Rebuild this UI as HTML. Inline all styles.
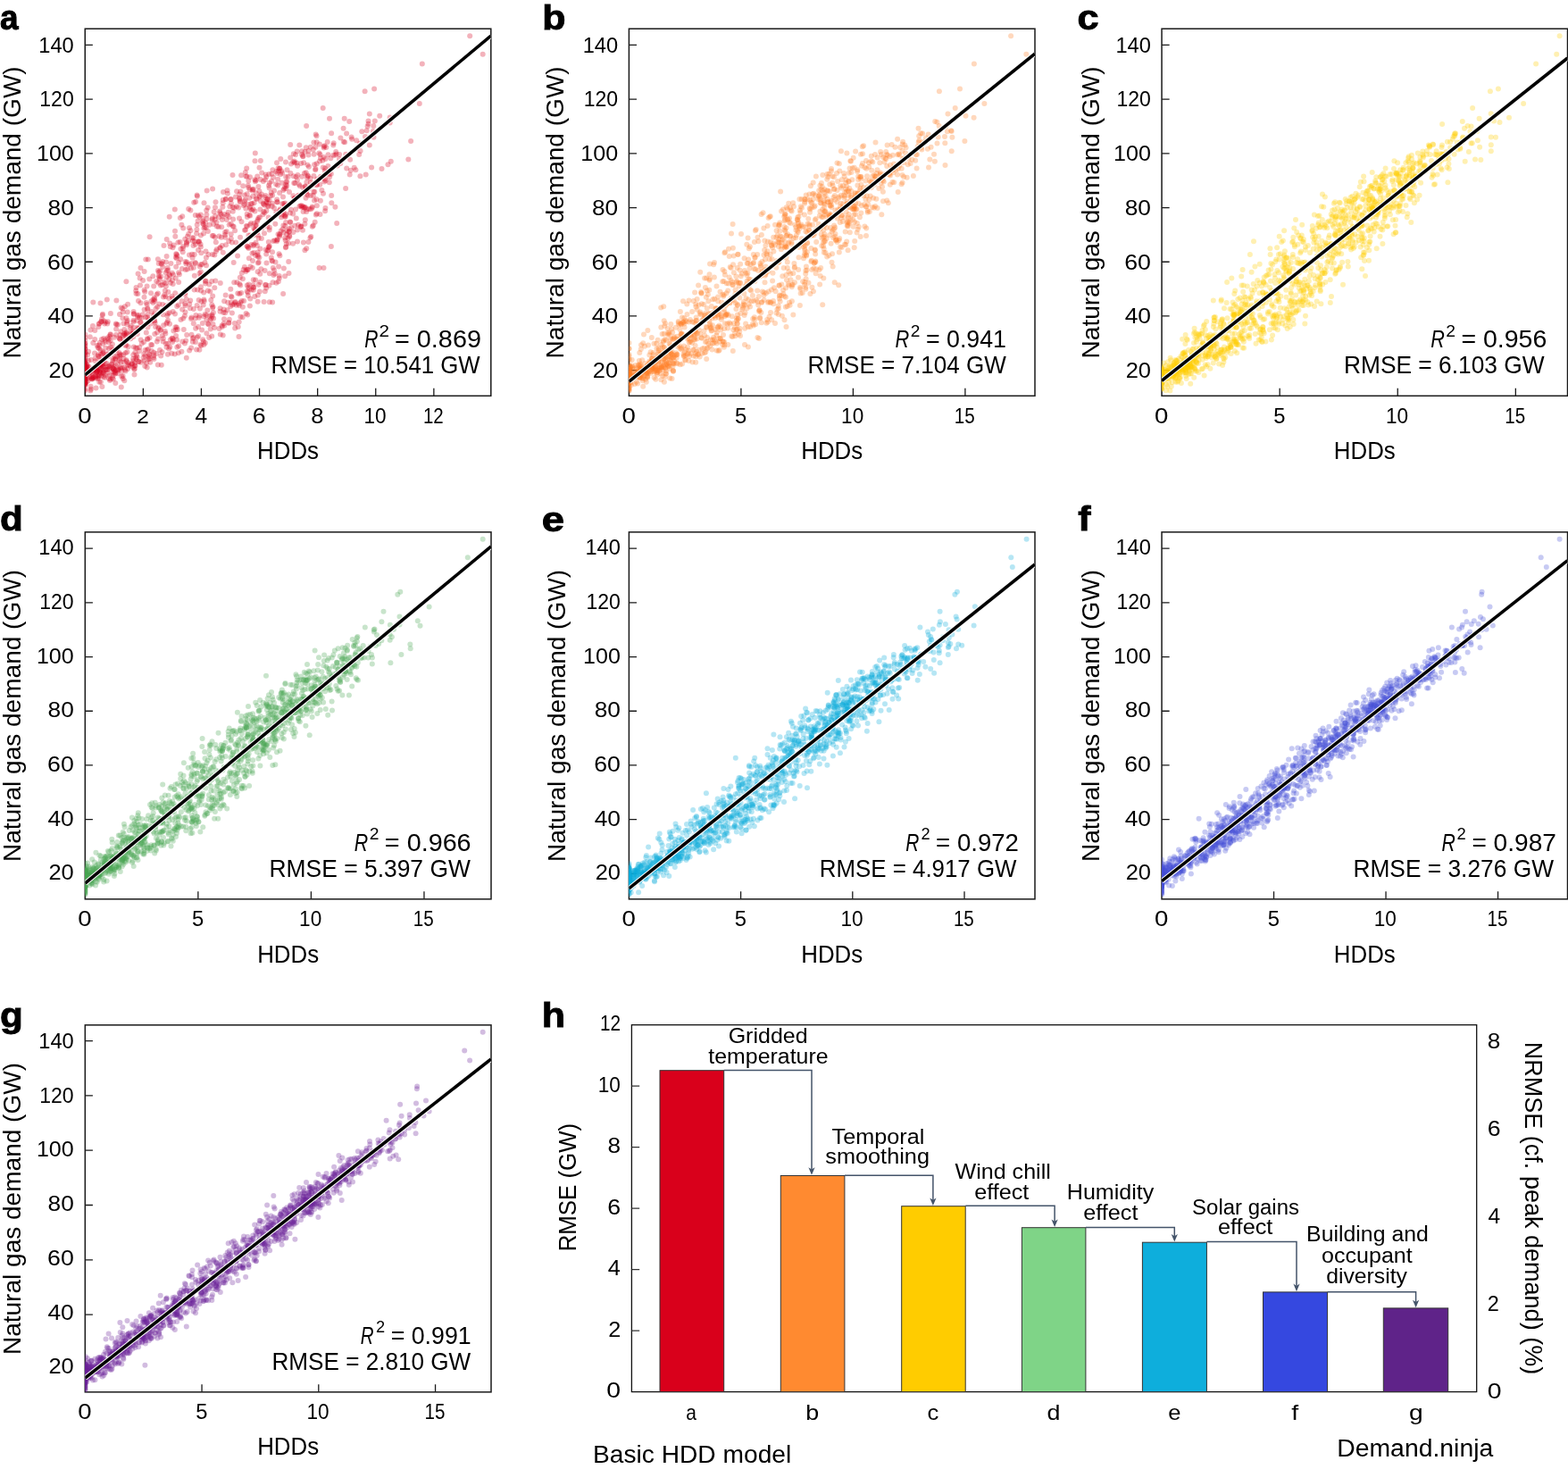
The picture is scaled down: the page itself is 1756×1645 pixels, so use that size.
<!DOCTYPE html>
<html lang="en"><head><meta charset="utf-8"><title>HDD model comparison</title><style>html,body{margin:0;padding:0;background:#fff}svg{display:block}</style></head><body>
<svg width="1756" height="1645" viewBox="0 0 1756 1645" font-family='"Liberation Sans", Arial, Helvetica, sans-serif' fill="#000">
<style>circle{r:3px}</style>
<rect width="1756" height="1645" fill="#fff"/>
<g stroke="#1a1a1a" stroke-width="1.5" fill="none">
<rect x="95.25" y="32.2" width="454.55" height="411.1"/>
<path d="M95.25 414.65h8.6M95.25 353.95h8.6M95.25 293.25h8.6M95.25 232.55h8.6M95.25 171.85h8.6M95.25 111.15h8.6M95.25 50.45h8.6M160.35 443.3v-8.6M225.45 443.3v-8.6M290.55 443.3v-8.6M355.65 443.3v-8.6M420.75 443.3v-8.6M485.85 443.3v-8.6" stroke-width="1.3"/>
</g>
<text transform="translate(54.48 423.02) scale(1.1071 1)" font-size="23">20</text>
<text transform="translate(53.49 362.3) scale(1.1470 1)" font-size="23">40</text>
<text transform="translate(53.11 301.58) scale(1.1622 1)" font-size="23">60</text>
<text transform="translate(53.57 240.86) scale(1.1439 1)" font-size="23">80</text>
<text transform="translate(40.97 180.14) scale(1.0905 1)" font-size="23">100</text>
<text transform="translate(44.32 119.42) scale(1.0010 1)" font-size="23">120</text>
<text transform="translate(43.28 58.7) scale(1.0289 1)" font-size="23">140</text>
<text transform="translate(87.3 473.6) scale(1.1991 1)" font-size="23">0</text>
<text transform="translate(153.28 473.6) scale(1.0607 1)" font-size="23">2</text>
<text transform="translate(218.38 473.6) scale(1.0696 1)" font-size="23">4</text>
<text transform="translate(282.76 473.6) scale(1.1626 1)" font-size="23">6</text>
<text transform="translate(348.2 473.6) scale(1.1101 1)" font-size="23">8</text>
<text transform="translate(407.45 473.6) scale(0.9826 1)" font-size="23">10</text>
<text transform="translate(473.91 473.6) scale(0.8916 1)" font-size="23">12</text>
<text transform="translate(288.05 513.5) scale(0.9481 1)" font-size="27.3">HDDs</text>
<text transform="translate(23.1 401.44) rotate(-90) scale(1.0274 1)" font-size="27.3">Natural gas demand (GW)</text>
<text transform="translate(-0.06 32.8) scale(0.9732 1)" font-size="38" font-weight="700" stroke="#000" stroke-width="0.9">a</text>
<clipPath id="c0"><rect x="95.25" y="32.2" width="454.55" height="411.1"/></clipPath>
<g clip-path="url(#c0)"><g fill="#d7001f" fill-opacity="0.3">
<circle cx="364.6" cy="202.3" r="3"/><circle cx="347.9" cy="204.4" r="3"/><circle cx="330.4" cy="205.0" r="3"/><circle cx="313.1" cy="215.9" r="3"/><circle cx="330.2" cy="222.0" r="3"/><circle cx="300.6" cy="231.2" r="3"/><circle cx="298.5" cy="226.9" r="3"/><circle cx="358.5" cy="172.9" r="3"/><circle cx="315.5" cy="204.7" r="3"/><circle cx="301.6" cy="210.6" r="3"/><circle cx="278.3" cy="210.0" r="3"/><circle cx="328.7" cy="197.2" r="3"/><circle cx="361.3" cy="179.8" r="3"/><circle cx="291.2" cy="219.4" r="3"/><circle cx="341.9" cy="209.3" r="3"/><circle cx="351.4" cy="197.1" r="3"/><circle cx="324.9" cy="238.6" r="3"/><circle cx="319.8" cy="242.2" r="3"/><circle cx="282.4" cy="283.7" r="3"/><circle cx="307.0" cy="302.4" r="3"/><circle cx="298.2" cy="322.5" r="3"/><circle cx="319.1" cy="309.2" r="3"/><circle cx="288.9" cy="330.4" r="3"/><circle cx="306.4" cy="307.9" r="3"/><circle cx="284.2" cy="283.0" r="3"/><circle cx="300.3" cy="280.2" r="3"/><circle cx="240.3" cy="322.2" r="3"/><circle cx="270.8" cy="305.7" r="3"/><circle cx="272.6" cy="302.1" r="3"/><circle cx="283.0" cy="291.9" r="3"/><circle cx="268.2" cy="318.1" r="3"/><circle cx="289.6" cy="318.8" r="3"/><circle cx="270.1" cy="327.9" r="3"/><circle cx="258.8" cy="331.8" r="3"/><circle cx="288.8" cy="287.5" r="3"/><circle cx="273.9" cy="298.9" r="3"/><circle cx="305.0" cy="282.3" r="3"/><circle cx="321.2" cy="262.2" r="3"/><circle cx="323.2" cy="272.6" r="3"/><circle cx="343.2" cy="278.3" r="3"/><circle cx="337.5" cy="253.5" r="3"/><circle cx="339.0" cy="257.8" r="3"/><circle cx="320.2" cy="276.6" r="3"/><circle cx="276.4" cy="275.5" r="3"/><circle cx="313.2" cy="235.4" r="3"/><circle cx="286.2" cy="285.9" r="3"/><circle cx="293.4" cy="255.4" r="3"/><circle cx="294.4" cy="240.2" r="3"/><circle cx="249.8" cy="282.8" r="3"/><circle cx="328.4" cy="219.3" r="3"/><circle cx="320.2" cy="206.7" r="3"/><circle cx="299.3" cy="253.4" r="3"/><circle cx="330.3" cy="252.7" r="3"/><circle cx="354.8" cy="239.3" r="3"/><circle cx="311.5" cy="262.3" r="3"/><circle cx="315.0" cy="243.3" r="3"/><circle cx="287.9" cy="260.3" r="3"/><circle cx="325.3" cy="249.0" r="3"/><circle cx="354.4" cy="223.3" r="3"/><circle cx="352.7" cy="248.8" r="3"/><circle cx="377.2" cy="250.1" r="3"/><circle cx="347.4" cy="266.3" r="3"/><circle cx="299.4" cy="280.5" r="3"/><circle cx="278.9" cy="289.2" r="3"/><circle cx="291.3" cy="306.7" r="3"/><circle cx="268.8" cy="310.8" r="3"/><circle cx="298.5" cy="294.5" r="3"/><circle cx="310.4" cy="268.4" r="3"/><circle cx="277.8" cy="302.1" r="3"/><circle cx="278.1" cy="321.9" r="3"/><circle cx="297.6" cy="318.8" r="3"/><circle cx="252.2" cy="350.2" r="3"/><circle cx="267.3" cy="340.2" r="3"/><circle cx="245.5" cy="367.9" r="3"/><circle cx="283.8" cy="313.3" r="3"/><circle cx="296.6" cy="303.0" r="3"/><circle cx="278.6" cy="318.4" r="3"/><circle cx="297.1" cy="319.2" r="3"/><circle cx="258.1" cy="343.1" r="3"/><circle cx="312.1" cy="298.6" r="3"/><circle cx="307.8" cy="306.6" r="3"/><circle cx="317.1" cy="329.1" r="3"/><circle cx="283.8" cy="324.7" r="3"/><circle cx="277.7" cy="327.6" r="3"/><circle cx="258.9" cy="338.7" r="3"/><circle cx="277.2" cy="352.4" r="3"/><circle cx="248.7" cy="365.9" r="3"/><circle cx="256.1" cy="361.3" r="3"/><circle cx="246.6" cy="345.3" r="3"/><circle cx="301.4" cy="319.8" r="3"/><circle cx="277.8" cy="331.1" r="3"/><circle cx="251.1" cy="337.2" r="3"/><circle cx="280.2" cy="334.4" r="3"/><circle cx="283.9" cy="321.8" r="3"/><circle cx="296.8" cy="326.2" r="3"/><circle cx="301.9" cy="306.3" r="3"/><circle cx="238.5" cy="363.0" r="3"/><circle cx="222.9" cy="355.8" r="3"/><circle cx="194.1" cy="380.5" r="3"/><circle cx="132.0" cy="418.3" r="3"/><circle cx="111.9" cy="408.3" r="3"/><circle cx="135.4" cy="405.5" r="3"/><circle cx="101.3" cy="437.6" r="3"/><circle cx="239.1" cy="356.6" r="3"/><circle cx="198.9" cy="368.9" r="3"/><circle cx="185.9" cy="384.8" r="3"/><circle cx="193.1" cy="382.9" r="3"/><circle cx="197.0" cy="369.3" r="3"/><circle cx="209.2" cy="375.1" r="3"/><circle cx="207.0" cy="384.4" r="3"/><circle cx="238.9" cy="350.0" r="3"/><circle cx="237.6" cy="354.3" r="3"/><circle cx="189.2" cy="390.6" r="3"/><circle cx="200.1" cy="387.6" r="3"/><circle cx="220.8" cy="377.7" r="3"/><circle cx="149.2" cy="404.2" r="3"/><circle cx="135.4" cy="397.4" r="3"/><circle cx="95.2" cy="421.9" r="3"/><circle cx="169.1" cy="386.1" r="3"/><circle cx="156.1" cy="393.0" r="3"/><circle cx="151.9" cy="389.5" r="3"/><circle cx="164.8" cy="391.8" r="3"/><circle cx="172.2" cy="397.9" r="3"/><circle cx="112.2" cy="414.4" r="3"/><circle cx="126.4" cy="416.2" r="3"/><circle cx="155.3" cy="405.0" r="3"/><circle cx="126.6" cy="420.6" r="3"/><circle cx="162.5" cy="398.5" r="3"/><circle cx="136.8" cy="411.7" r="3"/><circle cx="108.0" cy="417.1" r="3"/><circle cx="162.3" cy="410.1" r="3"/><circle cx="115.9" cy="416.9" r="3"/><circle cx="115.3" cy="418.1" r="3"/><circle cx="141.4" cy="403.3" r="3"/><circle cx="99.3" cy="414.2" r="3"/><circle cx="188.0" cy="384.9" r="3"/><circle cx="146.3" cy="379.3" r="3"/><circle cx="126.5" cy="391.6" r="3"/><circle cx="111.1" cy="399.3" r="3"/><circle cx="103.9" cy="414.4" r="3"/><circle cx="162.5" cy="391.9" r="3"/><circle cx="131.0" cy="399.0" r="3"/><circle cx="152.8" cy="402.4" r="3"/><circle cx="95.2" cy="423.5" r="3"/><circle cx="142.8" cy="408.9" r="3"/><circle cx="95.2" cy="420.7" r="3"/><circle cx="115.2" cy="410.5" r="3"/><circle cx="141.7" cy="404.6" r="3"/><circle cx="121.2" cy="396.5" r="3"/><circle cx="138.2" cy="397.2" r="3"/><circle cx="133.7" cy="398.4" r="3"/><circle cx="132.7" cy="413.8" r="3"/><circle cx="95.2" cy="424.3" r="3"/><circle cx="96.7" cy="418.5" r="3"/><circle cx="95.2" cy="407.0" r="3"/><circle cx="95.8" cy="430.1" r="3"/><circle cx="121.9" cy="424.1" r="3"/><circle cx="129.3" cy="428.9" r="3"/><circle cx="103.6" cy="423.2" r="3"/><circle cx="95.2" cy="419.5" r="3"/><circle cx="96.0" cy="415.9" r="3"/><circle cx="118.1" cy="414.0" r="3"/><circle cx="113.2" cy="396.8" r="3"/><circle cx="108.9" cy="415.8" r="3"/><circle cx="115.4" cy="394.0" r="3"/><circle cx="108.8" cy="415.1" r="3"/><circle cx="126.3" cy="412.3" r="3"/><circle cx="112.8" cy="408.0" r="3"/><circle cx="95.2" cy="431.1" r="3"/><circle cx="136.2" cy="421.5" r="3"/><circle cx="140.7" cy="415.5" r="3"/><circle cx="95.2" cy="410.8" r="3"/><circle cx="104.7" cy="422.7" r="3"/><circle cx="110.1" cy="398.7" r="3"/><circle cx="95.2" cy="423.3" r="3"/><circle cx="132.0" cy="413.2" r="3"/><circle cx="109.3" cy="424.0" r="3"/><circle cx="95.2" cy="418.7" r="3"/><circle cx="95.2" cy="417.0" r="3"/><circle cx="96.8" cy="417.7" r="3"/><circle cx="95.2" cy="421.2" r="3"/><circle cx="98.6" cy="426.6" r="3"/><circle cx="122.1" cy="390.2" r="3"/><circle cx="105.4" cy="412.2" r="3"/><circle cx="95.2" cy="413.7" r="3"/><circle cx="113.2" cy="409.2" r="3"/><circle cx="106.2" cy="379.9" r="3"/><circle cx="117.2" cy="362.4" r="3"/><circle cx="120.2" cy="362.4" r="3"/><circle cx="101.5" cy="369.5" r="3"/><circle cx="95.2" cy="406.5" r="3"/><circle cx="134.3" cy="379.4" r="3"/><circle cx="110.3" cy="365.9" r="3"/><circle cx="147.0" cy="371.7" r="3"/><circle cx="140.5" cy="375.6" r="3"/><circle cx="187.3" cy="353.4" r="3"/><circle cx="182.2" cy="341.0" r="3"/><circle cx="184.3" cy="330.3" r="3"/><circle cx="146.7" cy="365.0" r="3"/><circle cx="246.8" cy="316.9" r="3"/><circle cx="165.5" cy="366.6" r="3"/><circle cx="173.3" cy="351.0" r="3"/><circle cx="212.9" cy="345.3" r="3"/><circle cx="183.0" cy="332.6" r="3"/><circle cx="214.4" cy="295.0" r="3"/><circle cx="230.9" cy="288.5" r="3"/><circle cx="185.4" cy="332.3" r="3"/><circle cx="148.8" cy="373.5" r="3"/><circle cx="158.6" cy="355.9" r="3"/><circle cx="125.9" cy="385.6" r="3"/><circle cx="141.1" cy="385.9" r="3"/><circle cx="177.2" cy="366.4" r="3"/><circle cx="112.2" cy="403.1" r="3"/><circle cx="129.4" cy="409.1" r="3"/><circle cx="103.0" cy="417.9" r="3"/><circle cx="126.6" cy="401.8" r="3"/><circle cx="119.4" cy="406.9" r="3"/><circle cx="95.2" cy="403.2" r="3"/><circle cx="95.2" cy="405.9" r="3"/><circle cx="102.3" cy="423.9" r="3"/><circle cx="95.3" cy="428.3" r="3"/><circle cx="95.2" cy="418.7" r="3"/><circle cx="121.6" cy="412.9" r="3"/><circle cx="101.2" cy="416.4" r="3"/><circle cx="95.2" cy="416.8" r="3"/><circle cx="112.6" cy="392.0" r="3"/><circle cx="117.7" cy="419.9" r="3"/><circle cx="106.8" cy="404.2" r="3"/><circle cx="95.2" cy="425.3" r="3"/><circle cx="120.8" cy="417.8" r="3"/><circle cx="98.6" cy="411.2" r="3"/><circle cx="111.2" cy="427.7" r="3"/><circle cx="106.6" cy="401.3" r="3"/><circle cx="113.9" cy="380.1" r="3"/><circle cx="172.2" cy="320.4" r="3"/><circle cx="165.6" cy="352.1" r="3"/><circle cx="196.2" cy="328.2" r="3"/><circle cx="199.9" cy="341.4" r="3"/><circle cx="207.2" cy="340.2" r="3"/><circle cx="146.9" cy="373.7" r="3"/><circle cx="155.3" cy="368.0" r="3"/><circle cx="172.8" cy="358.9" r="3"/><circle cx="208.7" cy="335.1" r="3"/><circle cx="164.6" cy="341.0" r="3"/><circle cx="165.3" cy="346.6" r="3"/><circle cx="190.2" cy="308.3" r="3"/><circle cx="192.9" cy="305.7" r="3"/><circle cx="157.4" cy="361.4" r="3"/><circle cx="142.1" cy="362.9" r="3"/><circle cx="101.9" cy="403.1" r="3"/><circle cx="95.2" cy="409.4" r="3"/><circle cx="95.2" cy="412.2" r="3"/><circle cx="117.9" cy="382.9" r="3"/><circle cx="154.1" cy="355.0" r="3"/><circle cx="130.0" cy="374.9" r="3"/><circle cx="121.8" cy="379.7" r="3"/><circle cx="185.7" cy="342.2" r="3"/><circle cx="221.2" cy="324.5" r="3"/><circle cx="217.8" cy="308.8" r="3"/><circle cx="193.7" cy="317.9" r="3"/><circle cx="223.8" cy="298.4" r="3"/><circle cx="193.5" cy="277.3" r="3"/><circle cx="196.3" cy="264.8" r="3"/><circle cx="204.9" cy="278.3" r="3"/><circle cx="163.3" cy="290.5" r="3"/><circle cx="217.9" cy="270.4" r="3"/><circle cx="219.1" cy="294.9" r="3"/><circle cx="252.1" cy="260.0" r="3"/><circle cx="189.4" cy="307.2" r="3"/><circle cx="217.7" cy="285.0" r="3"/><circle cx="197.7" cy="289.2" r="3"/><circle cx="185.6" cy="305.2" r="3"/><circle cx="219.0" cy="273.8" r="3"/><circle cx="252.9" cy="223.0" r="3"/><circle cx="253.9" cy="246.1" r="3"/><circle cx="249.7" cy="223.9" r="3"/><circle cx="260.7" cy="232.1" r="3"/><circle cx="226.2" cy="296.0" r="3"/><circle cx="224.9" cy="263.4" r="3"/><circle cx="222.0" cy="280.0" r="3"/><circle cx="190.2" cy="272.4" r="3"/><circle cx="165.8" cy="290.6" r="3"/><circle cx="209.2" cy="293.6" r="3"/><circle cx="216.5" cy="274.9" r="3"/><circle cx="246.2" cy="236.4" r="3"/><circle cx="201.8" cy="244.1" r="3"/><circle cx="220.7" cy="251.7" r="3"/><circle cx="288.2" cy="197.4" r="3"/><circle cx="268.2" cy="217.6" r="3"/><circle cx="257.3" cy="231.3" r="3"/><circle cx="241.8" cy="271.2" r="3"/><circle cx="251.4" cy="240.1" r="3"/><circle cx="282.7" cy="213.5" r="3"/><circle cx="301.9" cy="205.0" r="3"/><circle cx="275.4" cy="197.4" r="3"/><circle cx="290.5" cy="187.8" r="3"/><circle cx="296.9" cy="201.3" r="3"/><circle cx="325.4" cy="194.1" r="3"/><circle cx="292.9" cy="217.6" r="3"/><circle cx="299.8" cy="223.2" r="3"/><circle cx="358.0" cy="180.5" r="3"/><circle cx="338.1" cy="169.2" r="3"/><circle cx="311.5" cy="188.3" r="3"/><circle cx="283.3" cy="219.7" r="3"/><circle cx="268.9" cy="226.2" r="3"/><circle cx="328.3" cy="181.5" r="3"/><circle cx="313.1" cy="188.7" r="3"/><circle cx="270.1" cy="196.3" r="3"/><circle cx="280.0" cy="198.2" r="3"/><circle cx="262.3" cy="232.7" r="3"/><circle cx="276.7" cy="239.7" r="3"/><circle cx="283.9" cy="212.0" r="3"/><circle cx="273.9" cy="225.3" r="3"/><circle cx="268.3" cy="222.9" r="3"/><circle cx="294.8" cy="227.7" r="3"/><circle cx="303.7" cy="215.7" r="3"/><circle cx="261.7" cy="253.8" r="3"/><circle cx="240.7" cy="265.7" r="3"/><circle cx="239.0" cy="264.1" r="3"/><circle cx="272.7" cy="229.9" r="3"/><circle cx="237.5" cy="246.1" r="3"/><circle cx="268.2" cy="221.7" r="3"/><circle cx="340.9" cy="194.0" r="3"/><circle cx="335.8" cy="208.2" r="3"/><circle cx="318.2" cy="211.5" r="3"/><circle cx="297.4" cy="219.1" r="3"/><circle cx="310.4" cy="226.3" r="3"/><circle cx="319.2" cy="227.6" r="3"/><circle cx="301.6" cy="223.8" r="3"/><circle cx="351.7" cy="172.8" r="3"/><circle cx="316.1" cy="193.8" r="3"/><circle cx="294.8" cy="202.9" r="3"/><circle cx="273.8" cy="228.8" r="3"/><circle cx="307.0" cy="213.6" r="3"/><circle cx="260.8" cy="236.7" r="3"/><circle cx="224.6" cy="273.6" r="3"/><circle cx="254.5" cy="213.3" r="3"/><circle cx="237.8" cy="244.4" r="3"/><circle cx="279.7" cy="212.2" r="3"/><circle cx="347.8" cy="164.8" r="3"/><circle cx="341.5" cy="169.9" r="3"/><circle cx="376.7" cy="172.5" r="3"/><circle cx="405.3" cy="147.3" r="3"/><circle cx="373.3" cy="162.6" r="3"/><circle cx="320.2" cy="197.9" r="3"/><circle cx="344.5" cy="184.7" r="3"/><circle cx="386.1" cy="159.3" r="3"/><circle cx="376.2" cy="169.9" r="3"/><circle cx="370.3" cy="177.3" r="3"/><circle cx="345.1" cy="197.4" r="3"/><circle cx="340.2" cy="182.3" r="3"/><circle cx="345.5" cy="168.9" r="3"/><circle cx="357.4" cy="171.5" r="3"/><circle cx="342.8" cy="165.2" r="3"/><circle cx="354.6" cy="159.3" r="3"/><circle cx="345.5" cy="173.5" r="3"/><circle cx="364.5" cy="178.0" r="3"/><circle cx="387.2" cy="172.7" r="3"/><circle cx="359.0" cy="177.0" r="3"/><circle cx="388.1" cy="149.6" r="3"/><circle cx="332.9" cy="201.6" r="3"/><circle cx="321.5" cy="190.3" r="3"/><circle cx="279.1" cy="240.9" r="3"/><circle cx="287.9" cy="275.0" r="3"/><circle cx="325.9" cy="234.8" r="3"/><circle cx="341.9" cy="231.9" r="3"/><circle cx="358.9" cy="224.8" r="3"/><circle cx="280.4" cy="263.6" r="3"/><circle cx="284.3" cy="263.2" r="3"/><circle cx="289.6" cy="266.8" r="3"/><circle cx="286.5" cy="252.9" r="3"/><circle cx="352.2" cy="184.2" r="3"/><circle cx="363.8" cy="191.2" r="3"/><circle cx="350.8" cy="219.0" r="3"/><circle cx="350.8" cy="252.6" r="3"/><circle cx="320.1" cy="248.9" r="3"/><circle cx="328.2" cy="239.6" r="3"/><circle cx="286.5" cy="271.8" r="3"/><circle cx="301.9" cy="254.7" r="3"/><circle cx="319.6" cy="269.1" r="3"/><circle cx="348.1" cy="234.3" r="3"/><circle cx="343.4" cy="204.0" r="3"/><circle cx="370.8" cy="194.8" r="3"/><circle cx="334.6" cy="218.8" r="3"/><circle cx="403.4" cy="197.2" r="3"/><circle cx="387.1" cy="211.0" r="3"/><circle cx="347.9" cy="219.0" r="3"/><circle cx="364.1" cy="236.2" r="3"/><circle cx="314.8" cy="258.4" r="3"/><circle cx="303.8" cy="288.5" r="3"/><circle cx="328.4" cy="260.1" r="3"/><circle cx="296.0" cy="261.2" r="3"/><circle cx="317.4" cy="252.4" r="3"/><circle cx="317.7" cy="228.1" r="3"/><circle cx="300.8" cy="271.0" r="3"/><circle cx="291.4" cy="278.6" r="3"/><circle cx="278.0" cy="277.0" r="3"/><circle cx="287.9" cy="247.9" r="3"/><circle cx="292.9" cy="266.9" r="3"/><circle cx="364.4" cy="232.9" r="3"/><circle cx="317.8" cy="237.8" r="3"/><circle cx="310.0" cy="270.2" r="3"/><circle cx="284.5" cy="273.7" r="3"/><circle cx="313.0" cy="264.7" r="3"/><circle cx="323.6" cy="259.6" r="3"/><circle cx="292.4" cy="301.3" r="3"/><circle cx="317.6" cy="260.5" r="3"/><circle cx="304.7" cy="231.0" r="3"/><circle cx="362.0" cy="216.8" r="3"/><circle cx="354.9" cy="230.3" r="3"/><circle cx="323.9" cy="256.2" r="3"/><circle cx="301.3" cy="277.0" r="3"/><circle cx="351.3" cy="214.7" r="3"/><circle cx="342.5" cy="221.8" r="3"/><circle cx="339.2" cy="209.9" r="3"/><circle cx="337.8" cy="230.2" r="3"/><circle cx="343.2" cy="237.1" r="3"/><circle cx="305.1" cy="292.5" r="3"/><circle cx="289.8" cy="293.7" r="3"/><circle cx="333.0" cy="270.5" r="3"/><circle cx="262.2" cy="316.3" r="3"/><circle cx="307.7" cy="269.3" r="3"/><circle cx="324.3" cy="265.0" r="3"/><circle cx="305.8" cy="300.0" r="3"/><circle cx="309.4" cy="316.7" r="3"/><circle cx="323.5" cy="305.9" r="3"/><circle cx="312.8" cy="311.5" r="3"/><circle cx="291.4" cy="316.1" r="3"/><circle cx="266.3" cy="328.4" r="3"/><circle cx="264.6" cy="341.7" r="3"/><circle cx="259.9" cy="350.5" r="3"/><circle cx="216.7" cy="378.1" r="3"/><circle cx="266.7" cy="366.0" r="3"/><circle cx="288.6" cy="337.8" r="3"/><circle cx="226.1" cy="369.5" r="3"/><circle cx="219.4" cy="353.1" r="3"/><circle cx="219.1" cy="367.8" r="3"/><circle cx="229.9" cy="383.9" r="3"/><circle cx="269.4" cy="354.7" r="3"/><circle cx="235.4" cy="358.2" r="3"/><circle cx="235.3" cy="326.4" r="3"/><circle cx="238.1" cy="344.7" r="3"/><circle cx="285.3" cy="331.9" r="3"/><circle cx="267.8" cy="341.9" r="3"/><circle cx="236.7" cy="356.6" r="3"/><circle cx="238.5" cy="343.5" r="3"/><circle cx="252.7" cy="330.5" r="3"/><circle cx="225.0" cy="321.3" r="3"/><circle cx="238.2" cy="331.6" r="3"/><circle cx="168.8" cy="362.5" r="3"/><circle cx="232.3" cy="347.4" r="3"/><circle cx="205.2" cy="356.6" r="3"/><circle cx="222.6" cy="336.0" r="3"/><circle cx="202.5" cy="358.0" r="3"/><circle cx="231.3" cy="358.2" r="3"/><circle cx="190.3" cy="388.5" r="3"/><circle cx="237.2" cy="376.4" r="3"/><circle cx="215.8" cy="382.8" r="3"/><circle cx="113.2" cy="421.3" r="3"/><circle cx="155.5" cy="404.9" r="3"/><circle cx="214.1" cy="389.6" r="3"/><circle cx="187.9" cy="396.8" r="3"/><circle cx="137.7" cy="424.0" r="3"/><circle cx="143.1" cy="412.9" r="3"/><circle cx="164.7" cy="411.4" r="3"/><circle cx="164.0" cy="406.6" r="3"/><circle cx="125.9" cy="423.2" r="3"/><circle cx="150.8" cy="412.8" r="3"/><circle cx="112.9" cy="427.8" r="3"/><circle cx="127.1" cy="413.3" r="3"/><circle cx="157.9" cy="405.7" r="3"/><circle cx="134.8" cy="411.2" r="3"/><circle cx="101.6" cy="432.7" r="3"/><circle cx="123.9" cy="424.8" r="3"/><circle cx="111.5" cy="419.5" r="3"/><circle cx="160.7" cy="400.4" r="3"/><circle cx="220.1" cy="391.5" r="3"/><circle cx="150.9" cy="409.5" r="3"/><circle cx="179.0" cy="391.9" r="3"/><circle cx="212.1" cy="392.6" r="3"/><circle cx="262.0" cy="340.6" r="3"/><circle cx="204.3" cy="382.6" r="3"/><circle cx="95.2" cy="416.6" r="3"/><circle cx="129.4" cy="417.4" r="3"/><circle cx="150.3" cy="413.7" r="3"/><circle cx="128.6" cy="415.5" r="3"/><circle cx="152.1" cy="400.8" r="3"/><circle cx="123.0" cy="411.6" r="3"/><circle cx="143.5" cy="406.3" r="3"/><circle cx="103.0" cy="424.3" r="3"/><circle cx="153.0" cy="397.5" r="3"/><circle cx="113.0" cy="418.0" r="3"/><circle cx="107.2" cy="421.8" r="3"/><circle cx="208.8" cy="400.7" r="3"/><circle cx="131.9" cy="414.8" r="3"/><circle cx="95.2" cy="429.0" r="3"/><circle cx="95.2" cy="422.0" r="3"/><circle cx="97.5" cy="408.4" r="3"/><circle cx="151.3" cy="394.8" r="3"/><circle cx="95.2" cy="435.5" r="3"/><circle cx="145.7" cy="409.8" r="3"/><circle cx="113.2" cy="412.6" r="3"/><circle cx="139.3" cy="426.3" r="3"/><circle cx="95.2" cy="430.7" r="3"/><circle cx="95.2" cy="413.3" r="3"/><circle cx="95.2" cy="414.8" r="3"/><circle cx="95.2" cy="429.8" r="3"/><circle cx="150.5" cy="419.6" r="3"/><circle cx="108.9" cy="414.8" r="3"/><circle cx="147.7" cy="407.4" r="3"/><circle cx="140.0" cy="414.0" r="3"/><circle cx="138.6" cy="401.8" r="3"/><circle cx="173.6" cy="361.6" r="3"/><circle cx="135.3" cy="371.3" r="3"/><circle cx="118.9" cy="399.6" r="3"/><circle cx="140.8" cy="387.2" r="3"/><circle cx="95.2" cy="411.4" r="3"/><circle cx="95.2" cy="426.3" r="3"/><circle cx="111.4" cy="407.2" r="3"/><circle cx="129.1" cy="402.7" r="3"/><circle cx="123.0" cy="425.9" r="3"/><circle cx="122.5" cy="409.6" r="3"/><circle cx="133.5" cy="395.0" r="3"/><circle cx="122.6" cy="420.6" r="3"/><circle cx="95.2" cy="425.0" r="3"/><circle cx="95.2" cy="424.7" r="3"/><circle cx="95.2" cy="415.2" r="3"/><circle cx="111.7" cy="415.8" r="3"/><circle cx="95.2" cy="401.0" r="3"/><circle cx="95.2" cy="417.4" r="3"/><circle cx="114.4" cy="432.9" r="3"/><circle cx="95.2" cy="418.6" r="3"/><circle cx="95.2" cy="420.4" r="3"/><circle cx="95.2" cy="426.3" r="3"/><circle cx="97.6" cy="422.8" r="3"/><circle cx="95.2" cy="410.7" r="3"/><circle cx="116.8" cy="411.6" r="3"/><circle cx="95.2" cy="417.9" r="3"/><circle cx="95.2" cy="418.9" r="3"/><circle cx="95.2" cy="408.4" r="3"/><circle cx="127.4" cy="413.2" r="3"/><circle cx="108.4" cy="416.4" r="3"/><circle cx="97.3" cy="414.5" r="3"/><circle cx="107.8" cy="413.3" r="3"/><circle cx="95.7" cy="412.1" r="3"/><circle cx="95.2" cy="429.5" r="3"/><circle cx="95.2" cy="411.3" r="3"/><circle cx="95.2" cy="408.2" r="3"/><circle cx="95.2" cy="419.3" r="3"/><circle cx="107.2" cy="423.5" r="3"/><circle cx="103.4" cy="424.5" r="3"/><circle cx="95.2" cy="405.3" r="3"/><circle cx="126.3" cy="404.1" r="3"/><circle cx="117.4" cy="406.6" r="3"/><circle cx="95.2" cy="415.4" r="3"/><circle cx="115.1" cy="396.0" r="3"/><circle cx="117.5" cy="399.9" r="3"/><circle cx="115.5" cy="394.9" r="3"/><circle cx="110.8" cy="386.6" r="3"/><circle cx="149.7" cy="370.6" r="3"/><circle cx="138.3" cy="379.5" r="3"/><circle cx="117.3" cy="422.7" r="3"/><circle cx="95.2" cy="395.2" r="3"/><circle cx="129.8" cy="362.4" r="3"/><circle cx="163.2" cy="355.3" r="3"/><circle cx="212.2" cy="340.6" r="3"/><circle cx="134.3" cy="379.7" r="3"/><circle cx="141.3" cy="373.2" r="3"/><circle cx="117.7" cy="380.7" r="3"/><circle cx="106.0" cy="411.7" r="3"/><circle cx="100.3" cy="417.2" r="3"/><circle cx="95.2" cy="428.3" r="3"/><circle cx="114.7" cy="408.9" r="3"/><circle cx="137.6" cy="421.1" r="3"/><circle cx="120.8" cy="410.6" r="3"/><circle cx="95.2" cy="394.2" r="3"/><circle cx="99.1" cy="393.7" r="3"/><circle cx="171.8" cy="353.6" r="3"/><circle cx="229.9" cy="314.8" r="3"/><circle cx="196.6" cy="334.7" r="3"/><circle cx="174.6" cy="345.5" r="3"/><circle cx="141.5" cy="371.9" r="3"/><circle cx="95.2" cy="391.0" r="3"/><circle cx="134.4" cy="375.0" r="3"/><circle cx="149.6" cy="349.1" r="3"/><circle cx="123.9" cy="351.1" r="3"/><circle cx="169.0" cy="328.2" r="3"/><circle cx="134.0" cy="351.9" r="3"/><circle cx="114.7" cy="352.9" r="3"/><circle cx="176.9" cy="328.5" r="3"/><circle cx="188.4" cy="327.1" r="3"/><circle cx="229.4" cy="294.0" r="3"/><circle cx="196.8" cy="311.6" r="3"/><circle cx="152.5" cy="321.9" r="3"/><circle cx="184.9" cy="325.6" r="3"/><circle cx="161.6" cy="346.8" r="3"/><circle cx="95.2" cy="377.9" r="3"/><circle cx="137.7" cy="349.6" r="3"/><circle cx="120.8" cy="360.3" r="3"/><circle cx="135.6" cy="344.4" r="3"/><circle cx="104.3" cy="384.1" r="3"/><circle cx="95.2" cy="384.3" r="3"/><circle cx="95.2" cy="390.4" r="3"/><circle cx="95.2" cy="390.3" r="3"/><circle cx="101.9" cy="435.8" r="3"/><circle cx="107.1" cy="421.3" r="3"/><circle cx="100.8" cy="377.3" r="3"/><circle cx="142.2" cy="360.7" r="3"/><circle cx="139.3" cy="369.0" r="3"/><circle cx="138.4" cy="362.2" r="3"/><circle cx="175.2" cy="314.9" r="3"/><circle cx="110.0" cy="397.2" r="3"/><circle cx="132.0" cy="363.6" r="3"/><circle cx="176.4" cy="343.4" r="3"/><circle cx="217.6" cy="324.5" r="3"/><circle cx="233.5" cy="285.0" r="3"/><circle cx="240.6" cy="246.0" r="3"/><circle cx="222.0" cy="241.3" r="3"/><circle cx="232.9" cy="259.0" r="3"/><circle cx="244.9" cy="243.2" r="3"/><circle cx="212.0" cy="255.2" r="3"/><circle cx="210.0" cy="264.8" r="3"/><circle cx="213.4" cy="235.5" r="3"/><circle cx="231.7" cy="213.5" r="3"/><circle cx="258.3" cy="223.2" r="3"/><circle cx="248.8" cy="245.9" r="3"/><circle cx="241.5" cy="226.2" r="3"/><circle cx="290.6" cy="220.4" r="3"/><circle cx="241.1" cy="241.9" r="3"/><circle cx="278.3" cy="202.4" r="3"/><circle cx="255.7" cy="237.8" r="3"/><circle cx="211.2" cy="234.1" r="3"/><circle cx="220.4" cy="257.1" r="3"/><circle cx="246.3" cy="238.2" r="3"/><circle cx="269.4" cy="214.6" r="3"/><circle cx="239.1" cy="250.9" r="3"/><circle cx="204.7" cy="282.2" r="3"/><circle cx="211.2" cy="262.0" r="3"/><circle cx="246.7" cy="277.8" r="3"/><circle cx="189.3" cy="312.8" r="3"/><circle cx="194.6" cy="274.6" r="3"/><circle cx="196.0" cy="258.7" r="3"/><circle cx="203.4" cy="251.7" r="3"/><circle cx="242.5" cy="248.9" r="3"/><circle cx="231.3" cy="240.5" r="3"/><circle cx="249.4" cy="231.8" r="3"/><circle cx="289.4" cy="208.9" r="3"/><circle cx="249.4" cy="242.5" r="3"/><circle cx="216.6" cy="266.6" r="3"/><circle cx="244.7" cy="254.1" r="3"/><circle cx="252.0" cy="263.0" r="3"/><circle cx="247.5" cy="240.1" r="3"/><circle cx="231.2" cy="235.5" r="3"/><circle cx="234.6" cy="251.8" r="3"/><circle cx="228.4" cy="255.8" r="3"/><circle cx="230.7" cy="254.9" r="3"/><circle cx="218.8" cy="241.1" r="3"/><circle cx="224.9" cy="240.4" r="3"/><circle cx="256.6" cy="251.6" r="3"/><circle cx="287.6" cy="223.0" r="3"/><circle cx="335.3" cy="162.6" r="3"/><circle cx="285.8" cy="171.4" r="3"/><circle cx="325.2" cy="162.0" r="3"/><circle cx="371.1" cy="149.2" r="3"/><circle cx="354.5" cy="152.2" r="3"/><circle cx="314.3" cy="178.0" r="3"/><circle cx="291.7" cy="201.0" r="3"/><circle cx="315.2" cy="191.5" r="3"/><circle cx="274.0" cy="218.6" r="3"/><circle cx="260.7" cy="253.2" r="3"/><circle cx="246.3" cy="277.2" r="3"/><circle cx="227.3" cy="245.0" r="3"/><circle cx="221.7" cy="270.6" r="3"/><circle cx="221.6" cy="247.5" r="3"/><circle cx="227.7" cy="251.1" r="3"/><circle cx="252.9" cy="223.1" r="3"/><circle cx="258.6" cy="223.1" r="3"/><circle cx="238.1" cy="211.4" r="3"/><circle cx="223.1" cy="242.7" r="3"/><circle cx="231.5" cy="244.9" r="3"/><circle cx="228.0" cy="261.6" r="3"/><circle cx="274.7" cy="223.7" r="3"/><circle cx="265.1" cy="214.2" r="3"/><circle cx="261.1" cy="245.6" r="3"/><circle cx="295.3" cy="236.9" r="3"/><circle cx="282.0" cy="235.4" r="3"/><circle cx="290.4" cy="213.9" r="3"/><circle cx="281.0" cy="249.9" r="3"/><circle cx="263.1" cy="258.2" r="3"/><circle cx="258.7" cy="262.2" r="3"/><circle cx="353.2" cy="190.2" r="3"/><circle cx="402.2" cy="172.9" r="3"/><circle cx="373.4" cy="173.8" r="3"/><circle cx="345.9" cy="186.7" r="3"/><circle cx="394.1" cy="155.8" r="3"/><circle cx="339.4" cy="175.3" r="3"/><circle cx="366.7" cy="159.0" r="3"/><circle cx="353.4" cy="164.8" r="3"/><circle cx="353.7" cy="150.6" r="3"/><circle cx="325.2" cy="176.4" r="3"/><circle cx="377.8" cy="185.4" r="3"/><circle cx="392.1" cy="178.8" r="3"/><circle cx="392.9" cy="190.7" r="3"/><circle cx="361.8" cy="187.6" r="3"/><circle cx="375.3" cy="173.7" r="3"/><circle cx="333.1" cy="185.7" r="3"/><circle cx="299.9" cy="230.5" r="3"/><circle cx="310.6" cy="226.3" r="3"/><circle cx="313.8" cy="234.2" r="3"/><circle cx="318.5" cy="241.3" r="3"/><circle cx="276.9" cy="243.0" r="3"/><circle cx="341.3" cy="232.4" r="3"/><circle cx="266.1" cy="286.6" r="3"/><circle cx="270.5" cy="248.2" r="3"/><circle cx="290.8" cy="243.3" r="3"/><circle cx="320.3" cy="210.9" r="3"/><circle cx="350.8" cy="167.6" r="3"/><circle cx="373.7" cy="160.2" r="3"/><circle cx="344.7" cy="218.7" r="3"/><circle cx="336.6" cy="230.5" r="3"/><circle cx="284.4" cy="255.7" r="3"/><circle cx="308.3" cy="250.7" r="3"/><circle cx="300.8" cy="227.8" r="3"/><circle cx="278.4" cy="277.9" r="3"/><circle cx="284.7" cy="250.1" r="3"/><circle cx="283.4" cy="275.3" r="3"/><circle cx="320.0" cy="239.9" r="3"/><circle cx="319.1" cy="242.7" r="3"/><circle cx="353.8" cy="240.4" r="3"/><circle cx="331.0" cy="234.6" r="3"/><circle cx="358.5" cy="240.0" r="3"/><circle cx="346.1" cy="234.1" r="3"/><circle cx="341.4" cy="250.8" r="3"/><circle cx="313.3" cy="262.0" r="3"/><circle cx="344.5" cy="196.6" r="3"/><circle cx="399.1" cy="157.2" r="3"/><circle cx="417.8" cy="146.9" r="3"/><circle cx="418.3" cy="141.0" r="3"/><circle cx="380.1" cy="172.9" r="3"/><circle cx="393.6" cy="153.5" r="3"/><circle cx="409.0" cy="153.1" r="3"/><circle cx="342.7" cy="193.2" r="3"/><circle cx="368.6" cy="194.9" r="3"/><circle cx="363.9" cy="200.4" r="3"/><circle cx="299.2" cy="222.9" r="3"/><circle cx="310.1" cy="223.4" r="3"/><circle cx="288.7" cy="246.1" r="3"/><circle cx="285.6" cy="256.7" r="3"/><circle cx="343.9" cy="198.7" r="3"/><circle cx="309.2" cy="206.2" r="3"/><circle cx="298.4" cy="235.9" r="3"/><circle cx="368.8" cy="204.2" r="3"/><circle cx="388.2" cy="188.4" r="3"/><circle cx="335.4" cy="230.9" r="3"/><circle cx="339.6" cy="237.1" r="3"/><circle cx="349.6" cy="232.7" r="3"/><circle cx="330.3" cy="222.8" r="3"/><circle cx="318.9" cy="230.1" r="3"/><circle cx="331.6" cy="198.0" r="3"/><circle cx="324.0" cy="214.9" r="3"/><circle cx="339.4" cy="231.2" r="3"/><circle cx="331.8" cy="244.5" r="3"/><circle cx="352.0" cy="224.6" r="3"/><circle cx="322.5" cy="267.0" r="3"/><circle cx="297.5" cy="279.5" r="3"/><circle cx="323.2" cy="293.1" r="3"/><circle cx="328.1" cy="272.7" r="3"/><circle cx="315.5" cy="240.5" r="3"/><circle cx="349.7" cy="231.5" r="3"/><circle cx="301.8" cy="275.4" r="3"/><circle cx="316.6" cy="256.5" r="3"/><circle cx="349.8" cy="253.7" r="3"/><circle cx="348.3" cy="265.0" r="3"/><circle cx="313.2" cy="263.3" r="3"/><circle cx="308.5" cy="293.4" r="3"/><circle cx="270.7" cy="337.0" r="3"/><circle cx="281.7" cy="324.5" r="3"/><circle cx="262.8" cy="361.9" r="3"/><circle cx="250.7" cy="346.5" r="3"/><circle cx="258.3" cy="323.8" r="3"/><circle cx="265.4" cy="316.2" r="3"/><circle cx="306.0" cy="270.1" r="3"/><circle cx="319.9" cy="277.2" r="3"/><circle cx="312.7" cy="309.1" r="3"/><circle cx="263.2" cy="339.0" r="3"/><circle cx="301.8" cy="338.2" r="3"/><circle cx="240.1" cy="367.1" r="3"/><circle cx="254.6" cy="347.2" r="3"/><circle cx="246.5" cy="348.7" r="3"/><circle cx="198.3" cy="388.7" r="3"/><circle cx="256.4" cy="361.7" r="3"/><circle cx="267.7" cy="360.4" r="3"/><circle cx="279.9" cy="342.6" r="3"/><circle cx="284.1" cy="321.7" r="3"/><circle cx="275.6" cy="302.3" r="3"/><circle cx="271.9" cy="312.3" r="3"/><circle cx="288.7" cy="282.4" r="3"/><circle cx="304.4" cy="291.8" r="3"/><circle cx="290.4" cy="288.3" r="3"/><circle cx="288.7" cy="285.5" r="3"/><circle cx="225.4" cy="337.6" r="3"/><circle cx="220.6" cy="341.9" r="3"/><circle cx="237.3" cy="341.2" r="3"/><circle cx="269.3" cy="338.8" r="3"/><circle cx="197.1" cy="375.9" r="3"/><circle cx="279.2" cy="323.5" r="3"/><circle cx="268.3" cy="329.1" r="3"/><circle cx="229.6" cy="352.1" r="3"/><circle cx="167.1" cy="397.3" r="3"/><circle cx="195.7" cy="396.4" r="3"/><circle cx="224.4" cy="386.0" r="3"/><circle cx="180.2" cy="398.6" r="3"/><circle cx="186.5" cy="388.7" r="3"/><circle cx="121.0" cy="399.2" r="3"/><circle cx="205.8" cy="369.0" r="3"/><circle cx="227.9" cy="382.6" r="3"/><circle cx="249.7" cy="375.5" r="3"/><circle cx="263.2" cy="367.4" r="3"/><circle cx="317.9" cy="300.6" r="3"/><circle cx="273.1" cy="337.1" r="3"/><circle cx="250.2" cy="350.0" r="3"/><circle cx="222.2" cy="376.2" r="3"/><circle cx="256.8" cy="357.7" r="3"/><circle cx="215.9" cy="378.9" r="3"/><circle cx="203.4" cy="393.7" r="3"/><circle cx="175.2" cy="396.1" r="3"/><circle cx="172.5" cy="402.0" r="3"/><circle cx="147.7" cy="407.6" r="3"/><circle cx="99.1" cy="418.6" r="3"/><circle cx="95.2" cy="419.0" r="3"/><circle cx="97.0" cy="410.6" r="3"/><circle cx="166.4" cy="402.1" r="3"/><circle cx="110.9" cy="412.5" r="3"/><circle cx="95.2" cy="428.7" r="3"/><circle cx="109.6" cy="421.1" r="3"/><circle cx="126.9" cy="424.6" r="3"/><circle cx="127.6" cy="417.4" r="3"/><circle cx="131.9" cy="407.6" r="3"/><circle cx="167.4" cy="402.0" r="3"/><circle cx="129.0" cy="418.5" r="3"/><circle cx="95.2" cy="422.8" r="3"/><circle cx="107.9" cy="411.4" r="3"/><circle cx="95.2" cy="421.0" r="3"/><circle cx="110.3" cy="413.4" r="3"/><circle cx="192.3" cy="395.8" r="3"/><circle cx="166.2" cy="390.8" r="3"/><circle cx="177.9" cy="367.8" r="3"/><circle cx="175.8" cy="382.4" r="3"/><circle cx="233.6" cy="363.3" r="3"/><circle cx="170.2" cy="386.3" r="3"/><circle cx="169.9" cy="393.0" r="3"/><circle cx="255.2" cy="338.7" r="3"/><circle cx="269.2" cy="319.6" r="3"/><circle cx="231.2" cy="353.0" r="3"/><circle cx="251.0" cy="357.3" r="3"/><circle cx="251.3" cy="364.4" r="3"/><circle cx="260.1" cy="341.5" r="3"/><circle cx="222.0" cy="366.0" r="3"/><circle cx="168.2" cy="405.8" r="3"/><circle cx="120.2" cy="414.2" r="3"/><circle cx="97.2" cy="408.9" r="3"/><circle cx="121.4" cy="410.6" r="3"/><circle cx="157.7" cy="380.4" r="3"/><circle cx="226.8" cy="362.1" r="3"/><circle cx="216.8" cy="362.3" r="3"/><circle cx="161.3" cy="396.2" r="3"/><circle cx="196.5" cy="366.3" r="3"/><circle cx="232.9" cy="325.4" r="3"/><circle cx="225.0" cy="325.4" r="3"/><circle cx="190.0" cy="340.5" r="3"/><circle cx="192.6" cy="331.7" r="3"/><circle cx="230.6" cy="314.8" r="3"/><circle cx="182.7" cy="352.3" r="3"/><circle cx="180.0" cy="369.3" r="3"/><circle cx="173.3" cy="374.1" r="3"/><circle cx="183.2" cy="364.3" r="3"/><circle cx="176.0" cy="372.3" r="3"/><circle cx="184.9" cy="371.1" r="3"/><circle cx="156.2" cy="389.1" r="3"/><circle cx="142.4" cy="394.2" r="3"/><circle cx="161.4" cy="403.9" r="3"/><circle cx="110.6" cy="421.2" r="3"/><circle cx="136.2" cy="415.4" r="3"/><circle cx="149.8" cy="388.4" r="3"/><circle cx="95.2" cy="410.5" r="3"/><circle cx="144.2" cy="408.5" r="3"/><circle cx="134.1" cy="396.8" r="3"/><circle cx="104.2" cy="416.9" r="3"/><circle cx="104.1" cy="422.5" r="3"/><circle cx="95.2" cy="437.3" r="3"/><circle cx="126.5" cy="412.7" r="3"/><circle cx="223.5" cy="353.6" r="3"/><circle cx="224.6" cy="309.3" r="3"/><circle cx="193.5" cy="333.9" r="3"/><circle cx="207.4" cy="329.8" r="3"/><circle cx="198.2" cy="343.0" r="3"/><circle cx="193.7" cy="348.9" r="3"/><circle cx="230.0" cy="317.5" r="3"/><circle cx="177.1" cy="379.4" r="3"/><circle cx="218.7" cy="356.4" r="3"/><circle cx="163.8" cy="372.6" r="3"/><circle cx="228.2" cy="327.4" r="3"/><circle cx="203.6" cy="337.2" r="3"/><circle cx="154.4" cy="366.8" r="3"/><circle cx="133.5" cy="378.4" r="3"/><circle cx="166.9" cy="357.7" r="3"/><circle cx="149.8" cy="366.8" r="3"/><circle cx="173.2" cy="359.4" r="3"/><circle cx="165.0" cy="379.3" r="3"/><circle cx="114.8" cy="405.4" r="3"/><circle cx="99.0" cy="403.8" r="3"/><circle cx="116.1" cy="378.9" r="3"/><circle cx="123.7" cy="381.4" r="3"/><circle cx="158.7" cy="384.8" r="3"/><circle cx="187.1" cy="361.1" r="3"/><circle cx="165.4" cy="380.0" r="3"/><circle cx="124.0" cy="388.7" r="3"/><circle cx="128.9" cy="401.7" r="3"/><circle cx="145.6" cy="367.0" r="3"/><circle cx="109.1" cy="409.2" r="3"/><circle cx="121.7" cy="383.2" r="3"/><circle cx="115.2" cy="385.0" r="3"/><circle cx="97.2" cy="415.1" r="3"/><circle cx="149.1" cy="374.1" r="3"/><circle cx="120.4" cy="378.4" r="3"/><circle cx="111.8" cy="417.2" r="3"/><circle cx="103.1" cy="413.2" r="3"/><circle cx="143.7" cy="388.3" r="3"/><circle cx="157.6" cy="361.0" r="3"/><circle cx="149.3" cy="377.3" r="3"/><circle cx="137.4" cy="356.3" r="3"/><circle cx="169.9" cy="348.9" r="3"/><circle cx="103.9" cy="364.9" r="3"/><circle cx="110.7" cy="362.8" r="3"/><circle cx="113.1" cy="360.6" r="3"/><circle cx="95.2" cy="381.1" r="3"/><circle cx="95.2" cy="386.3" r="3"/><circle cx="122.5" cy="376.7" r="3"/><circle cx="147.5" cy="376.1" r="3"/><circle cx="109.7" cy="389.2" r="3"/><circle cx="95.2" cy="398.5" r="3"/><circle cx="142.7" cy="359.0" r="3"/><circle cx="155.2" cy="353.0" r="3"/><circle cx="173.4" cy="337.2" r="3"/><circle cx="185.4" cy="317.3" r="3"/><circle cx="179.2" cy="303.6" r="3"/><circle cx="227.2" cy="247.8" r="3"/><circle cx="186.9" cy="303.0" r="3"/><circle cx="176.9" cy="290.2" r="3"/><circle cx="177.9" cy="308.7" r="3"/><circle cx="182.2" cy="293.0" r="3"/><circle cx="227.1" cy="250.0" r="3"/><circle cx="179.9" cy="319.4" r="3"/><circle cx="172.8" cy="333.4" r="3"/><circle cx="154.4" cy="328.9" r="3"/><circle cx="177.4" cy="316.8" r="3"/><circle cx="209.8" cy="301.4" r="3"/><circle cx="194.0" cy="307.8" r="3"/><circle cx="200.9" cy="307.3" r="3"/><circle cx="180.4" cy="294.8" r="3"/><circle cx="167.3" cy="312.6" r="3"/><circle cx="198.5" cy="286.6" r="3"/><circle cx="178.3" cy="340.4" r="3"/><circle cx="193.0" cy="313.8" r="3"/><circle cx="165.3" cy="345.3" r="3"/><circle cx="185.9" cy="320.4" r="3"/><circle cx="181.7" cy="319.1" r="3"/><circle cx="104.3" cy="338.6" r="3"/><circle cx="157.0" cy="319.6" r="3"/><circle cx="143.1" cy="340.7" r="3"/><circle cx="111.4" cy="362.3" r="3"/><circle cx="95.2" cy="384.8" r="3"/><circle cx="106.3" cy="369.9" r="3"/><circle cx="139.9" cy="343.3" r="3"/><circle cx="178.3" cy="310.5" r="3"/><circle cx="141.4" cy="315.3" r="3"/><circle cx="181.0" cy="295.7" r="3"/><circle cx="186.6" cy="286.9" r="3"/><circle cx="197.2" cy="298.8" r="3"/><circle cx="199.4" cy="271.4" r="3"/><circle cx="230.0" cy="249.6" r="3"/><circle cx="183.5" cy="274.9" r="3"/><circle cx="207.2" cy="267.8" r="3"/><circle cx="208.9" cy="271.3" r="3"/><circle cx="209.0" cy="274.2" r="3"/><circle cx="197.2" cy="284.3" r="3"/><circle cx="229.3" cy="254.6" r="3"/><circle cx="238.1" cy="285.0" r="3"/><circle cx="274.0" cy="257.8" r="3"/><circle cx="242.0" cy="281.3" r="3"/><circle cx="215.9" cy="269.5" r="3"/><circle cx="205.2" cy="255.4" r="3"/><circle cx="190.8" cy="276.3" r="3"/><circle cx="217.2" cy="226.8" r="3"/><circle cx="228.5" cy="227.2" r="3"/><circle cx="274.8" cy="193.0" r="3"/><circle cx="285.5" cy="180.3" r="3"/><circle cx="220.9" cy="219.7" r="3"/><circle cx="195.8" cy="234.6" r="3"/><circle cx="220.6" cy="218.6" r="3"/><circle cx="249.7" cy="227.3" r="3"/><circle cx="258.9" cy="227.7" r="3"/><circle cx="275.8" cy="253.1" r="3"/><circle cx="215.6" cy="288.7" r="3"/><circle cx="215.0" cy="284.8" r="3"/><circle cx="161.6" cy="324.7" r="3"/><circle cx="161.6" cy="303.9" r="3"/><circle cx="182.2" cy="298.9" r="3"/><circle cx="171.3" cy="309.2" r="3"/><circle cx="187.7" cy="299.9" r="3"/><circle cx="230.5" cy="281.4" r="3"/><circle cx="203.9" cy="300.9" r="3"/><circle cx="173.2" cy="335.2" r="3"/><circle cx="175.5" cy="329.8" r="3"/><circle cx="118.1" cy="360.6" r="3"/><circle cx="149.6" cy="358.7" r="3"/><circle cx="231.0" cy="297.3" r="3"/><circle cx="200.1" cy="305.2" r="3"/><circle cx="201.6" cy="271.1" r="3"/><circle cx="186.0" cy="293.4" r="3"/><circle cx="205.0" cy="276.0" r="3"/><circle cx="210.8" cy="269.8" r="3"/><circle cx="215.3" cy="266.3" r="3"/><circle cx="239.7" cy="237.3" r="3"/><circle cx="285.4" cy="201.2" r="3"/><circle cx="250.0" cy="214.9" r="3"/><circle cx="293.2" cy="193.6" r="3"/><circle cx="281.1" cy="228.2" r="3"/><circle cx="279.2" cy="221.8" r="3"/><circle cx="287.0" cy="222.3" r="3"/><circle cx="311.1" cy="207.4" r="3"/><circle cx="309.3" cy="192.0" r="3"/><circle cx="365.3" cy="165.1" r="3"/><circle cx="291.4" cy="234.5" r="3"/><circle cx="298.0" cy="225.8" r="3"/><circle cx="319.2" cy="209.2" r="3"/><circle cx="320.4" cy="203.7" r="3"/><circle cx="280.2" cy="241.5" r="3"/><circle cx="286.6" cy="251.7" r="3"/><circle cx="288.9" cy="263.5" r="3"/><circle cx="242.9" cy="253.5" r="3"/><circle cx="305.4" cy="190.2" r="3"/><circle cx="329.6" cy="180.4" r="3"/><circle cx="298.3" cy="198.0" r="3"/><circle cx="282.9" cy="212.0" r="3"/><circle cx="256.5" cy="242.9" r="3"/><circle cx="314.1" cy="195.3" r="3"/><circle cx="284.6" cy="227.3" r="3"/><circle cx="296.8" cy="220.9" r="3"/><circle cx="277.9" cy="207.8" r="3"/><circle cx="312.1" cy="191.5" r="3"/><circle cx="304.4" cy="194.8" r="3"/><circle cx="268.6" cy="225.1" r="3"/><circle cx="278.4" cy="263.4" r="3"/><circle cx="253.7" cy="259.3" r="3"/><circle cx="223.5" cy="305.9" r="3"/><circle cx="277.1" cy="276.0" r="3"/><circle cx="258.7" cy="250.8" r="3"/><circle cx="254.5" cy="240.7" r="3"/><circle cx="313.3" cy="188.8" r="3"/><circle cx="381.4" cy="154.6" r="3"/><circle cx="338.1" cy="197.7" r="3"/><circle cx="367.5" cy="173.2" r="3"/><circle cx="411.6" cy="141.6" r="3"/><circle cx="362.8" cy="164.1" r="3"/><circle cx="330.1" cy="182.3" r="3"/><circle cx="331.0" cy="173.2" r="3"/><circle cx="286.9" cy="216.5" r="3"/><circle cx="362.7" cy="165.4" r="3"/><circle cx="305.1" cy="218.8" r="3"/><circle cx="289.5" cy="243.9" r="3"/><circle cx="305.1" cy="227.8" r="3"/><circle cx="296.3" cy="229.7" r="3"/><circle cx="321.3" cy="203.6" r="3"/><circle cx="333.4" cy="196.1" r="3"/><circle cx="286.5" cy="202.1" r="3"/><circle cx="326.0" cy="183.4" r="3"/><circle cx="282.4" cy="228.0" r="3"/><circle cx="295.2" cy="228.8" r="3"/><circle cx="279.9" cy="232.1" r="3"/><circle cx="277.8" cy="229.1" r="3"/><circle cx="292.0" cy="225.3" r="3"/><circle cx="275.3" cy="233.4" r="3"/><circle cx="268.0" cy="244.5" r="3"/><circle cx="316.2" cy="228.3" r="3"/><circle cx="358.3" cy="206.8" r="3"/><circle cx="340.4" cy="232.6" r="3"/><circle cx="381.3" cy="183.0" r="3"/><circle cx="398.4" cy="190.3" r="3"/><circle cx="396.7" cy="187.8" r="3"/><circle cx="398.6" cy="166.7" r="3"/><circle cx="380.0" cy="177.9" r="3"/><circle cx="355.2" cy="200.5" r="3"/><circle cx="352.3" cy="214.8" r="3"/><circle cx="391.7" cy="195.5" r="3"/><circle cx="360.4" cy="213.1" r="3"/><circle cx="345.9" cy="211.1" r="3"/><circle cx="319.4" cy="253.0" r="3"/><circle cx="321.4" cy="258.2" r="3"/><circle cx="301.7" cy="257.6" r="3"/><circle cx="269.0" cy="265.7" r="3"/><circle cx="280.4" cy="234.3" r="3"/><circle cx="300.7" cy="243.5" r="3"/><circle cx="355.1" cy="206.8" r="3"/><circle cx="363.2" cy="203.6" r="3"/><circle cx="354.3" cy="207.3" r="3"/><circle cx="342.4" cy="213.4" r="3"/><circle cx="371.2" cy="218.9" r="3"/><circle cx="343.2" cy="214.4" r="3"/><circle cx="309.3" cy="237.6" r="3"/><circle cx="343.5" cy="217.0" r="3"/><circle cx="333.9" cy="219.2" r="3"/><circle cx="338.1" cy="232.0" r="3"/><circle cx="324.8" cy="248.4" r="3"/><circle cx="281.6" cy="274.1" r="3"/><circle cx="326.1" cy="255.1" r="3"/><circle cx="320.7" cy="273.1" r="3"/><circle cx="341.8" cy="246.2" r="3"/><circle cx="333.0" cy="257.5" r="3"/><circle cx="286.1" cy="313.4" r="3"/><circle cx="276.6" cy="326.3" r="3"/><circle cx="214.0" cy="356.9" r="3"/><circle cx="276.8" cy="319.6" r="3"/><circle cx="277.1" cy="302.0" r="3"/><circle cx="310.6" cy="268.6" r="3"/><circle cx="288.9" cy="294.6" r="3"/><circle cx="288.6" cy="304.3" r="3"/><circle cx="319.2" cy="266.4" r="3"/><circle cx="336.4" cy="254.1" r="3"/><circle cx="337.0" cy="253.5" r="3"/><circle cx="371.3" cy="227.2" r="3"/><circle cx="416.1" cy="187.4" r="3"/><circle cx="457.3" cy="178.4" r="3"/><circle cx="437.8" cy="180.8" r="3"/><circle cx="427.5" cy="189.1" r="3"/><circle cx="409.7" cy="195.5" r="3"/><circle cx="375.4" cy="231.8" r="3"/><circle cx="323.8" cy="259.5" r="3"/><circle cx="324.1" cy="263.9" r="3"/><circle cx="312.5" cy="284.3" r="3"/><circle cx="280.5" cy="298.5" r="3"/><circle cx="313.4" cy="286.3" r="3"/><circle cx="343.8" cy="234.3" r="3"/><circle cx="339.9" cy="271.6" r="3"/><circle cx="345.4" cy="271.0" r="3"/><circle cx="341.4" cy="280.3" r="3"/><circle cx="300.9" cy="276.4" r="3"/><circle cx="334.0" cy="251.8" r="3"/><circle cx="298.2" cy="284.5" r="3"/><circle cx="282.8" cy="300.0" r="3"/><circle cx="236.3" cy="335.9" r="3"/><circle cx="237.3" cy="352.4" r="3"/><circle cx="290.8" cy="326.6" r="3"/><circle cx="295.6" cy="338.0" r="3"/><circle cx="232.9" cy="362.6" r="3"/><circle cx="234.9" cy="353.8" r="3"/><circle cx="223.9" cy="345.6" r="3"/><circle cx="234.3" cy="318.5" r="3"/><circle cx="227.7" cy="341.5" r="3"/><circle cx="228.4" cy="354.2" r="3"/><circle cx="190.8" cy="380.5" r="3"/><circle cx="139.2" cy="411.8" r="3"/><circle cx="250.6" cy="362.3" r="3"/><circle cx="218.9" cy="383.0" r="3"/><circle cx="181.5" cy="394.2" r="3"/><circle cx="246.8" cy="374.4" r="3"/><circle cx="267.5" cy="377.1" r="3"/><circle cx="234.1" cy="378.1" r="3"/><circle cx="208.2" cy="381.4" r="3"/><circle cx="235.7" cy="368.5" r="3"/><circle cx="227.1" cy="380.2" r="3"/><circle cx="106.9" cy="418.5" r="3"/><circle cx="223.4" cy="391.8" r="3"/><circle cx="176.8" cy="408.4" r="3"/><circle cx="180.8" cy="408.8" r="3"/><circle cx="172.2" cy="394.7" r="3"/><circle cx="185.3" cy="373.4" r="3"/><circle cx="214.5" cy="355.4" r="3"/><circle cx="206.9" cy="353.8" r="3"/><circle cx="263.5" cy="338.1" r="3"/><circle cx="305.5" cy="316.2" r="3"/><circle cx="357.6" cy="299.9" r="3"/><circle cx="370.9" cy="276.1" r="3"/><circle cx="362.5" cy="299.9" r="3"/><circle cx="311.8" cy="315.3" r="3"/><circle cx="283.4" cy="318.9" r="3"/><circle cx="275.6" cy="351.1" r="3"/><circle cx="305.1" cy="338.6" r="3"/><circle cx="231.4" cy="373.2" r="3"/><circle cx="193.4" cy="379.0" r="3"/><circle cx="149.0" cy="411.3" r="3"/><circle cx="134.2" cy="401.4" r="3"/><circle cx="151.4" cy="409.4" r="3"/><circle cx="149.2" cy="401.7" r="3"/><circle cx="190.0" cy="362.8" r="3"/><circle cx="182.9" cy="379.0" r="3"/><circle cx="182.7" cy="382.6" r="3"/><circle cx="167.2" cy="396.6" r="3"/><circle cx="225.3" cy="387.1" r="3"/><circle cx="228.4" cy="386.0" r="3"/><circle cx="271.6" cy="355.2" r="3"/><circle cx="259.5" cy="332.7" r="3"/><circle cx="271.9" cy="343.7" r="3"/><circle cx="199.8" cy="395.3" r="3"/><circle cx="116.1" cy="422.1" r="3"/><circle cx="110.2" cy="423.0" r="3"/><circle cx="97.7" cy="424.1" r="3"/><circle cx="100.4" cy="415.4" r="3"/><circle cx="111.6" cy="410.2" r="3"/><circle cx="129.7" cy="414.8" r="3"/><circle cx="101.4" cy="422.2" r="3"/><circle cx="153.4" cy="389.8" r="3"/><circle cx="166.2" cy="399.8" r="3"/><circle cx="151.0" cy="406.4" r="3"/><circle cx="134.9" cy="412.8" r="3"/><circle cx="171.9" cy="400.2" r="3"/><circle cx="198.1" cy="380.4" r="3"/><circle cx="248.6" cy="364.6" r="3"/><circle cx="228.7" cy="337.2" r="3"/><circle cx="228.4" cy="335.4" r="3"/><circle cx="261.7" cy="293.9" r="3"/><circle cx="275.5" cy="304.1" r="3"/><circle cx="197.9" cy="366.6" r="3"/><circle cx="161.1" cy="383.1" r="3"/><circle cx="194.4" cy="370.6" r="3"/><circle cx="153.7" cy="400.1" r="3"/><circle cx="214.5" cy="374.7" r="3"/><circle cx="192.6" cy="378.8" r="3"/><circle cx="127.3" cy="410.5" r="3"/><circle cx="167.5" cy="378.3" r="3"/><circle cx="188.1" cy="358.8" r="3"/><circle cx="153.8" cy="374.1" r="3"/><circle cx="196.0" cy="351.6" r="3"/><circle cx="207.5" cy="342.3" r="3"/><circle cx="207.5" cy="349.6" r="3"/><circle cx="125.6" cy="407.2" r="3"/><circle cx="95.2" cy="427.8" r="3"/><circle cx="133.4" cy="403.5" r="3"/><circle cx="116.3" cy="414.8" r="3"/><circle cx="106.0" cy="395.5" r="3"/><circle cx="107.3" cy="411.3" r="3"/><circle cx="138.6" cy="405.7" r="3"/><circle cx="103.2" cy="422.6" r="3"/><circle cx="130.4" cy="392.7" r="3"/><circle cx="140.5" cy="395.2" r="3"/><circle cx="105.2" cy="413.7" r="3"/><circle cx="135.8" cy="433.5" r="3"/><circle cx="119.8" cy="396.2" r="3"/><circle cx="115.6" cy="410.7" r="3"/><circle cx="149.3" cy="397.2" r="3"/><circle cx="125.1" cy="407.8" r="3"/><circle cx="98.0" cy="397.6" r="3"/><circle cx="107.5" cy="434.5" r="3"/><circle cx="108.8" cy="387.1" r="3"/><circle cx="118.7" cy="414.1" r="3"/><circle cx="115.5" cy="407.2" r="3"/><circle cx="97.4" cy="412.6" r="3"/><circle cx="188.0" cy="351.2" r="3"/><circle cx="128.0" cy="377.7" r="3"/><circle cx="157.5" cy="339.2" r="3"/><circle cx="169.1" cy="357.9" r="3"/><circle cx="139.2" cy="374.6" r="3"/><circle cx="149.3" cy="360.4" r="3"/><circle cx="189.2" cy="334.1" r="3"/><circle cx="205.8" cy="328.2" r="3"/><circle cx="213.2" cy="336.6" r="3"/><circle cx="189.8" cy="350.2" r="3"/><circle cx="181.7" cy="376.0" r="3"/><circle cx="179.9" cy="370.1" r="3"/><circle cx="174.1" cy="366.0" r="3"/><circle cx="204.1" cy="346.6" r="3"/><circle cx="216.9" cy="345.9" r="3"/><circle cx="207.4" cy="327.7" r="3"/><circle cx="225.0" cy="304.6" r="3"/><circle cx="241.3" cy="314.5" r="3"/><circle cx="186.3" cy="362.5" r="3"/><circle cx="128.7" cy="399.0" r="3"/><circle cx="96.6" cy="427.7" r="3"/><circle cx="128.6" cy="391.5" r="3"/><circle cx="108.7" cy="416.0" r="3"/><circle cx="137.9" cy="375.7" r="3"/><circle cx="155.5" cy="367.8" r="3"/><circle cx="201.7" cy="330.9" r="3"/><circle cx="190.9" cy="316.7" r="3"/><circle cx="171.4" cy="339.0" r="3"/><circle cx="153.7" cy="352.9" r="3"/><circle cx="149.8" cy="351.2" r="3"/><circle cx="149.8" cy="351.7" r="3"/><circle cx="123.6" cy="374.2" r="3"/><circle cx="130.1" cy="368.4" r="3"/><circle cx="169.4" cy="337.3" r="3"/><circle cx="118.2" cy="389.8" r="3"/><circle cx="123.7" cy="375.1" r="3"/><circle cx="111.9" cy="383.7" r="3"/><circle cx="111.1" cy="390.2" r="3"/><circle cx="141.4" cy="356.2" r="3"/><circle cx="114.0" cy="357.3" r="3"/><circle cx="163.8" cy="339.0" r="3"/><circle cx="95.2" cy="395.1" r="3"/><circle cx="137.3" cy="345.6" r="3"/><circle cx="139.3" cy="373.6" r="3"/><circle cx="153.4" cy="358.9" r="3"/><circle cx="156.4" cy="355.4" r="3"/><circle cx="95.2" cy="421.3" r="3"/><circle cx="99.6" cy="410.7" r="3"/><circle cx="95.2" cy="403.3" r="3"/><circle cx="142.7" cy="349.5" r="3"/><circle cx="165.1" cy="355.4" r="3"/><circle cx="159.8" cy="352.2" r="3"/><circle cx="141.9" cy="374.2" r="3"/><circle cx="171.6" cy="335.6" r="3"/><circle cx="207.6" cy="293.0" r="3"/><circle cx="183.6" cy="316.1" r="3"/><circle cx="160.1" cy="314.1" r="3"/><circle cx="113.5" cy="360.0" r="3"/><circle cx="162.2" cy="326.8" r="3"/><circle cx="197.9" cy="285.0" r="3"/><circle cx="222.8" cy="271.1" r="3"/><circle cx="213.4" cy="258.2" r="3"/><circle cx="223.0" cy="270.2" r="3"/><circle cx="207.9" cy="301.9" r="3"/><circle cx="247.9" cy="265.7" r="3"/><circle cx="200.1" cy="316.1" r="3"/><circle cx="152.2" cy="325.6" r="3"/><circle cx="180.2" cy="309.6" r="3"/><circle cx="202.2" cy="290.2" r="3"/><circle cx="212.0" cy="285.6" r="3"/><circle cx="200.1" cy="294.1" r="3"/><circle cx="179.0" cy="312.5" r="3"/><circle cx="119.8" cy="335.6" r="3"/><circle cx="112.5" cy="339.6" r="3"/><circle cx="115.0" cy="351.7" r="3"/><circle cx="130.5" cy="363.4" r="3"/><circle cx="95.2" cy="374.6" r="3"/><circle cx="95.2" cy="387.7" r="3"/><circle cx="95.2" cy="423.3" r="3"/><circle cx="114.9" cy="416.8" r="3"/><circle cx="95.2" cy="417.8" r="3"/><circle cx="95.2" cy="397.0" r="3"/><circle cx="116.2" cy="359.2" r="3"/><circle cx="188.2" cy="302.4" r="3"/><circle cx="155.0" cy="336.9" r="3"/><circle cx="130.4" cy="336.6" r="3"/><circle cx="156.6" cy="311.4" r="3"/><circle cx="177.8" cy="304.8" r="3"/><circle cx="186.6" cy="310.6" r="3"/><circle cx="189.7" cy="242.7" r="3"/><circle cx="167.6" cy="265.3" r="3"/><circle cx="177.0" cy="303.0" r="3"/><circle cx="152.5" cy="328.8" r="3"/><circle cx="154.6" cy="306.4" r="3"/><circle cx="157.5" cy="300.0" r="3"/><circle cx="164.6" cy="320.6" r="3"/><circle cx="161.5" cy="332.8" r="3"/><circle cx="224.7" cy="296.3" r="3"/><circle cx="225.3" cy="283.3" r="3"/><circle cx="211.9" cy="296.2" r="3"/><circle cx="202.5" cy="278.7" r="3"/><circle cx="220.1" cy="261.6" r="3"/><circle cx="208.4" cy="295.4" r="3"/><circle cx="177.7" cy="295.1" r="3"/><circle cx="186.7" cy="268.1" r="3"/><circle cx="196.8" cy="287.9" r="3"/><circle cx="216.1" cy="318.9" r="3"/><circle cx="237.1" cy="315.1" r="3"/><circle cx="240.3" cy="285.4" r="3"/><circle cx="248.2" cy="254.2" r="3"/><circle cx="213.9" cy="300.5" r="3"/><circle cx="254.9" cy="216.8" r="3"/><circle cx="204.2" cy="242.3" r="3"/><circle cx="219.1" cy="225.9" r="3"/><circle cx="260.5" cy="196.0" r="3"/><circle cx="276.2" cy="188.5" r="3"/><circle cx="301.3" cy="195.0" r="3"/><circle cx="241.0" cy="232.3" r="3"/><circle cx="272.2" cy="208.2" r="3"/><circle cx="232.7" cy="232.6" r="3"/><circle cx="218.7" cy="294.1" r="3"/><circle cx="276.6" cy="217.3" r="3"/><circle cx="322.6" cy="198.1" r="3"/><circle cx="363.5" cy="163.3" r="3"/><circle cx="267.3" cy="204.6" r="3"/><circle cx="351.4" cy="159.4" r="3"/><circle cx="384.6" cy="143.7" r="3"/><circle cx="391.2" cy="136.1" r="3"/><circle cx="332.3" cy="182.4" r="3"/><circle cx="311.2" cy="200.7" r="3"/><circle cx="280.0" cy="251.7" r="3"/><circle cx="191.4" cy="294.9" r="3"/><circle cx="224.9" cy="276.5" r="3"/><circle cx="216.8" cy="299.7" r="3"/><circle cx="258.8" cy="267.2" r="3"/><circle cx="242.7" cy="279.2" r="3"/><circle cx="301.0" cy="207.8" r="3"/><circle cx="353.4" cy="189.0" r="3"/><circle cx="276.4" cy="197.6" r="3"/><circle cx="332.7" cy="169.5" r="3"/><circle cx="310.5" cy="193.9" r="3"/><circle cx="285.9" cy="203.2" r="3"/><circle cx="362.5" cy="175.9" r="3"/><circle cx="303.2" cy="219.1" r="3"/><circle cx="317.0" cy="220.4" r="3"/><circle cx="285.9" cy="258.1" r="3"/><circle cx="296.4" cy="238.3" r="3"/><circle cx="369.0" cy="198.2" r="3"/><circle cx="329.7" cy="222.1" r="3"/><circle cx="317.3" cy="212.9" r="3"/><circle cx="307.0" cy="233.1" r="3"/><circle cx="276.8" cy="253.4" r="3"/><circle cx="264.2" cy="271.6" r="3"/><circle cx="264.9" cy="231.3" r="3"/><circle cx="339.1" cy="174.8" r="3"/><circle cx="357.9" cy="161.6" r="3"/><circle cx="304.1" cy="203.0" r="3"/><circle cx="337.1" cy="183.0" r="3"/><circle cx="310.0" cy="182.2" r="3"/><circle cx="297.6" cy="195.4" r="3"/><circle cx="320.0" cy="181.5" r="3"/><circle cx="328.8" cy="172.2" r="3"/><circle cx="291.9" cy="180.1" r="3"/><circle cx="338.0" cy="172.9" r="3"/><circle cx="263.9" cy="220.5" r="3"/><circle cx="283.5" cy="234.3" r="3"/><circle cx="285.5" cy="236.5" r="3"/><circle cx="252.3" cy="265.8" r="3"/><circle cx="237.8" cy="264.1" r="3"/><circle cx="259.9" cy="271.4" r="3"/><circle cx="245.4" cy="264.4" r="3"/><circle cx="267.1" cy="232.6" r="3"/><circle cx="208.9" cy="272.4" r="3"/><circle cx="253.1" cy="274.3" r="3"/><circle cx="248.7" cy="274.9" r="3"/><circle cx="275.0" cy="257.4" r="3"/><circle cx="329.2" cy="205.0" r="3"/><circle cx="354.7" cy="183.3" r="3"/><circle cx="334.9" cy="206.6" r="3"/><circle cx="384.8" cy="158.7" r="3"/><circle cx="321.2" cy="207.9" r="3"/><circle cx="367.4" cy="186.0" r="3"/><circle cx="306.0" cy="198.5" r="3"/><circle cx="256.2" cy="270.1" r="3"/><circle cx="359.1" cy="197.8" r="3"/><circle cx="403.2" cy="160.4" r="3"/><circle cx="347.6" cy="199.9" r="3"/><circle cx="364.0" cy="188.6" r="3"/><circle cx="341.8" cy="208.5" r="3"/><circle cx="526.2" cy="40.2" r="3"/><circle cx="540.7" cy="60.8" r="3"/><circle cx="472.8" cy="71.5" r="3"/><circle cx="419.1" cy="99.4" r="3"/><circle cx="408.6" cy="102.2" r="3"/><circle cx="469.8" cy="116.1" r="3"/><circle cx="361.7" cy="121.0" r="3"/><circle cx="460.1" cy="158.1" r="3"/><circle cx="434.5" cy="184.2" r="3"/><circle cx="413.8" cy="127.6" r="3"/><circle cx="425.2" cy="129.7" r="3"/><circle cx="419.8" cy="135.4" r="3"/><circle cx="412.5" cy="135.4" r="3"/><circle cx="412.5" cy="138.7" r="3"/><circle cx="436.7" cy="131.5" r="3"/><circle cx="436.7" cy="137.4" r="3"/><circle cx="410.7" cy="146.2" r="3"/><circle cx="418.5" cy="153.8" r="3"/><circle cx="413.8" cy="162.5" r="3"/><circle cx="403.6" cy="169.1" r="3"/><circle cx="369.0" cy="132.8" r="3"/><circle cx="385.7" cy="132.8" r="3"/><circle cx="343.1" cy="141.1" r="3"/>
</g>
<path d="M95.25 419.9L549.8 40.1" stroke="#fff" stroke-width="5.6" fill="none"/>
<path d="M95.25 419.9L549.8 40.1" stroke="#000" stroke-width="3.6" fill="none"/>
</g>
<text transform="translate(442.06 389.3) scale(1.0546 1)" font-size="27.3">= 0.869</text>
<text transform="translate(424.57 376.7) scale(1.1738 1)" font-size="17.6">2</text>
<text transform="translate(408.17 389.3) scale(0.7715 1)" font-size="27.3" font-style="italic">R</text>
<text transform="translate(303.54 418.3) scale(0.9438 1)" font-size="27.3">RMSE = 10.541 GW</text>
<g stroke="#1a1a1a" stroke-width="1.5" fill="none">
<rect x="704.4" y="32.2" width="454.6" height="411.1"/>
<path d="M704.4 414.65h8.6M704.4 353.95h8.6M704.4 293.25h8.6M704.4 232.55h8.6M704.4 171.85h8.6M704.4 111.15h8.6M704.4 50.45h8.6M829.9 443.3v-8.6M955.4 443.3v-8.6M1080.9 443.3v-8.6" stroke-width="1.3"/>
</g>
<text transform="translate(663.83 423.02) scale(1.1071 1)" font-size="23">20</text>
<text transform="translate(662.84 362.3) scale(1.1470 1)" font-size="23">40</text>
<text transform="translate(662.46 301.58) scale(1.1622 1)" font-size="23">60</text>
<text transform="translate(662.92 240.86) scale(1.1439 1)" font-size="23">80</text>
<text transform="translate(650.32 180.14) scale(1.0905 1)" font-size="23">100</text>
<text transform="translate(653.67 119.42) scale(1.0010 1)" font-size="23">120</text>
<text transform="translate(652.63 58.7) scale(1.0289 1)" font-size="23">140</text>
<text transform="translate(696.45 473.6) scale(1.1991 1)" font-size="23">0</text>
<text transform="translate(823 473.6) scale(1.0343 1)" font-size="23">5</text>
<text transform="translate(942.11 473.6) scale(0.9826 1)" font-size="23">10</text>
<text transform="translate(1068.8 473.6) scale(0.8958 1)" font-size="23">15</text>
<text transform="translate(897.23 513.5) scale(0.9481 1)" font-size="27.3">HDDs</text>
<text transform="translate(631.3 401.44) rotate(-90) scale(1.0274 1)" font-size="27.3">Natural gas demand (GW)</text>
<text transform="translate(607.16 32.6) scale(1.1308 1)" font-size="38" font-weight="700" stroke="#000" stroke-width="0.9">b</text>
<clipPath id="c1"><rect x="704.4" y="32.2" width="454.6" height="411.1"/></clipPath>
<g clip-path="url(#c1)"><g fill="#ff7d26" fill-opacity="0.3">
<circle cx="988.9" cy="202.3" r="3"/><circle cx="1010.6" cy="204.4" r="3"/><circle cx="986.5" cy="205.0" r="3"/><circle cx="957.8" cy="215.9" r="3"/><circle cx="956.8" cy="222.0" r="3"/><circle cx="941.0" cy="231.2" r="3"/><circle cx="922.7" cy="226.9" r="3"/><circle cx="986.8" cy="172.9" r="3"/><circle cx="947.2" cy="204.7" r="3"/><circle cx="942.2" cy="210.6" r="3"/><circle cx="966.9" cy="210.0" r="3"/><circle cx="971.0" cy="197.2" r="3"/><circle cx="1025.2" cy="179.8" r="3"/><circle cx="974.7" cy="219.4" r="3"/><circle cx="988.0" cy="209.3" r="3"/><circle cx="1022.9" cy="197.1" r="3"/><circle cx="964.3" cy="238.6" r="3"/><circle cx="928.9" cy="242.2" r="3"/><circle cx="901.4" cy="283.7" r="3"/><circle cx="903.6" cy="302.4" r="3"/><circle cx="880.0" cy="322.5" r="3"/><circle cx="876.3" cy="309.2" r="3"/><circle cx="855.5" cy="330.4" r="3"/><circle cx="880.4" cy="307.9" r="3"/><circle cx="924.5" cy="283.0" r="3"/><circle cx="912.9" cy="280.2" r="3"/><circle cx="867.0" cy="322.2" r="3"/><circle cx="865.5" cy="305.7" r="3"/><circle cx="856.6" cy="302.1" r="3"/><circle cx="870.0" cy="291.9" r="3"/><circle cx="882.7" cy="318.1" r="3"/><circle cx="901.0" cy="318.8" r="3"/><circle cx="898.7" cy="327.9" r="3"/><circle cx="878.6" cy="331.8" r="3"/><circle cx="926.2" cy="287.5" r="3"/><circle cx="890.0" cy="298.9" r="3"/><circle cx="903.9" cy="282.3" r="3"/><circle cx="919.6" cy="262.2" r="3"/><circle cx="903.9" cy="272.6" r="3"/><circle cx="901.2" cy="278.3" r="3"/><circle cx="949.7" cy="253.5" r="3"/><circle cx="906.1" cy="257.8" r="3"/><circle cx="880.3" cy="276.6" r="3"/><circle cx="874.9" cy="275.5" r="3"/><circle cx="940.8" cy="235.4" r="3"/><circle cx="928.4" cy="285.9" r="3"/><circle cx="970.2" cy="255.4" r="3"/><circle cx="987.3" cy="240.2" r="3"/><circle cx="922.8" cy="282.8" r="3"/><circle cx="967.2" cy="219.3" r="3"/><circle cx="964.5" cy="206.7" r="3"/><circle cx="894.7" cy="253.4" r="3"/><circle cx="906.7" cy="252.7" r="3"/><circle cx="928.8" cy="239.3" r="3"/><circle cx="923.3" cy="262.3" r="3"/><circle cx="950.1" cy="243.3" r="3"/><circle cx="951.8" cy="260.3" r="3"/><circle cx="948.6" cy="249.0" r="3"/><circle cx="969.4" cy="223.3" r="3"/><circle cx="950.7" cy="248.8" r="3"/><circle cx="959.9" cy="250.1" r="3"/><circle cx="933.2" cy="266.3" r="3"/><circle cx="901.4" cy="280.5" r="3"/><circle cx="900.0" cy="289.2" r="3"/><circle cx="885.3" cy="306.7" r="3"/><circle cx="894.0" cy="310.8" r="3"/><circle cx="911.8" cy="294.5" r="3"/><circle cx="937.1" cy="268.4" r="3"/><circle cx="909.3" cy="302.1" r="3"/><circle cx="896.0" cy="321.9" r="3"/><circle cx="887.9" cy="318.8" r="3"/><circle cx="834.5" cy="350.2" r="3"/><circle cx="866.1" cy="340.2" r="3"/><circle cx="811.2" cy="367.9" r="3"/><circle cx="885.5" cy="313.3" r="3"/><circle cx="902.3" cy="303.0" r="3"/><circle cx="918.1" cy="318.4" r="3"/><circle cx="939.2" cy="319.2" r="3"/><circle cx="881.7" cy="343.1" r="3"/><circle cx="932.7" cy="298.6" r="3"/><circle cx="902.2" cy="306.6" r="3"/><circle cx="877.3" cy="329.1" r="3"/><circle cx="877.0" cy="324.7" r="3"/><circle cx="855.5" cy="327.6" r="3"/><circle cx="852.8" cy="338.7" r="3"/><circle cx="888.3" cy="352.4" r="3"/><circle cx="880.5" cy="365.9" r="3"/><circle cx="852.8" cy="361.3" r="3"/><circle cx="836.5" cy="345.3" r="3"/><circle cx="872.5" cy="319.8" r="3"/><circle cx="875.2" cy="331.1" r="3"/><circle cx="886.9" cy="337.2" r="3"/><circle cx="872.9" cy="334.4" r="3"/><circle cx="909.4" cy="321.8" r="3"/><circle cx="910.9" cy="326.2" r="3"/><circle cx="913.6" cy="306.3" r="3"/><circle cx="842.9" cy="363.0" r="3"/><circle cx="851.2" cy="355.8" r="3"/><circle cx="797.9" cy="380.5" r="3"/><circle cx="725.7" cy="418.3" r="3"/><circle cx="761.7" cy="408.3" r="3"/><circle cx="775.5" cy="405.5" r="3"/><circle cx="704.4" cy="437.6" r="3"/><circle cx="850.9" cy="356.6" r="3"/><circle cx="801.3" cy="368.9" r="3"/><circle cx="797.7" cy="384.8" r="3"/><circle cx="790.0" cy="382.9" r="3"/><circle cx="821.3" cy="369.3" r="3"/><circle cx="810.0" cy="375.1" r="3"/><circle cx="802.7" cy="384.4" r="3"/><circle cx="852.4" cy="350.0" r="3"/><circle cx="819.9" cy="354.3" r="3"/><circle cx="786.5" cy="390.6" r="3"/><circle cx="765.9" cy="387.6" r="3"/><circle cx="799.2" cy="377.7" r="3"/><circle cx="755.0" cy="404.2" r="3"/><circle cx="757.1" cy="397.4" r="3"/><circle cx="744.8" cy="421.9" r="3"/><circle cx="834.0" cy="386.1" r="3"/><circle cx="804.6" cy="393.0" r="3"/><circle cx="792.5" cy="389.5" r="3"/><circle cx="776.3" cy="391.8" r="3"/><circle cx="768.0" cy="397.9" r="3"/><circle cx="739.0" cy="414.4" r="3"/><circle cx="704.4" cy="416.2" r="3"/><circle cx="737.5" cy="405.0" r="3"/><circle cx="711.2" cy="420.6" r="3"/><circle cx="776.8" cy="398.5" r="3"/><circle cx="704.4" cy="411.7" r="3"/><circle cx="704.4" cy="417.1" r="3"/><circle cx="753.6" cy="410.1" r="3"/><circle cx="736.2" cy="416.9" r="3"/><circle cx="720.0" cy="418.1" r="3"/><circle cx="749.9" cy="403.3" r="3"/><circle cx="729.5" cy="414.2" r="3"/><circle cx="793.4" cy="384.9" r="3"/><circle cx="806.7" cy="379.3" r="3"/><circle cx="768.3" cy="391.6" r="3"/><circle cx="748.5" cy="399.3" r="3"/><circle cx="704.4" cy="414.4" r="3"/><circle cx="777.1" cy="391.9" r="3"/><circle cx="772.0" cy="399.0" r="3"/><circle cx="743.1" cy="402.4" r="3"/><circle cx="704.4" cy="423.5" r="3"/><circle cx="711.9" cy="408.9" r="3"/><circle cx="709.2" cy="420.7" r="3"/><circle cx="739.1" cy="410.5" r="3"/><circle cx="727.3" cy="404.6" r="3"/><circle cx="751.9" cy="396.5" r="3"/><circle cx="758.1" cy="397.2" r="3"/><circle cx="755.5" cy="398.4" r="3"/><circle cx="720.7" cy="413.8" r="3"/><circle cx="708.0" cy="424.3" r="3"/><circle cx="740.1" cy="418.5" r="3"/><circle cx="754.7" cy="407.0" r="3"/><circle cx="710.8" cy="430.1" r="3"/><circle cx="704.4" cy="424.1" r="3"/><circle cx="704.4" cy="428.9" r="3"/><circle cx="709.5" cy="423.2" r="3"/><circle cx="736.1" cy="419.5" r="3"/><circle cx="730.2" cy="415.9" r="3"/><circle cx="736.3" cy="414.0" r="3"/><circle cx="758.4" cy="396.8" r="3"/><circle cx="724.5" cy="415.8" r="3"/><circle cx="766.7" cy="394.0" r="3"/><circle cx="720.7" cy="415.1" r="3"/><circle cx="739.7" cy="412.3" r="3"/><circle cx="747.0" cy="408.0" r="3"/><circle cx="707.0" cy="431.1" r="3"/><circle cx="725.1" cy="421.5" r="3"/><circle cx="745.7" cy="415.5" r="3"/><circle cx="743.6" cy="410.8" r="3"/><circle cx="732.6" cy="422.7" r="3"/><circle cx="704.4" cy="398.7" r="3"/><circle cx="704.4" cy="423.3" r="3"/><circle cx="716.8" cy="413.2" r="3"/><circle cx="704.4" cy="424.0" r="3"/><circle cx="704.4" cy="418.7" r="3"/><circle cx="704.4" cy="417.0" r="3"/><circle cx="705.4" cy="417.7" r="3"/><circle cx="707.8" cy="421.2" r="3"/><circle cx="704.4" cy="426.6" r="3"/><circle cx="761.7" cy="390.2" r="3"/><circle cx="738.0" cy="412.2" r="3"/><circle cx="720.3" cy="413.7" r="3"/><circle cx="714.7" cy="409.2" r="3"/><circle cx="744.8" cy="379.9" r="3"/><circle cx="779.4" cy="362.4" r="3"/><circle cx="766.2" cy="362.4" r="3"/><circle cx="783.0" cy="369.5" r="3"/><circle cx="748.9" cy="406.5" r="3"/><circle cx="752.7" cy="379.4" r="3"/><circle cx="804.2" cy="365.9" r="3"/><circle cx="778.7" cy="371.7" r="3"/><circle cx="776.3" cy="375.6" r="3"/><circle cx="807.9" cy="353.4" r="3"/><circle cx="826.0" cy="341.0" r="3"/><circle cx="810.9" cy="330.3" r="3"/><circle cx="795.3" cy="365.0" r="3"/><circle cx="829.3" cy="316.9" r="3"/><circle cx="766.6" cy="366.6" r="3"/><circle cx="794.7" cy="351.0" r="3"/><circle cx="801.6" cy="345.3" r="3"/><circle cx="804.0" cy="332.6" r="3"/><circle cx="851.4" cy="295.0" r="3"/><circle cx="877.3" cy="288.5" r="3"/><circle cx="822.1" cy="332.3" r="3"/><circle cx="779.9" cy="373.5" r="3"/><circle cx="801.0" cy="355.9" r="3"/><circle cx="750.7" cy="385.6" r="3"/><circle cx="740.4" cy="385.9" r="3"/><circle cx="740.3" cy="366.4" r="3"/><circle cx="707.7" cy="403.1" r="3"/><circle cx="704.4" cy="409.1" r="3"/><circle cx="704.4" cy="417.9" r="3"/><circle cx="704.4" cy="401.8" r="3"/><circle cx="722.7" cy="406.9" r="3"/><circle cx="744.4" cy="403.2" r="3"/><circle cx="744.0" cy="405.9" r="3"/><circle cx="719.9" cy="423.9" r="3"/><circle cx="704.4" cy="428.3" r="3"/><circle cx="724.0" cy="418.7" r="3"/><circle cx="709.6" cy="412.9" r="3"/><circle cx="712.1" cy="416.4" r="3"/><circle cx="713.4" cy="416.8" r="3"/><circle cx="737.7" cy="392.0" r="3"/><circle cx="718.1" cy="419.9" r="3"/><circle cx="737.7" cy="404.2" r="3"/><circle cx="740.4" cy="425.3" r="3"/><circle cx="723.7" cy="417.8" r="3"/><circle cx="725.3" cy="411.2" r="3"/><circle cx="704.4" cy="427.7" r="3"/><circle cx="743.5" cy="401.3" r="3"/><circle cx="750.9" cy="380.1" r="3"/><circle cx="827.6" cy="320.4" r="3"/><circle cx="769.5" cy="352.1" r="3"/><circle cx="785.5" cy="328.2" r="3"/><circle cx="782.6" cy="341.4" r="3"/><circle cx="785.9" cy="340.2" r="3"/><circle cx="743.7" cy="373.7" r="3"/><circle cx="747.7" cy="368.0" r="3"/><circle cx="767.8" cy="358.9" r="3"/><circle cx="780.6" cy="335.1" r="3"/><circle cx="788.3" cy="341.0" r="3"/><circle cx="810.9" cy="346.6" r="3"/><circle cx="836.3" cy="308.3" r="3"/><circle cx="835.3" cy="305.7" r="3"/><circle cx="759.8" cy="361.4" r="3"/><circle cx="751.3" cy="362.9" r="3"/><circle cx="704.4" cy="403.1" r="3"/><circle cx="707.7" cy="409.4" r="3"/><circle cx="704.4" cy="412.2" r="3"/><circle cx="742.7" cy="382.9" r="3"/><circle cx="795.3" cy="355.0" r="3"/><circle cx="773.4" cy="374.9" r="3"/><circle cx="757.8" cy="379.7" r="3"/><circle cx="831.9" cy="342.2" r="3"/><circle cx="840.1" cy="324.5" r="3"/><circle cx="856.7" cy="308.8" r="3"/><circle cx="836.2" cy="317.9" r="3"/><circle cx="857.4" cy="298.4" r="3"/><circle cx="865.0" cy="277.3" r="3"/><circle cx="873.8" cy="264.8" r="3"/><circle cx="838.8" cy="278.3" r="3"/><circle cx="838.1" cy="290.5" r="3"/><circle cx="859.9" cy="270.4" r="3"/><circle cx="837.6" cy="294.9" r="3"/><circle cx="893.8" cy="260.0" r="3"/><circle cx="857.5" cy="307.2" r="3"/><circle cx="843.8" cy="285.0" r="3"/><circle cx="833.6" cy="289.2" r="3"/><circle cx="821.9" cy="305.2" r="3"/><circle cx="836.3" cy="273.8" r="3"/><circle cx="895.4" cy="223.0" r="3"/><circle cx="879.1" cy="246.1" r="3"/><circle cx="907.1" cy="223.9" r="3"/><circle cx="923.0" cy="232.1" r="3"/><circle cx="840.7" cy="296.0" r="3"/><circle cx="870.6" cy="263.4" r="3"/><circle cx="856.1" cy="280.0" r="3"/><circle cx="866.0" cy="272.4" r="3"/><circle cx="856.9" cy="290.6" r="3"/><circle cx="881.8" cy="293.6" r="3"/><circle cx="879.7" cy="274.9" r="3"/><circle cx="875.0" cy="236.4" r="3"/><circle cx="860.6" cy="244.1" r="3"/><circle cx="868.0" cy="251.7" r="3"/><circle cx="945.6" cy="197.4" r="3"/><circle cx="918.3" cy="217.6" r="3"/><circle cx="896.8" cy="231.3" r="3"/><circle cx="862.8" cy="271.2" r="3"/><circle cx="879.6" cy="240.1" r="3"/><circle cx="927.2" cy="213.5" r="3"/><circle cx="919.9" cy="205.0" r="3"/><circle cx="932.2" cy="197.4" r="3"/><circle cx="956.8" cy="187.8" r="3"/><circle cx="942.7" cy="201.3" r="3"/><circle cx="945.1" cy="194.1" r="3"/><circle cx="906.4" cy="217.6" r="3"/><circle cx="904.3" cy="223.2" r="3"/><circle cx="953.0" cy="180.5" r="3"/><circle cx="941.9" cy="169.2" r="3"/><circle cx="954.7" cy="188.3" r="3"/><circle cx="946.0" cy="219.7" r="3"/><circle cx="926.9" cy="226.2" r="3"/><circle cx="990.5" cy="181.5" r="3"/><circle cx="970.3" cy="188.7" r="3"/><circle cx="979.1" cy="196.3" r="3"/><circle cx="962.9" cy="198.2" r="3"/><circle cx="898.0" cy="232.7" r="3"/><circle cx="879.1" cy="239.7" r="3"/><circle cx="934.0" cy="212.0" r="3"/><circle cx="922.7" cy="225.3" r="3"/><circle cx="910.5" cy="222.9" r="3"/><circle cx="883.2" cy="227.7" r="3"/><circle cx="923.4" cy="215.7" r="3"/><circle cx="899.3" cy="253.8" r="3"/><circle cx="869.4" cy="265.7" r="3"/><circle cx="880.8" cy="264.1" r="3"/><circle cx="929.4" cy="229.9" r="3"/><circle cx="892.9" cy="246.1" r="3"/><circle cx="945.4" cy="221.7" r="3"/><circle cx="981.4" cy="194.0" r="3"/><circle cx="941.3" cy="208.2" r="3"/><circle cx="947.3" cy="211.5" r="3"/><circle cx="924.6" cy="219.1" r="3"/><circle cx="937.3" cy="226.3" r="3"/><circle cx="919.6" cy="227.6" r="3"/><circle cx="918.5" cy="223.8" r="3"/><circle cx="964.0" cy="172.8" r="3"/><circle cx="950.8" cy="193.8" r="3"/><circle cx="950.2" cy="202.9" r="3"/><circle cx="923.5" cy="228.8" r="3"/><circle cx="926.1" cy="213.6" r="3"/><circle cx="918.4" cy="236.7" r="3"/><circle cx="886.6" cy="273.6" r="3"/><circle cx="917.2" cy="213.3" r="3"/><circle cx="884.0" cy="244.4" r="3"/><circle cx="919.5" cy="212.2" r="3"/><circle cx="1002.4" cy="164.8" r="3"/><circle cx="986.1" cy="169.9" r="3"/><circle cx="1006.5" cy="172.5" r="3"/><circle cx="1060.9" cy="147.3" r="3"/><circle cx="1013.3" cy="162.6" r="3"/><circle cx="963.8" cy="197.9" r="3"/><circle cx="997.0" cy="184.7" r="3"/><circle cx="1033.2" cy="159.3" r="3"/><circle cx="992.2" cy="169.9" r="3"/><circle cx="1012.4" cy="177.3" r="3"/><circle cx="961.2" cy="197.4" r="3"/><circle cx="973.0" cy="182.3" r="3"/><circle cx="1010.5" cy="168.9" r="3"/><circle cx="1014.1" cy="171.5" r="3"/><circle cx="1014.6" cy="165.2" r="3"/><circle cx="1028.7" cy="159.3" r="3"/><circle cx="1007.4" cy="173.5" r="3"/><circle cx="1017.4" cy="178.0" r="3"/><circle cx="1046.0" cy="172.7" r="3"/><circle cx="991.4" cy="177.0" r="3"/><circle cx="1033.1" cy="149.6" r="3"/><circle cx="947.6" cy="201.6" r="3"/><circle cx="960.3" cy="190.3" r="3"/><circle cx="929.2" cy="240.9" r="3"/><circle cx="901.6" cy="275.0" r="3"/><circle cx="938.3" cy="234.8" r="3"/><circle cx="931.3" cy="231.9" r="3"/><circle cx="952.7" cy="224.8" r="3"/><circle cx="909.4" cy="263.6" r="3"/><circle cx="908.9" cy="263.2" r="3"/><circle cx="888.7" cy="266.8" r="3"/><circle cx="948.7" cy="252.9" r="3"/><circle cx="1016.8" cy="184.2" r="3"/><circle cx="997.8" cy="191.2" r="3"/><circle cx="953.3" cy="219.0" r="3"/><circle cx="922.9" cy="252.6" r="3"/><circle cx="940.7" cy="248.9" r="3"/><circle cx="936.9" cy="239.6" r="3"/><circle cx="904.2" cy="271.8" r="3"/><circle cx="935.2" cy="254.7" r="3"/><circle cx="939.5" cy="269.1" r="3"/><circle cx="954.8" cy="234.3" r="3"/><circle cx="999.4" cy="204.0" r="3"/><circle cx="995.7" cy="194.8" r="3"/><circle cx="944.8" cy="218.8" r="3"/><circle cx="977.1" cy="197.2" r="3"/><circle cx="963.6" cy="211.0" r="3"/><circle cx="958.1" cy="219.0" r="3"/><circle cx="923.9" cy="236.2" r="3"/><circle cx="893.2" cy="258.4" r="3"/><circle cx="880.7" cy="288.5" r="3"/><circle cx="903.9" cy="260.1" r="3"/><circle cx="912.5" cy="261.2" r="3"/><circle cx="934.1" cy="252.4" r="3"/><circle cx="948.3" cy="228.1" r="3"/><circle cx="914.2" cy="271.0" r="3"/><circle cx="922.7" cy="278.6" r="3"/><circle cx="942.6" cy="277.0" r="3"/><circle cx="943.8" cy="247.9" r="3"/><circle cx="940.2" cy="266.9" r="3"/><circle cx="982.6" cy="232.9" r="3"/><circle cx="971.7" cy="237.8" r="3"/><circle cx="924.0" cy="270.2" r="3"/><circle cx="946.0" cy="273.7" r="3"/><circle cx="934.8" cy="264.7" r="3"/><circle cx="931.6" cy="259.6" r="3"/><circle cx="914.1" cy="301.3" r="3"/><circle cx="959.6" cy="260.5" r="3"/><circle cx="980.2" cy="231.0" r="3"/><circle cx="960.8" cy="216.8" r="3"/><circle cx="956.6" cy="230.3" r="3"/><circle cx="918.6" cy="256.2" r="3"/><circle cx="894.9" cy="277.0" r="3"/><circle cx="988.9" cy="214.7" r="3"/><circle cx="978.0" cy="221.8" r="3"/><circle cx="975.8" cy="209.9" r="3"/><circle cx="964.9" cy="230.2" r="3"/><circle cx="940.2" cy="237.1" r="3"/><circle cx="913.2" cy="292.5" r="3"/><circle cx="931.5" cy="293.7" r="3"/><circle cx="948.2" cy="270.5" r="3"/><circle cx="890.0" cy="316.3" r="3"/><circle cx="936.0" cy="269.3" r="3"/><circle cx="923.5" cy="265.0" r="3"/><circle cx="919.2" cy="300.0" r="3"/><circle cx="905.5" cy="316.7" r="3"/><circle cx="888.4" cy="305.9" r="3"/><circle cx="922.3" cy="311.5" r="3"/><circle cx="901.4" cy="316.1" r="3"/><circle cx="896.6" cy="328.4" r="3"/><circle cx="884.6" cy="341.7" r="3"/><circle cx="869.5" cy="350.5" r="3"/><circle cx="848.4" cy="378.1" r="3"/><circle cx="837.8" cy="366.0" r="3"/><circle cx="860.9" cy="337.8" r="3"/><circle cx="807.2" cy="369.5" r="3"/><circle cx="833.6" cy="353.1" r="3"/><circle cx="834.1" cy="367.8" r="3"/><circle cx="799.6" cy="383.9" r="3"/><circle cx="861.5" cy="354.7" r="3"/><circle cx="864.2" cy="358.2" r="3"/><circle cx="860.6" cy="326.4" r="3"/><circle cx="832.0" cy="344.7" r="3"/><circle cx="849.8" cy="331.9" r="3"/><circle cx="826.0" cy="341.9" r="3"/><circle cx="826.7" cy="356.6" r="3"/><circle cx="840.0" cy="343.5" r="3"/><circle cx="873.2" cy="330.5" r="3"/><circle cx="886.8" cy="321.3" r="3"/><circle cx="872.9" cy="331.6" r="3"/><circle cx="814.5" cy="362.5" r="3"/><circle cx="850.7" cy="347.4" r="3"/><circle cx="824.8" cy="356.6" r="3"/><circle cx="855.6" cy="336.0" r="3"/><circle cx="859.1" cy="358.0" r="3"/><circle cx="878.5" cy="358.2" r="3"/><circle cx="837.9" cy="388.5" r="3"/><circle cx="819.3" cy="376.4" r="3"/><circle cx="805.8" cy="382.8" r="3"/><circle cx="721.5" cy="421.3" r="3"/><circle cx="746.1" cy="404.9" r="3"/><circle cx="763.4" cy="389.6" r="3"/><circle cx="765.5" cy="396.8" r="3"/><circle cx="705.7" cy="424.0" r="3"/><circle cx="749.9" cy="412.9" r="3"/><circle cx="729.3" cy="411.4" r="3"/><circle cx="753.1" cy="406.6" r="3"/><circle cx="704.4" cy="423.2" r="3"/><circle cx="731.8" cy="412.8" r="3"/><circle cx="712.7" cy="427.8" r="3"/><circle cx="734.1" cy="413.3" r="3"/><circle cx="741.6" cy="405.7" r="3"/><circle cx="706.2" cy="411.2" r="3"/><circle cx="720.2" cy="432.7" r="3"/><circle cx="734.3" cy="424.8" r="3"/><circle cx="704.4" cy="419.5" r="3"/><circle cx="744.5" cy="400.4" r="3"/><circle cx="797.5" cy="391.5" r="3"/><circle cx="748.4" cy="409.5" r="3"/><circle cx="805.7" cy="391.9" r="3"/><circle cx="802.6" cy="392.6" r="3"/><circle cx="838.6" cy="340.6" r="3"/><circle cx="809.5" cy="382.6" r="3"/><circle cx="732.2" cy="416.6" r="3"/><circle cx="718.4" cy="417.4" r="3"/><circle cx="708.3" cy="413.7" r="3"/><circle cx="733.0" cy="415.5" r="3"/><circle cx="757.7" cy="400.8" r="3"/><circle cx="718.3" cy="411.6" r="3"/><circle cx="727.8" cy="406.3" r="3"/><circle cx="704.4" cy="424.3" r="3"/><circle cx="753.1" cy="397.5" r="3"/><circle cx="704.4" cy="418.0" r="3"/><circle cx="704.4" cy="421.8" r="3"/><circle cx="753.7" cy="400.7" r="3"/><circle cx="720.4" cy="414.8" r="3"/><circle cx="704.4" cy="429.0" r="3"/><circle cx="704.4" cy="422.0" r="3"/><circle cx="725.4" cy="408.4" r="3"/><circle cx="742.2" cy="394.8" r="3"/><circle cx="704.4" cy="435.5" r="3"/><circle cx="717.0" cy="409.8" r="3"/><circle cx="704.4" cy="412.6" r="3"/><circle cx="704.4" cy="426.3" r="3"/><circle cx="704.4" cy="430.7" r="3"/><circle cx="721.7" cy="413.3" r="3"/><circle cx="736.9" cy="414.8" r="3"/><circle cx="704.4" cy="429.8" r="3"/><circle cx="704.4" cy="419.6" r="3"/><circle cx="719.8" cy="414.8" r="3"/><circle cx="753.8" cy="407.4" r="3"/><circle cx="704.4" cy="414.0" r="3"/><circle cx="749.4" cy="401.8" r="3"/><circle cx="816.8" cy="361.6" r="3"/><circle cx="828.2" cy="371.3" r="3"/><circle cx="783.7" cy="399.6" r="3"/><circle cx="795.3" cy="387.2" r="3"/><circle cx="722.6" cy="411.4" r="3"/><circle cx="704.4" cy="426.3" r="3"/><circle cx="758.7" cy="407.2" r="3"/><circle cx="767.2" cy="402.7" r="3"/><circle cx="704.4" cy="425.9" r="3"/><circle cx="734.4" cy="409.6" r="3"/><circle cx="731.5" cy="395.0" r="3"/><circle cx="704.4" cy="420.6" r="3"/><circle cx="704.4" cy="425.0" r="3"/><circle cx="722.9" cy="424.7" r="3"/><circle cx="735.8" cy="415.2" r="3"/><circle cx="753.9" cy="415.8" r="3"/><circle cx="730.6" cy="401.0" r="3"/><circle cx="708.2" cy="417.4" r="3"/><circle cx="704.4" cy="432.9" r="3"/><circle cx="704.4" cy="418.6" r="3"/><circle cx="719.0" cy="420.4" r="3"/><circle cx="719.7" cy="426.3" r="3"/><circle cx="716.2" cy="422.8" r="3"/><circle cx="704.4" cy="410.7" r="3"/><circle cx="741.2" cy="411.6" r="3"/><circle cx="728.3" cy="417.9" r="3"/><circle cx="708.1" cy="418.9" r="3"/><circle cx="745.6" cy="408.4" r="3"/><circle cx="730.6" cy="413.2" r="3"/><circle cx="724.7" cy="416.4" r="3"/><circle cx="704.8" cy="414.5" r="3"/><circle cx="722.4" cy="413.3" r="3"/><circle cx="713.0" cy="412.1" r="3"/><circle cx="714.1" cy="429.5" r="3"/><circle cx="708.5" cy="411.3" r="3"/><circle cx="727.1" cy="408.2" r="3"/><circle cx="707.5" cy="419.3" r="3"/><circle cx="750.2" cy="423.5" r="3"/><circle cx="704.4" cy="424.5" r="3"/><circle cx="734.8" cy="405.3" r="3"/><circle cx="771.4" cy="404.1" r="3"/><circle cx="757.8" cy="406.6" r="3"/><circle cx="737.9" cy="415.4" r="3"/><circle cx="748.9" cy="396.0" r="3"/><circle cx="736.0" cy="399.9" r="3"/><circle cx="716.3" cy="394.9" r="3"/><circle cx="726.0" cy="386.6" r="3"/><circle cx="788.5" cy="370.6" r="3"/><circle cx="771.9" cy="379.5" r="3"/><circle cx="704.4" cy="422.7" r="3"/><circle cx="750.8" cy="395.2" r="3"/><circle cx="794.9" cy="362.4" r="3"/><circle cx="808.0" cy="355.3" r="3"/><circle cx="813.7" cy="340.6" r="3"/><circle cx="759.5" cy="379.7" r="3"/><circle cx="747.9" cy="373.2" r="3"/><circle cx="736.7" cy="380.7" r="3"/><circle cx="725.5" cy="411.7" r="3"/><circle cx="725.2" cy="417.2" r="3"/><circle cx="704.4" cy="428.3" r="3"/><circle cx="704.4" cy="408.9" r="3"/><circle cx="708.3" cy="421.1" r="3"/><circle cx="706.4" cy="410.6" r="3"/><circle cx="740.3" cy="394.2" r="3"/><circle cx="752.7" cy="393.7" r="3"/><circle cx="789.0" cy="353.6" r="3"/><circle cx="825.1" cy="314.8" r="3"/><circle cx="800.2" cy="334.7" r="3"/><circle cx="801.6" cy="345.5" r="3"/><circle cx="753.2" cy="371.9" r="3"/><circle cx="717.8" cy="391.0" r="3"/><circle cx="748.3" cy="375.0" r="3"/><circle cx="775.1" cy="349.1" r="3"/><circle cx="789.6" cy="351.1" r="3"/><circle cx="813.5" cy="328.2" r="3"/><circle cx="813.3" cy="351.9" r="3"/><circle cx="803.3" cy="352.9" r="3"/><circle cx="785.5" cy="328.5" r="3"/><circle cx="785.1" cy="327.1" r="3"/><circle cx="800.0" cy="294.0" r="3"/><circle cx="791.1" cy="311.6" r="3"/><circle cx="789.9" cy="321.9" r="3"/><circle cx="791.7" cy="325.6" r="3"/><circle cx="780.7" cy="346.8" r="3"/><circle cx="729.8" cy="377.9" r="3"/><circle cx="784.1" cy="349.6" r="3"/><circle cx="768.6" cy="360.3" r="3"/><circle cx="740.2" cy="344.4" r="3"/><circle cx="704.4" cy="384.1" r="3"/><circle cx="720.2" cy="384.3" r="3"/><circle cx="704.4" cy="390.4" r="3"/><circle cx="704.4" cy="390.3" r="3"/><circle cx="704.4" cy="435.8" r="3"/><circle cx="704.4" cy="421.3" r="3"/><circle cx="754.9" cy="377.3" r="3"/><circle cx="777.0" cy="360.7" r="3"/><circle cx="761.4" cy="369.0" r="3"/><circle cx="762.3" cy="362.2" r="3"/><circle cx="810.6" cy="314.9" r="3"/><circle cx="731.4" cy="397.2" r="3"/><circle cx="760.4" cy="363.6" r="3"/><circle cx="779.4" cy="343.4" r="3"/><circle cx="823.6" cy="324.5" r="3"/><circle cx="848.1" cy="285.0" r="3"/><circle cx="881.7" cy="246.0" r="3"/><circle cx="879.0" cy="241.3" r="3"/><circle cx="879.4" cy="259.0" r="3"/><circle cx="893.3" cy="243.2" r="3"/><circle cx="880.5" cy="255.2" r="3"/><circle cx="885.3" cy="264.8" r="3"/><circle cx="895.8" cy="235.5" r="3"/><circle cx="921.3" cy="213.5" r="3"/><circle cx="901.4" cy="223.2" r="3"/><circle cx="892.9" cy="245.9" r="3"/><circle cx="927.6" cy="226.2" r="3"/><circle cx="939.3" cy="220.4" r="3"/><circle cx="935.0" cy="241.9" r="3"/><circle cx="969.4" cy="202.4" r="3"/><circle cx="907.0" cy="237.8" r="3"/><circle cx="882.0" cy="234.1" r="3"/><circle cx="846.7" cy="257.1" r="3"/><circle cx="854.5" cy="238.2" r="3"/><circle cx="874.1" cy="214.6" r="3"/><circle cx="820.6" cy="250.9" r="3"/><circle cx="812.0" cy="282.2" r="3"/><circle cx="830.0" cy="262.0" r="3"/><circle cx="820.9" cy="277.8" r="3"/><circle cx="840.2" cy="312.8" r="3"/><circle cx="863.9" cy="274.6" r="3"/><circle cx="873.4" cy="258.7" r="3"/><circle cx="872.5" cy="251.7" r="3"/><circle cx="884.0" cy="248.9" r="3"/><circle cx="900.9" cy="240.5" r="3"/><circle cx="911.8" cy="231.8" r="3"/><circle cx="920.7" cy="208.9" r="3"/><circle cx="878.2" cy="242.5" r="3"/><circle cx="837.6" cy="266.6" r="3"/><circle cx="878.3" cy="254.1" r="3"/><circle cx="852.9" cy="263.0" r="3"/><circle cx="852.6" cy="240.1" r="3"/><circle cx="885.7" cy="235.5" r="3"/><circle cx="872.7" cy="251.8" r="3"/><circle cx="895.6" cy="255.8" r="3"/><circle cx="930.1" cy="254.9" r="3"/><circle cx="942.8" cy="241.1" r="3"/><circle cx="923.0" cy="240.4" r="3"/><circle cx="897.5" cy="251.6" r="3"/><circle cx="926.7" cy="223.0" r="3"/><circle cx="993.6" cy="162.6" r="3"/><circle cx="948.4" cy="171.4" r="3"/><circle cx="998.6" cy="162.0" r="3"/><circle cx="1031.2" cy="149.2" r="3"/><circle cx="1029.2" cy="152.2" r="3"/><circle cx="992.3" cy="178.0" r="3"/><circle cx="961.2" cy="201.0" r="3"/><circle cx="930.9" cy="191.5" r="3"/><circle cx="913.0" cy="218.6" r="3"/><circle cx="872.1" cy="253.2" r="3"/><circle cx="878.8" cy="277.2" r="3"/><circle cx="913.7" cy="245.0" r="3"/><circle cx="871.2" cy="270.6" r="3"/><circle cx="878.5" cy="247.5" r="3"/><circle cx="906.2" cy="251.1" r="3"/><circle cx="897.8" cy="223.1" r="3"/><circle cx="901.1" cy="223.1" r="3"/><circle cx="934.4" cy="211.4" r="3"/><circle cx="894.5" cy="242.7" r="3"/><circle cx="905.3" cy="244.9" r="3"/><circle cx="910.2" cy="261.6" r="3"/><circle cx="935.1" cy="223.7" r="3"/><circle cx="929.1" cy="214.2" r="3"/><circle cx="882.4" cy="245.6" r="3"/><circle cx="924.3" cy="236.9" r="3"/><circle cx="935.4" cy="235.4" r="3"/><circle cx="953.4" cy="213.9" r="3"/><circle cx="893.9" cy="249.9" r="3"/><circle cx="869.6" cy="258.2" r="3"/><circle cx="882.0" cy="262.2" r="3"/><circle cx="982.5" cy="190.2" r="3"/><circle cx="993.1" cy="172.9" r="3"/><circle cx="999.8" cy="173.8" r="3"/><circle cx="973.2" cy="186.7" r="3"/><circle cx="1005.1" cy="155.8" r="3"/><circle cx="996.5" cy="175.3" r="3"/><circle cx="1036.3" cy="159.0" r="3"/><circle cx="1042.6" cy="164.8" r="3"/><circle cx="1039.7" cy="150.6" r="3"/><circle cx="982.6" cy="176.4" r="3"/><circle cx="1007.3" cy="185.4" r="3"/><circle cx="1021.3" cy="178.8" r="3"/><circle cx="976.2" cy="190.7" r="3"/><circle cx="968.4" cy="187.6" r="3"/><circle cx="994.2" cy="173.7" r="3"/><circle cx="965.0" cy="185.7" r="3"/><circle cx="929.9" cy="230.5" r="3"/><circle cx="930.0" cy="226.3" r="3"/><circle cx="940.7" cy="234.2" r="3"/><circle cx="942.3" cy="241.3" r="3"/><circle cx="920.1" cy="243.0" r="3"/><circle cx="951.7" cy="232.4" r="3"/><circle cx="903.1" cy="286.6" r="3"/><circle cx="949.3" cy="248.2" r="3"/><circle cx="962.9" cy="243.3" r="3"/><circle cx="984.3" cy="210.9" r="3"/><circle cx="1032.3" cy="167.6" r="3"/><circle cx="1058.3" cy="160.2" r="3"/><circle cx="941.9" cy="218.7" r="3"/><circle cx="912.6" cy="230.5" r="3"/><circle cx="915.3" cy="255.7" r="3"/><circle cx="916.7" cy="250.7" r="3"/><circle cx="941.7" cy="227.8" r="3"/><circle cx="908.3" cy="277.9" r="3"/><circle cx="951.2" cy="250.1" r="3"/><circle cx="920.3" cy="275.3" r="3"/><circle cx="950.5" cy="239.9" r="3"/><circle cx="926.0" cy="242.7" r="3"/><circle cx="931.0" cy="240.4" r="3"/><circle cx="956.5" cy="234.6" r="3"/><circle cx="958.1" cy="240.0" r="3"/><circle cx="958.5" cy="234.1" r="3"/><circle cx="924.1" cy="250.8" r="3"/><circle cx="935.5" cy="262.0" r="3"/><circle cx="997.0" cy="196.6" r="3"/><circle cx="1029.4" cy="157.2" r="3"/><circle cx="1065.7" cy="146.9" r="3"/><circle cx="1051.7" cy="141.0" r="3"/><circle cx="1027.0" cy="172.9" r="3"/><circle cx="1050.7" cy="153.5" r="3"/><circle cx="1058.0" cy="153.1" r="3"/><circle cx="1000.3" cy="193.2" r="3"/><circle cx="991.0" cy="194.9" r="3"/><circle cx="979.6" cy="200.4" r="3"/><circle cx="916.1" cy="222.9" r="3"/><circle cx="973.3" cy="223.4" r="3"/><circle cx="955.1" cy="246.1" r="3"/><circle cx="960.6" cy="256.7" r="3"/><circle cx="1015.7" cy="198.7" r="3"/><circle cx="1009.6" cy="206.2" r="3"/><circle cx="971.7" cy="235.9" r="3"/><circle cx="1001.2" cy="204.2" r="3"/><circle cx="1026.6" cy="188.4" r="3"/><circle cx="955.9" cy="230.9" r="3"/><circle cx="973.9" cy="237.1" r="3"/><circle cx="978.8" cy="232.7" r="3"/><circle cx="981.4" cy="222.8" r="3"/><circle cx="948.7" cy="230.1" r="3"/><circle cx="1012.1" cy="198.0" r="3"/><circle cx="1005.7" cy="214.9" r="3"/><circle cx="969.7" cy="231.2" r="3"/><circle cx="952.4" cy="244.5" r="3"/><circle cx="993.2" cy="224.6" r="3"/><circle cx="925.7" cy="267.0" r="3"/><circle cx="912.7" cy="279.5" r="3"/><circle cx="908.4" cy="293.1" r="3"/><circle cx="930.6" cy="272.7" r="3"/><circle cx="956.3" cy="240.5" r="3"/><circle cx="970.3" cy="231.5" r="3"/><circle cx="922.1" cy="275.4" r="3"/><circle cx="934.2" cy="256.5" r="3"/><circle cx="955.6" cy="253.7" r="3"/><circle cx="963.7" cy="265.0" r="3"/><circle cx="929.1" cy="263.3" r="3"/><circle cx="913.3" cy="293.4" r="3"/><circle cx="844.0" cy="337.0" r="3"/><circle cx="864.0" cy="324.5" r="3"/><circle cx="868.0" cy="361.9" r="3"/><circle cx="870.4" cy="346.5" r="3"/><circle cx="902.3" cy="323.8" r="3"/><circle cx="934.7" cy="316.2" r="3"/><circle cx="957.2" cy="270.1" r="3"/><circle cx="956.7" cy="277.2" r="3"/><circle cx="918.7" cy="309.1" r="3"/><circle cx="862.7" cy="339.0" r="3"/><circle cx="853.3" cy="338.2" r="3"/><circle cx="822.9" cy="367.1" r="3"/><circle cx="850.3" cy="347.2" r="3"/><circle cx="850.1" cy="348.7" r="3"/><circle cx="810.9" cy="388.7" r="3"/><circle cx="858.4" cy="361.7" r="3"/><circle cx="859.9" cy="360.4" r="3"/><circle cx="871.7" cy="342.6" r="3"/><circle cx="902.3" cy="321.7" r="3"/><circle cx="917.4" cy="302.3" r="3"/><circle cx="902.6" cy="312.3" r="3"/><circle cx="939.8" cy="282.4" r="3"/><circle cx="908.8" cy="291.8" r="3"/><circle cx="894.5" cy="288.3" r="3"/><circle cx="902.9" cy="285.5" r="3"/><circle cx="873.7" cy="337.6" r="3"/><circle cx="895.9" cy="341.9" r="3"/><circle cx="921.2" cy="341.2" r="3"/><circle cx="884.0" cy="338.8" r="3"/><circle cx="829.0" cy="375.9" r="3"/><circle cx="896.4" cy="323.5" r="3"/><circle cx="907.4" cy="329.1" r="3"/><circle cx="871.8" cy="352.1" r="3"/><circle cx="781.5" cy="397.3" r="3"/><circle cx="782.2" cy="396.4" r="3"/><circle cx="815.3" cy="386.0" r="3"/><circle cx="745.9" cy="398.6" r="3"/><circle cx="770.2" cy="388.7" r="3"/><circle cx="779.2" cy="399.2" r="3"/><circle cx="824.7" cy="369.0" r="3"/><circle cx="801.2" cy="382.6" r="3"/><circle cx="802.5" cy="375.5" r="3"/><circle cx="815.1" cy="367.4" r="3"/><circle cx="911.3" cy="300.6" r="3"/><circle cx="866.0" cy="337.1" r="3"/><circle cx="863.0" cy="350.0" r="3"/><circle cx="823.5" cy="376.2" r="3"/><circle cx="845.1" cy="357.7" r="3"/><circle cx="805.3" cy="378.9" r="3"/><circle cx="780.2" cy="393.7" r="3"/><circle cx="779.2" cy="396.1" r="3"/><circle cx="730.0" cy="402.0" r="3"/><circle cx="716.8" cy="407.6" r="3"/><circle cx="745.6" cy="418.6" r="3"/><circle cx="714.2" cy="419.0" r="3"/><circle cx="749.5" cy="410.6" r="3"/><circle cx="730.1" cy="402.1" r="3"/><circle cx="745.1" cy="412.5" r="3"/><circle cx="706.3" cy="428.7" r="3"/><circle cx="704.4" cy="421.1" r="3"/><circle cx="706.9" cy="424.6" r="3"/><circle cx="735.4" cy="417.4" r="3"/><circle cx="764.0" cy="407.6" r="3"/><circle cx="791.2" cy="402.0" r="3"/><circle cx="746.2" cy="418.5" r="3"/><circle cx="725.2" cy="422.8" r="3"/><circle cx="731.3" cy="411.4" r="3"/><circle cx="742.2" cy="421.0" r="3"/><circle cx="704.5" cy="413.4" r="3"/><circle cx="786.3" cy="395.8" r="3"/><circle cx="791.7" cy="390.8" r="3"/><circle cx="828.3" cy="367.8" r="3"/><circle cx="809.9" cy="382.4" r="3"/><circle cx="846.1" cy="363.3" r="3"/><circle cx="811.3" cy="386.3" r="3"/><circle cx="820.8" cy="393.0" r="3"/><circle cx="860.0" cy="338.7" r="3"/><circle cx="872.7" cy="319.6" r="3"/><circle cx="813.3" cy="353.0" r="3"/><circle cx="826.6" cy="357.3" r="3"/><circle cx="843.8" cy="364.4" r="3"/><circle cx="834.0" cy="341.5" r="3"/><circle cx="840.1" cy="366.0" r="3"/><circle cx="779.2" cy="405.8" r="3"/><circle cx="742.5" cy="414.2" r="3"/><circle cx="740.5" cy="408.9" r="3"/><circle cx="734.0" cy="410.6" r="3"/><circle cx="795.9" cy="380.4" r="3"/><circle cx="821.9" cy="362.1" r="3"/><circle cx="811.9" cy="362.3" r="3"/><circle cx="774.0" cy="396.2" r="3"/><circle cx="807.0" cy="366.3" r="3"/><circle cx="841.3" cy="325.4" r="3"/><circle cx="848.2" cy="325.4" r="3"/><circle cx="832.8" cy="340.5" r="3"/><circle cx="810.1" cy="331.7" r="3"/><circle cx="836.6" cy="314.8" r="3"/><circle cx="813.1" cy="352.3" r="3"/><circle cx="778.6" cy="369.3" r="3"/><circle cx="762.8" cy="374.1" r="3"/><circle cx="797.9" cy="364.3" r="3"/><circle cx="802.8" cy="372.3" r="3"/><circle cx="778.4" cy="371.1" r="3"/><circle cx="743.7" cy="389.1" r="3"/><circle cx="728.6" cy="394.2" r="3"/><circle cx="715.8" cy="403.9" r="3"/><circle cx="704.4" cy="421.2" r="3"/><circle cx="714.3" cy="415.4" r="3"/><circle cx="759.2" cy="388.4" r="3"/><circle cx="733.1" cy="410.5" r="3"/><circle cx="717.9" cy="408.5" r="3"/><circle cx="737.0" cy="396.8" r="3"/><circle cx="723.7" cy="416.9" r="3"/><circle cx="714.4" cy="422.5" r="3"/><circle cx="704.4" cy="437.3" r="3"/><circle cx="717.0" cy="412.7" r="3"/><circle cx="799.6" cy="353.6" r="3"/><circle cx="851.0" cy="309.3" r="3"/><circle cx="818.7" cy="333.9" r="3"/><circle cx="809.1" cy="329.8" r="3"/><circle cx="796.8" cy="343.0" r="3"/><circle cx="805.2" cy="348.9" r="3"/><circle cx="815.7" cy="317.5" r="3"/><circle cx="769.9" cy="379.4" r="3"/><circle cx="797.3" cy="356.4" r="3"/><circle cx="749.2" cy="372.6" r="3"/><circle cx="778.1" cy="327.4" r="3"/><circle cx="765.0" cy="337.2" r="3"/><circle cx="756.8" cy="366.8" r="3"/><circle cx="778.0" cy="378.4" r="3"/><circle cx="807.9" cy="357.7" r="3"/><circle cx="791.7" cy="366.8" r="3"/><circle cx="794.3" cy="359.4" r="3"/><circle cx="780.8" cy="379.3" r="3"/><circle cx="736.9" cy="405.4" r="3"/><circle cx="730.8" cy="403.8" r="3"/><circle cx="763.3" cy="378.9" r="3"/><circle cx="743.0" cy="381.4" r="3"/><circle cx="732.5" cy="384.8" r="3"/><circle cx="764.9" cy="361.1" r="3"/><circle cx="754.0" cy="380.0" r="3"/><circle cx="742.0" cy="388.7" r="3"/><circle cx="751.5" cy="401.7" r="3"/><circle cx="796.4" cy="367.0" r="3"/><circle cx="742.9" cy="409.2" r="3"/><circle cx="771.6" cy="383.2" r="3"/><circle cx="749.5" cy="385.0" r="3"/><circle cx="705.9" cy="415.1" r="3"/><circle cx="741.6" cy="374.1" r="3"/><circle cx="754.8" cy="378.4" r="3"/><circle cx="713.9" cy="417.2" r="3"/><circle cx="718.9" cy="413.2" r="3"/><circle cx="751.9" cy="388.3" r="3"/><circle cx="764.6" cy="361.0" r="3"/><circle cx="768.5" cy="377.3" r="3"/><circle cx="766.2" cy="356.3" r="3"/><circle cx="761.9" cy="348.9" r="3"/><circle cx="744.3" cy="364.9" r="3"/><circle cx="762.8" cy="362.8" r="3"/><circle cx="765.8" cy="360.6" r="3"/><circle cx="746.1" cy="381.1" r="3"/><circle cx="718.0" cy="386.3" r="3"/><circle cx="758.3" cy="376.7" r="3"/><circle cx="769.0" cy="376.1" r="3"/><circle cx="743.9" cy="389.2" r="3"/><circle cx="765.9" cy="398.5" r="3"/><circle cx="779.5" cy="359.0" r="3"/><circle cx="789.4" cy="353.0" r="3"/><circle cx="793.4" cy="337.2" r="3"/><circle cx="813.7" cy="317.3" r="3"/><circle cx="854.3" cy="303.6" r="3"/><circle cx="893.9" cy="247.8" r="3"/><circle cx="833.9" cy="303.0" r="3"/><circle cx="861.7" cy="290.2" r="3"/><circle cx="852.5" cy="308.7" r="3"/><circle cx="871.4" cy="293.0" r="3"/><circle cx="885.3" cy="250.0" r="3"/><circle cx="838.7" cy="319.4" r="3"/><circle cx="828.3" cy="333.4" r="3"/><circle cx="823.5" cy="328.9" r="3"/><circle cx="826.8" cy="316.8" r="3"/><circle cx="846.1" cy="301.4" r="3"/><circle cx="811.9" cy="307.8" r="3"/><circle cx="794.5" cy="307.3" r="3"/><circle cx="836.7" cy="294.8" r="3"/><circle cx="794.7" cy="312.6" r="3"/><circle cx="821.7" cy="286.6" r="3"/><circle cx="769.3" cy="340.4" r="3"/><circle cx="794.5" cy="313.8" r="3"/><circle cx="791.8" cy="345.3" r="3"/><circle cx="834.6" cy="320.4" r="3"/><circle cx="820.4" cy="319.1" r="3"/><circle cx="808.2" cy="338.6" r="3"/><circle cx="782.1" cy="319.6" r="3"/><circle cx="779.2" cy="340.7" r="3"/><circle cx="745.0" cy="362.3" r="3"/><circle cx="735.2" cy="384.8" r="3"/><circle cx="725.4" cy="369.9" r="3"/><circle cx="743.2" cy="343.3" r="3"/><circle cx="816.7" cy="310.5" r="3"/><circle cx="809.2" cy="315.3" r="3"/><circle cx="829.1" cy="295.7" r="3"/><circle cx="816.7" cy="286.9" r="3"/><circle cx="852.0" cy="298.8" r="3"/><circle cx="872.8" cy="271.4" r="3"/><circle cx="873.2" cy="249.6" r="3"/><circle cx="857.4" cy="274.9" r="3"/><circle cx="872.2" cy="267.8" r="3"/><circle cx="886.5" cy="271.3" r="3"/><circle cx="867.9" cy="274.2" r="3"/><circle cx="858.2" cy="284.3" r="3"/><circle cx="901.8" cy="254.6" r="3"/><circle cx="862.7" cy="285.0" r="3"/><circle cx="891.4" cy="257.8" r="3"/><circle cx="859.5" cy="281.3" r="3"/><circle cx="856.3" cy="269.5" r="3"/><circle cx="855.4" cy="255.4" r="3"/><circle cx="839.9" cy="276.3" r="3"/><circle cx="908.2" cy="226.8" r="3"/><circle cx="909.3" cy="227.2" r="3"/><circle cx="953.4" cy="193.0" r="3"/><circle cx="952.3" cy="180.3" r="3"/><circle cx="916.9" cy="219.7" r="3"/><circle cx="877.0" cy="234.6" r="3"/><circle cx="902.7" cy="218.6" r="3"/><circle cx="888.1" cy="227.3" r="3"/><circle cx="901.1" cy="227.7" r="3"/><circle cx="859.6" cy="253.1" r="3"/><circle cx="845.4" cy="288.7" r="3"/><circle cx="826.3" cy="284.8" r="3"/><circle cx="794.3" cy="324.7" r="3"/><circle cx="811.4" cy="303.9" r="3"/><circle cx="817.7" cy="298.9" r="3"/><circle cx="829.8" cy="309.2" r="3"/><circle cx="818.7" cy="299.9" r="3"/><circle cx="866.4" cy="281.4" r="3"/><circle cx="844.5" cy="300.9" r="3"/><circle cx="798.3" cy="335.2" r="3"/><circle cx="792.9" cy="329.8" r="3"/><circle cx="775.1" cy="360.6" r="3"/><circle cx="786.2" cy="358.7" r="3"/><circle cx="851.9" cy="297.3" r="3"/><circle cx="857.7" cy="305.2" r="3"/><circle cx="883.8" cy="271.1" r="3"/><circle cx="872.3" cy="293.4" r="3"/><circle cx="872.0" cy="276.0" r="3"/><circle cx="878.3" cy="269.8" r="3"/><circle cx="891.1" cy="266.3" r="3"/><circle cx="923.2" cy="237.3" r="3"/><circle cx="954.3" cy="201.2" r="3"/><circle cx="946.1" cy="214.9" r="3"/><circle cx="986.0" cy="193.6" r="3"/><circle cx="949.0" cy="228.2" r="3"/><circle cx="939.3" cy="221.8" r="3"/><circle cx="958.6" cy="222.3" r="3"/><circle cx="960.4" cy="207.4" r="3"/><circle cx="960.1" cy="192.0" r="3"/><circle cx="1008.0" cy="165.1" r="3"/><circle cx="921.2" cy="234.5" r="3"/><circle cx="948.6" cy="225.8" r="3"/><circle cx="971.5" cy="209.2" r="3"/><circle cx="974.8" cy="203.7" r="3"/><circle cx="917.9" cy="241.5" r="3"/><circle cx="910.0" cy="251.7" r="3"/><circle cx="911.4" cy="263.5" r="3"/><circle cx="919.4" cy="253.5" r="3"/><circle cx="999.5" cy="190.2" r="3"/><circle cx="975.7" cy="180.4" r="3"/><circle cx="964.5" cy="198.0" r="3"/><circle cx="923.4" cy="212.0" r="3"/><circle cx="921.6" cy="242.9" r="3"/><circle cx="985.5" cy="195.3" r="3"/><circle cx="918.7" cy="227.3" r="3"/><circle cx="933.5" cy="220.9" r="3"/><circle cx="918.4" cy="207.8" r="3"/><circle cx="940.3" cy="191.5" r="3"/><circle cx="928.5" cy="194.8" r="3"/><circle cx="931.0" cy="225.1" r="3"/><circle cx="891.8" cy="263.4" r="3"/><circle cx="902.2" cy="259.3" r="3"/><circle cx="837.4" cy="305.9" r="3"/><circle cx="879.2" cy="276.0" r="3"/><circle cx="904.4" cy="250.8" r="3"/><circle cx="928.2" cy="240.7" r="3"/><circle cx="1009.7" cy="188.8" r="3"/><circle cx="1037.0" cy="154.6" r="3"/><circle cx="980.5" cy="197.7" r="3"/><circle cx="1005.2" cy="173.2" r="3"/><circle cx="1059.5" cy="141.6" r="3"/><circle cx="1027.7" cy="164.1" r="3"/><circle cx="1012.1" cy="182.3" r="3"/><circle cx="1025.8" cy="173.2" r="3"/><circle cx="960.6" cy="216.5" r="3"/><circle cx="1031.7" cy="165.4" r="3"/><circle cx="950.4" cy="218.8" r="3"/><circle cx="941.7" cy="243.9" r="3"/><circle cx="958.1" cy="227.8" r="3"/><circle cx="931.2" cy="229.7" r="3"/><circle cx="976.3" cy="203.6" r="3"/><circle cx="1010.5" cy="196.1" r="3"/><circle cx="973.7" cy="202.1" r="3"/><circle cx="1001.2" cy="183.4" r="3"/><circle cx="961.7" cy="228.0" r="3"/><circle cx="972.1" cy="228.8" r="3"/><circle cx="950.5" cy="232.1" r="3"/><circle cx="967.9" cy="229.1" r="3"/><circle cx="989.0" cy="225.3" r="3"/><circle cx="956.8" cy="233.4" r="3"/><circle cx="937.7" cy="244.5" r="3"/><circle cx="944.2" cy="228.3" r="3"/><circle cx="979.5" cy="206.8" r="3"/><circle cx="943.5" cy="232.6" r="3"/><circle cx="1019.6" cy="183.0" r="3"/><circle cx="1003.4" cy="190.3" r="3"/><circle cx="1001.5" cy="187.8" r="3"/><circle cx="1038.9" cy="166.7" r="3"/><circle cx="1010.7" cy="177.9" r="3"/><circle cx="964.0" cy="200.5" r="3"/><circle cx="947.9" cy="214.8" r="3"/><circle cx="985.6" cy="195.5" r="3"/><circle cx="962.8" cy="213.1" r="3"/><circle cx="951.4" cy="211.1" r="3"/><circle cx="896.5" cy="253.0" r="3"/><circle cx="913.2" cy="258.2" r="3"/><circle cx="932.6" cy="257.6" r="3"/><circle cx="922.1" cy="265.7" r="3"/><circle cx="959.4" cy="234.3" r="3"/><circle cx="946.3" cy="243.5" r="3"/><circle cx="996.8" cy="206.8" r="3"/><circle cx="989.8" cy="203.6" r="3"/><circle cx="976.1" cy="207.3" r="3"/><circle cx="949.6" cy="213.4" r="3"/><circle cx="934.9" cy="218.9" r="3"/><circle cx="950.3" cy="214.4" r="3"/><circle cx="947.6" cy="237.6" r="3"/><circle cx="958.1" cy="217.0" r="3"/><circle cx="970.5" cy="219.2" r="3"/><circle cx="977.0" cy="232.0" r="3"/><circle cx="957.0" cy="248.4" r="3"/><circle cx="947.2" cy="274.1" r="3"/><circle cx="925.9" cy="255.1" r="3"/><circle cx="898.9" cy="273.1" r="3"/><circle cx="912.8" cy="246.2" r="3"/><circle cx="922.3" cy="257.5" r="3"/><circle cx="881.0" cy="313.4" r="3"/><circle cx="868.6" cy="326.3" r="3"/><circle cx="843.2" cy="356.9" r="3"/><circle cx="883.7" cy="319.6" r="3"/><circle cx="894.1" cy="302.0" r="3"/><circle cx="935.9" cy="268.6" r="3"/><circle cx="911.9" cy="294.6" r="3"/><circle cx="883.4" cy="304.3" r="3"/><circle cx="920.4" cy="266.4" r="3"/><circle cx="961.7" cy="254.1" r="3"/><circle cx="968.4" cy="253.5" r="3"/><circle cx="994.8" cy="227.2" r="3"/><circle cx="1040.0" cy="187.4" r="3"/><circle cx="1041.3" cy="178.4" r="3"/><circle cx="1046.9" cy="180.8" r="3"/><circle cx="1005.7" cy="189.1" r="3"/><circle cx="1005.0" cy="195.5" r="3"/><circle cx="956.9" cy="231.8" r="3"/><circle cx="946.7" cy="259.5" r="3"/><circle cx="970.0" cy="263.9" r="3"/><circle cx="932.0" cy="284.3" r="3"/><circle cx="902.9" cy="298.5" r="3"/><circle cx="900.6" cy="286.3" r="3"/><circle cx="955.9" cy="234.3" r="3"/><circle cx="922.0" cy="271.6" r="3"/><circle cx="937.5" cy="271.0" r="3"/><circle cx="949.6" cy="280.3" r="3"/><circle cx="941.0" cy="276.4" r="3"/><circle cx="949.4" cy="251.8" r="3"/><circle cx="913.1" cy="284.5" r="3"/><circle cx="889.6" cy="300.0" r="3"/><circle cx="846.9" cy="335.9" r="3"/><circle cx="825.9" cy="352.4" r="3"/><circle cx="853.8" cy="326.6" r="3"/><circle cx="848.5" cy="338.0" r="3"/><circle cx="835.1" cy="362.6" r="3"/><circle cx="875.9" cy="353.8" r="3"/><circle cx="871.9" cy="345.6" r="3"/><circle cx="875.3" cy="318.5" r="3"/><circle cx="849.2" cy="341.5" r="3"/><circle cx="811.5" cy="354.2" r="3"/><circle cx="778.3" cy="380.5" r="3"/><circle cx="744.7" cy="411.8" r="3"/><circle cx="825.8" cy="362.3" r="3"/><circle cx="811.2" cy="383.0" r="3"/><circle cx="790.3" cy="394.2" r="3"/><circle cx="826.9" cy="374.4" r="3"/><circle cx="820.5" cy="377.1" r="3"/><circle cx="792.0" cy="378.1" r="3"/><circle cx="773.3" cy="381.4" r="3"/><circle cx="825.7" cy="368.5" r="3"/><circle cx="800.0" cy="380.2" r="3"/><circle cx="713.0" cy="418.5" r="3"/><circle cx="782.8" cy="391.8" r="3"/><circle cx="729.5" cy="408.4" r="3"/><circle cx="715.6" cy="408.8" r="3"/><circle cx="751.3" cy="394.7" r="3"/><circle cx="781.1" cy="373.4" r="3"/><circle cx="804.8" cy="355.4" r="3"/><circle cx="800.3" cy="353.8" r="3"/><circle cx="832.9" cy="338.1" r="3"/><circle cx="856.5" cy="316.2" r="3"/><circle cx="877.7" cy="299.9" r="3"/><circle cx="900.0" cy="276.1" r="3"/><circle cx="881.8" cy="299.9" r="3"/><circle cx="899.1" cy="315.3" r="3"/><circle cx="886.8" cy="318.9" r="3"/><circle cx="829.3" cy="351.1" r="3"/><circle cx="863.3" cy="338.6" r="3"/><circle cx="823.0" cy="373.2" r="3"/><circle cx="850.0" cy="379.0" r="3"/><circle cx="741.1" cy="411.3" r="3"/><circle cx="738.3" cy="401.4" r="3"/><circle cx="724.9" cy="409.4" r="3"/><circle cx="734.2" cy="401.7" r="3"/><circle cx="818.0" cy="362.8" r="3"/><circle cx="806.8" cy="379.0" r="3"/><circle cx="791.5" cy="382.6" r="3"/><circle cx="769.9" cy="396.6" r="3"/><circle cx="778.6" cy="387.1" r="3"/><circle cx="809.1" cy="386.0" r="3"/><circle cx="844.9" cy="355.2" r="3"/><circle cx="880.0" cy="332.7" r="3"/><circle cx="879.8" cy="343.7" r="3"/><circle cx="788.9" cy="395.3" r="3"/><circle cx="724.6" cy="422.1" r="3"/><circle cx="719.9" cy="423.0" r="3"/><circle cx="752.5" cy="424.1" r="3"/><circle cx="754.1" cy="415.4" r="3"/><circle cx="748.0" cy="410.2" r="3"/><circle cx="734.4" cy="414.8" r="3"/><circle cx="716.4" cy="422.2" r="3"/><circle cx="788.5" cy="389.8" r="3"/><circle cx="746.0" cy="399.8" r="3"/><circle cx="732.6" cy="406.4" r="3"/><circle cx="729.9" cy="412.8" r="3"/><circle cx="754.4" cy="400.2" r="3"/><circle cx="776.9" cy="380.4" r="3"/><circle cx="805.4" cy="364.6" r="3"/><circle cx="841.6" cy="337.2" r="3"/><circle cx="838.1" cy="335.4" r="3"/><circle cx="869.9" cy="293.9" r="3"/><circle cx="860.3" cy="304.1" r="3"/><circle cx="803.6" cy="366.6" r="3"/><circle cx="772.9" cy="383.1" r="3"/><circle cx="796.6" cy="370.6" r="3"/><circle cx="752.1" cy="400.1" r="3"/><circle cx="778.1" cy="374.7" r="3"/><circle cx="786.1" cy="378.8" r="3"/><circle cx="740.1" cy="410.5" r="3"/><circle cx="785.4" cy="378.3" r="3"/><circle cx="825.1" cy="358.8" r="3"/><circle cx="784.2" cy="374.1" r="3"/><circle cx="814.7" cy="351.6" r="3"/><circle cx="812.7" cy="342.3" r="3"/><circle cx="811.1" cy="349.6" r="3"/><circle cx="749.5" cy="407.2" r="3"/><circle cx="743.9" cy="427.8" r="3"/><circle cx="767.6" cy="403.5" r="3"/><circle cx="753.8" cy="414.8" r="3"/><circle cx="771.1" cy="395.5" r="3"/><circle cx="729.5" cy="411.3" r="3"/><circle cx="728.1" cy="405.7" r="3"/><circle cx="716.2" cy="422.6" r="3"/><circle cx="771.2" cy="392.7" r="3"/><circle cx="757.2" cy="395.2" r="3"/><circle cx="716.8" cy="413.7" r="3"/><circle cx="704.4" cy="433.5" r="3"/><circle cx="751.6" cy="396.2" r="3"/><circle cx="734.4" cy="410.7" r="3"/><circle cx="742.0" cy="397.2" r="3"/><circle cx="729.1" cy="407.8" r="3"/><circle cx="727.3" cy="397.6" r="3"/><circle cx="704.4" cy="434.5" r="3"/><circle cx="760.8" cy="387.1" r="3"/><circle cx="704.4" cy="414.1" r="3"/><circle cx="746.8" cy="407.2" r="3"/><circle cx="715.2" cy="412.6" r="3"/><circle cx="783.8" cy="351.2" r="3"/><circle cx="764.1" cy="377.7" r="3"/><circle cx="817.5" cy="339.2" r="3"/><circle cx="772.9" cy="357.9" r="3"/><circle cx="763.5" cy="374.6" r="3"/><circle cx="771.3" cy="360.4" r="3"/><circle cx="835.5" cy="334.1" r="3"/><circle cx="857.9" cy="328.2" r="3"/><circle cx="821.9" cy="336.6" r="3"/><circle cx="801.5" cy="350.2" r="3"/><circle cx="774.0" cy="376.0" r="3"/><circle cx="797.1" cy="370.1" r="3"/><circle cx="790.9" cy="366.0" r="3"/><circle cx="831.1" cy="346.6" r="3"/><circle cx="824.4" cy="345.9" r="3"/><circle cx="827.6" cy="327.7" r="3"/><circle cx="853.4" cy="304.6" r="3"/><circle cx="865.1" cy="314.5" r="3"/><circle cx="825.5" cy="362.5" r="3"/><circle cx="766.1" cy="399.0" r="3"/><circle cx="723.8" cy="427.7" r="3"/><circle cx="763.3" cy="391.5" r="3"/><circle cx="726.9" cy="416.0" r="3"/><circle cx="789.2" cy="375.7" r="3"/><circle cx="795.6" cy="367.8" r="3"/><circle cx="842.9" cy="330.9" r="3"/><circle cx="828.6" cy="316.7" r="3"/><circle cx="817.2" cy="339.0" r="3"/><circle cx="815.7" cy="352.9" r="3"/><circle cx="793.4" cy="351.2" r="3"/><circle cx="803.7" cy="351.7" r="3"/><circle cx="749.7" cy="374.2" r="3"/><circle cx="752.2" cy="368.4" r="3"/><circle cx="804.1" cy="337.3" r="3"/><circle cx="737.7" cy="389.8" r="3"/><circle cx="773.5" cy="375.1" r="3"/><circle cx="774.9" cy="383.7" r="3"/><circle cx="735.5" cy="390.2" r="3"/><circle cx="789.2" cy="356.2" r="3"/><circle cx="787.6" cy="357.3" r="3"/><circle cx="814.3" cy="339.0" r="3"/><circle cx="737.0" cy="395.1" r="3"/><circle cx="802.8" cy="345.6" r="3"/><circle cx="763.9" cy="373.6" r="3"/><circle cx="780.1" cy="358.9" r="3"/><circle cx="763.9" cy="355.4" r="3"/><circle cx="704.8" cy="421.3" r="3"/><circle cx="705.6" cy="410.7" r="3"/><circle cx="719.2" cy="403.3" r="3"/><circle cx="799.2" cy="349.5" r="3"/><circle cx="779.7" cy="355.4" r="3"/><circle cx="785.0" cy="352.2" r="3"/><circle cx="762.6" cy="374.2" r="3"/><circle cx="818.5" cy="335.6" r="3"/><circle cx="853.4" cy="293.0" r="3"/><circle cx="824.5" cy="316.1" r="3"/><circle cx="818.7" cy="314.1" r="3"/><circle cx="759.7" cy="360.0" r="3"/><circle cx="806.5" cy="326.8" r="3"/><circle cx="826.5" cy="285.0" r="3"/><circle cx="844.9" cy="271.1" r="3"/><circle cx="845.9" cy="258.2" r="3"/><circle cx="849.3" cy="270.2" r="3"/><circle cx="809.5" cy="301.9" r="3"/><circle cx="848.5" cy="265.7" r="3"/><circle cx="819.7" cy="316.1" r="3"/><circle cx="815.2" cy="325.6" r="3"/><circle cx="824.4" cy="309.6" r="3"/><circle cx="864.6" cy="290.2" r="3"/><circle cx="855.5" cy="285.6" r="3"/><circle cx="871.9" cy="294.1" r="3"/><circle cx="838.5" cy="312.5" r="3"/><circle cx="819.9" cy="335.6" r="3"/><circle cx="823.9" cy="339.6" r="3"/><circle cx="805.5" cy="351.7" r="3"/><circle cx="762.7" cy="363.4" r="3"/><circle cx="721.0" cy="374.6" r="3"/><circle cx="722.0" cy="387.7" r="3"/><circle cx="717.4" cy="423.3" r="3"/><circle cx="726.5" cy="416.8" r="3"/><circle cx="704.4" cy="417.8" r="3"/><circle cx="704.4" cy="397.0" r="3"/><circle cx="743.7" cy="359.2" r="3"/><circle cx="828.5" cy="302.4" r="3"/><circle cx="776.7" cy="336.9" r="3"/><circle cx="771.5" cy="336.6" r="3"/><circle cx="789.1" cy="311.4" r="3"/><circle cx="784.2" cy="304.8" r="3"/><circle cx="799.9" cy="310.6" r="3"/><circle cx="861.9" cy="242.7" r="3"/><circle cx="875.3" cy="265.3" r="3"/><circle cx="849.1" cy="303.0" r="3"/><circle cx="833.3" cy="328.8" r="3"/><circle cx="830.9" cy="306.4" r="3"/><circle cx="825.6" cy="300.0" r="3"/><circle cx="802.5" cy="320.6" r="3"/><circle cx="790.8" cy="332.8" r="3"/><circle cx="799.2" cy="296.3" r="3"/><circle cx="811.4" cy="283.3" r="3"/><circle cx="821.0" cy="296.2" r="3"/><circle cx="816.0" cy="278.7" r="3"/><circle cx="819.0" cy="261.6" r="3"/><circle cx="795.0" cy="295.4" r="3"/><circle cx="843.4" cy="295.1" r="3"/><circle cx="876.5" cy="268.1" r="3"/><circle cx="845.6" cy="287.9" r="3"/><circle cx="820.8" cy="318.9" r="3"/><circle cx="845.3" cy="315.1" r="3"/><circle cx="859.1" cy="285.4" r="3"/><circle cx="891.3" cy="254.2" r="3"/><circle cx="839.5" cy="300.5" r="3"/><circle cx="911.2" cy="216.8" r="3"/><circle cx="862.8" cy="242.3" r="3"/><circle cx="901.3" cy="225.9" r="3"/><circle cx="921.3" cy="196.0" r="3"/><circle cx="951.5" cy="188.5" r="3"/><circle cx="926.3" cy="195.0" r="3"/><circle cx="880.7" cy="232.3" r="3"/><circle cx="907.9" cy="208.2" r="3"/><circle cx="884.9" cy="232.6" r="3"/><circle cx="844.0" cy="294.1" r="3"/><circle cx="909.9" cy="217.3" r="3"/><circle cx="927.3" cy="198.1" r="3"/><circle cx="967.1" cy="163.3" r="3"/><circle cx="910.7" cy="204.6" r="3"/><circle cx="980.5" cy="159.4" r="3"/><circle cx="1028.5" cy="143.7" r="3"/><circle cx="1047.2" cy="136.1" r="3"/><circle cx="937.5" cy="182.4" r="3"/><circle cx="926.3" cy="200.7" r="3"/><circle cx="890.3" cy="251.7" r="3"/><circle cx="889.4" cy="294.9" r="3"/><circle cx="880.9" cy="276.5" r="3"/><circle cx="869.4" cy="299.7" r="3"/><circle cx="897.8" cy="267.2" r="3"/><circle cx="874.8" cy="279.2" r="3"/><circle cx="932.6" cy="207.8" r="3"/><circle cx="931.0" cy="189.0" r="3"/><circle cx="913.9" cy="197.6" r="3"/><circle cx="958.1" cy="169.5" r="3"/><circle cx="937.0" cy="193.9" r="3"/><circle cx="950.7" cy="203.2" r="3"/><circle cx="989.0" cy="175.9" r="3"/><circle cx="917.3" cy="219.1" r="3"/><circle cx="952.9" cy="220.4" r="3"/><circle cx="906.3" cy="258.1" r="3"/><circle cx="896.4" cy="238.3" r="3"/><circle cx="934.0" cy="198.2" r="3"/><circle cx="918.2" cy="222.1" r="3"/><circle cx="937.6" cy="212.9" r="3"/><circle cx="906.7" cy="233.1" r="3"/><circle cx="894.7" cy="253.4" r="3"/><circle cx="871.9" cy="271.6" r="3"/><circle cx="889.0" cy="231.3" r="3"/><circle cx="975.8" cy="174.8" r="3"/><circle cx="1010.7" cy="161.6" r="3"/><circle cx="938.1" cy="203.0" r="3"/><circle cx="966.0" cy="183.0" r="3"/><circle cx="985.3" cy="182.2" r="3"/><circle cx="996.1" cy="195.4" r="3"/><circle cx="977.3" cy="181.5" r="3"/><circle cx="966.0" cy="172.2" r="3"/><circle cx="970.0" cy="180.1" r="3"/><circle cx="980.0" cy="172.9" r="3"/><circle cx="923.1" cy="220.5" r="3"/><circle cx="907.3" cy="234.3" r="3"/><circle cx="886.7" cy="236.5" r="3"/><circle cx="866.2" cy="265.8" r="3"/><circle cx="880.6" cy="264.1" r="3"/><circle cx="875.4" cy="271.4" r="3"/><circle cx="884.9" cy="264.4" r="3"/><circle cx="909.2" cy="232.6" r="3"/><circle cx="883.0" cy="272.4" r="3"/><circle cx="893.8" cy="274.3" r="3"/><circle cx="864.1" cy="274.9" r="3"/><circle cx="878.8" cy="257.4" r="3"/><circle cx="932.1" cy="205.0" r="3"/><circle cx="939.8" cy="183.3" r="3"/><circle cx="929.3" cy="206.6" r="3"/><circle cx="1011.1" cy="158.7" r="3"/><circle cx="944.0" cy="207.9" r="3"/><circle cx="993.2" cy="186.0" r="3"/><circle cx="988.8" cy="198.5" r="3"/><circle cx="923.2" cy="270.1" r="3"/><circle cx="980.3" cy="197.8" r="3"/><circle cx="1049.5" cy="160.4" r="3"/><circle cx="987.9" cy="199.9" r="3"/><circle cx="999.3" cy="188.6" r="3"/><circle cx="948.2" cy="208.5" r="3"/><circle cx="1132.1" cy="40.2" r="3"/><circle cx="1149.3" cy="60.8" r="3"/><circle cx="1090.9" cy="71.5" r="3"/><circle cx="1075.0" cy="99.4" r="3"/><circle cx="1051.9" cy="102.2" r="3"/><circle cx="1102.4" cy="116.1" r="3"/><circle cx="1069.7" cy="121.0" r="3"/><circle cx="1081.5" cy="129.8" r="3"/><circle cx="1090.6" cy="131.8" r="3"/><circle cx="1080.4" cy="158.1" r="3"/><circle cx="1061.5" cy="127.6" r="3"/><circle cx="1065.7" cy="169.2" r="3"/><circle cx="1058.5" cy="185.0" r="3"/><circle cx="1065.1" cy="146.2" r="3"/><circle cx="1066.4" cy="153.8" r="3"/><circle cx="965.8" cy="164.3" r="3"/><circle cx="955.7" cy="176.7" r="3"/><circle cx="1049.4" cy="136.7" r="3"/>
</g>
<path d="M704.4 427.3L1159 60.2" stroke="#fff" stroke-width="5.6" fill="none"/>
<path d="M704.4 427.3L1159 60.2" stroke="#000" stroke-width="3.6" fill="none"/>
</g>
<text transform="translate(1036.96 389.3) scale(0.9805 1)" font-size="27.3">= 0.941</text>
<text transform="translate(1019.84 376.7) scale(1.0864 1)" font-size="17.6">2</text>
<text transform="translate(1002.55 389.3) scale(0.7992 1)" font-size="27.3" font-style="italic">R</text>
<text transform="translate(904.61 418.3) scale(0.9547 1)" font-size="27.3">RMSE = 7.104 GW</text>
<g stroke="#1a1a1a" stroke-width="1.5" fill="none">
<rect x="1301.05" y="32.2" width="454.45" height="411.1"/>
<path d="M1301.05 414.65h8.6M1301.05 353.95h8.6M1301.05 293.25h8.6M1301.05 232.55h8.6M1301.05 171.85h8.6M1301.05 111.15h8.6M1301.05 50.45h8.6M1433.15 443.3v-8.6M1565.25 443.3v-8.6M1697.35 443.3v-8.6" stroke-width="1.3"/>
</g>
<text transform="translate(1260.63 423.02) scale(1.1071 1)" font-size="23">20</text>
<text transform="translate(1259.64 362.3) scale(1.1470 1)" font-size="23">40</text>
<text transform="translate(1259.26 301.58) scale(1.1622 1)" font-size="23">60</text>
<text transform="translate(1259.72 240.86) scale(1.1439 1)" font-size="23">80</text>
<text transform="translate(1247.12 180.14) scale(1.0905 1)" font-size="23">100</text>
<text transform="translate(1250.47 119.42) scale(1.0010 1)" font-size="23">120</text>
<text transform="translate(1249.43 58.7) scale(1.0289 1)" font-size="23">140</text>
<text transform="translate(1293.1 473.6) scale(1.1991 1)" font-size="23">0</text>
<text transform="translate(1426.25 473.6) scale(1.0343 1)" font-size="23">5</text>
<text transform="translate(1551.96 473.6) scale(0.9826 1)" font-size="23">10</text>
<text transform="translate(1685.25 473.6) scale(0.8958 1)" font-size="23">15</text>
<text transform="translate(1493.8 513.5) scale(0.9481 1)" font-size="27.3">HDDs</text>
<text transform="translate(1230.6 401.44) rotate(-90) scale(1.0274 1)" font-size="27.3">Natural gas demand (GW)</text>
<text transform="translate(1206.42 32.7) scale(1.1394 1)" font-size="38" font-weight="700" stroke="#000" stroke-width="0.9">c</text>
<clipPath id="c2"><rect x="1301.05" y="32.2" width="454.45" height="411.1"/></clipPath>
<g clip-path="url(#c2)"><g fill="#ffcd00" fill-opacity="0.3">
<circle cx="1566.2" cy="202.3" r="3"/><circle cx="1540.3" cy="204.4" r="3"/><circle cx="1541.3" cy="205.0" r="3"/><circle cx="1555.3" cy="215.9" r="3"/><circle cx="1558.5" cy="222.0" r="3"/><circle cx="1535.9" cy="231.2" r="3"/><circle cx="1545.1" cy="226.9" r="3"/><circle cx="1601.5" cy="172.9" r="3"/><circle cx="1591.1" cy="204.7" r="3"/><circle cx="1551.5" cy="210.6" r="3"/><circle cx="1536.0" cy="210.0" r="3"/><circle cx="1585.4" cy="197.2" r="3"/><circle cx="1614.4" cy="179.8" r="3"/><circle cx="1570.4" cy="219.4" r="3"/><circle cx="1584.2" cy="209.3" r="3"/><circle cx="1583.2" cy="197.1" r="3"/><circle cx="1543.6" cy="238.6" r="3"/><circle cx="1550.8" cy="242.2" r="3"/><circle cx="1496.2" cy="283.7" r="3"/><circle cx="1461.7" cy="302.4" r="3"/><circle cx="1454.7" cy="322.5" r="3"/><circle cx="1466.7" cy="309.2" r="3"/><circle cx="1466.3" cy="330.4" r="3"/><circle cx="1471.1" cy="307.9" r="3"/><circle cx="1467.0" cy="283.0" r="3"/><circle cx="1474.9" cy="280.2" r="3"/><circle cx="1446.0" cy="322.2" r="3"/><circle cx="1495.9" cy="305.7" r="3"/><circle cx="1496.8" cy="302.1" r="3"/><circle cx="1528.0" cy="291.9" r="3"/><circle cx="1478.3" cy="318.1" r="3"/><circle cx="1449.9" cy="318.8" r="3"/><circle cx="1429.0" cy="327.9" r="3"/><circle cx="1434.3" cy="331.8" r="3"/><circle cx="1480.1" cy="287.5" r="3"/><circle cx="1485.8" cy="298.9" r="3"/><circle cx="1499.4" cy="282.3" r="3"/><circle cx="1517.4" cy="262.2" r="3"/><circle cx="1510.2" cy="272.6" r="3"/><circle cx="1541.7" cy="278.3" r="3"/><circle cx="1549.0" cy="253.5" r="3"/><circle cx="1532.6" cy="257.8" r="3"/><circle cx="1523.6" cy="276.6" r="3"/><circle cx="1514.5" cy="275.5" r="3"/><circle cx="1543.2" cy="235.4" r="3"/><circle cx="1526.6" cy="285.9" r="3"/><circle cx="1534.9" cy="255.4" r="3"/><circle cx="1556.9" cy="240.2" r="3"/><circle cx="1528.3" cy="282.8" r="3"/><circle cx="1583.5" cy="219.3" r="3"/><circle cx="1605.9" cy="206.7" r="3"/><circle cx="1554.3" cy="253.4" r="3"/><circle cx="1562.5" cy="252.7" r="3"/><circle cx="1576.4" cy="239.3" r="3"/><circle cx="1560.6" cy="262.3" r="3"/><circle cx="1575.7" cy="243.3" r="3"/><circle cx="1563.2" cy="260.3" r="3"/><circle cx="1580.3" cy="249.0" r="3"/><circle cx="1579.5" cy="223.3" r="3"/><circle cx="1548.8" cy="248.8" r="3"/><circle cx="1540.3" cy="250.1" r="3"/><circle cx="1502.8" cy="266.3" r="3"/><circle cx="1490.5" cy="280.5" r="3"/><circle cx="1491.7" cy="289.2" r="3"/><circle cx="1495.2" cy="306.7" r="3"/><circle cx="1478.2" cy="310.8" r="3"/><circle cx="1490.5" cy="294.5" r="3"/><circle cx="1505.4" cy="268.4" r="3"/><circle cx="1483.4" cy="302.1" r="3"/><circle cx="1472.5" cy="321.9" r="3"/><circle cx="1504.0" cy="318.8" r="3"/><circle cx="1450.7" cy="350.2" r="3"/><circle cx="1479.4" cy="340.2" r="3"/><circle cx="1441.7" cy="367.9" r="3"/><circle cx="1489.7" cy="313.3" r="3"/><circle cx="1496.4" cy="303.0" r="3"/><circle cx="1481.2" cy="318.4" r="3"/><circle cx="1473.2" cy="319.2" r="3"/><circle cx="1472.1" cy="343.1" r="3"/><circle cx="1509.8" cy="298.6" r="3"/><circle cx="1480.5" cy="306.6" r="3"/><circle cx="1445.7" cy="329.1" r="3"/><circle cx="1478.7" cy="324.7" r="3"/><circle cx="1460.1" cy="327.6" r="3"/><circle cx="1445.0" cy="338.7" r="3"/><circle cx="1446.4" cy="352.4" r="3"/><circle cx="1444.7" cy="365.9" r="3"/><circle cx="1443.1" cy="361.3" r="3"/><circle cx="1438.3" cy="345.3" r="3"/><circle cx="1463.9" cy="319.8" r="3"/><circle cx="1469.1" cy="331.1" r="3"/><circle cx="1458.5" cy="337.2" r="3"/><circle cx="1446.8" cy="334.4" r="3"/><circle cx="1466.6" cy="321.8" r="3"/><circle cx="1470.5" cy="326.2" r="3"/><circle cx="1483.6" cy="306.3" r="3"/><circle cx="1448.7" cy="363.0" r="3"/><circle cx="1442.3" cy="355.8" r="3"/><circle cx="1423.9" cy="380.5" r="3"/><circle cx="1334.1" cy="418.3" r="3"/><circle cx="1352.6" cy="408.3" r="3"/><circle cx="1370.4" cy="405.5" r="3"/><circle cx="1310.4" cy="437.6" r="3"/><circle cx="1443.6" cy="356.6" r="3"/><circle cx="1411.2" cy="368.9" r="3"/><circle cx="1406.5" cy="384.8" r="3"/><circle cx="1413.6" cy="382.9" r="3"/><circle cx="1421.9" cy="369.3" r="3"/><circle cx="1399.3" cy="375.1" r="3"/><circle cx="1384.5" cy="384.4" r="3"/><circle cx="1442.2" cy="350.0" r="3"/><circle cx="1425.0" cy="354.3" r="3"/><circle cx="1375.9" cy="390.6" r="3"/><circle cx="1359.3" cy="387.6" r="3"/><circle cx="1366.1" cy="377.7" r="3"/><circle cx="1316.8" cy="404.2" r="3"/><circle cx="1349.9" cy="397.4" r="3"/><circle cx="1305.8" cy="421.9" r="3"/><circle cx="1384.7" cy="386.1" r="3"/><circle cx="1382.9" cy="393.0" r="3"/><circle cx="1391.6" cy="389.5" r="3"/><circle cx="1371.2" cy="391.8" r="3"/><circle cx="1366.5" cy="397.9" r="3"/><circle cx="1316.7" cy="414.4" r="3"/><circle cx="1324.2" cy="416.2" r="3"/><circle cx="1326.7" cy="405.0" r="3"/><circle cx="1304.1" cy="420.6" r="3"/><circle cx="1347.0" cy="398.5" r="3"/><circle cx="1329.7" cy="411.7" r="3"/><circle cx="1311.0" cy="417.1" r="3"/><circle cx="1322.6" cy="410.1" r="3"/><circle cx="1311.5" cy="416.9" r="3"/><circle cx="1320.4" cy="418.1" r="3"/><circle cx="1342.5" cy="403.3" r="3"/><circle cx="1323.5" cy="414.2" r="3"/><circle cx="1362.6" cy="384.9" r="3"/><circle cx="1369.6" cy="379.3" r="3"/><circle cx="1368.5" cy="391.6" r="3"/><circle cx="1352.4" cy="399.3" r="3"/><circle cx="1310.0" cy="414.4" r="3"/><circle cx="1331.1" cy="391.9" r="3"/><circle cx="1350.0" cy="399.0" r="3"/><circle cx="1336.3" cy="402.4" r="3"/><circle cx="1316.4" cy="423.5" r="3"/><circle cx="1369.1" cy="408.9" r="3"/><circle cx="1313.9" cy="420.7" r="3"/><circle cx="1322.5" cy="410.5" r="3"/><circle cx="1335.4" cy="404.6" r="3"/><circle cx="1352.9" cy="396.5" r="3"/><circle cx="1339.7" cy="397.2" r="3"/><circle cx="1342.7" cy="398.4" r="3"/><circle cx="1315.1" cy="413.8" r="3"/><circle cx="1301.0" cy="424.3" r="3"/><circle cx="1315.6" cy="418.5" r="3"/><circle cx="1342.0" cy="407.0" r="3"/><circle cx="1301.0" cy="430.1" r="3"/><circle cx="1305.4" cy="424.1" r="3"/><circle cx="1301.0" cy="428.9" r="3"/><circle cx="1305.1" cy="423.2" r="3"/><circle cx="1301.0" cy="419.5" r="3"/><circle cx="1301.0" cy="415.9" r="3"/><circle cx="1316.9" cy="414.0" r="3"/><circle cx="1357.7" cy="396.8" r="3"/><circle cx="1301.0" cy="415.8" r="3"/><circle cx="1327.0" cy="394.0" r="3"/><circle cx="1301.0" cy="415.1" r="3"/><circle cx="1301.0" cy="412.3" r="3"/><circle cx="1329.6" cy="408.0" r="3"/><circle cx="1301.0" cy="431.1" r="3"/><circle cx="1301.0" cy="421.5" r="3"/><circle cx="1332.0" cy="415.5" r="3"/><circle cx="1335.4" cy="410.8" r="3"/><circle cx="1308.7" cy="422.7" r="3"/><circle cx="1341.6" cy="398.7" r="3"/><circle cx="1316.0" cy="423.3" r="3"/><circle cx="1345.8" cy="413.2" r="3"/><circle cx="1328.7" cy="424.0" r="3"/><circle cx="1315.8" cy="418.7" r="3"/><circle cx="1321.7" cy="417.0" r="3"/><circle cx="1328.3" cy="417.7" r="3"/><circle cx="1301.0" cy="421.2" r="3"/><circle cx="1319.4" cy="426.6" r="3"/><circle cx="1374.5" cy="390.2" r="3"/><circle cx="1321.6" cy="412.2" r="3"/><circle cx="1327.4" cy="413.7" r="3"/><circle cx="1333.1" cy="409.2" r="3"/><circle cx="1375.1" cy="379.9" r="3"/><circle cx="1380.9" cy="362.4" r="3"/><circle cx="1377.6" cy="362.4" r="3"/><circle cx="1371.0" cy="369.5" r="3"/><circle cx="1340.2" cy="406.5" r="3"/><circle cx="1382.5" cy="379.4" r="3"/><circle cx="1392.4" cy="365.9" r="3"/><circle cx="1369.2" cy="371.7" r="3"/><circle cx="1372.4" cy="375.6" r="3"/><circle cx="1389.3" cy="353.4" r="3"/><circle cx="1393.7" cy="341.0" r="3"/><circle cx="1418.4" cy="330.3" r="3"/><circle cx="1366.7" cy="365.0" r="3"/><circle cx="1428.1" cy="316.9" r="3"/><circle cx="1384.9" cy="366.6" r="3"/><circle cx="1400.6" cy="351.0" r="3"/><circle cx="1386.6" cy="345.3" r="3"/><circle cx="1400.5" cy="332.6" r="3"/><circle cx="1443.0" cy="295.0" r="3"/><circle cx="1440.9" cy="288.5" r="3"/><circle cx="1393.4" cy="332.3" r="3"/><circle cx="1346.3" cy="373.5" r="3"/><circle cx="1399.2" cy="355.9" r="3"/><circle cx="1384.5" cy="385.6" r="3"/><circle cx="1386.9" cy="385.9" r="3"/><circle cx="1376.0" cy="366.4" r="3"/><circle cx="1326.1" cy="403.1" r="3"/><circle cx="1328.7" cy="409.1" r="3"/><circle cx="1301.0" cy="417.9" r="3"/><circle cx="1337.4" cy="401.8" r="3"/><circle cx="1318.1" cy="406.9" r="3"/><circle cx="1325.8" cy="403.2" r="3"/><circle cx="1315.1" cy="405.9" r="3"/><circle cx="1301.0" cy="423.9" r="3"/><circle cx="1302.3" cy="428.3" r="3"/><circle cx="1301.0" cy="418.7" r="3"/><circle cx="1316.2" cy="412.9" r="3"/><circle cx="1317.0" cy="416.4" r="3"/><circle cx="1305.1" cy="416.8" r="3"/><circle cx="1355.3" cy="392.0" r="3"/><circle cx="1302.6" cy="419.9" r="3"/><circle cx="1336.2" cy="404.2" r="3"/><circle cx="1303.5" cy="425.3" r="3"/><circle cx="1301.7" cy="417.8" r="3"/><circle cx="1333.3" cy="411.2" r="3"/><circle cx="1301.0" cy="427.7" r="3"/><circle cx="1329.7" cy="401.3" r="3"/><circle cx="1340.8" cy="380.1" r="3"/><circle cx="1413.0" cy="320.4" r="3"/><circle cx="1382.5" cy="352.1" r="3"/><circle cx="1410.5" cy="328.2" r="3"/><circle cx="1395.1" cy="341.4" r="3"/><circle cx="1409.2" cy="340.2" r="3"/><circle cx="1380.2" cy="373.7" r="3"/><circle cx="1369.6" cy="368.0" r="3"/><circle cx="1359.6" cy="358.9" r="3"/><circle cx="1386.3" cy="335.1" r="3"/><circle cx="1396.9" cy="341.0" r="3"/><circle cx="1389.3" cy="346.6" r="3"/><circle cx="1437.3" cy="308.3" r="3"/><circle cx="1454.7" cy="305.7" r="3"/><circle cx="1396.3" cy="361.4" r="3"/><circle cx="1390.3" cy="362.9" r="3"/><circle cx="1316.3" cy="403.1" r="3"/><circle cx="1310.1" cy="409.4" r="3"/><circle cx="1301.0" cy="412.2" r="3"/><circle cx="1339.7" cy="382.9" r="3"/><circle cx="1361.0" cy="355.0" r="3"/><circle cx="1327.6" cy="374.9" r="3"/><circle cx="1329.2" cy="379.7" r="3"/><circle cx="1381.5" cy="342.2" r="3"/><circle cx="1401.6" cy="324.5" r="3"/><circle cx="1417.9" cy="308.8" r="3"/><circle cx="1403.7" cy="317.9" r="3"/><circle cx="1405.4" cy="298.4" r="3"/><circle cx="1430.1" cy="277.3" r="3"/><circle cx="1432.7" cy="264.8" r="3"/><circle cx="1422.4" cy="278.3" r="3"/><circle cx="1429.3" cy="290.5" r="3"/><circle cx="1448.1" cy="270.4" r="3"/><circle cx="1423.4" cy="294.9" r="3"/><circle cx="1452.2" cy="260.0" r="3"/><circle cx="1421.2" cy="307.2" r="3"/><circle cx="1431.9" cy="285.0" r="3"/><circle cx="1443.3" cy="289.2" r="3"/><circle cx="1432.0" cy="305.2" r="3"/><circle cx="1453.4" cy="273.8" r="3"/><circle cx="1506.7" cy="223.0" r="3"/><circle cx="1495.8" cy="246.1" r="3"/><circle cx="1533.6" cy="223.9" r="3"/><circle cx="1523.2" cy="232.1" r="3"/><circle cx="1462.4" cy="296.0" r="3"/><circle cx="1457.8" cy="263.4" r="3"/><circle cx="1461.9" cy="280.0" r="3"/><circle cx="1485.7" cy="272.4" r="3"/><circle cx="1432.5" cy="290.6" r="3"/><circle cx="1457.6" cy="293.6" r="3"/><circle cx="1478.2" cy="274.9" r="3"/><circle cx="1504.2" cy="236.4" r="3"/><circle cx="1495.2" cy="244.1" r="3"/><circle cx="1483.3" cy="251.7" r="3"/><circle cx="1527.1" cy="197.4" r="3"/><circle cx="1481.0" cy="217.6" r="3"/><circle cx="1480.0" cy="231.3" r="3"/><circle cx="1447.1" cy="271.2" r="3"/><circle cx="1490.7" cy="240.1" r="3"/><circle cx="1531.5" cy="213.5" r="3"/><circle cx="1547.6" cy="205.0" r="3"/><circle cx="1552.5" cy="197.4" r="3"/><circle cx="1571.7" cy="187.8" r="3"/><circle cx="1547.9" cy="201.3" r="3"/><circle cx="1563.6" cy="194.1" r="3"/><circle cx="1546.1" cy="217.6" r="3"/><circle cx="1537.5" cy="223.2" r="3"/><circle cx="1590.0" cy="180.5" r="3"/><circle cx="1608.6" cy="169.2" r="3"/><circle cx="1582.1" cy="188.3" r="3"/><circle cx="1530.6" cy="219.7" r="3"/><circle cx="1539.7" cy="226.2" r="3"/><circle cx="1578.0" cy="181.5" r="3"/><circle cx="1576.9" cy="188.7" r="3"/><circle cx="1566.1" cy="196.3" r="3"/><circle cx="1545.6" cy="198.2" r="3"/><circle cx="1498.0" cy="232.7" r="3"/><circle cx="1522.1" cy="239.7" r="3"/><circle cx="1544.7" cy="212.0" r="3"/><circle cx="1511.2" cy="225.3" r="3"/><circle cx="1532.8" cy="222.9" r="3"/><circle cx="1532.6" cy="227.7" r="3"/><circle cx="1526.5" cy="215.7" r="3"/><circle cx="1507.3" cy="253.8" r="3"/><circle cx="1470.1" cy="265.7" r="3"/><circle cx="1496.2" cy="264.1" r="3"/><circle cx="1538.0" cy="229.9" r="3"/><circle cx="1523.1" cy="246.1" r="3"/><circle cx="1549.5" cy="221.7" r="3"/><circle cx="1568.9" cy="194.0" r="3"/><circle cx="1546.1" cy="208.2" r="3"/><circle cx="1542.7" cy="211.5" r="3"/><circle cx="1533.6" cy="219.1" r="3"/><circle cx="1549.1" cy="226.3" r="3"/><circle cx="1549.5" cy="227.6" r="3"/><circle cx="1533.1" cy="223.8" r="3"/><circle cx="1616.3" cy="172.8" r="3"/><circle cx="1564.4" cy="193.8" r="3"/><circle cx="1559.2" cy="202.9" r="3"/><circle cx="1543.5" cy="228.8" r="3"/><circle cx="1547.2" cy="213.6" r="3"/><circle cx="1513.2" cy="236.7" r="3"/><circle cx="1490.5" cy="273.6" r="3"/><circle cx="1560.8" cy="213.3" r="3"/><circle cx="1534.4" cy="244.4" r="3"/><circle cx="1572.6" cy="212.2" r="3"/><circle cx="1657.1" cy="164.8" r="3"/><circle cx="1644.9" cy="169.9" r="3"/><circle cx="1612.8" cy="172.5" r="3"/><circle cx="1646.4" cy="147.3" r="3"/><circle cx="1615.0" cy="162.6" r="3"/><circle cx="1568.1" cy="197.9" r="3"/><circle cx="1595.7" cy="184.7" r="3"/><circle cx="1637.5" cy="159.3" r="3"/><circle cx="1619.5" cy="169.9" r="3"/><circle cx="1613.3" cy="177.3" r="3"/><circle cx="1574.2" cy="197.4" r="3"/><circle cx="1574.4" cy="182.3" r="3"/><circle cx="1598.0" cy="168.9" r="3"/><circle cx="1621.6" cy="171.5" r="3"/><circle cx="1624.2" cy="165.2" r="3"/><circle cx="1635.4" cy="159.3" r="3"/><circle cx="1621.4" cy="173.5" r="3"/><circle cx="1622.5" cy="178.0" r="3"/><circle cx="1628.6" cy="172.7" r="3"/><circle cx="1577.1" cy="177.0" r="3"/><circle cx="1630.1" cy="149.6" r="3"/><circle cx="1563.6" cy="201.6" r="3"/><circle cx="1571.6" cy="190.3" r="3"/><circle cx="1525.4" cy="240.9" r="3"/><circle cx="1488.5" cy="275.0" r="3"/><circle cx="1520.0" cy="234.8" r="3"/><circle cx="1512.6" cy="231.9" r="3"/><circle cx="1528.7" cy="224.8" r="3"/><circle cx="1495.0" cy="263.6" r="3"/><circle cx="1507.0" cy="263.2" r="3"/><circle cx="1511.8" cy="266.8" r="3"/><circle cx="1524.4" cy="252.9" r="3"/><circle cx="1608.4" cy="184.2" r="3"/><circle cx="1589.2" cy="191.2" r="3"/><circle cx="1554.7" cy="219.0" r="3"/><circle cx="1526.0" cy="252.6" r="3"/><circle cx="1512.4" cy="248.9" r="3"/><circle cx="1535.1" cy="239.6" r="3"/><circle cx="1499.3" cy="271.8" r="3"/><circle cx="1514.9" cy="254.7" r="3"/><circle cx="1514.6" cy="269.1" r="3"/><circle cx="1550.4" cy="234.3" r="3"/><circle cx="1583.4" cy="204.0" r="3"/><circle cx="1604.4" cy="194.8" r="3"/><circle cx="1589.6" cy="218.8" r="3"/><circle cx="1575.0" cy="197.2" r="3"/><circle cx="1575.0" cy="211.0" r="3"/><circle cx="1571.9" cy="219.0" r="3"/><circle cx="1555.9" cy="236.2" r="3"/><circle cx="1532.2" cy="258.4" r="3"/><circle cx="1492.2" cy="288.5" r="3"/><circle cx="1512.7" cy="260.1" r="3"/><circle cx="1526.1" cy="261.2" r="3"/><circle cx="1531.2" cy="252.4" r="3"/><circle cx="1550.8" cy="228.1" r="3"/><circle cx="1514.9" cy="271.0" r="3"/><circle cx="1495.6" cy="278.6" r="3"/><circle cx="1500.9" cy="277.0" r="3"/><circle cx="1522.8" cy="247.9" r="3"/><circle cx="1525.6" cy="266.9" r="3"/><circle cx="1536.8" cy="232.9" r="3"/><circle cx="1542.4" cy="237.8" r="3"/><circle cx="1527.6" cy="270.2" r="3"/><circle cx="1533.1" cy="273.7" r="3"/><circle cx="1545.5" cy="264.7" r="3"/><circle cx="1538.7" cy="259.6" r="3"/><circle cx="1525.3" cy="301.3" r="3"/><circle cx="1562.8" cy="260.5" r="3"/><circle cx="1566.0" cy="231.0" r="3"/><circle cx="1564.2" cy="216.8" r="3"/><circle cx="1567.4" cy="230.3" r="3"/><circle cx="1536.1" cy="256.2" r="3"/><circle cx="1512.5" cy="277.0" r="3"/><circle cx="1580.7" cy="214.7" r="3"/><circle cx="1578.6" cy="221.8" r="3"/><circle cx="1578.9" cy="209.9" r="3"/><circle cx="1560.6" cy="230.2" r="3"/><circle cx="1550.4" cy="237.1" r="3"/><circle cx="1487.6" cy="292.5" r="3"/><circle cx="1503.1" cy="293.7" r="3"/><circle cx="1534.4" cy="270.5" r="3"/><circle cx="1456.1" cy="316.3" r="3"/><circle cx="1521.8" cy="269.3" r="3"/><circle cx="1511.1" cy="265.0" r="3"/><circle cx="1468.5" cy="300.0" r="3"/><circle cx="1460.1" cy="316.7" r="3"/><circle cx="1481.0" cy="305.9" r="3"/><circle cx="1478.7" cy="311.5" r="3"/><circle cx="1484.4" cy="316.1" r="3"/><circle cx="1467.9" cy="328.4" r="3"/><circle cx="1453.9" cy="341.7" r="3"/><circle cx="1447.8" cy="350.5" r="3"/><circle cx="1412.9" cy="378.1" r="3"/><circle cx="1414.1" cy="366.0" r="3"/><circle cx="1450.3" cy="337.8" r="3"/><circle cx="1414.2" cy="369.5" r="3"/><circle cx="1410.9" cy="353.1" r="3"/><circle cx="1401.0" cy="367.8" r="3"/><circle cx="1377.1" cy="383.9" r="3"/><circle cx="1433.9" cy="354.7" r="3"/><circle cx="1442.7" cy="358.2" r="3"/><circle cx="1467.8" cy="326.4" r="3"/><circle cx="1433.8" cy="344.7" r="3"/><circle cx="1491.0" cy="331.9" r="3"/><circle cx="1458.2" cy="341.9" r="3"/><circle cx="1426.1" cy="356.6" r="3"/><circle cx="1443.5" cy="343.5" r="3"/><circle cx="1451.2" cy="330.5" r="3"/><circle cx="1478.2" cy="321.3" r="3"/><circle cx="1459.2" cy="331.6" r="3"/><circle cx="1436.3" cy="362.5" r="3"/><circle cx="1452.5" cy="347.4" r="3"/><circle cx="1442.2" cy="356.6" r="3"/><circle cx="1459.7" cy="336.0" r="3"/><circle cx="1448.3" cy="358.0" r="3"/><circle cx="1437.0" cy="358.2" r="3"/><circle cx="1378.8" cy="388.5" r="3"/><circle cx="1388.8" cy="376.4" r="3"/><circle cx="1392.9" cy="382.8" r="3"/><circle cx="1314.3" cy="421.3" r="3"/><circle cx="1339.1" cy="404.9" r="3"/><circle cx="1375.4" cy="389.6" r="3"/><circle cx="1342.0" cy="396.8" r="3"/><circle cx="1321.3" cy="424.0" r="3"/><circle cx="1346.8" cy="412.9" r="3"/><circle cx="1330.4" cy="411.4" r="3"/><circle cx="1303.2" cy="406.6" r="3"/><circle cx="1301.0" cy="423.2" r="3"/><circle cx="1301.0" cy="412.8" r="3"/><circle cx="1308.8" cy="427.8" r="3"/><circle cx="1338.3" cy="413.3" r="3"/><circle cx="1332.2" cy="405.7" r="3"/><circle cx="1312.4" cy="411.2" r="3"/><circle cx="1311.8" cy="432.7" r="3"/><circle cx="1303.8" cy="424.8" r="3"/><circle cx="1320.7" cy="419.5" r="3"/><circle cx="1357.0" cy="400.4" r="3"/><circle cx="1367.7" cy="391.5" r="3"/><circle cx="1333.6" cy="409.5" r="3"/><circle cx="1367.1" cy="391.9" r="3"/><circle cx="1375.2" cy="392.6" r="3"/><circle cx="1468.2" cy="340.6" r="3"/><circle cx="1417.4" cy="382.6" r="3"/><circle cx="1308.8" cy="416.6" r="3"/><circle cx="1325.2" cy="417.4" r="3"/><circle cx="1319.4" cy="413.7" r="3"/><circle cx="1338.6" cy="415.5" r="3"/><circle cx="1370.0" cy="400.8" r="3"/><circle cx="1309.9" cy="411.6" r="3"/><circle cx="1320.4" cy="406.3" r="3"/><circle cx="1301.0" cy="424.3" r="3"/><circle cx="1327.4" cy="397.5" r="3"/><circle cx="1301.0" cy="418.0" r="3"/><circle cx="1301.0" cy="421.8" r="3"/><circle cx="1310.6" cy="400.7" r="3"/><circle cx="1328.5" cy="414.8" r="3"/><circle cx="1322.9" cy="429.0" r="3"/><circle cx="1312.8" cy="422.0" r="3"/><circle cx="1332.1" cy="408.4" r="3"/><circle cx="1373.9" cy="394.8" r="3"/><circle cx="1301.0" cy="435.5" r="3"/><circle cx="1318.2" cy="409.8" r="3"/><circle cx="1314.5" cy="412.6" r="3"/><circle cx="1301.0" cy="426.3" r="3"/><circle cx="1306.2" cy="430.7" r="3"/><circle cx="1332.1" cy="413.3" r="3"/><circle cx="1325.1" cy="414.8" r="3"/><circle cx="1333.2" cy="429.8" r="3"/><circle cx="1318.7" cy="419.6" r="3"/><circle cx="1327.7" cy="414.8" r="3"/><circle cx="1329.8" cy="407.4" r="3"/><circle cx="1334.9" cy="414.0" r="3"/><circle cx="1362.1" cy="401.8" r="3"/><circle cx="1405.8" cy="361.6" r="3"/><circle cx="1415.1" cy="371.3" r="3"/><circle cx="1360.8" cy="399.6" r="3"/><circle cx="1355.1" cy="387.2" r="3"/><circle cx="1320.7" cy="411.4" r="3"/><circle cx="1301.0" cy="426.3" r="3"/><circle cx="1326.7" cy="407.2" r="3"/><circle cx="1346.6" cy="402.7" r="3"/><circle cx="1301.0" cy="425.9" r="3"/><circle cx="1305.4" cy="409.6" r="3"/><circle cx="1340.6" cy="395.0" r="3"/><circle cx="1301.0" cy="420.6" r="3"/><circle cx="1301.0" cy="425.0" r="3"/><circle cx="1301.0" cy="424.7" r="3"/><circle cx="1306.2" cy="415.2" r="3"/><circle cx="1301.0" cy="415.8" r="3"/><circle cx="1350.8" cy="401.0" r="3"/><circle cx="1313.9" cy="417.4" r="3"/><circle cx="1307.4" cy="432.9" r="3"/><circle cx="1332.9" cy="418.6" r="3"/><circle cx="1348.6" cy="420.4" r="3"/><circle cx="1301.0" cy="426.3" r="3"/><circle cx="1301.0" cy="422.8" r="3"/><circle cx="1316.0" cy="410.7" r="3"/><circle cx="1329.3" cy="411.6" r="3"/><circle cx="1317.5" cy="417.9" r="3"/><circle cx="1303.0" cy="418.9" r="3"/><circle cx="1318.8" cy="408.4" r="3"/><circle cx="1338.2" cy="413.2" r="3"/><circle cx="1311.3" cy="416.4" r="3"/><circle cx="1320.6" cy="414.5" r="3"/><circle cx="1321.2" cy="413.3" r="3"/><circle cx="1317.9" cy="412.1" r="3"/><circle cx="1301.0" cy="429.5" r="3"/><circle cx="1308.0" cy="411.3" r="3"/><circle cx="1315.0" cy="408.2" r="3"/><circle cx="1304.8" cy="419.3" r="3"/><circle cx="1309.2" cy="423.5" r="3"/><circle cx="1301.0" cy="424.5" r="3"/><circle cx="1307.8" cy="405.3" r="3"/><circle cx="1318.4" cy="404.1" r="3"/><circle cx="1314.5" cy="406.6" r="3"/><circle cx="1320.0" cy="415.4" r="3"/><circle cx="1335.2" cy="396.0" r="3"/><circle cx="1338.1" cy="399.9" r="3"/><circle cx="1325.2" cy="394.9" r="3"/><circle cx="1356.0" cy="386.6" r="3"/><circle cx="1376.0" cy="370.6" r="3"/><circle cx="1380.9" cy="379.5" r="3"/><circle cx="1337.2" cy="422.7" r="3"/><circle cx="1350.8" cy="395.2" r="3"/><circle cx="1380.8" cy="362.4" r="3"/><circle cx="1401.9" cy="355.3" r="3"/><circle cx="1407.2" cy="340.6" r="3"/><circle cx="1324.1" cy="379.7" r="3"/><circle cx="1339.3" cy="373.2" r="3"/><circle cx="1329.7" cy="380.7" r="3"/><circle cx="1337.0" cy="411.7" r="3"/><circle cx="1315.6" cy="417.2" r="3"/><circle cx="1312.7" cy="428.3" r="3"/><circle cx="1315.7" cy="408.9" r="3"/><circle cx="1301.0" cy="421.1" r="3"/><circle cx="1311.3" cy="410.6" r="3"/><circle cx="1347.1" cy="394.2" r="3"/><circle cx="1333.6" cy="393.7" r="3"/><circle cx="1381.8" cy="353.6" r="3"/><circle cx="1423.0" cy="314.8" r="3"/><circle cx="1398.2" cy="334.7" r="3"/><circle cx="1390.5" cy="345.5" r="3"/><circle cx="1337.8" cy="371.9" r="3"/><circle cx="1335.7" cy="391.0" r="3"/><circle cx="1365.6" cy="375.0" r="3"/><circle cx="1394.9" cy="349.1" r="3"/><circle cx="1387.5" cy="351.1" r="3"/><circle cx="1429.6" cy="328.2" r="3"/><circle cx="1381.9" cy="351.9" r="3"/><circle cx="1382.9" cy="352.9" r="3"/><circle cx="1402.5" cy="328.5" r="3"/><circle cx="1414.1" cy="327.1" r="3"/><circle cx="1452.1" cy="294.0" r="3"/><circle cx="1427.9" cy="311.6" r="3"/><circle cx="1422.2" cy="321.9" r="3"/><circle cx="1424.0" cy="325.6" r="3"/><circle cx="1391.0" cy="346.8" r="3"/><circle cx="1338.4" cy="377.9" r="3"/><circle cx="1381.9" cy="349.6" r="3"/><circle cx="1363.6" cy="360.3" r="3"/><circle cx="1395.9" cy="344.4" r="3"/><circle cx="1337.0" cy="384.1" r="3"/><circle cx="1347.4" cy="384.3" r="3"/><circle cx="1336.5" cy="390.4" r="3"/><circle cx="1343.6" cy="390.3" r="3"/><circle cx="1301.0" cy="435.8" r="3"/><circle cx="1303.6" cy="421.3" r="3"/><circle cx="1340.2" cy="377.3" r="3"/><circle cx="1385.6" cy="360.7" r="3"/><circle cx="1349.8" cy="369.0" r="3"/><circle cx="1370.1" cy="362.2" r="3"/><circle cx="1451.2" cy="314.9" r="3"/><circle cx="1326.9" cy="397.2" r="3"/><circle cx="1370.8" cy="363.6" r="3"/><circle cx="1384.7" cy="343.4" r="3"/><circle cx="1405.1" cy="324.5" r="3"/><circle cx="1422.6" cy="285.0" r="3"/><circle cx="1451.0" cy="246.0" r="3"/><circle cx="1492.8" cy="241.3" r="3"/><circle cx="1469.5" cy="259.0" r="3"/><circle cx="1501.2" cy="243.2" r="3"/><circle cx="1486.3" cy="255.2" r="3"/><circle cx="1476.7" cy="264.8" r="3"/><circle cx="1505.9" cy="235.5" r="3"/><circle cx="1544.1" cy="213.5" r="3"/><circle cx="1517.0" cy="223.2" r="3"/><circle cx="1480.8" cy="245.9" r="3"/><circle cx="1495.1" cy="226.2" r="3"/><circle cx="1483.9" cy="220.4" r="3"/><circle cx="1475.9" cy="241.9" r="3"/><circle cx="1540.2" cy="202.4" r="3"/><circle cx="1497.4" cy="237.8" r="3"/><circle cx="1534.2" cy="234.1" r="3"/><circle cx="1501.6" cy="257.1" r="3"/><circle cx="1527.5" cy="238.2" r="3"/><circle cx="1557.2" cy="214.6" r="3"/><circle cx="1521.9" cy="250.9" r="3"/><circle cx="1493.7" cy="282.2" r="3"/><circle cx="1495.0" cy="262.0" r="3"/><circle cx="1494.6" cy="277.8" r="3"/><circle cx="1461.3" cy="312.8" r="3"/><circle cx="1484.4" cy="274.6" r="3"/><circle cx="1496.0" cy="258.7" r="3"/><circle cx="1480.7" cy="251.7" r="3"/><circle cx="1486.1" cy="248.9" r="3"/><circle cx="1471.9" cy="240.5" r="3"/><circle cx="1482.3" cy="231.8" r="3"/><circle cx="1533.9" cy="208.9" r="3"/><circle cx="1499.6" cy="242.5" r="3"/><circle cx="1456.3" cy="266.6" r="3"/><circle cx="1493.4" cy="254.1" r="3"/><circle cx="1495.4" cy="263.0" r="3"/><circle cx="1535.8" cy="240.1" r="3"/><circle cx="1529.2" cy="235.5" r="3"/><circle cx="1492.3" cy="251.8" r="3"/><circle cx="1474.1" cy="255.8" r="3"/><circle cx="1483.1" cy="254.9" r="3"/><circle cx="1516.9" cy="241.1" r="3"/><circle cx="1509.6" cy="240.4" r="3"/><circle cx="1498.5" cy="251.6" r="3"/><circle cx="1517.1" cy="223.0" r="3"/><circle cx="1599.9" cy="162.6" r="3"/><circle cx="1587.8" cy="171.4" r="3"/><circle cx="1605.1" cy="162.0" r="3"/><circle cx="1629.3" cy="149.2" r="3"/><circle cx="1629.2" cy="152.2" r="3"/><circle cx="1581.0" cy="178.0" r="3"/><circle cx="1573.0" cy="201.0" r="3"/><circle cx="1597.0" cy="191.5" r="3"/><circle cx="1582.5" cy="218.6" r="3"/><circle cx="1524.9" cy="253.2" r="3"/><circle cx="1480.4" cy="277.2" r="3"/><circle cx="1503.3" cy="245.0" r="3"/><circle cx="1458.6" cy="270.6" r="3"/><circle cx="1488.2" cy="247.5" r="3"/><circle cx="1502.0" cy="251.1" r="3"/><circle cx="1526.6" cy="223.1" r="3"/><circle cx="1525.4" cy="223.1" r="3"/><circle cx="1538.7" cy="211.4" r="3"/><circle cx="1491.7" cy="242.7" r="3"/><circle cx="1507.2" cy="244.9" r="3"/><circle cx="1500.9" cy="261.6" r="3"/><circle cx="1537.1" cy="223.7" r="3"/><circle cx="1530.6" cy="214.2" r="3"/><circle cx="1510.3" cy="245.6" r="3"/><circle cx="1501.5" cy="236.9" r="3"/><circle cx="1492.1" cy="235.4" r="3"/><circle cx="1532.3" cy="213.9" r="3"/><circle cx="1505.5" cy="249.9" r="3"/><circle cx="1498.3" cy="258.2" r="3"/><circle cx="1513.8" cy="262.2" r="3"/><circle cx="1568.1" cy="190.2" r="3"/><circle cx="1593.1" cy="172.9" r="3"/><circle cx="1580.9" cy="173.8" r="3"/><circle cx="1578.5" cy="186.7" r="3"/><circle cx="1626.9" cy="155.8" r="3"/><circle cx="1577.7" cy="175.3" r="3"/><circle cx="1624.1" cy="159.0" r="3"/><circle cx="1601.1" cy="164.8" r="3"/><circle cx="1629.0" cy="150.6" r="3"/><circle cx="1593.8" cy="176.4" r="3"/><circle cx="1595.8" cy="185.4" r="3"/><circle cx="1611.0" cy="178.8" r="3"/><circle cx="1578.8" cy="190.7" r="3"/><circle cx="1582.4" cy="187.6" r="3"/><circle cx="1610.1" cy="173.7" r="3"/><circle cx="1590.5" cy="185.7" r="3"/><circle cx="1529.2" cy="230.5" r="3"/><circle cx="1539.6" cy="226.3" r="3"/><circle cx="1533.5" cy="234.2" r="3"/><circle cx="1507.1" cy="241.3" r="3"/><circle cx="1514.3" cy="243.0" r="3"/><circle cx="1558.1" cy="232.4" r="3"/><circle cx="1486.4" cy="286.6" r="3"/><circle cx="1506.1" cy="248.2" r="3"/><circle cx="1504.8" cy="243.3" r="3"/><circle cx="1538.6" cy="210.9" r="3"/><circle cx="1632.6" cy="167.6" r="3"/><circle cx="1648.8" cy="160.2" r="3"/><circle cx="1566.2" cy="218.7" r="3"/><circle cx="1547.5" cy="230.5" r="3"/><circle cx="1521.0" cy="255.7" r="3"/><circle cx="1542.0" cy="250.7" r="3"/><circle cx="1568.4" cy="227.8" r="3"/><circle cx="1515.7" cy="277.9" r="3"/><circle cx="1524.6" cy="250.1" r="3"/><circle cx="1474.8" cy="275.3" r="3"/><circle cx="1541.4" cy="239.9" r="3"/><circle cx="1536.8" cy="242.7" r="3"/><circle cx="1551.3" cy="240.4" r="3"/><circle cx="1541.0" cy="234.6" r="3"/><circle cx="1534.6" cy="240.0" r="3"/><circle cx="1538.0" cy="234.1" r="3"/><circle cx="1523.6" cy="250.8" r="3"/><circle cx="1524.4" cy="262.0" r="3"/><circle cx="1605.1" cy="196.6" r="3"/><circle cx="1654.9" cy="157.2" r="3"/><circle cx="1654.1" cy="146.9" r="3"/><circle cx="1643.6" cy="141.0" r="3"/><circle cx="1597.6" cy="172.9" r="3"/><circle cx="1638.4" cy="153.5" r="3"/><circle cx="1627.6" cy="153.1" r="3"/><circle cx="1578.7" cy="193.2" r="3"/><circle cx="1584.8" cy="194.9" r="3"/><circle cx="1582.7" cy="200.4" r="3"/><circle cx="1571.1" cy="222.9" r="3"/><circle cx="1587.1" cy="223.4" r="3"/><circle cx="1563.1" cy="246.1" r="3"/><circle cx="1546.5" cy="256.7" r="3"/><circle cx="1603.5" cy="198.7" r="3"/><circle cx="1607.0" cy="206.2" r="3"/><circle cx="1567.4" cy="235.9" r="3"/><circle cx="1621.4" cy="204.2" r="3"/><circle cx="1613.7" cy="188.4" r="3"/><circle cx="1567.7" cy="230.9" r="3"/><circle cx="1571.0" cy="237.1" r="3"/><circle cx="1560.1" cy="232.7" r="3"/><circle cx="1569.9" cy="222.8" r="3"/><circle cx="1574.5" cy="230.1" r="3"/><circle cx="1586.0" cy="198.0" r="3"/><circle cx="1581.2" cy="214.9" r="3"/><circle cx="1556.0" cy="231.2" r="3"/><circle cx="1550.8" cy="244.5" r="3"/><circle cx="1560.8" cy="224.6" r="3"/><circle cx="1510.3" cy="267.0" r="3"/><circle cx="1513.1" cy="279.5" r="3"/><circle cx="1509.4" cy="293.1" r="3"/><circle cx="1510.1" cy="272.7" r="3"/><circle cx="1542.5" cy="240.5" r="3"/><circle cx="1544.1" cy="231.5" r="3"/><circle cx="1502.7" cy="275.4" r="3"/><circle cx="1512.5" cy="256.5" r="3"/><circle cx="1516.7" cy="253.7" r="3"/><circle cx="1520.3" cy="265.0" r="3"/><circle cx="1504.7" cy="263.3" r="3"/><circle cx="1486.3" cy="293.4" r="3"/><circle cx="1445.9" cy="337.0" r="3"/><circle cx="1459.9" cy="324.5" r="3"/><circle cx="1404.1" cy="361.9" r="3"/><circle cx="1441.0" cy="346.5" r="3"/><circle cx="1467.4" cy="323.8" r="3"/><circle cx="1477.9" cy="316.2" r="3"/><circle cx="1525.2" cy="270.1" r="3"/><circle cx="1530.9" cy="277.2" r="3"/><circle cx="1529.0" cy="309.1" r="3"/><circle cx="1489.8" cy="339.0" r="3"/><circle cx="1464.3" cy="338.2" r="3"/><circle cx="1426.3" cy="367.1" r="3"/><circle cx="1454.4" cy="347.2" r="3"/><circle cx="1451.6" cy="348.7" r="3"/><circle cx="1378.1" cy="388.7" r="3"/><circle cx="1425.7" cy="361.7" r="3"/><circle cx="1432.1" cy="360.4" r="3"/><circle cx="1446.6" cy="342.6" r="3"/><circle cx="1458.2" cy="321.7" r="3"/><circle cx="1479.4" cy="302.3" r="3"/><circle cx="1472.8" cy="312.3" r="3"/><circle cx="1527.0" cy="282.4" r="3"/><circle cx="1533.0" cy="291.8" r="3"/><circle cx="1524.2" cy="288.3" r="3"/><circle cx="1527.2" cy="285.5" r="3"/><circle cx="1474.7" cy="337.6" r="3"/><circle cx="1459.9" cy="341.9" r="3"/><circle cx="1448.7" cy="341.2" r="3"/><circle cx="1417.9" cy="338.8" r="3"/><circle cx="1397.2" cy="375.9" r="3"/><circle cx="1463.2" cy="323.5" r="3"/><circle cx="1431.2" cy="329.1" r="3"/><circle cx="1428.1" cy="352.1" r="3"/><circle cx="1353.8" cy="397.3" r="3"/><circle cx="1368.4" cy="396.4" r="3"/><circle cx="1378.9" cy="386.0" r="3"/><circle cx="1359.2" cy="398.6" r="3"/><circle cx="1378.4" cy="388.7" r="3"/><circle cx="1352.9" cy="399.2" r="3"/><circle cx="1414.1" cy="369.0" r="3"/><circle cx="1413.0" cy="382.6" r="3"/><circle cx="1425.1" cy="375.5" r="3"/><circle cx="1428.1" cy="367.4" r="3"/><circle cx="1492.1" cy="300.6" r="3"/><circle cx="1444.4" cy="337.1" r="3"/><circle cx="1444.5" cy="350.0" r="3"/><circle cx="1390.9" cy="376.2" r="3"/><circle cx="1414.6" cy="357.7" r="3"/><circle cx="1390.7" cy="378.9" r="3"/><circle cx="1370.4" cy="393.7" r="3"/><circle cx="1378.6" cy="396.1" r="3"/><circle cx="1370.8" cy="402.0" r="3"/><circle cx="1365.1" cy="407.6" r="3"/><circle cx="1315.8" cy="418.6" r="3"/><circle cx="1331.1" cy="419.0" r="3"/><circle cx="1333.6" cy="410.6" r="3"/><circle cx="1337.9" cy="402.1" r="3"/><circle cx="1323.7" cy="412.5" r="3"/><circle cx="1301.0" cy="428.7" r="3"/><circle cx="1312.0" cy="421.1" r="3"/><circle cx="1301.0" cy="424.6" r="3"/><circle cx="1308.7" cy="417.4" r="3"/><circle cx="1336.4" cy="407.6" r="3"/><circle cx="1330.7" cy="402.0" r="3"/><circle cx="1301.0" cy="418.5" r="3"/><circle cx="1305.9" cy="422.8" r="3"/><circle cx="1322.0" cy="411.4" r="3"/><circle cx="1328.1" cy="421.0" r="3"/><circle cx="1322.7" cy="413.4" r="3"/><circle cx="1340.1" cy="395.8" r="3"/><circle cx="1359.7" cy="390.8" r="3"/><circle cx="1399.2" cy="367.8" r="3"/><circle cx="1384.0" cy="382.4" r="3"/><circle cx="1402.2" cy="363.3" r="3"/><circle cx="1360.0" cy="386.3" r="3"/><circle cx="1356.2" cy="393.0" r="3"/><circle cx="1450.2" cy="338.7" r="3"/><circle cx="1461.2" cy="319.6" r="3"/><circle cx="1426.2" cy="353.0" r="3"/><circle cx="1416.2" cy="357.3" r="3"/><circle cx="1381.4" cy="364.4" r="3"/><circle cx="1401.7" cy="341.5" r="3"/><circle cx="1408.2" cy="366.0" r="3"/><circle cx="1340.1" cy="405.8" r="3"/><circle cx="1302.6" cy="414.2" r="3"/><circle cx="1337.9" cy="408.9" r="3"/><circle cx="1351.0" cy="410.6" r="3"/><circle cx="1409.7" cy="380.4" r="3"/><circle cx="1428.5" cy="362.1" r="3"/><circle cx="1423.6" cy="362.3" r="3"/><circle cx="1364.2" cy="396.2" r="3"/><circle cx="1414.5" cy="366.3" r="3"/><circle cx="1459.7" cy="325.4" r="3"/><circle cx="1457.4" cy="325.4" r="3"/><circle cx="1424.2" cy="340.5" r="3"/><circle cx="1462.1" cy="331.7" r="3"/><circle cx="1465.9" cy="314.8" r="3"/><circle cx="1445.0" cy="352.3" r="3"/><circle cx="1430.9" cy="369.3" r="3"/><circle cx="1405.7" cy="374.1" r="3"/><circle cx="1406.9" cy="364.3" r="3"/><circle cx="1389.6" cy="372.3" r="3"/><circle cx="1391.3" cy="371.1" r="3"/><circle cx="1363.2" cy="389.1" r="3"/><circle cx="1363.1" cy="394.2" r="3"/><circle cx="1339.7" cy="403.9" r="3"/><circle cx="1301.0" cy="421.2" r="3"/><circle cx="1307.5" cy="415.4" r="3"/><circle cx="1371.0" cy="388.4" r="3"/><circle cx="1318.9" cy="410.5" r="3"/><circle cx="1349.7" cy="408.5" r="3"/><circle cx="1364.4" cy="396.8" r="3"/><circle cx="1342.4" cy="416.9" r="3"/><circle cx="1321.8" cy="422.5" r="3"/><circle cx="1305.8" cy="437.3" r="3"/><circle cx="1330.8" cy="412.7" r="3"/><circle cx="1429.7" cy="353.6" r="3"/><circle cx="1451.1" cy="309.3" r="3"/><circle cx="1431.2" cy="333.9" r="3"/><circle cx="1418.6" cy="329.8" r="3"/><circle cx="1413.6" cy="343.0" r="3"/><circle cx="1421.8" cy="348.9" r="3"/><circle cx="1447.7" cy="317.5" r="3"/><circle cx="1373.8" cy="379.4" r="3"/><circle cx="1402.8" cy="356.4" r="3"/><circle cx="1410.7" cy="372.6" r="3"/><circle cx="1445.7" cy="327.4" r="3"/><circle cx="1429.4" cy="337.2" r="3"/><circle cx="1384.8" cy="366.8" r="3"/><circle cx="1361.5" cy="378.4" r="3"/><circle cx="1368.4" cy="357.7" r="3"/><circle cx="1366.4" cy="366.8" r="3"/><circle cx="1381.7" cy="359.4" r="3"/><circle cx="1343.7" cy="379.3" r="3"/><circle cx="1332.5" cy="405.4" r="3"/><circle cx="1317.5" cy="403.8" r="3"/><circle cx="1350.8" cy="378.9" r="3"/><circle cx="1354.4" cy="381.4" r="3"/><circle cx="1359.0" cy="384.8" r="3"/><circle cx="1397.0" cy="361.1" r="3"/><circle cx="1355.7" cy="380.0" r="3"/><circle cx="1355.2" cy="388.7" r="3"/><circle cx="1320.1" cy="401.7" r="3"/><circle cx="1381.1" cy="367.0" r="3"/><circle cx="1315.0" cy="409.2" r="3"/><circle cx="1346.9" cy="383.2" r="3"/><circle cx="1327.4" cy="385.0" r="3"/><circle cx="1307.0" cy="415.1" r="3"/><circle cx="1344.6" cy="374.1" r="3"/><circle cx="1353.4" cy="378.4" r="3"/><circle cx="1327.2" cy="417.2" r="3"/><circle cx="1324.0" cy="413.2" r="3"/><circle cx="1350.5" cy="388.3" r="3"/><circle cx="1389.6" cy="361.0" r="3"/><circle cx="1354.6" cy="377.3" r="3"/><circle cx="1374.5" cy="356.3" r="3"/><circle cx="1389.1" cy="348.9" r="3"/><circle cx="1347.9" cy="364.9" r="3"/><circle cx="1359.3" cy="362.8" r="3"/><circle cx="1385.5" cy="360.6" r="3"/><circle cx="1355.8" cy="381.1" r="3"/><circle cx="1345.4" cy="386.3" r="3"/><circle cx="1359.1" cy="376.7" r="3"/><circle cx="1352.8" cy="376.1" r="3"/><circle cx="1348.7" cy="389.2" r="3"/><circle cx="1336.3" cy="398.5" r="3"/><circle cx="1381.9" cy="359.0" r="3"/><circle cx="1382.1" cy="353.0" r="3"/><circle cx="1407.1" cy="337.2" r="3"/><circle cx="1434.8" cy="317.3" r="3"/><circle cx="1444.3" cy="303.6" r="3"/><circle cx="1490.4" cy="247.8" r="3"/><circle cx="1440.6" cy="303.0" r="3"/><circle cx="1453.2" cy="290.2" r="3"/><circle cx="1448.6" cy="308.7" r="3"/><circle cx="1437.8" cy="293.0" r="3"/><circle cx="1494.7" cy="250.0" r="3"/><circle cx="1390.6" cy="319.4" r="3"/><circle cx="1388.6" cy="333.4" r="3"/><circle cx="1382.3" cy="328.9" r="3"/><circle cx="1410.7" cy="316.8" r="3"/><circle cx="1423.4" cy="301.4" r="3"/><circle cx="1419.5" cy="307.8" r="3"/><circle cx="1427.5" cy="307.3" r="3"/><circle cx="1455.5" cy="294.8" r="3"/><circle cx="1438.0" cy="312.6" r="3"/><circle cx="1474.9" cy="286.6" r="3"/><circle cx="1390.6" cy="340.4" r="3"/><circle cx="1432.3" cy="313.8" r="3"/><circle cx="1371.0" cy="345.3" r="3"/><circle cx="1407.6" cy="320.4" r="3"/><circle cx="1433.7" cy="319.1" r="3"/><circle cx="1380.6" cy="338.6" r="3"/><circle cx="1392.6" cy="319.6" r="3"/><circle cx="1383.1" cy="340.7" r="3"/><circle cx="1367.1" cy="362.3" r="3"/><circle cx="1347.1" cy="384.8" r="3"/><circle cx="1346.5" cy="369.9" r="3"/><circle cx="1401.0" cy="343.3" r="3"/><circle cx="1438.0" cy="310.5" r="3"/><circle cx="1414.6" cy="315.3" r="3"/><circle cx="1410.7" cy="295.7" r="3"/><circle cx="1437.9" cy="286.9" r="3"/><circle cx="1436.5" cy="298.8" r="3"/><circle cx="1471.4" cy="271.4" r="3"/><circle cx="1476.7" cy="249.6" r="3"/><circle cx="1464.8" cy="274.9" r="3"/><circle cx="1471.9" cy="267.8" r="3"/><circle cx="1459.9" cy="271.3" r="3"/><circle cx="1449.7" cy="274.2" r="3"/><circle cx="1433.9" cy="284.3" r="3"/><circle cx="1478.5" cy="254.6" r="3"/><circle cx="1447.8" cy="285.0" r="3"/><circle cx="1469.5" cy="257.8" r="3"/><circle cx="1438.9" cy="281.3" r="3"/><circle cx="1436.9" cy="269.5" r="3"/><circle cx="1449.3" cy="255.4" r="3"/><circle cx="1449.9" cy="276.3" r="3"/><circle cx="1499.9" cy="226.8" r="3"/><circle cx="1516.4" cy="227.2" r="3"/><circle cx="1536.7" cy="193.0" r="3"/><circle cx="1561.4" cy="180.3" r="3"/><circle cx="1514.5" cy="219.7" r="3"/><circle cx="1494.4" cy="234.6" r="3"/><circle cx="1521.1" cy="218.6" r="3"/><circle cx="1500.8" cy="227.3" r="3"/><circle cx="1493.9" cy="227.7" r="3"/><circle cx="1469.8" cy="253.1" r="3"/><circle cx="1440.2" cy="288.7" r="3"/><circle cx="1488.9" cy="284.8" r="3"/><circle cx="1440.3" cy="324.7" r="3"/><circle cx="1444.0" cy="303.9" r="3"/><circle cx="1441.6" cy="298.9" r="3"/><circle cx="1476.0" cy="309.2" r="3"/><circle cx="1458.7" cy="299.9" r="3"/><circle cx="1456.9" cy="281.4" r="3"/><circle cx="1448.1" cy="300.9" r="3"/><circle cx="1421.9" cy="335.2" r="3"/><circle cx="1420.7" cy="329.8" r="3"/><circle cx="1394.0" cy="360.6" r="3"/><circle cx="1404.0" cy="358.7" r="3"/><circle cx="1478.9" cy="297.3" r="3"/><circle cx="1443.3" cy="305.2" r="3"/><circle cx="1474.1" cy="271.1" r="3"/><circle cx="1461.6" cy="293.4" r="3"/><circle cx="1489.5" cy="276.0" r="3"/><circle cx="1480.2" cy="269.8" r="3"/><circle cx="1487.9" cy="266.3" r="3"/><circle cx="1518.3" cy="237.3" r="3"/><circle cx="1559.3" cy="201.2" r="3"/><circle cx="1544.6" cy="214.9" r="3"/><circle cx="1563.3" cy="193.6" r="3"/><circle cx="1507.5" cy="228.2" r="3"/><circle cx="1537.2" cy="221.8" r="3"/><circle cx="1545.9" cy="222.3" r="3"/><circle cx="1551.5" cy="207.4" r="3"/><circle cx="1581.0" cy="192.0" r="3"/><circle cx="1614.5" cy="165.1" r="3"/><circle cx="1502.9" cy="234.5" r="3"/><circle cx="1511.2" cy="225.8" r="3"/><circle cx="1522.7" cy="209.2" r="3"/><circle cx="1523.8" cy="203.7" r="3"/><circle cx="1477.5" cy="241.5" r="3"/><circle cx="1476.2" cy="251.7" r="3"/><circle cx="1454.2" cy="263.5" r="3"/><circle cx="1484.7" cy="253.5" r="3"/><circle cx="1570.8" cy="190.2" r="3"/><circle cx="1576.6" cy="180.4" r="3"/><circle cx="1566.8" cy="198.0" r="3"/><circle cx="1545.5" cy="212.0" r="3"/><circle cx="1516.8" cy="242.9" r="3"/><circle cx="1556.5" cy="195.3" r="3"/><circle cx="1514.0" cy="227.3" r="3"/><circle cx="1512.6" cy="220.9" r="3"/><circle cx="1543.8" cy="207.8" r="3"/><circle cx="1590.5" cy="191.5" r="3"/><circle cx="1564.0" cy="194.8" r="3"/><circle cx="1508.2" cy="225.1" r="3"/><circle cx="1488.8" cy="263.4" r="3"/><circle cx="1508.6" cy="259.3" r="3"/><circle cx="1483.2" cy="305.9" r="3"/><circle cx="1485.3" cy="276.0" r="3"/><circle cx="1524.7" cy="250.8" r="3"/><circle cx="1525.6" cy="240.7" r="3"/><circle cx="1582.5" cy="188.8" r="3"/><circle cx="1637.9" cy="154.6" r="3"/><circle cx="1578.4" cy="197.7" r="3"/><circle cx="1615.7" cy="173.2" r="3"/><circle cx="1647.6" cy="141.6" r="3"/><circle cx="1600.7" cy="164.1" r="3"/><circle cx="1565.1" cy="182.3" r="3"/><circle cx="1608.7" cy="173.2" r="3"/><circle cx="1568.0" cy="216.5" r="3"/><circle cx="1635.3" cy="165.4" r="3"/><circle cx="1554.6" cy="218.8" r="3"/><circle cx="1516.3" cy="243.9" r="3"/><circle cx="1563.6" cy="227.8" r="3"/><circle cx="1551.4" cy="229.7" r="3"/><circle cx="1567.2" cy="203.6" r="3"/><circle cx="1578.5" cy="196.1" r="3"/><circle cx="1573.8" cy="202.1" r="3"/><circle cx="1622.4" cy="183.4" r="3"/><circle cx="1538.9" cy="228.0" r="3"/><circle cx="1533.9" cy="228.8" r="3"/><circle cx="1539.3" cy="232.1" r="3"/><circle cx="1549.7" cy="229.1" r="3"/><circle cx="1541.5" cy="225.3" r="3"/><circle cx="1519.8" cy="233.4" r="3"/><circle cx="1519.2" cy="244.5" r="3"/><circle cx="1557.9" cy="228.3" r="3"/><circle cx="1572.6" cy="206.8" r="3"/><circle cx="1551.9" cy="232.6" r="3"/><circle cx="1612.0" cy="183.0" r="3"/><circle cx="1614.6" cy="190.3" r="3"/><circle cx="1594.4" cy="187.8" r="3"/><circle cx="1635.3" cy="166.7" r="3"/><circle cx="1618.7" cy="177.9" r="3"/><circle cx="1581.8" cy="200.5" r="3"/><circle cx="1578.3" cy="214.8" r="3"/><circle cx="1575.3" cy="195.5" r="3"/><circle cx="1561.8" cy="213.1" r="3"/><circle cx="1546.5" cy="211.1" r="3"/><circle cx="1499.8" cy="253.0" r="3"/><circle cx="1505.5" cy="258.2" r="3"/><circle cx="1521.9" cy="257.6" r="3"/><circle cx="1508.4" cy="265.7" r="3"/><circle cx="1536.9" cy="234.3" r="3"/><circle cx="1541.0" cy="243.5" r="3"/><circle cx="1582.6" cy="206.8" r="3"/><circle cx="1576.5" cy="203.6" r="3"/><circle cx="1560.8" cy="207.3" r="3"/><circle cx="1561.8" cy="213.4" r="3"/><circle cx="1561.4" cy="218.9" r="3"/><circle cx="1578.9" cy="214.4" r="3"/><circle cx="1565.7" cy="237.6" r="3"/><circle cx="1569.1" cy="217.0" r="3"/><circle cx="1563.8" cy="219.2" r="3"/><circle cx="1554.3" cy="232.0" r="3"/><circle cx="1521.2" cy="248.4" r="3"/><circle cx="1491.4" cy="274.1" r="3"/><circle cx="1539.4" cy="255.1" r="3"/><circle cx="1548.4" cy="273.1" r="3"/><circle cx="1559.8" cy="246.2" r="3"/><circle cx="1548.3" cy="257.5" r="3"/><circle cx="1476.0" cy="313.4" r="3"/><circle cx="1478.7" cy="326.3" r="3"/><circle cx="1429.2" cy="356.9" r="3"/><circle cx="1464.6" cy="319.6" r="3"/><circle cx="1499.4" cy="302.0" r="3"/><circle cx="1500.0" cy="268.6" r="3"/><circle cx="1493.9" cy="294.6" r="3"/><circle cx="1484.7" cy="304.3" r="3"/><circle cx="1527.8" cy="266.4" r="3"/><circle cx="1543.7" cy="254.1" r="3"/><circle cx="1553.3" cy="253.5" r="3"/><circle cx="1583.9" cy="227.2" r="3"/><circle cx="1620.5" cy="187.4" r="3"/><circle cx="1652.0" cy="178.4" r="3"/><circle cx="1640.7" cy="180.8" r="3"/><circle cx="1622.8" cy="189.1" r="3"/><circle cx="1609.7" cy="195.5" r="3"/><circle cx="1563.8" cy="231.8" r="3"/><circle cx="1509.4" cy="259.5" r="3"/><circle cx="1514.2" cy="263.9" r="3"/><circle cx="1502.2" cy="284.3" r="3"/><circle cx="1501.0" cy="298.5" r="3"/><circle cx="1493.3" cy="286.3" r="3"/><circle cx="1533.4" cy="234.3" r="3"/><circle cx="1518.6" cy="271.6" r="3"/><circle cx="1533.4" cy="271.0" r="3"/><circle cx="1533.3" cy="280.3" r="3"/><circle cx="1516.7" cy="276.4" r="3"/><circle cx="1537.6" cy="251.8" r="3"/><circle cx="1498.4" cy="284.5" r="3"/><circle cx="1500.7" cy="300.0" r="3"/><circle cx="1462.1" cy="335.9" r="3"/><circle cx="1440.8" cy="352.4" r="3"/><circle cx="1455.9" cy="326.6" r="3"/><circle cx="1458.6" cy="338.0" r="3"/><circle cx="1461.3" cy="362.6" r="3"/><circle cx="1462.0" cy="353.8" r="3"/><circle cx="1447.8" cy="345.6" r="3"/><circle cx="1454.6" cy="318.5" r="3"/><circle cx="1465.3" cy="341.5" r="3"/><circle cx="1437.7" cy="354.2" r="3"/><circle cx="1391.6" cy="380.5" r="3"/><circle cx="1326.6" cy="411.8" r="3"/><circle cx="1426.4" cy="362.3" r="3"/><circle cx="1384.8" cy="383.0" r="3"/><circle cx="1368.9" cy="394.2" r="3"/><circle cx="1387.6" cy="374.4" r="3"/><circle cx="1398.7" cy="377.1" r="3"/><circle cx="1371.6" cy="378.1" r="3"/><circle cx="1382.3" cy="381.4" r="3"/><circle cx="1411.7" cy="368.5" r="3"/><circle cx="1384.7" cy="380.2" r="3"/><circle cx="1314.0" cy="418.5" r="3"/><circle cx="1353.1" cy="391.8" r="3"/><circle cx="1328.9" cy="408.4" r="3"/><circle cx="1313.6" cy="408.8" r="3"/><circle cx="1366.5" cy="394.7" r="3"/><circle cx="1382.8" cy="373.4" r="3"/><circle cx="1430.2" cy="355.4" r="3"/><circle cx="1426.9" cy="353.8" r="3"/><circle cx="1432.5" cy="338.1" r="3"/><circle cx="1454.7" cy="316.2" r="3"/><circle cx="1462.5" cy="299.9" r="3"/><circle cx="1506.7" cy="276.1" r="3"/><circle cx="1476.2" cy="299.9" r="3"/><circle cx="1452.0" cy="315.3" r="3"/><circle cx="1478.1" cy="318.9" r="3"/><circle cx="1432.5" cy="351.1" r="3"/><circle cx="1453.5" cy="338.6" r="3"/><circle cx="1415.7" cy="373.2" r="3"/><circle cx="1393.7" cy="379.0" r="3"/><circle cx="1326.9" cy="411.3" r="3"/><circle cx="1329.6" cy="401.4" r="3"/><circle cx="1320.6" cy="409.4" r="3"/><circle cx="1362.4" cy="401.7" r="3"/><circle cx="1432.1" cy="362.8" r="3"/><circle cx="1399.2" cy="379.0" r="3"/><circle cx="1382.3" cy="382.6" r="3"/><circle cx="1361.4" cy="396.6" r="3"/><circle cx="1377.6" cy="387.1" r="3"/><circle cx="1386.4" cy="386.0" r="3"/><circle cx="1411.7" cy="355.2" r="3"/><circle cx="1440.5" cy="332.7" r="3"/><circle cx="1426.6" cy="343.7" r="3"/><circle cx="1385.2" cy="395.3" r="3"/><circle cx="1316.8" cy="422.1" r="3"/><circle cx="1314.1" cy="423.0" r="3"/><circle cx="1307.6" cy="424.1" r="3"/><circle cx="1340.3" cy="415.4" r="3"/><circle cx="1330.8" cy="410.2" r="3"/><circle cx="1308.5" cy="414.8" r="3"/><circle cx="1301.0" cy="422.2" r="3"/><circle cx="1393.1" cy="389.8" r="3"/><circle cx="1360.9" cy="399.8" r="3"/><circle cx="1358.8" cy="406.4" r="3"/><circle cx="1355.4" cy="412.8" r="3"/><circle cx="1372.2" cy="400.2" r="3"/><circle cx="1411.4" cy="380.4" r="3"/><circle cx="1439.5" cy="364.6" r="3"/><circle cx="1455.9" cy="337.2" r="3"/><circle cx="1456.0" cy="335.4" r="3"/><circle cx="1474.9" cy="293.9" r="3"/><circle cx="1467.5" cy="304.1" r="3"/><circle cx="1384.0" cy="366.6" r="3"/><circle cx="1379.9" cy="383.1" r="3"/><circle cx="1393.7" cy="370.6" r="3"/><circle cx="1323.7" cy="400.1" r="3"/><circle cx="1360.7" cy="374.7" r="3"/><circle cx="1374.4" cy="378.8" r="3"/><circle cx="1334.1" cy="410.5" r="3"/><circle cx="1389.1" cy="378.3" r="3"/><circle cx="1404.6" cy="358.8" r="3"/><circle cx="1412.3" cy="374.1" r="3"/><circle cx="1420.0" cy="351.6" r="3"/><circle cx="1424.5" cy="342.3" r="3"/><circle cx="1420.0" cy="349.6" r="3"/><circle cx="1332.3" cy="407.2" r="3"/><circle cx="1318.7" cy="427.8" r="3"/><circle cx="1333.3" cy="403.5" r="3"/><circle cx="1301.0" cy="414.8" r="3"/><circle cx="1325.0" cy="395.5" r="3"/><circle cx="1328.5" cy="411.3" r="3"/><circle cx="1324.4" cy="405.7" r="3"/><circle cx="1302.7" cy="422.6" r="3"/><circle cx="1343.3" cy="392.7" r="3"/><circle cx="1354.1" cy="395.2" r="3"/><circle cx="1301.0" cy="413.7" r="3"/><circle cx="1301.0" cy="433.5" r="3"/><circle cx="1324.4" cy="396.2" r="3"/><circle cx="1325.5" cy="410.7" r="3"/><circle cx="1339.8" cy="397.2" r="3"/><circle cx="1328.2" cy="407.8" r="3"/><circle cx="1334.8" cy="397.6" r="3"/><circle cx="1301.0" cy="434.5" r="3"/><circle cx="1357.6" cy="387.1" r="3"/><circle cx="1304.6" cy="414.1" r="3"/><circle cx="1325.6" cy="407.2" r="3"/><circle cx="1326.9" cy="412.6" r="3"/><circle cx="1402.9" cy="351.2" r="3"/><circle cx="1375.1" cy="377.7" r="3"/><circle cx="1407.9" cy="339.2" r="3"/><circle cx="1381.3" cy="357.9" r="3"/><circle cx="1355.2" cy="374.6" r="3"/><circle cx="1382.2" cy="360.4" r="3"/><circle cx="1401.0" cy="334.1" r="3"/><circle cx="1417.5" cy="328.2" r="3"/><circle cx="1391.5" cy="336.6" r="3"/><circle cx="1399.0" cy="350.2" r="3"/><circle cx="1358.5" cy="376.0" r="3"/><circle cx="1374.4" cy="370.1" r="3"/><circle cx="1358.8" cy="366.0" r="3"/><circle cx="1379.3" cy="346.6" r="3"/><circle cx="1377.5" cy="345.9" r="3"/><circle cx="1414.4" cy="327.7" r="3"/><circle cx="1440.2" cy="304.6" r="3"/><circle cx="1444.3" cy="314.5" r="3"/><circle cx="1394.8" cy="362.5" r="3"/><circle cx="1322.5" cy="399.0" r="3"/><circle cx="1316.7" cy="427.7" r="3"/><circle cx="1342.6" cy="391.5" r="3"/><circle cx="1303.2" cy="416.0" r="3"/><circle cx="1343.0" cy="375.7" r="3"/><circle cx="1337.6" cy="367.8" r="3"/><circle cx="1415.5" cy="330.9" r="3"/><circle cx="1415.5" cy="316.7" r="3"/><circle cx="1373.6" cy="339.0" r="3"/><circle cx="1381.2" cy="352.9" r="3"/><circle cx="1385.1" cy="351.2" r="3"/><circle cx="1388.5" cy="351.7" r="3"/><circle cx="1367.1" cy="374.2" r="3"/><circle cx="1361.3" cy="368.4" r="3"/><circle cx="1411.1" cy="337.3" r="3"/><circle cx="1340.2" cy="389.8" r="3"/><circle cx="1349.8" cy="375.1" r="3"/><circle cx="1361.8" cy="383.7" r="3"/><circle cx="1356.4" cy="390.2" r="3"/><circle cx="1394.5" cy="356.2" r="3"/><circle cx="1369.0" cy="357.3" r="3"/><circle cx="1395.1" cy="339.0" r="3"/><circle cx="1326.8" cy="395.1" r="3"/><circle cx="1409.4" cy="345.6" r="3"/><circle cx="1336.9" cy="373.6" r="3"/><circle cx="1360.0" cy="358.9" r="3"/><circle cx="1359.7" cy="355.4" r="3"/><circle cx="1310.0" cy="421.3" r="3"/><circle cx="1301.0" cy="410.7" r="3"/><circle cx="1311.3" cy="403.3" r="3"/><circle cx="1390.1" cy="349.5" r="3"/><circle cx="1359.6" cy="355.4" r="3"/><circle cx="1388.9" cy="352.2" r="3"/><circle cx="1341.9" cy="374.2" r="3"/><circle cx="1367.8" cy="335.6" r="3"/><circle cx="1428.3" cy="293.0" r="3"/><circle cx="1415.1" cy="316.1" r="3"/><circle cx="1408.3" cy="314.1" r="3"/><circle cx="1351.1" cy="360.0" r="3"/><circle cx="1392.2" cy="326.8" r="3"/><circle cx="1399.9" cy="285.0" r="3"/><circle cx="1435.1" cy="271.1" r="3"/><circle cx="1438.1" cy="258.2" r="3"/><circle cx="1404.0" cy="270.2" r="3"/><circle cx="1391.6" cy="301.9" r="3"/><circle cx="1448.3" cy="265.7" r="3"/><circle cx="1374.1" cy="316.1" r="3"/><circle cx="1383.2" cy="325.6" r="3"/><circle cx="1390.2" cy="309.6" r="3"/><circle cx="1438.2" cy="290.2" r="3"/><circle cx="1438.3" cy="285.6" r="3"/><circle cx="1460.2" cy="294.1" r="3"/><circle cx="1452.0" cy="312.5" r="3"/><circle cx="1431.8" cy="335.6" r="3"/><circle cx="1414.2" cy="339.6" r="3"/><circle cx="1380.4" cy="351.7" r="3"/><circle cx="1348.8" cy="363.4" r="3"/><circle cx="1342.8" cy="374.6" r="3"/><circle cx="1353.5" cy="387.7" r="3"/><circle cx="1320.5" cy="423.3" r="3"/><circle cx="1328.3" cy="416.8" r="3"/><circle cx="1318.2" cy="417.8" r="3"/><circle cx="1339.6" cy="397.0" r="3"/><circle cx="1368.3" cy="359.2" r="3"/><circle cx="1420.6" cy="302.4" r="3"/><circle cx="1367.5" cy="336.9" r="3"/><circle cx="1358.8" cy="336.6" r="3"/><circle cx="1379.3" cy="311.4" r="3"/><circle cx="1401.6" cy="304.8" r="3"/><circle cx="1415.7" cy="310.6" r="3"/><circle cx="1495.7" cy="242.7" r="3"/><circle cx="1473.0" cy="265.3" r="3"/><circle cx="1430.4" cy="303.0" r="3"/><circle cx="1426.4" cy="328.8" r="3"/><circle cx="1443.8" cy="306.4" r="3"/><circle cx="1439.2" cy="300.0" r="3"/><circle cx="1396.8" cy="320.6" r="3"/><circle cx="1394.8" cy="332.8" r="3"/><circle cx="1438.9" cy="296.3" r="3"/><circle cx="1456.2" cy="283.3" r="3"/><circle cx="1425.1" cy="296.2" r="3"/><circle cx="1470.7" cy="278.7" r="3"/><circle cx="1471.2" cy="261.6" r="3"/><circle cx="1457.0" cy="295.4" r="3"/><circle cx="1453.9" cy="295.1" r="3"/><circle cx="1459.9" cy="268.1" r="3"/><circle cx="1448.1" cy="287.9" r="3"/><circle cx="1417.7" cy="318.9" r="3"/><circle cx="1433.7" cy="315.1" r="3"/><circle cx="1478.5" cy="285.4" r="3"/><circle cx="1477.8" cy="254.2" r="3"/><circle cx="1438.1" cy="300.5" r="3"/><circle cx="1518.4" cy="216.8" r="3"/><circle cx="1496.4" cy="242.3" r="3"/><circle cx="1513.6" cy="225.9" r="3"/><circle cx="1547.6" cy="196.0" r="3"/><circle cx="1551.6" cy="188.5" r="3"/><circle cx="1558.5" cy="195.0" r="3"/><circle cx="1516.3" cy="232.3" r="3"/><circle cx="1535.2" cy="208.2" r="3"/><circle cx="1508.6" cy="232.6" r="3"/><circle cx="1445.9" cy="294.1" r="3"/><circle cx="1529.5" cy="217.3" r="3"/><circle cx="1546.5" cy="198.1" r="3"/><circle cx="1601.1" cy="163.3" r="3"/><circle cx="1568.2" cy="204.6" r="3"/><circle cx="1631.8" cy="159.4" r="3"/><circle cx="1640.0" cy="143.7" r="3"/><circle cx="1637.8" cy="136.1" r="3"/><circle cx="1589.9" cy="182.4" r="3"/><circle cx="1548.5" cy="200.7" r="3"/><circle cx="1458.2" cy="251.7" r="3"/><circle cx="1438.4" cy="294.9" r="3"/><circle cx="1462.0" cy="276.5" r="3"/><circle cx="1444.3" cy="299.7" r="3"/><circle cx="1456.7" cy="267.2" r="3"/><circle cx="1478.3" cy="279.2" r="3"/><circle cx="1536.5" cy="207.8" r="3"/><circle cx="1561.0" cy="189.0" r="3"/><circle cx="1551.0" cy="197.6" r="3"/><circle cx="1593.3" cy="169.5" r="3"/><circle cx="1549.5" cy="193.9" r="3"/><circle cx="1527.5" cy="203.2" r="3"/><circle cx="1590.4" cy="175.9" r="3"/><circle cx="1535.3" cy="219.1" r="3"/><circle cx="1520.4" cy="220.4" r="3"/><circle cx="1500.7" cy="258.1" r="3"/><circle cx="1503.3" cy="238.3" r="3"/><circle cx="1541.3" cy="198.2" r="3"/><circle cx="1518.3" cy="222.1" r="3"/><circle cx="1552.9" cy="212.9" r="3"/><circle cx="1537.3" cy="233.1" r="3"/><circle cx="1514.7" cy="253.4" r="3"/><circle cx="1484.3" cy="271.6" r="3"/><circle cx="1522.8" cy="231.3" r="3"/><circle cx="1593.9" cy="174.8" r="3"/><circle cx="1604.7" cy="161.6" r="3"/><circle cx="1550.3" cy="203.0" r="3"/><circle cx="1582.0" cy="183.0" r="3"/><circle cx="1583.7" cy="182.2" r="3"/><circle cx="1564.0" cy="195.4" r="3"/><circle cx="1590.8" cy="181.5" r="3"/><circle cx="1614.5" cy="172.2" r="3"/><circle cx="1603.0" cy="180.1" r="3"/><circle cx="1607.1" cy="172.9" r="3"/><circle cx="1564.4" cy="220.5" r="3"/><circle cx="1544.8" cy="234.3" r="3"/><circle cx="1543.4" cy="236.5" r="3"/><circle cx="1525.3" cy="265.8" r="3"/><circle cx="1502.2" cy="264.1" r="3"/><circle cx="1499.4" cy="271.4" r="3"/><circle cx="1534.6" cy="264.4" r="3"/><circle cx="1537.3" cy="232.6" r="3"/><circle cx="1490.7" cy="272.4" r="3"/><circle cx="1526.6" cy="274.3" r="3"/><circle cx="1505.0" cy="274.9" r="3"/><circle cx="1511.3" cy="257.4" r="3"/><circle cx="1568.9" cy="205.0" r="3"/><circle cx="1586.5" cy="183.3" r="3"/><circle cx="1567.8" cy="206.6" r="3"/><circle cx="1620.9" cy="158.7" r="3"/><circle cx="1567.6" cy="207.9" r="3"/><circle cx="1594.7" cy="186.0" r="3"/><circle cx="1582.4" cy="198.5" r="3"/><circle cx="1502.5" cy="270.1" r="3"/><circle cx="1584.9" cy="197.8" r="3"/><circle cx="1647.4" cy="160.4" r="3"/><circle cx="1586.9" cy="199.9" r="3"/><circle cx="1604.7" cy="188.6" r="3"/><circle cx="1572.6" cy="208.5" r="3"/><circle cx="1746.6" cy="40.2" r="3"/><circle cx="1743.2" cy="60.8" r="3"/><circle cx="1720.1" cy="71.5" r="3"/><circle cx="1677.9" cy="99.4" r="3"/><circle cx="1668.9" cy="102.2" r="3"/><circle cx="1706.1" cy="116.1" r="3"/><circle cx="1649.1" cy="121.0" r="3"/><circle cx="1690.0" cy="131.8" r="3"/><circle cx="1679.5" cy="137.0" r="3"/><circle cx="1673.0" cy="135.4" r="3"/><circle cx="1669.7" cy="127.3" r="3"/><circle cx="1656.6" cy="132.8" r="3"/><circle cx="1615.1" cy="139.0" r="3"/><circle cx="1675.0" cy="153.8" r="3"/><circle cx="1669.8" cy="153.5" r="3"/><circle cx="1669.8" cy="162.3" r="3"/><circle cx="1669.8" cy="169.2" r="3"/><circle cx="1658.3" cy="178.9" r="3"/>
</g>
<path d="M1301.05 426.3L1755.5 65" stroke="#fff" stroke-width="5.6" fill="none"/>
<path d="M1301.05 426.3L1755.5 65" stroke="#000" stroke-width="3.6" fill="none"/>
</g>
<text transform="translate(1636.47 389.3) scale(1.0440 1)" font-size="27.3">= 0.956</text>
<text transform="translate(1619.33 376.7) scale(1.0989 1)" font-size="17.6">2</text>
<text transform="translate(1602.15 389.3) scale(0.7937 1)" font-size="27.3" font-style="italic">R</text>
<text transform="translate(1504.99 418.3) scale(0.9647 1)" font-size="27.3">RMSE = 6.103 GW</text>
<g stroke="#1a1a1a" stroke-width="1.5" fill="none">
<rect x="95.3" y="595.85" width="454.7" height="411"/>
<path d="M95.3 978.35h8.6M95.3 917.65h8.6M95.3 856.95h8.6M95.3 796.25h8.6M95.3 735.55h8.6M95.3 674.85h8.6M95.3 614.15h8.6M221.85 1006.85v-8.6M348.4 1006.85v-8.6M474.95 1006.85v-8.6" stroke-width="1.3"/>
</g>
<text transform="translate(54.43 985.47) scale(1.1071 1)" font-size="23">20</text>
<text transform="translate(53.44 924.75) scale(1.1470 1)" font-size="23">40</text>
<text transform="translate(53.06 864.03) scale(1.1622 1)" font-size="23">60</text>
<text transform="translate(53.52 803.31) scale(1.1439 1)" font-size="23">80</text>
<text transform="translate(40.92 742.59) scale(1.0905 1)" font-size="23">100</text>
<text transform="translate(44.27 681.87) scale(1.0010 1)" font-size="23">120</text>
<text transform="translate(43.23 621.15) scale(1.0289 1)" font-size="23">140</text>
<text transform="translate(87.35 1037.15) scale(1.1991 1)" font-size="23">0</text>
<text transform="translate(214.95 1037.15) scale(1.0343 1)" font-size="23">5</text>
<text transform="translate(335.1 1037.15) scale(0.9826 1)" font-size="23">10</text>
<text transform="translate(462.85 1037.15) scale(0.8958 1)" font-size="23">15</text>
<text transform="translate(288.18 1078.25) scale(0.9481 1)" font-size="27.3">HDDs</text>
<text transform="translate(23.4 965.09) rotate(-90) scale(1.0274 1)" font-size="27.3">Natural gas demand (GW)</text>
<text transform="translate(-0.04 594.2) scale(1.1100 1)" font-size="38" font-weight="700" stroke="#000" stroke-width="0.9">d</text>
<clipPath id="c3"><rect x="95.3" y="595.85" width="454.7" height="411"/></clipPath>
<g clip-path="url(#c3)"><g fill="#48a552" fill-opacity="0.3">
<circle cx="344.2" cy="766.0" r="3"/><circle cx="362.9" cy="768.1" r="3"/><circle cx="353.1" cy="768.7" r="3"/><circle cx="356.0" cy="779.6" r="3"/><circle cx="332.8" cy="785.7" r="3"/><circle cx="342.9" cy="794.9" r="3"/><circle cx="350.3" cy="790.6" r="3"/><circle cx="416.9" cy="736.6" r="3"/><circle cx="394.2" cy="768.4" r="3"/><circle cx="364.0" cy="774.3" r="3"/><circle cx="378.5" cy="773.7" r="3"/><circle cx="399.6" cy="760.9" r="3"/><circle cx="416.8" cy="743.5" r="3"/><circle cx="350.3" cy="783.1" r="3"/><circle cx="369.3" cy="773.0" r="3"/><circle cx="356.6" cy="760.8" r="3"/><circle cx="315.5" cy="802.3" r="3"/><circle cx="318.9" cy="805.9" r="3"/><circle cx="273.3" cy="847.4" r="3"/><circle cx="259.2" cy="866.1" r="3"/><circle cx="252.0" cy="886.2" r="3"/><circle cx="268.0" cy="872.9" r="3"/><circle cx="239.0" cy="894.1" r="3"/><circle cx="242.7" cy="871.6" r="3"/><circle cx="270.3" cy="846.7" r="3"/><circle cx="272.7" cy="843.9" r="3"/><circle cx="261.4" cy="885.9" r="3"/><circle cx="274.5" cy="869.4" r="3"/><circle cx="273.1" cy="865.8" r="3"/><circle cx="259.8" cy="855.6" r="3"/><circle cx="221.6" cy="881.8" r="3"/><circle cx="230.5" cy="882.5" r="3"/><circle cx="222.2" cy="891.6" r="3"/><circle cx="225.6" cy="895.5" r="3"/><circle cx="283.2" cy="851.2" r="3"/><circle cx="270.9" cy="862.6" r="3"/><circle cx="291.1" cy="846.0" r="3"/><circle cx="305.3" cy="825.9" r="3"/><circle cx="287.6" cy="836.3" r="3"/><circle cx="287.8" cy="842.0" r="3"/><circle cx="301.0" cy="817.2" r="3"/><circle cx="315.4" cy="821.5" r="3"/><circle cx="295.1" cy="840.3" r="3"/><circle cx="293.2" cy="839.2" r="3"/><circle cx="355.3" cy="799.1" r="3"/><circle cx="289.4" cy="849.6" r="3"/><circle cx="309.3" cy="819.1" r="3"/><circle cx="307.5" cy="803.9" r="3"/><circle cx="274.6" cy="846.5" r="3"/><circle cx="338.6" cy="783.0" r="3"/><circle cx="352.0" cy="770.4" r="3"/><circle cx="326.0" cy="817.1" r="3"/><circle cx="319.9" cy="816.4" r="3"/><circle cx="349.6" cy="803.0" r="3"/><circle cx="315.8" cy="826.0" r="3"/><circle cx="324.0" cy="807.0" r="3"/><circle cx="305.3" cy="824.0" r="3"/><circle cx="342.4" cy="812.7" r="3"/><circle cx="345.4" cy="787.0" r="3"/><circle cx="316.4" cy="812.5" r="3"/><circle cx="306.3" cy="813.8" r="3"/><circle cx="304.0" cy="830.0" r="3"/><circle cx="295.1" cy="844.2" r="3"/><circle cx="261.4" cy="852.9" r="3"/><circle cx="255.0" cy="870.4" r="3"/><circle cx="260.0" cy="874.5" r="3"/><circle cx="281.3" cy="858.2" r="3"/><circle cx="294.0" cy="832.1" r="3"/><circle cx="282.8" cy="865.8" r="3"/><circle cx="261.2" cy="885.6" r="3"/><circle cx="270.2" cy="882.5" r="3"/><circle cx="199.8" cy="913.9" r="3"/><circle cx="206.3" cy="903.9" r="3"/><circle cx="182.2" cy="931.6" r="3"/><circle cx="247.3" cy="877.0" r="3"/><circle cx="265.0" cy="866.7" r="3"/><circle cx="256.1" cy="882.1" r="3"/><circle cx="256.2" cy="882.9" r="3"/><circle cx="208.4" cy="906.8" r="3"/><circle cx="266.2" cy="862.3" r="3"/><circle cx="264.1" cy="870.3" r="3"/><circle cx="237.6" cy="892.8" r="3"/><circle cx="227.2" cy="888.4" r="3"/><circle cx="226.4" cy="891.3" r="3"/><circle cx="233.0" cy="902.4" r="3"/><circle cx="215.5" cy="916.1" r="3"/><circle cx="198.4" cy="929.6" r="3"/><circle cx="219.8" cy="925.0" r="3"/><circle cx="240.9" cy="909.0" r="3"/><circle cx="257.9" cy="883.5" r="3"/><circle cx="247.9" cy="894.8" r="3"/><circle cx="218.3" cy="900.9" r="3"/><circle cx="222.8" cy="898.1" r="3"/><circle cx="246.5" cy="885.5" r="3"/><circle cx="243.3" cy="889.9" r="3"/><circle cx="274.4" cy="870.0" r="3"/><circle cx="214.6" cy="926.7" r="3"/><circle cx="209.1" cy="919.5" r="3"/><circle cx="176.7" cy="944.2" r="3"/><circle cx="95.3" cy="982.0" r="3"/><circle cx="133.0" cy="972.0" r="3"/><circle cx="131.6" cy="969.2" r="3"/><circle cx="95.3" cy="1001.3" r="3"/><circle cx="222.5" cy="920.3" r="3"/><circle cx="188.5" cy="932.6" r="3"/><circle cx="164.6" cy="948.5" r="3"/><circle cx="172.4" cy="946.6" r="3"/><circle cx="198.0" cy="933.0" r="3"/><circle cx="174.9" cy="938.8" r="3"/><circle cx="169.5" cy="948.1" r="3"/><circle cx="229.3" cy="913.7" r="3"/><circle cx="216.6" cy="918.0" r="3"/><circle cx="144.7" cy="954.3" r="3"/><circle cx="150.6" cy="951.3" r="3"/><circle cx="153.3" cy="941.4" r="3"/><circle cx="110.3" cy="967.9" r="3"/><circle cx="140.0" cy="961.1" r="3"/><circle cx="103.0" cy="985.6" r="3"/><circle cx="161.4" cy="949.8" r="3"/><circle cx="147.8" cy="956.7" r="3"/><circle cx="143.9" cy="953.2" r="3"/><circle cx="133.7" cy="955.5" r="3"/><circle cx="125.4" cy="961.6" r="3"/><circle cx="102.6" cy="978.1" r="3"/><circle cx="106.9" cy="979.9" r="3"/><circle cx="119.4" cy="968.7" r="3"/><circle cx="95.3" cy="984.3" r="3"/><circle cx="137.2" cy="962.2" r="3"/><circle cx="127.1" cy="975.4" r="3"/><circle cx="95.3" cy="980.8" r="3"/><circle cx="111.4" cy="973.8" r="3"/><circle cx="99.4" cy="980.6" r="3"/><circle cx="105.3" cy="981.8" r="3"/><circle cx="126.9" cy="967.0" r="3"/><circle cx="103.1" cy="977.9" r="3"/><circle cx="154.2" cy="948.6" r="3"/><circle cx="161.7" cy="943.0" r="3"/><circle cx="142.7" cy="955.3" r="3"/><circle cx="136.2" cy="963.0" r="3"/><circle cx="117.9" cy="978.1" r="3"/><circle cx="153.8" cy="955.6" r="3"/><circle cx="119.6" cy="962.7" r="3"/><circle cx="125.6" cy="966.1" r="3"/><circle cx="95.3" cy="987.2" r="3"/><circle cx="123.0" cy="972.6" r="3"/><circle cx="106.1" cy="984.4" r="3"/><circle cx="97.0" cy="974.2" r="3"/><circle cx="133.1" cy="968.3" r="3"/><circle cx="133.9" cy="960.2" r="3"/><circle cx="137.8" cy="960.9" r="3"/><circle cx="116.3" cy="962.1" r="3"/><circle cx="106.1" cy="977.5" r="3"/><circle cx="95.3" cy="988.0" r="3"/><circle cx="95.3" cy="982.2" r="3"/><circle cx="124.3" cy="970.7" r="3"/><circle cx="95.3" cy="993.8" r="3"/><circle cx="95.3" cy="987.8" r="3"/><circle cx="95.3" cy="992.6" r="3"/><circle cx="95.3" cy="986.9" r="3"/><circle cx="95.3" cy="983.2" r="3"/><circle cx="111.9" cy="979.6" r="3"/><circle cx="95.3" cy="977.7" r="3"/><circle cx="130.9" cy="960.5" r="3"/><circle cx="109.8" cy="979.5" r="3"/><circle cx="111.3" cy="957.7" r="3"/><circle cx="122.0" cy="978.8" r="3"/><circle cx="134.8" cy="976.0" r="3"/><circle cx="125.7" cy="971.7" r="3"/><circle cx="95.3" cy="994.8" r="3"/><circle cx="95.5" cy="985.2" r="3"/><circle cx="112.6" cy="979.2" r="3"/><circle cx="113.5" cy="974.5" r="3"/><circle cx="95.3" cy="986.4" r="3"/><circle cx="141.5" cy="962.4" r="3"/><circle cx="95.3" cy="987.0" r="3"/><circle cx="110.3" cy="976.9" r="3"/><circle cx="97.0" cy="987.7" r="3"/><circle cx="95.3" cy="982.4" r="3"/><circle cx="103.2" cy="980.7" r="3"/><circle cx="100.1" cy="981.4" r="3"/><circle cx="96.6" cy="984.9" r="3"/><circle cx="103.5" cy="990.3" r="3"/><circle cx="154.4" cy="953.9" r="3"/><circle cx="107.2" cy="975.9" r="3"/><circle cx="95.3" cy="977.4" r="3"/><circle cx="123.7" cy="972.9" r="3"/><circle cx="150.9" cy="943.6" r="3"/><circle cx="169.6" cy="926.1" r="3"/><circle cx="163.0" cy="926.1" r="3"/><circle cx="161.4" cy="933.2" r="3"/><circle cx="97.3" cy="970.2" r="3"/><circle cx="131.1" cy="943.1" r="3"/><circle cx="161.4" cy="929.6" r="3"/><circle cx="132.8" cy="935.4" r="3"/><circle cx="147.2" cy="939.3" r="3"/><circle cx="158.9" cy="917.1" r="3"/><circle cx="184.7" cy="904.7" r="3"/><circle cx="206.9" cy="894.0" r="3"/><circle cx="174.0" cy="928.7" r="3"/><circle cx="236.2" cy="880.6" r="3"/><circle cx="182.7" cy="930.3" r="3"/><circle cx="188.9" cy="914.7" r="3"/><circle cx="193.1" cy="909.0" r="3"/><circle cx="223.5" cy="896.3" r="3"/><circle cx="250.7" cy="858.7" r="3"/><circle cx="269.6" cy="852.2" r="3"/><circle cx="209.0" cy="896.0" r="3"/><circle cx="162.1" cy="937.2" r="3"/><circle cx="181.9" cy="919.6" r="3"/><circle cx="131.1" cy="949.3" r="3"/><circle cx="152.9" cy="949.6" r="3"/><circle cx="144.7" cy="930.1" r="3"/><circle cx="95.3" cy="966.8" r="3"/><circle cx="95.3" cy="972.8" r="3"/><circle cx="95.3" cy="981.6" r="3"/><circle cx="105.7" cy="965.5" r="3"/><circle cx="99.2" cy="970.6" r="3"/><circle cx="118.4" cy="966.9" r="3"/><circle cx="107.7" cy="969.6" r="3"/><circle cx="116.2" cy="987.6" r="3"/><circle cx="95.3" cy="992.0" r="3"/><circle cx="98.9" cy="982.4" r="3"/><circle cx="110.3" cy="976.6" r="3"/><circle cx="111.0" cy="980.1" r="3"/><circle cx="101.8" cy="980.5" r="3"/><circle cx="130.3" cy="955.7" r="3"/><circle cx="105.6" cy="983.6" r="3"/><circle cx="123.7" cy="967.9" r="3"/><circle cx="95.3" cy="989.0" r="3"/><circle cx="110.1" cy="981.5" r="3"/><circle cx="112.5" cy="974.9" r="3"/><circle cx="96.4" cy="991.4" r="3"/><circle cx="136.0" cy="965.0" r="3"/><circle cx="137.1" cy="943.8" r="3"/><circle cx="195.1" cy="884.1" r="3"/><circle cx="184.9" cy="915.8" r="3"/><circle cx="219.9" cy="891.9" r="3"/><circle cx="170.7" cy="905.1" r="3"/><circle cx="169.6" cy="903.9" r="3"/><circle cx="138.6" cy="937.4" r="3"/><circle cx="137.7" cy="931.7" r="3"/><circle cx="150.4" cy="922.6" r="3"/><circle cx="173.7" cy="898.8" r="3"/><circle cx="178.2" cy="904.7" r="3"/><circle cx="154.8" cy="910.3" r="3"/><circle cx="202.2" cy="872.0" r="3"/><circle cx="225.0" cy="869.4" r="3"/><circle cx="162.1" cy="925.1" r="3"/><circle cx="162.3" cy="926.6" r="3"/><circle cx="116.5" cy="966.8" r="3"/><circle cx="103.5" cy="973.1" r="3"/><circle cx="95.3" cy="975.9" r="3"/><circle cx="140.3" cy="946.6" r="3"/><circle cx="168.7" cy="918.7" r="3"/><circle cx="149.1" cy="938.6" r="3"/><circle cx="125.7" cy="943.4" r="3"/><circle cx="186.8" cy="905.9" r="3"/><circle cx="207.5" cy="888.2" r="3"/><circle cx="227.3" cy="872.5" r="3"/><circle cx="225.8" cy="881.6" r="3"/><circle cx="233.9" cy="862.1" r="3"/><circle cx="248.9" cy="841.0" r="3"/><circle cx="259.0" cy="828.5" r="3"/><circle cx="229.1" cy="842.0" r="3"/><circle cx="231.4" cy="854.2" r="3"/><circle cx="247.8" cy="834.1" r="3"/><circle cx="226.1" cy="858.6" r="3"/><circle cx="259.6" cy="823.7" r="3"/><circle cx="230.7" cy="870.9" r="3"/><circle cx="262.4" cy="848.7" r="3"/><circle cx="240.6" cy="852.9" r="3"/><circle cx="237.6" cy="868.9" r="3"/><circle cx="249.6" cy="837.5" r="3"/><circle cx="286.2" cy="786.7" r="3"/><circle cx="275.9" cy="809.8" r="3"/><circle cx="298.0" cy="787.6" r="3"/><circle cx="289.9" cy="795.8" r="3"/><circle cx="210.7" cy="859.7" r="3"/><circle cx="226.6" cy="827.1" r="3"/><circle cx="216.1" cy="843.7" r="3"/><circle cx="226.3" cy="836.1" r="3"/><circle cx="205.9" cy="854.3" r="3"/><circle cx="227.0" cy="857.3" r="3"/><circle cx="249.5" cy="838.6" r="3"/><circle cx="280.1" cy="800.1" r="3"/><circle cx="282.8" cy="807.8" r="3"/><circle cx="256.7" cy="815.4" r="3"/><circle cx="336.9" cy="761.1" r="3"/><circle cx="315.7" cy="781.3" r="3"/><circle cx="298.9" cy="795.0" r="3"/><circle cx="250.7" cy="834.9" r="3"/><circle cx="296.4" cy="803.8" r="3"/><circle cx="328.3" cy="777.2" r="3"/><circle cx="331.4" cy="768.7" r="3"/><circle cx="339.8" cy="761.1" r="3"/><circle cx="345.9" cy="751.5" r="3"/><circle cx="341.8" cy="765.0" r="3"/><circle cx="361.8" cy="757.8" r="3"/><circle cx="360.8" cy="781.3" r="3"/><circle cx="353.4" cy="786.9" r="3"/><circle cx="395.5" cy="744.2" r="3"/><circle cx="416.0" cy="732.9" r="3"/><circle cx="382.8" cy="752.0" r="3"/><circle cx="325.5" cy="783.4" r="3"/><circle cx="322.0" cy="789.9" r="3"/><circle cx="362.3" cy="745.2" r="3"/><circle cx="346.9" cy="752.4" r="3"/><circle cx="342.1" cy="760.0" r="3"/><circle cx="334.5" cy="761.9" r="3"/><circle cx="289.5" cy="796.4" r="3"/><circle cx="305.3" cy="803.4" r="3"/><circle cx="315.8" cy="775.7" r="3"/><circle cx="327.5" cy="789.0" r="3"/><circle cx="322.8" cy="786.6" r="3"/><circle cx="323.4" cy="791.4" r="3"/><circle cx="339.8" cy="779.4" r="3"/><circle cx="291.8" cy="817.5" r="3"/><circle cx="282.8" cy="829.4" r="3"/><circle cx="283.9" cy="827.8" r="3"/><circle cx="317.5" cy="793.6" r="3"/><circle cx="308.9" cy="809.8" r="3"/><circle cx="327.6" cy="785.4" r="3"/><circle cx="371.3" cy="757.7" r="3"/><circle cx="341.4" cy="771.9" r="3"/><circle cx="350.1" cy="775.2" r="3"/><circle cx="332.1" cy="782.8" r="3"/><circle cx="327.3" cy="790.0" r="3"/><circle cx="304.9" cy="791.3" r="3"/><circle cx="324.6" cy="787.5" r="3"/><circle cx="371.8" cy="736.5" r="3"/><circle cx="353.6" cy="757.5" r="3"/><circle cx="361.7" cy="766.6" r="3"/><circle cx="308.8" cy="792.5" r="3"/><circle cx="317.0" cy="777.3" r="3"/><circle cx="277.6" cy="800.4" r="3"/><circle cx="256.6" cy="837.3" r="3"/><circle cx="314.7" cy="777.0" r="3"/><circle cx="270.0" cy="808.1" r="3"/><circle cx="314.7" cy="775.9" r="3"/><circle cx="352.6" cy="728.5" r="3"/><circle cx="363.1" cy="733.6" r="3"/><circle cx="357.0" cy="736.2" r="3"/><circle cx="422.0" cy="711.0" r="3"/><circle cx="402.9" cy="726.3" r="3"/><circle cx="355.1" cy="761.6" r="3"/><circle cx="366.8" cy="748.4" r="3"/><circle cx="396.0" cy="723.0" r="3"/><circle cx="397.8" cy="733.6" r="3"/><circle cx="390.5" cy="741.0" r="3"/><circle cx="380.8" cy="761.1" r="3"/><circle cx="397.5" cy="746.0" r="3"/><circle cx="397.8" cy="732.6" r="3"/><circle cx="386.4" cy="735.2" r="3"/><circle cx="412.6" cy="728.9" r="3"/><circle cx="420.8" cy="723.0" r="3"/><circle cx="403.7" cy="737.2" r="3"/><circle cx="377.3" cy="741.7" r="3"/><circle cx="390.8" cy="736.4" r="3"/><circle cx="395.1" cy="740.7" r="3"/><circle cx="438.9" cy="713.3" r="3"/><circle cx="358.9" cy="765.3" r="3"/><circle cx="369.2" cy="754.0" r="3"/><circle cx="334.1" cy="804.6" r="3"/><circle cx="265.3" cy="838.7" r="3"/><circle cx="306.7" cy="798.5" r="3"/><circle cx="318.6" cy="795.6" r="3"/><circle cx="331.5" cy="788.5" r="3"/><circle cx="283.5" cy="827.3" r="3"/><circle cx="290.7" cy="826.9" r="3"/><circle cx="291.2" cy="830.5" r="3"/><circle cx="299.1" cy="816.6" r="3"/><circle cx="394.0" cy="747.9" r="3"/><circle cx="373.7" cy="754.9" r="3"/><circle cx="353.2" cy="782.7" r="3"/><circle cx="309.0" cy="816.3" r="3"/><circle cx="301.0" cy="812.6" r="3"/><circle cx="309.9" cy="803.3" r="3"/><circle cx="273.5" cy="835.5" r="3"/><circle cx="302.0" cy="818.4" r="3"/><circle cx="299.3" cy="832.8" r="3"/><circle cx="321.2" cy="798.0" r="3"/><circle cx="361.2" cy="767.7" r="3"/><circle cx="384.0" cy="758.5" r="3"/><circle cx="358.6" cy="782.5" r="3"/><circle cx="388.7" cy="760.9" r="3"/><circle cx="358.2" cy="774.7" r="3"/><circle cx="342.3" cy="782.7" r="3"/><circle cx="309.5" cy="799.9" r="3"/><circle cx="307.7" cy="822.1" r="3"/><circle cx="277.7" cy="852.2" r="3"/><circle cx="306.8" cy="823.8" r="3"/><circle cx="329.5" cy="824.9" r="3"/><circle cx="329.7" cy="816.1" r="3"/><circle cx="342.6" cy="791.8" r="3"/><circle cx="307.1" cy="834.7" r="3"/><circle cx="310.0" cy="842.3" r="3"/><circle cx="276.8" cy="840.7" r="3"/><circle cx="327.1" cy="811.6" r="3"/><circle cx="288.3" cy="830.6" r="3"/><circle cx="325.1" cy="796.6" r="3"/><circle cx="319.7" cy="801.5" r="3"/><circle cx="297.7" cy="833.9" r="3"/><circle cx="306.1" cy="837.4" r="3"/><circle cx="294.4" cy="828.4" r="3"/><circle cx="282.4" cy="823.3" r="3"/><circle cx="262.0" cy="865.0" r="3"/><circle cx="291.2" cy="824.2" r="3"/><circle cx="329.1" cy="794.7" r="3"/><circle cx="340.5" cy="780.5" r="3"/><circle cx="334.0" cy="794.0" r="3"/><circle cx="317.8" cy="819.9" r="3"/><circle cx="313.6" cy="840.7" r="3"/><circle cx="390.9" cy="778.4" r="3"/><circle cx="371.6" cy="785.5" r="3"/><circle cx="380.1" cy="773.6" r="3"/><circle cx="364.8" cy="793.9" r="3"/><circle cx="367.2" cy="800.8" r="3"/><circle cx="308.3" cy="856.2" r="3"/><circle cx="291.4" cy="857.4" r="3"/><circle cx="299.3" cy="834.2" r="3"/><circle cx="243.7" cy="880.0" r="3"/><circle cx="295.0" cy="833.0" r="3"/><circle cx="294.4" cy="828.7" r="3"/><circle cx="279.6" cy="863.7" r="3"/><circle cx="242.4" cy="880.4" r="3"/><circle cx="258.2" cy="869.6" r="3"/><circle cx="265.8" cy="875.2" r="3"/><circle cx="270.8" cy="879.8" r="3"/><circle cx="265.3" cy="892.1" r="3"/><circle cx="246.4" cy="905.4" r="3"/><circle cx="220.5" cy="914.2" r="3"/><circle cx="193.8" cy="941.8" r="3"/><circle cx="196.1" cy="929.7" r="3"/><circle cx="230.4" cy="901.5" r="3"/><circle cx="213.6" cy="933.2" r="3"/><circle cx="240.1" cy="916.8" r="3"/><circle cx="224.3" cy="931.5" r="3"/><circle cx="191.5" cy="947.6" r="3"/><circle cx="207.2" cy="918.4" r="3"/><circle cx="179.4" cy="921.9" r="3"/><circle cx="225.7" cy="890.1" r="3"/><circle cx="211.0" cy="908.4" r="3"/><circle cx="240.9" cy="895.6" r="3"/><circle cx="217.3" cy="905.6" r="3"/><circle cx="215.1" cy="920.3" r="3"/><circle cx="235.2" cy="907.2" r="3"/><circle cx="246.2" cy="894.2" r="3"/><circle cx="244.8" cy="885.0" r="3"/><circle cx="233.8" cy="895.3" r="3"/><circle cx="227.3" cy="926.2" r="3"/><circle cx="232.3" cy="911.1" r="3"/><circle cx="222.2" cy="920.3" r="3"/><circle cx="238.1" cy="899.7" r="3"/><circle cx="196.2" cy="921.7" r="3"/><circle cx="219.4" cy="921.9" r="3"/><circle cx="161.4" cy="952.2" r="3"/><circle cx="176.9" cy="940.1" r="3"/><circle cx="183.3" cy="946.5" r="3"/><circle cx="95.3" cy="985.0" r="3"/><circle cx="114.0" cy="968.6" r="3"/><circle cx="154.7" cy="953.3" r="3"/><circle cx="152.8" cy="960.5" r="3"/><circle cx="108.7" cy="987.7" r="3"/><circle cx="122.6" cy="976.6" r="3"/><circle cx="100.9" cy="975.1" r="3"/><circle cx="132.9" cy="970.3" r="3"/><circle cx="107.5" cy="986.9" r="3"/><circle cx="99.0" cy="976.5" r="3"/><circle cx="100.5" cy="991.5" r="3"/><circle cx="113.2" cy="977.0" r="3"/><circle cx="121.3" cy="969.4" r="3"/><circle cx="110.8" cy="974.9" r="3"/><circle cx="95.3" cy="996.4" r="3"/><circle cx="95.3" cy="988.5" r="3"/><circle cx="110.7" cy="983.2" r="3"/><circle cx="148.9" cy="964.1" r="3"/><circle cx="161.3" cy="955.2" r="3"/><circle cx="126.1" cy="973.2" r="3"/><circle cx="173.2" cy="955.6" r="3"/><circle cx="160.1" cy="956.3" r="3"/><circle cx="214.7" cy="904.3" r="3"/><circle cx="157.2" cy="946.3" r="3"/><circle cx="110.8" cy="980.3" r="3"/><circle cx="95.3" cy="981.1" r="3"/><circle cx="95.3" cy="977.4" r="3"/><circle cx="108.0" cy="979.2" r="3"/><circle cx="139.5" cy="964.5" r="3"/><circle cx="95.3" cy="975.3" r="3"/><circle cx="119.8" cy="970.0" r="3"/><circle cx="95.3" cy="988.0" r="3"/><circle cx="138.8" cy="961.2" r="3"/><circle cx="102.3" cy="981.7" r="3"/><circle cx="100.7" cy="985.5" r="3"/><circle cx="118.4" cy="964.4" r="3"/><circle cx="95.3" cy="978.5" r="3"/><circle cx="95.3" cy="992.7" r="3"/><circle cx="95.3" cy="985.7" r="3"/><circle cx="117.8" cy="972.1" r="3"/><circle cx="119.7" cy="958.5" r="3"/><circle cx="95.3" cy="999.2" r="3"/><circle cx="128.4" cy="973.5" r="3"/><circle cx="96.1" cy="976.3" r="3"/><circle cx="95.3" cy="990.0" r="3"/><circle cx="95.3" cy="994.4" r="3"/><circle cx="109.6" cy="977.0" r="3"/><circle cx="128.3" cy="978.5" r="3"/><circle cx="95.3" cy="993.5" r="3"/><circle cx="98.0" cy="983.3" r="3"/><circle cx="110.1" cy="978.5" r="3"/><circle cx="130.3" cy="971.1" r="3"/><circle cx="96.4" cy="977.7" r="3"/><circle cx="119.4" cy="965.5" r="3"/><circle cx="189.3" cy="925.3" r="3"/><circle cx="193.8" cy="935.0" r="3"/><circle cx="137.2" cy="963.3" r="3"/><circle cx="141.7" cy="950.9" r="3"/><circle cx="96.4" cy="975.1" r="3"/><circle cx="95.3" cy="990.0" r="3"/><circle cx="130.2" cy="970.9" r="3"/><circle cx="98.1" cy="966.4" r="3"/><circle cx="102.2" cy="989.6" r="3"/><circle cx="100.9" cy="973.3" r="3"/><circle cx="122.5" cy="958.7" r="3"/><circle cx="95.3" cy="984.3" r="3"/><circle cx="102.1" cy="988.7" r="3"/><circle cx="103.0" cy="988.4" r="3"/><circle cx="95.7" cy="978.9" r="3"/><circle cx="95.3" cy="979.5" r="3"/><circle cx="117.6" cy="964.7" r="3"/><circle cx="101.8" cy="981.1" r="3"/><circle cx="95.3" cy="996.6" r="3"/><circle cx="114.4" cy="982.3" r="3"/><circle cx="96.6" cy="984.1" r="3"/><circle cx="95.3" cy="990.0" r="3"/><circle cx="119.6" cy="986.5" r="3"/><circle cx="95.3" cy="974.4" r="3"/><circle cx="95.3" cy="975.3" r="3"/><circle cx="95.3" cy="981.6" r="3"/><circle cx="108.2" cy="982.6" r="3"/><circle cx="109.1" cy="972.1" r="3"/><circle cx="118.1" cy="976.9" r="3"/><circle cx="102.4" cy="980.1" r="3"/><circle cx="106.3" cy="978.2" r="3"/><circle cx="101.6" cy="977.0" r="3"/><circle cx="123.9" cy="975.8" r="3"/><circle cx="95.3" cy="993.2" r="3"/><circle cx="95.3" cy="975.0" r="3"/><circle cx="97.4" cy="971.9" r="3"/><circle cx="95.3" cy="983.0" r="3"/><circle cx="95.3" cy="987.2" r="3"/><circle cx="95.3" cy="988.2" r="3"/><circle cx="117.5" cy="969.0" r="3"/><circle cx="138.4" cy="967.8" r="3"/><circle cx="136.8" cy="970.3" r="3"/><circle cx="113.6" cy="979.1" r="3"/><circle cx="127.5" cy="959.7" r="3"/><circle cx="121.7" cy="963.6" r="3"/><circle cx="112.8" cy="958.6" r="3"/><circle cx="125.5" cy="950.3" r="3"/><circle cx="154.6" cy="934.3" r="3"/><circle cx="154.3" cy="943.2" r="3"/><circle cx="101.9" cy="986.4" r="3"/><circle cx="127.4" cy="958.9" r="3"/><circle cx="174.3" cy="926.1" r="3"/><circle cx="189.5" cy="919.0" r="3"/><circle cx="214.9" cy="904.3" r="3"/><circle cx="151.1" cy="943.4" r="3"/><circle cx="143.6" cy="936.9" r="3"/><circle cx="150.3" cy="944.4" r="3"/><circle cx="113.0" cy="975.4" r="3"/><circle cx="99.4" cy="980.9" r="3"/><circle cx="95.3" cy="992.0" r="3"/><circle cx="108.2" cy="972.6" r="3"/><circle cx="110.9" cy="984.8" r="3"/><circle cx="118.3" cy="974.3" r="3"/><circle cx="124.3" cy="957.9" r="3"/><circle cx="129.7" cy="957.4" r="3"/><circle cx="164.1" cy="917.3" r="3"/><circle cx="182.2" cy="878.5" r="3"/><circle cx="182.6" cy="898.4" r="3"/><circle cx="181.4" cy="909.2" r="3"/><circle cx="134.4" cy="935.6" r="3"/><circle cx="107.4" cy="954.7" r="3"/><circle cx="147.4" cy="938.7" r="3"/><circle cx="184.8" cy="912.8" r="3"/><circle cx="197.6" cy="914.8" r="3"/><circle cx="209.6" cy="891.9" r="3"/><circle cx="176.9" cy="915.6" r="3"/><circle cx="182.8" cy="916.6" r="3"/><circle cx="202.9" cy="892.2" r="3"/><circle cx="188.7" cy="890.8" r="3"/><circle cx="263.1" cy="857.7" r="3"/><circle cx="252.4" cy="875.3" r="3"/><circle cx="236.3" cy="885.6" r="3"/><circle cx="220.4" cy="889.3" r="3"/><circle cx="184.2" cy="910.5" r="3"/><circle cx="140.5" cy="941.6" r="3"/><circle cx="154.3" cy="913.3" r="3"/><circle cx="148.1" cy="924.0" r="3"/><circle cx="180.6" cy="908.1" r="3"/><circle cx="142.3" cy="947.8" r="3"/><circle cx="160.0" cy="948.0" r="3"/><circle cx="140.7" cy="954.1" r="3"/><circle cx="129.5" cy="954.0" r="3"/><circle cx="95.3" cy="999.5" r="3"/><circle cx="116.3" cy="985.0" r="3"/><circle cx="154.2" cy="941.0" r="3"/><circle cx="161.1" cy="924.4" r="3"/><circle cx="152.1" cy="932.7" r="3"/><circle cx="139.6" cy="925.9" r="3"/><circle cx="196.5" cy="878.6" r="3"/><circle cx="117.4" cy="960.9" r="3"/><circle cx="153.2" cy="927.3" r="3"/><circle cx="191.1" cy="907.1" r="3"/><circle cx="214.4" cy="888.2" r="3"/><circle cx="260.1" cy="848.7" r="3"/><circle cx="308.6" cy="809.7" r="3"/><circle cx="287.4" cy="805.0" r="3"/><circle cx="255.8" cy="822.7" r="3"/><circle cx="269.7" cy="806.9" r="3"/><circle cx="255.6" cy="818.9" r="3"/><circle cx="267.5" cy="828.5" r="3"/><circle cx="326.3" cy="799.2" r="3"/><circle cx="330.2" cy="777.2" r="3"/><circle cx="307.0" cy="786.9" r="3"/><circle cx="274.6" cy="809.6" r="3"/><circle cx="287.7" cy="789.9" r="3"/><circle cx="291.1" cy="784.1" r="3"/><circle cx="281.7" cy="805.6" r="3"/><circle cx="319.3" cy="766.1" r="3"/><circle cx="275.4" cy="801.5" r="3"/><circle cx="265.9" cy="797.8" r="3"/><circle cx="244.5" cy="820.8" r="3"/><circle cx="270.5" cy="801.9" r="3"/><circle cx="301.0" cy="778.3" r="3"/><circle cx="276.1" cy="814.6" r="3"/><circle cx="248.3" cy="845.9" r="3"/><circle cx="255.9" cy="825.7" r="3"/><circle cx="265.4" cy="841.5" r="3"/><circle cx="234.5" cy="876.5" r="3"/><circle cx="255.1" cy="838.3" r="3"/><circle cx="277.3" cy="822.4" r="3"/><circle cx="299.7" cy="815.4" r="3"/><circle cx="287.4" cy="812.6" r="3"/><circle cx="285.3" cy="804.2" r="3"/><circle cx="290.7" cy="795.5" r="3"/><circle cx="315.9" cy="772.6" r="3"/><circle cx="297.5" cy="806.2" r="3"/><circle cx="237.5" cy="830.3" r="3"/><circle cx="268.4" cy="817.8" r="3"/><circle cx="269.8" cy="826.7" r="3"/><circle cx="283.5" cy="803.8" r="3"/><circle cx="283.0" cy="799.2" r="3"/><circle cx="269.2" cy="815.5" r="3"/><circle cx="265.1" cy="819.5" r="3"/><circle cx="260.8" cy="818.6" r="3"/><circle cx="275.2" cy="804.8" r="3"/><circle cx="290.1" cy="804.1" r="3"/><circle cx="275.9" cy="815.3" r="3"/><circle cx="302.6" cy="786.7" r="3"/><circle cx="378.6" cy="726.3" r="3"/><circle cx="380.7" cy="735.1" r="3"/><circle cx="386.5" cy="725.7" r="3"/><circle cx="400.4" cy="712.9" r="3"/><circle cx="394.7" cy="715.9" r="3"/><circle cx="377.0" cy="741.7" r="3"/><circle cx="338.7" cy="764.7" r="3"/><circle cx="331.4" cy="755.2" r="3"/><circle cx="299.7" cy="782.3" r="3"/><circle cx="274.3" cy="816.9" r="3"/><circle cx="248.8" cy="840.9" r="3"/><circle cx="284.6" cy="808.7" r="3"/><circle cx="264.1" cy="834.3" r="3"/><circle cx="280.5" cy="811.2" r="3"/><circle cx="275.6" cy="814.8" r="3"/><circle cx="316.8" cy="786.8" r="3"/><circle cx="294.6" cy="786.8" r="3"/><circle cx="304.0" cy="775.1" r="3"/><circle cx="298.0" cy="806.4" r="3"/><circle cx="295.2" cy="808.6" r="3"/><circle cx="277.3" cy="825.3" r="3"/><circle cx="345.7" cy="787.4" r="3"/><circle cx="358.5" cy="777.9" r="3"/><circle cx="298.6" cy="809.3" r="3"/><circle cx="305.4" cy="800.6" r="3"/><circle cx="300.3" cy="799.1" r="3"/><circle cx="323.1" cy="777.6" r="3"/><circle cx="285.2" cy="813.6" r="3"/><circle cx="283.9" cy="821.9" r="3"/><circle cx="293.6" cy="825.9" r="3"/><circle cx="387.7" cy="753.9" r="3"/><circle cx="407.7" cy="736.6" r="3"/><circle cx="386.2" cy="737.5" r="3"/><circle cx="355.8" cy="750.4" r="3"/><circle cx="397.5" cy="719.5" r="3"/><circle cx="382.7" cy="739.0" r="3"/><circle cx="389.1" cy="722.7" r="3"/><circle cx="374.8" cy="728.5" r="3"/><circle cx="399.7" cy="714.3" r="3"/><circle cx="362.8" cy="740.1" r="3"/><circle cx="368.8" cy="749.1" r="3"/><circle cx="377.6" cy="742.5" r="3"/><circle cx="344.5" cy="754.4" r="3"/><circle cx="351.4" cy="751.3" r="3"/><circle cx="384.2" cy="737.4" r="3"/><circle cx="378.9" cy="749.4" r="3"/><circle cx="347.6" cy="794.2" r="3"/><circle cx="326.5" cy="790.0" r="3"/><circle cx="315.0" cy="797.9" r="3"/><circle cx="299.8" cy="805.0" r="3"/><circle cx="314.9" cy="806.7" r="3"/><circle cx="334.6" cy="796.1" r="3"/><circle cx="266.9" cy="850.3" r="3"/><circle cx="309.7" cy="811.9" r="3"/><circle cx="312.4" cy="807.0" r="3"/><circle cx="328.8" cy="774.6" r="3"/><circle cx="385.0" cy="731.3" r="3"/><circle cx="396.4" cy="723.9" r="3"/><circle cx="324.0" cy="782.4" r="3"/><circle cx="320.6" cy="794.2" r="3"/><circle cx="286.2" cy="819.4" r="3"/><circle cx="292.6" cy="814.4" r="3"/><circle cx="292.5" cy="791.5" r="3"/><circle cx="246.3" cy="841.6" r="3"/><circle cx="303.9" cy="813.8" r="3"/><circle cx="281.7" cy="839.0" r="3"/><circle cx="325.6" cy="803.6" r="3"/><circle cx="300.8" cy="806.4" r="3"/><circle cx="308.4" cy="804.1" r="3"/><circle cx="330.9" cy="798.3" r="3"/><circle cx="324.7" cy="803.7" r="3"/><circle cx="314.9" cy="797.8" r="3"/><circle cx="290.6" cy="814.5" r="3"/><circle cx="282.9" cy="825.7" r="3"/><circle cx="357.5" cy="760.3" r="3"/><circle cx="424.1" cy="720.9" r="3"/><circle cx="436.6" cy="710.6" r="3"/><circle cx="441.0" cy="704.7" r="3"/><circle cx="412.3" cy="736.6" r="3"/><circle cx="427.3" cy="717.2" r="3"/><circle cx="436.7" cy="716.8" r="3"/><circle cx="372.0" cy="756.9" r="3"/><circle cx="379.0" cy="758.6" r="3"/><circle cx="381.1" cy="764.1" r="3"/><circle cx="362.1" cy="786.6" r="3"/><circle cx="357.4" cy="787.1" r="3"/><circle cx="322.6" cy="809.8" r="3"/><circle cx="306.7" cy="820.4" r="3"/><circle cx="380.0" cy="762.4" r="3"/><circle cx="366.2" cy="769.9" r="3"/><circle cx="344.0" cy="799.6" r="3"/><circle cx="376.3" cy="767.9" r="3"/><circle cx="386.6" cy="752.1" r="3"/><circle cx="335.3" cy="794.6" r="3"/><circle cx="336.3" cy="800.8" r="3"/><circle cx="348.8" cy="796.4" r="3"/><circle cx="352.2" cy="786.5" r="3"/><circle cx="343.4" cy="793.8" r="3"/><circle cx="401.0" cy="761.7" r="3"/><circle cx="383.4" cy="778.6" r="3"/><circle cx="358.7" cy="794.9" r="3"/><circle cx="335.9" cy="808.2" r="3"/><circle cx="355.2" cy="788.3" r="3"/><circle cx="293.1" cy="830.7" r="3"/><circle cx="298.7" cy="843.2" r="3"/><circle cx="267.2" cy="856.8" r="3"/><circle cx="296.7" cy="836.4" r="3"/><circle cx="326.6" cy="804.2" r="3"/><circle cx="342.6" cy="795.2" r="3"/><circle cx="294.8" cy="839.1" r="3"/><circle cx="330.8" cy="820.2" r="3"/><circle cx="310.9" cy="817.4" r="3"/><circle cx="308.0" cy="828.7" r="3"/><circle cx="310.1" cy="827.0" r="3"/><circle cx="305.3" cy="857.1" r="3"/><circle cx="249.9" cy="900.7" r="3"/><circle cx="263.8" cy="888.2" r="3"/><circle cx="205.2" cy="925.6" r="3"/><circle cx="218.3" cy="910.2" r="3"/><circle cx="250.2" cy="887.5" r="3"/><circle cx="272.7" cy="879.9" r="3"/><circle cx="295.5" cy="833.8" r="3"/><circle cx="294.1" cy="840.9" r="3"/><circle cx="250.4" cy="872.8" r="3"/><circle cx="211.3" cy="902.7" r="3"/><circle cx="202.5" cy="901.9" r="3"/><circle cx="193.5" cy="930.8" r="3"/><circle cx="231.7" cy="910.9" r="3"/><circle cx="229.6" cy="912.4" r="3"/><circle cx="174.8" cy="952.4" r="3"/><circle cx="203.0" cy="925.4" r="3"/><circle cx="200.5" cy="924.1" r="3"/><circle cx="215.2" cy="906.3" r="3"/><circle cx="239.3" cy="885.4" r="3"/><circle cx="257.0" cy="866.0" r="3"/><circle cx="244.9" cy="876.0" r="3"/><circle cx="277.4" cy="846.1" r="3"/><circle cx="277.4" cy="855.5" r="3"/><circle cx="266.3" cy="852.0" r="3"/><circle cx="278.0" cy="849.2" r="3"/><circle cx="244.0" cy="901.3" r="3"/><circle cx="254.2" cy="905.6" r="3"/><circle cx="236.7" cy="904.9" r="3"/><circle cx="238.2" cy="902.5" r="3"/><circle cx="192.6" cy="939.6" r="3"/><circle cx="265.6" cy="887.2" r="3"/><circle cx="247.9" cy="892.8" r="3"/><circle cx="206.3" cy="915.8" r="3"/><circle cx="141.1" cy="961.0" r="3"/><circle cx="150.7" cy="960.1" r="3"/><circle cx="168.9" cy="949.7" r="3"/><circle cx="133.6" cy="962.3" r="3"/><circle cx="168.8" cy="952.4" r="3"/><circle cx="154.5" cy="962.9" r="3"/><circle cx="215.4" cy="932.7" r="3"/><circle cx="164.7" cy="946.3" r="3"/><circle cx="161.4" cy="939.2" r="3"/><circle cx="181.3" cy="931.1" r="3"/><circle cx="257.6" cy="864.3" r="3"/><circle cx="209.5" cy="900.8" r="3"/><circle cx="189.3" cy="913.7" r="3"/><circle cx="158.1" cy="939.9" r="3"/><circle cx="199.4" cy="921.4" r="3"/><circle cx="181.1" cy="942.6" r="3"/><circle cx="147.5" cy="957.4" r="3"/><circle cx="141.7" cy="959.8" r="3"/><circle cx="122.4" cy="965.7" r="3"/><circle cx="105.4" cy="971.3" r="3"/><circle cx="95.3" cy="982.3" r="3"/><circle cx="95.3" cy="982.7" r="3"/><circle cx="120.9" cy="974.3" r="3"/><circle cx="148.1" cy="965.8" r="3"/><circle cx="105.4" cy="976.2" r="3"/><circle cx="95.3" cy="992.4" r="3"/><circle cx="100.2" cy="984.8" r="3"/><circle cx="95.3" cy="988.3" r="3"/><circle cx="127.9" cy="981.1" r="3"/><circle cx="133.3" cy="971.3" r="3"/><circle cx="137.1" cy="965.7" r="3"/><circle cx="106.7" cy="982.2" r="3"/><circle cx="95.3" cy="986.5" r="3"/><circle cx="112.0" cy="975.1" r="3"/><circle cx="95.3" cy="984.7" r="3"/><circle cx="95.3" cy="977.1" r="3"/><circle cx="135.6" cy="959.5" r="3"/><circle cx="140.1" cy="954.5" r="3"/><circle cx="178.6" cy="931.5" r="3"/><circle cx="160.0" cy="946.1" r="3"/><circle cx="199.8" cy="927.0" r="3"/><circle cx="167.2" cy="950.0" r="3"/><circle cx="161.4" cy="956.7" r="3"/><circle cx="248.3" cy="902.4" r="3"/><circle cx="270.9" cy="883.3" r="3"/><circle cx="244.2" cy="916.7" r="3"/><circle cx="215.2" cy="921.0" r="3"/><circle cx="213.1" cy="928.1" r="3"/><circle cx="238.0" cy="905.2" r="3"/><circle cx="183.8" cy="929.7" r="3"/><circle cx="123.6" cy="969.5" r="3"/><circle cx="104.6" cy="977.9" r="3"/><circle cx="124.5" cy="972.6" r="3"/><circle cx="102.8" cy="974.3" r="3"/><circle cx="158.8" cy="944.1" r="3"/><circle cx="198.4" cy="925.8" r="3"/><circle cx="186.3" cy="926.0" r="3"/><circle cx="138.3" cy="959.9" r="3"/><circle cx="190.2" cy="930.0" r="3"/><circle cx="247.7" cy="889.1" r="3"/><circle cx="246.4" cy="889.1" r="3"/><circle cx="235.3" cy="904.2" r="3"/><circle cx="237.1" cy="895.4" r="3"/><circle cx="250.0" cy="878.5" r="3"/><circle cx="215.8" cy="916.0" r="3"/><circle cx="175.6" cy="933.0" r="3"/><circle cx="162.3" cy="937.8" r="3"/><circle cx="195.3" cy="928.0" r="3"/><circle cx="163.9" cy="936.0" r="3"/><circle cx="178.4" cy="934.8" r="3"/><circle cx="164.9" cy="952.8" r="3"/><circle cx="149.3" cy="957.9" r="3"/><circle cx="124.5" cy="967.6" r="3"/><circle cx="95.3" cy="984.9" r="3"/><circle cx="100.3" cy="979.1" r="3"/><circle cx="140.7" cy="952.1" r="3"/><circle cx="111.2" cy="974.2" r="3"/><circle cx="95.3" cy="972.2" r="3"/><circle cx="118.1" cy="960.5" r="3"/><circle cx="97.2" cy="980.6" r="3"/><circle cx="95.3" cy="986.2" r="3"/><circle cx="95.3" cy="1001.0" r="3"/><circle cx="95.8" cy="976.4" r="3"/><circle cx="180.1" cy="917.3" r="3"/><circle cx="237.4" cy="873.0" r="3"/><circle cx="193.2" cy="897.6" r="3"/><circle cx="201.3" cy="893.5" r="3"/><circle cx="187.3" cy="906.7" r="3"/><circle cx="186.5" cy="912.6" r="3"/><circle cx="217.4" cy="881.2" r="3"/><circle cx="152.9" cy="943.1" r="3"/><circle cx="176.2" cy="920.1" r="3"/><circle cx="159.3" cy="936.3" r="3"/><circle cx="197.9" cy="891.1" r="3"/><circle cx="213.4" cy="900.9" r="3"/><circle cx="156.2" cy="930.5" r="3"/><circle cx="142.9" cy="942.1" r="3"/><circle cx="182.4" cy="921.4" r="3"/><circle cx="161.5" cy="930.5" r="3"/><circle cx="175.1" cy="923.1" r="3"/><circle cx="143.8" cy="943.0" r="3"/><circle cx="129.8" cy="969.1" r="3"/><circle cx="116.8" cy="967.5" r="3"/><circle cx="147.9" cy="942.6" r="3"/><circle cx="147.1" cy="945.1" r="3"/><circle cx="146.9" cy="948.5" r="3"/><circle cx="166.5" cy="924.8" r="3"/><circle cx="136.7" cy="943.7" r="3"/><circle cx="124.4" cy="952.4" r="3"/><circle cx="114.7" cy="965.4" r="3"/><circle cx="155.7" cy="930.7" r="3"/><circle cx="107.1" cy="972.9" r="3"/><circle cx="134.3" cy="946.9" r="3"/><circle cx="134.4" cy="948.7" r="3"/><circle cx="96.8" cy="978.8" r="3"/><circle cx="148.6" cy="937.8" r="3"/><circle cx="137.3" cy="942.1" r="3"/><circle cx="111.5" cy="980.9" r="3"/><circle cx="107.4" cy="976.9" r="3"/><circle cx="141.6" cy="952.0" r="3"/><circle cx="173.7" cy="924.7" r="3"/><circle cx="138.0" cy="941.0" r="3"/><circle cx="180.8" cy="920.0" r="3"/><circle cx="188.1" cy="912.6" r="3"/><circle cx="166.0" cy="928.6" r="3"/><circle cx="159.8" cy="926.5" r="3"/><circle cx="173.8" cy="924.3" r="3"/><circle cx="157.3" cy="944.8" r="3"/><circle cx="151.2" cy="950.0" r="3"/><circle cx="155.0" cy="940.4" r="3"/><circle cx="147.9" cy="939.8" r="3"/><circle cx="120.8" cy="952.9" r="3"/><circle cx="103.2" cy="962.2" r="3"/><circle cx="138.9" cy="922.7" r="3"/><circle cx="152.7" cy="916.7" r="3"/><circle cx="168.0" cy="900.9" r="3"/><circle cx="191.9" cy="881.0" r="3"/><circle cx="214.3" cy="867.3" r="3"/><circle cx="276.6" cy="811.5" r="3"/><circle cx="202.2" cy="866.7" r="3"/><circle cx="217.2" cy="853.9" r="3"/><circle cx="213.6" cy="872.4" r="3"/><circle cx="217.4" cy="856.7" r="3"/><circle cx="275.0" cy="813.7" r="3"/><circle cx="209.1" cy="883.1" r="3"/><circle cx="189.8" cy="897.1" r="3"/><circle cx="195.7" cy="892.6" r="3"/><circle cx="211.5" cy="880.5" r="3"/><circle cx="231.5" cy="865.1" r="3"/><circle cx="229.4" cy="871.5" r="3"/><circle cx="237.2" cy="871.0" r="3"/><circle cx="238.4" cy="858.5" r="3"/><circle cx="204.2" cy="876.3" r="3"/><circle cx="242.3" cy="850.3" r="3"/><circle cx="177.8" cy="904.1" r="3"/><circle cx="199.0" cy="877.5" r="3"/><circle cx="181.9" cy="909.0" r="3"/><circle cx="195.9" cy="884.1" r="3"/><circle cx="190.5" cy="882.8" r="3"/><circle cx="174.8" cy="902.3" r="3"/><circle cx="205.6" cy="883.3" r="3"/><circle cx="174.4" cy="904.4" r="3"/><circle cx="146.5" cy="926.0" r="3"/><circle cx="131.7" cy="948.5" r="3"/><circle cx="172.7" cy="933.6" r="3"/><circle cx="180.0" cy="907.0" r="3"/><circle cx="244.0" cy="874.2" r="3"/><circle cx="227.6" cy="879.0" r="3"/><circle cx="268.0" cy="859.4" r="3"/><circle cx="266.0" cy="850.6" r="3"/><circle cx="249.4" cy="862.5" r="3"/><circle cx="267.0" cy="835.1" r="3"/><circle cx="279.3" cy="813.3" r="3"/><circle cx="246.0" cy="838.6" r="3"/><circle cx="266.0" cy="831.5" r="3"/><circle cx="250.1" cy="835.0" r="3"/><circle cx="242.3" cy="837.9" r="3"/><circle cx="246.1" cy="848.0" r="3"/><circle cx="269.4" cy="818.3" r="3"/><circle cx="248.9" cy="848.7" r="3"/><circle cx="270.8" cy="821.5" r="3"/><circle cx="260.1" cy="845.0" r="3"/><circle cx="263.2" cy="833.2" r="3"/><circle cx="260.0" cy="819.1" r="3"/><circle cx="249.0" cy="840.0" r="3"/><circle cx="297.9" cy="790.5" r="3"/><circle cx="278.0" cy="790.9" r="3"/><circle cx="298.0" cy="756.7" r="3"/><circle cx="344.0" cy="744.0" r="3"/><circle cx="305.6" cy="783.4" r="3"/><circle cx="315.6" cy="798.3" r="3"/><circle cx="341.7" cy="782.3" r="3"/><circle cx="299.9" cy="791.0" r="3"/><circle cx="304.2" cy="791.4" r="3"/><circle cx="280.9" cy="816.8" r="3"/><circle cx="247.6" cy="852.4" r="3"/><circle cx="235.9" cy="848.5" r="3"/><circle cx="213.2" cy="888.4" r="3"/><circle cx="239.5" cy="867.6" r="3"/><circle cx="241.7" cy="862.6" r="3"/><circle cx="234.9" cy="872.9" r="3"/><circle cx="235.5" cy="863.6" r="3"/><circle cx="234.4" cy="845.1" r="3"/><circle cx="227.0" cy="864.6" r="3"/><circle cx="190.4" cy="898.9" r="3"/><circle cx="181.3" cy="893.5" r="3"/><circle cx="151.8" cy="924.3" r="3"/><circle cx="171.4" cy="922.4" r="3"/><circle cx="228.9" cy="861.0" r="3"/><circle cx="214.6" cy="868.9" r="3"/><circle cx="234.7" cy="834.8" r="3"/><circle cx="223.9" cy="857.1" r="3"/><circle cx="234.7" cy="839.7" r="3"/><circle cx="235.4" cy="833.5" r="3"/><circle cx="272.0" cy="830.0" r="3"/><circle cx="301.2" cy="801.0" r="3"/><circle cx="319.5" cy="764.9" r="3"/><circle cx="320.3" cy="778.6" r="3"/><circle cx="332.2" cy="757.3" r="3"/><circle cx="300.7" cy="791.9" r="3"/><circle cx="327.5" cy="785.5" r="3"/><circle cx="350.6" cy="786.0" r="3"/><circle cx="362.3" cy="771.1" r="3"/><circle cx="385.3" cy="755.7" r="3"/><circle cx="388.8" cy="728.8" r="3"/><circle cx="329.6" cy="798.2" r="3"/><circle cx="318.6" cy="789.5" r="3"/><circle cx="339.2" cy="772.9" r="3"/><circle cx="332.7" cy="767.4" r="3"/><circle cx="310.1" cy="805.2" r="3"/><circle cx="292.3" cy="815.4" r="3"/><circle cx="289.7" cy="827.2" r="3"/><circle cx="286.7" cy="817.2" r="3"/><circle cx="342.5" cy="753.9" r="3"/><circle cx="356.1" cy="744.1" r="3"/><circle cx="340.1" cy="761.7" r="3"/><circle cx="318.0" cy="775.7" r="3"/><circle cx="283.4" cy="806.6" r="3"/><circle cx="352.4" cy="759.0" r="3"/><circle cx="340.6" cy="791.0" r="3"/><circle cx="344.0" cy="784.6" r="3"/><circle cx="377.5" cy="771.5" r="3"/><circle cx="393.0" cy="755.2" r="3"/><circle cx="348.1" cy="758.5" r="3"/><circle cx="298.7" cy="788.8" r="3"/><circle cx="274.8" cy="827.1" r="3"/><circle cx="278.1" cy="823.0" r="3"/><circle cx="217.4" cy="869.6" r="3"/><circle cx="257.2" cy="839.7" r="3"/><circle cx="308.7" cy="814.5" r="3"/><circle cx="334.0" cy="804.4" r="3"/><circle cx="368.1" cy="752.5" r="3"/><circle cx="399.8" cy="718.3" r="3"/><circle cx="332.8" cy="761.4" r="3"/><circle cx="368.0" cy="736.9" r="3"/><circle cx="418.7" cy="705.3" r="3"/><circle cx="388.8" cy="727.8" r="3"/><circle cx="373.0" cy="746.0" r="3"/><circle cx="383.0" cy="736.9" r="3"/><circle cx="326.1" cy="780.2" r="3"/><circle cx="405.7" cy="729.1" r="3"/><circle cx="314.0" cy="782.5" r="3"/><circle cx="287.4" cy="807.6" r="3"/><circle cx="301.6" cy="791.5" r="3"/><circle cx="316.7" cy="793.4" r="3"/><circle cx="349.0" cy="767.3" r="3"/><circle cx="363.9" cy="759.8" r="3"/><circle cx="368.8" cy="765.8" r="3"/><circle cx="394.0" cy="747.1" r="3"/><circle cx="308.3" cy="791.7" r="3"/><circle cx="310.2" cy="792.5" r="3"/><circle cx="304.3" cy="795.8" r="3"/><circle cx="312.4" cy="792.8" r="3"/><circle cx="319.8" cy="789.0" r="3"/><circle cx="322.7" cy="797.1" r="3"/><circle cx="304.5" cy="808.2" r="3"/><circle cx="333.0" cy="792.0" r="3"/><circle cx="350.4" cy="770.5" r="3"/><circle cx="337.1" cy="796.3" r="3"/><circle cx="399.4" cy="746.7" r="3"/><circle cx="376.6" cy="754.0" r="3"/><circle cx="391.4" cy="751.5" r="3"/><circle cx="398.6" cy="730.4" r="3"/><circle cx="385.3" cy="741.6" r="3"/><circle cx="360.5" cy="764.2" r="3"/><circle cx="358.8" cy="778.5" r="3"/><circle cx="372.6" cy="759.2" r="3"/><circle cx="356.5" cy="776.8" r="3"/><circle cx="354.6" cy="774.8" r="3"/><circle cx="290.7" cy="816.7" r="3"/><circle cx="283.4" cy="821.9" r="3"/><circle cx="288.9" cy="821.3" r="3"/><circle cx="289.4" cy="829.4" r="3"/><circle cx="330.8" cy="798.0" r="3"/><circle cx="334.5" cy="807.2" r="3"/><circle cx="368.4" cy="770.5" r="3"/><circle cx="352.3" cy="767.3" r="3"/><circle cx="348.3" cy="771.0" r="3"/><circle cx="355.8" cy="777.1" r="3"/><circle cx="337.1" cy="782.6" r="3"/><circle cx="356.8" cy="778.1" r="3"/><circle cx="338.7" cy="801.3" r="3"/><circle cx="345.8" cy="780.7" r="3"/><circle cx="337.8" cy="782.9" r="3"/><circle cx="309.2" cy="795.7" r="3"/><circle cx="313.9" cy="812.1" r="3"/><circle cx="285.5" cy="837.8" r="3"/><circle cx="303.9" cy="818.8" r="3"/><circle cx="289.7" cy="836.8" r="3"/><circle cx="318.0" cy="809.9" r="3"/><circle cx="328.2" cy="821.2" r="3"/><circle cx="264.9" cy="877.1" r="3"/><circle cx="257.9" cy="890.0" r="3"/><circle cx="214.6" cy="920.6" r="3"/><circle cx="263.8" cy="883.3" r="3"/><circle cx="266.3" cy="865.7" r="3"/><circle cx="295.9" cy="832.3" r="3"/><circle cx="273.1" cy="858.3" r="3"/><circle cx="263.7" cy="868.0" r="3"/><circle cx="308.9" cy="830.1" r="3"/><circle cx="306.2" cy="817.8" r="3"/><circle cx="305.0" cy="817.2" r="3"/><circle cx="336.1" cy="790.9" r="3"/><circle cx="387.0" cy="751.1" r="3"/><circle cx="400.8" cy="742.1" r="3"/><circle cx="396.8" cy="744.5" r="3"/><circle cx="392.3" cy="752.8" r="3"/><circle cx="398.7" cy="759.2" r="3"/><circle cx="372.0" cy="795.5" r="3"/><circle cx="346.7" cy="823.2" r="3"/><circle cx="317.9" cy="827.6" r="3"/><circle cx="302.3" cy="848.0" r="3"/><circle cx="275.5" cy="862.2" r="3"/><circle cx="270.5" cy="850.0" r="3"/><circle cx="326.2" cy="798.0" r="3"/><circle cx="295.1" cy="835.3" r="3"/><circle cx="298.1" cy="834.7" r="3"/><circle cx="278.7" cy="844.0" r="3"/><circle cx="295.5" cy="840.1" r="3"/><circle cx="312.2" cy="815.5" r="3"/><circle cx="258.3" cy="848.2" r="3"/><circle cx="245.5" cy="863.7" r="3"/><circle cx="211.0" cy="899.6" r="3"/><circle cx="195.8" cy="916.1" r="3"/><circle cx="233.9" cy="890.3" r="3"/><circle cx="239.7" cy="901.7" r="3"/><circle cx="197.8" cy="926.3" r="3"/><circle cx="199.6" cy="917.5" r="3"/><circle cx="230.5" cy="909.3" r="3"/><circle cx="254.8" cy="882.2" r="3"/><circle cx="213.5" cy="905.2" r="3"/><circle cx="193.2" cy="917.9" r="3"/><circle cx="158.7" cy="944.2" r="3"/><circle cx="118.3" cy="975.5" r="3"/><circle cx="208.3" cy="926.0" r="3"/><circle cx="172.8" cy="946.7" r="3"/><circle cx="139.6" cy="957.9" r="3"/><circle cx="183.0" cy="938.1" r="3"/><circle cx="159.8" cy="940.8" r="3"/><circle cx="176.8" cy="941.8" r="3"/><circle cx="176.1" cy="945.1" r="3"/><circle cx="180.6" cy="932.2" r="3"/><circle cx="183.8" cy="943.9" r="3"/><circle cx="105.9" cy="982.2" r="3"/><circle cx="146.8" cy="955.5" r="3"/><circle cx="113.9" cy="972.1" r="3"/><circle cx="105.1" cy="972.5" r="3"/><circle cx="149.4" cy="958.4" r="3"/><circle cx="197.0" cy="937.1" r="3"/><circle cx="217.0" cy="919.1" r="3"/><circle cx="220.7" cy="917.5" r="3"/><circle cx="250.8" cy="901.8" r="3"/><circle cx="279.1" cy="879.9" r="3"/><circle cx="275.9" cy="863.6" r="3"/><circle cx="300.9" cy="839.8" r="3"/><circle cx="282.5" cy="863.6" r="3"/><circle cx="261.9" cy="879.0" r="3"/><circle cx="274.1" cy="882.6" r="3"/><circle cx="221.0" cy="914.8" r="3"/><circle cx="221.1" cy="902.3" r="3"/><circle cx="159.0" cy="936.9" r="3"/><circle cx="162.6" cy="942.7" r="3"/><circle cx="123.6" cy="975.0" r="3"/><circle cx="123.0" cy="965.1" r="3"/><circle cx="127.7" cy="973.1" r="3"/><circle cx="140.7" cy="965.4" r="3"/><circle cx="199.7" cy="926.5" r="3"/><circle cx="180.9" cy="942.7" r="3"/><circle cx="169.4" cy="946.3" r="3"/><circle cx="153.3" cy="960.3" r="3"/><circle cx="174.7" cy="950.8" r="3"/><circle cx="165.2" cy="949.7" r="3"/><circle cx="219.9" cy="918.9" r="3"/><circle cx="243.9" cy="896.4" r="3"/><circle cx="211.7" cy="907.4" r="3"/><circle cx="143.0" cy="959.0" r="3"/><circle cx="95.3" cy="985.8" r="3"/><circle cx="98.6" cy="986.7" r="3"/><circle cx="95.3" cy="987.8" r="3"/><circle cx="98.0" cy="979.1" r="3"/><circle cx="114.4" cy="973.9" r="3"/><circle cx="108.2" cy="978.5" r="3"/><circle cx="103.7" cy="985.9" r="3"/><circle cx="158.5" cy="953.5" r="3"/><circle cx="136.9" cy="963.5" r="3"/><circle cx="149.7" cy="970.1" r="3"/><circle cx="102.4" cy="976.5" r="3"/><circle cx="130.8" cy="963.9" r="3"/><circle cx="178.4" cy="944.1" r="3"/><circle cx="195.6" cy="928.3" r="3"/><circle cx="225.2" cy="900.9" r="3"/><circle cx="242.5" cy="899.1" r="3"/><circle cx="283.4" cy="857.6" r="3"/><circle cx="276.5" cy="867.8" r="3"/><circle cx="208.3" cy="930.3" r="3"/><circle cx="180.5" cy="946.8" r="3"/><circle cx="188.7" cy="934.3" r="3"/><circle cx="144.1" cy="963.8" r="3"/><circle cx="191.9" cy="938.4" r="3"/><circle cx="187.8" cy="942.5" r="3"/><circle cx="128.6" cy="974.2" r="3"/><circle cx="188.0" cy="942.0" r="3"/><circle cx="186.8" cy="922.5" r="3"/><circle cx="160.5" cy="937.8" r="3"/><circle cx="208.0" cy="915.3" r="3"/><circle cx="213.6" cy="906.0" r="3"/><circle cx="214.6" cy="913.3" r="3"/><circle cx="103.5" cy="970.9" r="3"/><circle cx="107.0" cy="991.5" r="3"/><circle cx="109.9" cy="967.2" r="3"/><circle cx="106.8" cy="978.5" r="3"/><circle cx="118.7" cy="959.2" r="3"/><circle cx="107.3" cy="975.0" r="3"/><circle cx="122.1" cy="969.4" r="3"/><circle cx="95.3" cy="986.3" r="3"/><circle cx="137.2" cy="956.4" r="3"/><circle cx="117.3" cy="958.9" r="3"/><circle cx="95.3" cy="977.4" r="3"/><circle cx="95.3" cy="997.2" r="3"/><circle cx="125.5" cy="959.9" r="3"/><circle cx="95.3" cy="974.4" r="3"/><circle cx="127.9" cy="960.9" r="3"/><circle cx="113.3" cy="971.5" r="3"/><circle cx="125.8" cy="961.3" r="3"/><circle cx="95.3" cy="998.2" r="3"/><circle cx="145.2" cy="950.8" r="3"/><circle cx="102.1" cy="977.8" r="3"/><circle cx="122.3" cy="970.9" r="3"/><circle cx="110.3" cy="976.3" r="3"/><circle cx="201.1" cy="914.9" r="3"/><circle cx="157.3" cy="941.4" r="3"/><circle cx="195.6" cy="902.9" r="3"/><circle cx="182.0" cy="921.6" r="3"/><circle cx="160.9" cy="938.3" r="3"/><circle cx="163.3" cy="924.1" r="3"/><circle cx="212.0" cy="897.8" r="3"/><circle cx="226.4" cy="891.9" r="3"/><circle cx="194.8" cy="900.3" r="3"/><circle cx="171.2" cy="913.9" r="3"/><circle cx="125.3" cy="939.7" r="3"/><circle cx="138.7" cy="933.8" r="3"/><circle cx="148.7" cy="929.7" r="3"/><circle cx="171.7" cy="910.3" r="3"/><circle cx="195.1" cy="909.6" r="3"/><circle cx="223.5" cy="891.4" r="3"/><circle cx="233.6" cy="868.3" r="3"/><circle cx="214.6" cy="878.2" r="3"/><circle cx="152.2" cy="926.2" r="3"/><circle cx="112.9" cy="962.7" r="3"/><circle cx="95.3" cy="991.4" r="3"/><circle cx="138.2" cy="955.2" r="3"/><circle cx="98.7" cy="979.7" r="3"/><circle cx="142.3" cy="939.4" r="3"/><circle cx="171.8" cy="931.5" r="3"/><circle cx="200.1" cy="894.6" r="3"/><circle cx="211.6" cy="880.4" r="3"/><circle cx="181.1" cy="902.7" r="3"/><circle cx="178.4" cy="916.6" r="3"/><circle cx="184.2" cy="914.9" r="3"/><circle cx="147.9" cy="915.4" r="3"/><circle cx="136.4" cy="937.9" r="3"/><circle cx="150.7" cy="932.1" r="3"/><circle cx="178.7" cy="901.0" r="3"/><circle cx="143.6" cy="953.5" r="3"/><circle cx="153.3" cy="938.8" r="3"/><circle cx="130.5" cy="947.4" r="3"/><circle cx="122.0" cy="953.9" r="3"/><circle cx="153.5" cy="919.9" r="3"/><circle cx="174.5" cy="921.0" r="3"/><circle cx="189.7" cy="902.7" r="3"/><circle cx="124.3" cy="958.8" r="3"/><circle cx="202.8" cy="909.3" r="3"/><circle cx="154.0" cy="937.3" r="3"/><circle cx="173.7" cy="922.6" r="3"/><circle cx="171.1" cy="919.1" r="3"/><circle cx="95.3" cy="985.0" r="3"/><circle cx="95.3" cy="974.4" r="3"/><circle cx="116.9" cy="967.0" r="3"/><circle cx="166.1" cy="913.2" r="3"/><circle cx="150.4" cy="919.1" r="3"/><circle cx="155.5" cy="915.9" r="3"/><circle cx="142.0" cy="937.9" r="3"/><circle cx="170.2" cy="899.3" r="3"/><circle cx="219.2" cy="856.7" r="3"/><circle cx="218.5" cy="879.8" r="3"/><circle cx="210.6" cy="877.8" r="3"/><circle cx="154.8" cy="923.7" r="3"/><circle cx="184.8" cy="890.5" r="3"/><circle cx="216.3" cy="848.7" r="3"/><circle cx="236.2" cy="834.8" r="3"/><circle cx="264.2" cy="821.9" r="3"/><circle cx="241.3" cy="833.9" r="3"/><circle cx="220.5" cy="865.6" r="3"/><circle cx="258.5" cy="829.4" r="3"/><circle cx="201.8" cy="879.8" r="3"/><circle cx="199.6" cy="889.3" r="3"/><circle cx="221.3" cy="873.3" r="3"/><circle cx="221.8" cy="853.9" r="3"/><circle cx="229.5" cy="849.3" r="3"/><circle cx="219.1" cy="857.8" r="3"/><circle cx="207.7" cy="876.2" r="3"/><circle cx="185.4" cy="899.3" r="3"/><circle cx="187.4" cy="903.3" r="3"/><circle cx="169.5" cy="915.4" r="3"/><circle cx="156.4" cy="927.1" r="3"/><circle cx="143.8" cy="938.3" r="3"/><circle cx="135.9" cy="951.4" r="3"/><circle cx="95.3" cy="987.0" r="3"/><circle cx="95.3" cy="980.5" r="3"/><circle cx="95.3" cy="981.5" r="3"/><circle cx="128.3" cy="960.7" r="3"/><circle cx="157.3" cy="922.9" r="3"/><circle cx="220.9" cy="866.1" r="3"/><circle cx="192.3" cy="900.6" r="3"/><circle cx="184.5" cy="900.3" r="3"/><circle cx="220.5" cy="875.1" r="3"/><circle cx="205.5" cy="868.5" r="3"/><circle cx="206.0" cy="874.3" r="3"/><circle cx="289.9" cy="806.4" r="3"/><circle cx="282.6" cy="829.0" r="3"/><circle cx="217.4" cy="866.7" r="3"/><circle cx="199.0" cy="892.5" r="3"/><circle cx="225.2" cy="870.1" r="3"/><circle cx="226.7" cy="863.7" r="3"/><circle cx="215.4" cy="884.3" r="3"/><circle cx="212.9" cy="896.5" r="3"/><circle cx="250.9" cy="860.0" r="3"/><circle cx="252.6" cy="847.0" r="3"/><circle cx="236.4" cy="859.9" r="3"/><circle cx="261.1" cy="842.4" r="3"/><circle cx="277.1" cy="825.3" r="3"/><circle cx="222.2" cy="859.1" r="3"/><circle cx="214.6" cy="858.8" r="3"/><circle cx="252.5" cy="831.8" r="3"/><circle cx="232.7" cy="851.6" r="3"/><circle cx="205.3" cy="882.6" r="3"/><circle cx="205.4" cy="878.8" r="3"/><circle cx="214.3" cy="849.1" r="3"/><circle cx="262.0" cy="817.9" r="3"/><circle cx="215.5" cy="864.2" r="3"/><circle cx="305.0" cy="780.5" r="3"/><circle cx="277.0" cy="806.0" r="3"/><circle cx="299.0" cy="789.6" r="3"/><circle cx="346.5" cy="759.7" r="3"/><circle cx="360.4" cy="752.2" r="3"/><circle cx="371.6" cy="758.7" r="3"/><circle cx="328.8" cy="796.0" r="3"/><circle cx="348.7" cy="771.9" r="3"/><circle cx="303.0" cy="796.3" r="3"/><circle cx="230.0" cy="857.8" r="3"/><circle cx="312.2" cy="781.0" r="3"/><circle cx="343.9" cy="761.8" r="3"/><circle cx="401.1" cy="727.0" r="3"/><circle cx="359.4" cy="768.3" r="3"/><circle cx="406.7" cy="723.1" r="3"/><circle cx="418.9" cy="707.4" r="3"/><circle cx="436.9" cy="699.8" r="3"/><circle cx="380.7" cy="746.1" r="3"/><circle cx="332.5" cy="764.4" r="3"/><circle cx="273.8" cy="815.4" r="3"/><circle cx="239.3" cy="858.6" r="3"/><circle cx="246.9" cy="840.2" r="3"/><circle cx="227.1" cy="863.4" r="3"/><circle cx="280.7" cy="830.9" r="3"/><circle cx="261.0" cy="842.9" r="3"/><circle cx="331.9" cy="771.5" r="3"/><circle cx="340.8" cy="752.7" r="3"/><circle cx="344.6" cy="761.3" r="3"/><circle cx="373.4" cy="733.2" r="3"/><circle cx="337.1" cy="757.6" r="3"/><circle cx="327.4" cy="766.9" r="3"/><circle cx="366.7" cy="739.6" r="3"/><circle cx="316.3" cy="782.8" r="3"/><circle cx="318.5" cy="784.1" r="3"/><circle cx="277.8" cy="821.8" r="3"/><circle cx="291.9" cy="802.0" r="3"/><circle cx="343.0" cy="761.9" r="3"/><circle cx="324.4" cy="785.8" r="3"/><circle cx="338.0" cy="776.6" r="3"/><circle cx="316.4" cy="796.8" r="3"/><circle cx="295.6" cy="817.1" r="3"/><circle cx="274.7" cy="835.3" r="3"/><circle cx="331.6" cy="795.0" r="3"/><circle cx="388.7" cy="738.5" r="3"/><circle cx="383.6" cy="725.3" r="3"/><circle cx="325.3" cy="766.7" r="3"/><circle cx="365.3" cy="746.7" r="3"/><circle cx="385.8" cy="745.9" r="3"/><circle cx="366.8" cy="759.1" r="3"/><circle cx="384.0" cy="745.2" r="3"/><circle cx="392.5" cy="735.9" r="3"/><circle cx="390.9" cy="743.8" r="3"/><circle cx="405.5" cy="736.6" r="3"/><circle cx="332.8" cy="784.2" r="3"/><circle cx="319.7" cy="798.0" r="3"/><circle cx="303.3" cy="800.2" r="3"/><circle cx="289.4" cy="829.5" r="3"/><circle cx="307.9" cy="827.8" r="3"/><circle cx="286.5" cy="835.1" r="3"/><circle cx="301.2" cy="828.1" r="3"/><circle cx="336.8" cy="796.3" r="3"/><circle cx="281.2" cy="836.1" r="3"/><circle cx="283.1" cy="838.0" r="3"/><circle cx="272.0" cy="838.6" r="3"/><circle cx="298.7" cy="821.1" r="3"/><circle cx="353.6" cy="768.7" r="3"/><circle cx="375.6" cy="747.0" r="3"/><circle cx="337.8" cy="770.3" r="3"/><circle cx="398.0" cy="722.4" r="3"/><circle cx="344.8" cy="771.6" r="3"/><circle cx="378.2" cy="749.7" r="3"/><circle cx="352.5" cy="762.2" r="3"/><circle cx="267.2" cy="833.8" r="3"/><circle cx="342.5" cy="761.5" r="3"/><circle cx="414.5" cy="724.1" r="3"/><circle cx="381.2" cy="763.6" r="3"/><circle cx="387.0" cy="752.3" r="3"/><circle cx="370.5" cy="772.2" r="3"/><circle cx="540.7" cy="603.7" r="3"/><circle cx="523.8" cy="624.2" r="3"/><circle cx="522.5" cy="635.0" r="3"/><circle cx="448.3" cy="662.8" r="3"/><circle cx="445.3" cy="665.7" r="3"/><circle cx="480.6" cy="679.4" r="3"/><circle cx="429.5" cy="684.7" r="3"/><circle cx="467.8" cy="695.2" r="3"/><circle cx="470.5" cy="700.7" r="3"/><circle cx="447.5" cy="690.6" r="3"/><circle cx="447.5" cy="699.4" r="3"/><circle cx="427.4" cy="696.2" r="3"/><circle cx="459.3" cy="721.4" r="3"/><circle cx="459.7" cy="726.3" r="3"/><circle cx="449.4" cy="732.9" r="3"/><circle cx="437.4" cy="742.3" r="3"/><circle cx="408.8" cy="702.4" r="3"/><circle cx="419.5" cy="704.6" r="3"/>
</g>
<path d="M95.3 989.1L550 611.9" stroke="#fff" stroke-width="5.6" fill="none"/>
<path d="M95.3 989.1L550 611.9" stroke="#000" stroke-width="3.6" fill="none"/>
</g>
<text transform="translate(430.86 952.95) scale(1.0541 1)" font-size="27.3">= 0.966</text>
<text transform="translate(413.73 940.35) scale(1.0989 1)" font-size="17.6">2</text>
<text transform="translate(396.86 952.95) scale(0.7826 1)" font-size="27.3" font-style="italic">R</text>
<text transform="translate(301.49 981.95) scale(0.9681 1)" font-size="27.3">RMSE = 5.397 GW</text>
<g stroke="#1a1a1a" stroke-width="1.5" fill="none">
<rect x="704.4" y="595.85" width="454.6" height="411"/>
<path d="M704.4 978.35h8.6M704.4 917.65h8.6M704.4 856.95h8.6M704.4 796.25h8.6M704.4 735.55h8.6M704.4 674.85h8.6M704.4 614.15h8.6M829.6 1006.85v-8.6M954.8 1006.85v-8.6M1080 1006.85v-8.6" stroke-width="1.3"/>
</g>
<text transform="translate(666.63 985.47) scale(1.1071 1)" font-size="23">20</text>
<text transform="translate(665.64 924.75) scale(1.1470 1)" font-size="23">40</text>
<text transform="translate(665.26 864.03) scale(1.1622 1)" font-size="23">60</text>
<text transform="translate(665.72 803.31) scale(1.1439 1)" font-size="23">80</text>
<text transform="translate(653.12 742.59) scale(1.0905 1)" font-size="23">100</text>
<text transform="translate(656.47 681.87) scale(1.0010 1)" font-size="23">120</text>
<text transform="translate(655.43 621.15) scale(1.0289 1)" font-size="23">140</text>
<text transform="translate(696.45 1037.15) scale(1.1991 1)" font-size="23">0</text>
<text transform="translate(822.7 1037.15) scale(1.0343 1)" font-size="23">5</text>
<text transform="translate(941.51 1037.15) scale(0.9826 1)" font-size="23">10</text>
<text transform="translate(1067.9 1037.15) scale(0.8958 1)" font-size="23">15</text>
<text transform="translate(897.23 1078.25) scale(0.9481 1)" font-size="27.3">HDDs</text>
<text transform="translate(633.3 965.09) rotate(-90) scale(1.0274 1)" font-size="27.3">Natural gas demand (GW)</text>
<text transform="translate(606.63 594.5) scale(1.1952 1)" font-size="38" font-weight="700" stroke="#000" stroke-width="0.9">e</text>
<clipPath id="c4"><rect x="704.4" y="595.85" width="454.6" height="411"/></clipPath>
<g clip-path="url(#c4)"><g fill="#0cacda" fill-opacity="0.3">
<circle cx="979.3" cy="766.0" r="3"/><circle cx="973.9" cy="768.1" r="3"/><circle cx="984.9" cy="768.7" r="3"/><circle cx="971.8" cy="779.6" r="3"/><circle cx="964.7" cy="785.7" r="3"/><circle cx="953.5" cy="794.9" r="3"/><circle cx="934.5" cy="790.6" r="3"/><circle cx="1016.7" cy="736.6" r="3"/><circle cx="983.1" cy="768.4" r="3"/><circle cx="982.8" cy="774.3" r="3"/><circle cx="971.0" cy="773.7" r="3"/><circle cx="996.1" cy="760.9" r="3"/><circle cx="1020.9" cy="743.5" r="3"/><circle cx="960.6" cy="783.1" r="3"/><circle cx="968.6" cy="773.0" r="3"/><circle cx="1001.0" cy="760.8" r="3"/><circle cx="930.1" cy="802.3" r="3"/><circle cx="930.9" cy="805.9" r="3"/><circle cx="882.2" cy="847.4" r="3"/><circle cx="866.9" cy="866.1" r="3"/><circle cx="832.3" cy="886.2" r="3"/><circle cx="862.4" cy="872.9" r="3"/><circle cx="851.5" cy="894.1" r="3"/><circle cx="872.4" cy="871.6" r="3"/><circle cx="885.3" cy="846.7" r="3"/><circle cx="896.1" cy="843.9" r="3"/><circle cx="845.7" cy="885.9" r="3"/><circle cx="853.2" cy="869.4" r="3"/><circle cx="884.2" cy="865.8" r="3"/><circle cx="879.8" cy="855.6" r="3"/><circle cx="845.5" cy="881.8" r="3"/><circle cx="859.4" cy="882.5" r="3"/><circle cx="853.2" cy="891.6" r="3"/><circle cx="855.9" cy="895.5" r="3"/><circle cx="893.7" cy="851.2" r="3"/><circle cx="892.0" cy="862.6" r="3"/><circle cx="901.2" cy="846.0" r="3"/><circle cx="909.1" cy="825.9" r="3"/><circle cx="925.7" cy="836.3" r="3"/><circle cx="911.8" cy="842.0" r="3"/><circle cx="939.0" cy="817.2" r="3"/><circle cx="939.7" cy="821.5" r="3"/><circle cx="912.7" cy="840.3" r="3"/><circle cx="916.0" cy="839.2" r="3"/><circle cx="976.6" cy="799.1" r="3"/><circle cx="922.5" cy="849.6" r="3"/><circle cx="947.9" cy="819.1" r="3"/><circle cx="968.8" cy="803.9" r="3"/><circle cx="932.9" cy="846.5" r="3"/><circle cx="965.0" cy="783.0" r="3"/><circle cx="969.6" cy="770.4" r="3"/><circle cx="910.8" cy="817.1" r="3"/><circle cx="922.2" cy="816.4" r="3"/><circle cx="967.9" cy="803.0" r="3"/><circle cx="941.5" cy="826.0" r="3"/><circle cx="951.9" cy="807.0" r="3"/><circle cx="938.7" cy="824.0" r="3"/><circle cx="955.4" cy="812.7" r="3"/><circle cx="976.8" cy="787.0" r="3"/><circle cx="923.1" cy="812.5" r="3"/><circle cx="927.3" cy="813.8" r="3"/><circle cx="915.4" cy="830.0" r="3"/><circle cx="913.3" cy="844.2" r="3"/><circle cx="886.5" cy="852.9" r="3"/><circle cx="870.4" cy="870.4" r="3"/><circle cx="871.6" cy="874.5" r="3"/><circle cx="895.2" cy="858.2" r="3"/><circle cx="929.0" cy="832.1" r="3"/><circle cx="888.5" cy="865.8" r="3"/><circle cx="843.0" cy="885.6" r="3"/><circle cx="854.3" cy="882.5" r="3"/><circle cx="817.0" cy="913.9" r="3"/><circle cx="843.3" cy="903.9" r="3"/><circle cx="805.2" cy="931.6" r="3"/><circle cx="887.6" cy="877.0" r="3"/><circle cx="876.6" cy="866.7" r="3"/><circle cx="868.9" cy="882.1" r="3"/><circle cx="861.6" cy="882.9" r="3"/><circle cx="834.4" cy="906.8" r="3"/><circle cx="869.6" cy="862.3" r="3"/><circle cx="861.7" cy="870.3" r="3"/><circle cx="836.8" cy="892.8" r="3"/><circle cx="867.0" cy="888.4" r="3"/><circle cx="873.3" cy="891.3" r="3"/><circle cx="866.4" cy="902.4" r="3"/><circle cx="852.5" cy="916.1" r="3"/><circle cx="835.6" cy="929.6" r="3"/><circle cx="822.6" cy="925.0" r="3"/><circle cx="841.8" cy="909.0" r="3"/><circle cx="870.2" cy="883.5" r="3"/><circle cx="867.3" cy="894.8" r="3"/><circle cx="866.2" cy="900.9" r="3"/><circle cx="878.0" cy="898.1" r="3"/><circle cx="870.0" cy="885.5" r="3"/><circle cx="862.4" cy="889.9" r="3"/><circle cx="875.9" cy="870.0" r="3"/><circle cx="809.9" cy="926.7" r="3"/><circle cx="832.3" cy="919.5" r="3"/><circle cx="789.0" cy="944.2" r="3"/><circle cx="734.8" cy="982.0" r="3"/><circle cx="734.8" cy="972.0" r="3"/><circle cx="742.0" cy="969.2" r="3"/><circle cx="704.4" cy="1001.3" r="3"/><circle cx="823.9" cy="920.3" r="3"/><circle cx="800.7" cy="932.6" r="3"/><circle cx="779.4" cy="948.5" r="3"/><circle cx="784.7" cy="946.6" r="3"/><circle cx="814.7" cy="933.0" r="3"/><circle cx="807.1" cy="938.8" r="3"/><circle cx="783.4" cy="948.1" r="3"/><circle cx="821.8" cy="913.7" r="3"/><circle cx="824.4" cy="918.0" r="3"/><circle cx="783.3" cy="954.3" r="3"/><circle cx="799.1" cy="951.3" r="3"/><circle cx="813.7" cy="941.4" r="3"/><circle cx="747.3" cy="967.9" r="3"/><circle cx="761.9" cy="961.1" r="3"/><circle cx="704.4" cy="985.6" r="3"/><circle cx="777.4" cy="949.8" r="3"/><circle cx="755.0" cy="956.7" r="3"/><circle cx="755.6" cy="953.2" r="3"/><circle cx="764.3" cy="955.5" r="3"/><circle cx="761.1" cy="961.6" r="3"/><circle cx="707.4" cy="978.1" r="3"/><circle cx="720.5" cy="979.9" r="3"/><circle cx="741.8" cy="968.7" r="3"/><circle cx="723.7" cy="984.3" r="3"/><circle cx="746.9" cy="962.2" r="3"/><circle cx="717.5" cy="975.4" r="3"/><circle cx="709.8" cy="980.8" r="3"/><circle cx="714.2" cy="973.8" r="3"/><circle cx="704.4" cy="980.6" r="3"/><circle cx="704.4" cy="981.8" r="3"/><circle cx="704.4" cy="967.0" r="3"/><circle cx="733.1" cy="977.9" r="3"/><circle cx="768.5" cy="948.6" r="3"/><circle cx="778.9" cy="943.0" r="3"/><circle cx="757.1" cy="955.3" r="3"/><circle cx="737.9" cy="963.0" r="3"/><circle cx="704.4" cy="978.1" r="3"/><circle cx="740.4" cy="955.6" r="3"/><circle cx="740.9" cy="962.7" r="3"/><circle cx="733.7" cy="966.1" r="3"/><circle cx="733.0" cy="987.2" r="3"/><circle cx="734.0" cy="972.6" r="3"/><circle cx="704.6" cy="984.4" r="3"/><circle cx="731.3" cy="974.2" r="3"/><circle cx="740.8" cy="968.3" r="3"/><circle cx="769.8" cy="960.2" r="3"/><circle cx="769.6" cy="960.9" r="3"/><circle cx="748.1" cy="962.1" r="3"/><circle cx="722.6" cy="977.5" r="3"/><circle cx="704.4" cy="988.0" r="3"/><circle cx="706.7" cy="982.2" r="3"/><circle cx="714.3" cy="970.7" r="3"/><circle cx="704.4" cy="993.8" r="3"/><circle cx="704.4" cy="987.8" r="3"/><circle cx="704.4" cy="992.6" r="3"/><circle cx="706.7" cy="986.9" r="3"/><circle cx="704.4" cy="983.2" r="3"/><circle cx="704.4" cy="979.6" r="3"/><circle cx="704.4" cy="977.7" r="3"/><circle cx="745.4" cy="960.5" r="3"/><circle cx="710.3" cy="979.5" r="3"/><circle cx="747.9" cy="957.7" r="3"/><circle cx="711.9" cy="978.8" r="3"/><circle cx="704.4" cy="976.0" r="3"/><circle cx="704.4" cy="971.7" r="3"/><circle cx="704.4" cy="994.8" r="3"/><circle cx="713.5" cy="985.2" r="3"/><circle cx="717.4" cy="979.2" r="3"/><circle cx="711.7" cy="974.5" r="3"/><circle cx="704.4" cy="986.4" r="3"/><circle cx="753.6" cy="962.4" r="3"/><circle cx="712.2" cy="987.0" r="3"/><circle cx="704.4" cy="976.9" r="3"/><circle cx="716.1" cy="987.7" r="3"/><circle cx="709.4" cy="982.4" r="3"/><circle cx="726.7" cy="980.7" r="3"/><circle cx="735.9" cy="981.4" r="3"/><circle cx="704.4" cy="984.9" r="3"/><circle cx="707.2" cy="990.3" r="3"/><circle cx="757.2" cy="953.9" r="3"/><circle cx="726.4" cy="975.9" r="3"/><circle cx="712.6" cy="977.4" r="3"/><circle cx="704.4" cy="972.9" r="3"/><circle cx="756.0" cy="943.6" r="3"/><circle cx="790.5" cy="926.1" r="3"/><circle cx="801.7" cy="926.1" r="3"/><circle cx="799.4" cy="933.2" r="3"/><circle cx="724.2" cy="970.2" r="3"/><circle cx="772.1" cy="943.1" r="3"/><circle cx="769.8" cy="929.6" r="3"/><circle cx="769.2" cy="935.4" r="3"/><circle cx="763.7" cy="939.3" r="3"/><circle cx="819.1" cy="917.1" r="3"/><circle cx="826.5" cy="904.7" r="3"/><circle cx="840.5" cy="894.0" r="3"/><circle cx="791.3" cy="928.7" r="3"/><circle cx="854.0" cy="880.6" r="3"/><circle cx="796.9" cy="930.3" r="3"/><circle cx="819.2" cy="914.7" r="3"/><circle cx="825.5" cy="909.0" r="3"/><circle cx="810.1" cy="896.3" r="3"/><circle cx="847.9" cy="858.7" r="3"/><circle cx="876.2" cy="852.2" r="3"/><circle cx="827.9" cy="896.0" r="3"/><circle cx="776.0" cy="937.2" r="3"/><circle cx="773.6" cy="919.6" r="3"/><circle cx="761.4" cy="949.3" r="3"/><circle cx="752.7" cy="949.6" r="3"/><circle cx="767.7" cy="930.1" r="3"/><circle cx="719.8" cy="966.8" r="3"/><circle cx="704.4" cy="972.8" r="3"/><circle cx="704.4" cy="981.6" r="3"/><circle cx="722.2" cy="965.5" r="3"/><circle cx="729.0" cy="970.6" r="3"/><circle cx="741.0" cy="966.9" r="3"/><circle cx="726.6" cy="969.6" r="3"/><circle cx="704.4" cy="987.6" r="3"/><circle cx="719.2" cy="992.0" r="3"/><circle cx="714.1" cy="982.4" r="3"/><circle cx="709.1" cy="976.6" r="3"/><circle cx="704.4" cy="980.1" r="3"/><circle cx="713.0" cy="980.5" r="3"/><circle cx="751.9" cy="955.7" r="3"/><circle cx="716.2" cy="983.6" r="3"/><circle cx="714.7" cy="967.9" r="3"/><circle cx="705.8" cy="989.0" r="3"/><circle cx="722.8" cy="981.5" r="3"/><circle cx="710.9" cy="974.9" r="3"/><circle cx="704.4" cy="991.4" r="3"/><circle cx="727.9" cy="965.0" r="3"/><circle cx="764.8" cy="943.8" r="3"/><circle cx="837.5" cy="884.1" r="3"/><circle cx="817.0" cy="915.8" r="3"/><circle cx="829.6" cy="891.9" r="3"/><circle cx="787.0" cy="905.1" r="3"/><circle cx="792.1" cy="903.9" r="3"/><circle cx="751.1" cy="937.4" r="3"/><circle cx="749.8" cy="931.7" r="3"/><circle cx="756.5" cy="922.6" r="3"/><circle cx="805.2" cy="898.8" r="3"/><circle cx="808.9" cy="904.7" r="3"/><circle cx="803.8" cy="910.3" r="3"/><circle cx="830.3" cy="872.0" r="3"/><circle cx="850.3" cy="869.4" r="3"/><circle cx="788.7" cy="925.1" r="3"/><circle cx="785.0" cy="926.6" r="3"/><circle cx="737.7" cy="966.8" r="3"/><circle cx="712.8" cy="973.1" r="3"/><circle cx="722.2" cy="975.9" r="3"/><circle cx="741.7" cy="946.6" r="3"/><circle cx="787.9" cy="918.7" r="3"/><circle cx="736.8" cy="938.6" r="3"/><circle cx="740.3" cy="943.4" r="3"/><circle cx="784.9" cy="905.9" r="3"/><circle cx="826.2" cy="888.2" r="3"/><circle cx="838.3" cy="872.5" r="3"/><circle cx="843.0" cy="881.6" r="3"/><circle cx="875.3" cy="862.1" r="3"/><circle cx="878.9" cy="841.0" r="3"/><circle cx="889.9" cy="828.5" r="3"/><circle cx="887.5" cy="842.0" r="3"/><circle cx="891.8" cy="854.2" r="3"/><circle cx="892.0" cy="834.1" r="3"/><circle cx="862.1" cy="858.6" r="3"/><circle cx="887.1" cy="823.7" r="3"/><circle cx="829.1" cy="870.9" r="3"/><circle cx="845.2" cy="848.7" r="3"/><circle cx="874.9" cy="852.9" r="3"/><circle cx="889.7" cy="868.9" r="3"/><circle cx="897.6" cy="837.5" r="3"/><circle cx="967.3" cy="786.7" r="3"/><circle cx="915.6" cy="809.8" r="3"/><circle cx="933.6" cy="787.6" r="3"/><circle cx="924.7" cy="795.8" r="3"/><circle cx="857.5" cy="859.7" r="3"/><circle cx="909.5" cy="827.1" r="3"/><circle cx="886.1" cy="843.7" r="3"/><circle cx="891.4" cy="836.1" r="3"/><circle cx="864.6" cy="854.3" r="3"/><circle cx="838.9" cy="857.3" r="3"/><circle cx="873.2" cy="838.6" r="3"/><circle cx="909.8" cy="800.1" r="3"/><circle cx="885.9" cy="807.8" r="3"/><circle cx="896.9" cy="815.4" r="3"/><circle cx="974.1" cy="761.1" r="3"/><circle cx="956.1" cy="781.3" r="3"/><circle cx="948.7" cy="795.0" r="3"/><circle cx="916.5" cy="834.9" r="3"/><circle cx="930.7" cy="803.8" r="3"/><circle cx="940.3" cy="777.2" r="3"/><circle cx="948.4" cy="768.7" r="3"/><circle cx="969.6" cy="761.1" r="3"/><circle cx="989.8" cy="751.5" r="3"/><circle cx="967.1" cy="765.0" r="3"/><circle cx="984.6" cy="757.8" r="3"/><circle cx="953.7" cy="781.3" r="3"/><circle cx="950.3" cy="786.9" r="3"/><circle cx="990.2" cy="744.2" r="3"/><circle cx="1000.9" cy="732.9" r="3"/><circle cx="976.8" cy="752.0" r="3"/><circle cx="953.1" cy="783.4" r="3"/><circle cx="948.0" cy="789.9" r="3"/><circle cx="991.8" cy="745.2" r="3"/><circle cx="963.0" cy="752.4" r="3"/><circle cx="967.7" cy="760.0" r="3"/><circle cx="938.8" cy="761.9" r="3"/><circle cx="915.2" cy="796.4" r="3"/><circle cx="918.3" cy="803.4" r="3"/><circle cx="949.1" cy="775.7" r="3"/><circle cx="943.6" cy="789.0" r="3"/><circle cx="945.0" cy="786.6" r="3"/><circle cx="937.7" cy="791.4" r="3"/><circle cx="957.3" cy="779.4" r="3"/><circle cx="915.5" cy="817.5" r="3"/><circle cx="894.4" cy="829.4" r="3"/><circle cx="883.4" cy="827.8" r="3"/><circle cx="902.1" cy="793.6" r="3"/><circle cx="896.0" cy="809.8" r="3"/><circle cx="949.6" cy="785.4" r="3"/><circle cx="988.6" cy="757.7" r="3"/><circle cx="986.4" cy="771.9" r="3"/><circle cx="972.9" cy="775.2" r="3"/><circle cx="966.8" cy="782.8" r="3"/><circle cx="948.9" cy="790.0" r="3"/><circle cx="948.5" cy="791.3" r="3"/><circle cx="950.8" cy="787.5" r="3"/><circle cx="1019.5" cy="736.5" r="3"/><circle cx="971.6" cy="757.5" r="3"/><circle cx="986.5" cy="766.6" r="3"/><circle cx="938.0" cy="792.5" r="3"/><circle cx="945.2" cy="777.3" r="3"/><circle cx="917.9" cy="800.4" r="3"/><circle cx="882.2" cy="837.3" r="3"/><circle cx="950.0" cy="777.0" r="3"/><circle cx="924.0" cy="808.1" r="3"/><circle cx="975.0" cy="775.9" r="3"/><circle cx="1024.7" cy="728.5" r="3"/><circle cx="1010.5" cy="733.6" r="3"/><circle cx="1000.7" cy="736.2" r="3"/><circle cx="1039.8" cy="711.0" r="3"/><circle cx="1015.8" cy="726.3" r="3"/><circle cx="953.0" cy="761.6" r="3"/><circle cx="983.2" cy="748.4" r="3"/><circle cx="1048.6" cy="723.0" r="3"/><circle cx="1030.7" cy="733.6" r="3"/><circle cx="1034.2" cy="741.0" r="3"/><circle cx="992.0" cy="761.1" r="3"/><circle cx="1019.0" cy="746.0" r="3"/><circle cx="1031.6" cy="732.6" r="3"/><circle cx="1023.4" cy="735.2" r="3"/><circle cx="1041.6" cy="728.9" r="3"/><circle cx="1041.9" cy="723.0" r="3"/><circle cx="1009.8" cy="737.2" r="3"/><circle cx="1015.3" cy="741.7" r="3"/><circle cx="1027.2" cy="736.4" r="3"/><circle cx="1027.6" cy="740.7" r="3"/><circle cx="1056.1" cy="713.3" r="3"/><circle cx="993.0" cy="765.3" r="3"/><circle cx="996.8" cy="754.0" r="3"/><circle cx="938.0" cy="804.6" r="3"/><circle cx="884.4" cy="838.7" r="3"/><circle cx="937.6" cy="798.5" r="3"/><circle cx="953.8" cy="795.6" r="3"/><circle cx="976.6" cy="788.5" r="3"/><circle cx="936.1" cy="827.3" r="3"/><circle cx="950.6" cy="826.9" r="3"/><circle cx="932.4" cy="830.5" r="3"/><circle cx="922.5" cy="816.6" r="3"/><circle cx="1027.5" cy="747.9" r="3"/><circle cx="1029.9" cy="754.9" r="3"/><circle cx="999.5" cy="782.7" r="3"/><circle cx="953.1" cy="816.3" r="3"/><circle cx="961.0" cy="812.6" r="3"/><circle cx="953.4" cy="803.3" r="3"/><circle cx="905.8" cy="835.5" r="3"/><circle cx="935.7" cy="818.4" r="3"/><circle cx="922.6" cy="832.8" r="3"/><circle cx="967.4" cy="798.0" r="3"/><circle cx="992.0" cy="767.7" r="3"/><circle cx="983.9" cy="758.5" r="3"/><circle cx="974.0" cy="782.5" r="3"/><circle cx="1006.8" cy="760.9" r="3"/><circle cx="1000.4" cy="774.7" r="3"/><circle cx="979.3" cy="782.7" r="3"/><circle cx="952.8" cy="799.9" r="3"/><circle cx="938.7" cy="822.1" r="3"/><circle cx="907.3" cy="852.2" r="3"/><circle cx="908.8" cy="823.8" r="3"/><circle cx="892.6" cy="824.9" r="3"/><circle cx="926.6" cy="816.1" r="3"/><circle cx="958.4" cy="791.8" r="3"/><circle cx="918.9" cy="834.7" r="3"/><circle cx="906.0" cy="842.3" r="3"/><circle cx="922.6" cy="840.7" r="3"/><circle cx="943.1" cy="811.6" r="3"/><circle cx="911.3" cy="830.6" r="3"/><circle cx="939.0" cy="796.6" r="3"/><circle cx="958.8" cy="801.5" r="3"/><circle cx="901.4" cy="833.9" r="3"/><circle cx="915.8" cy="837.4" r="3"/><circle cx="941.7" cy="828.4" r="3"/><circle cx="927.6" cy="823.3" r="3"/><circle cx="875.3" cy="865.0" r="3"/><circle cx="923.4" cy="824.2" r="3"/><circle cx="948.2" cy="794.7" r="3"/><circle cx="962.8" cy="780.5" r="3"/><circle cx="949.7" cy="794.0" r="3"/><circle cx="939.0" cy="819.9" r="3"/><circle cx="919.7" cy="840.7" r="3"/><circle cx="986.3" cy="778.4" r="3"/><circle cx="962.7" cy="785.5" r="3"/><circle cx="963.9" cy="773.6" r="3"/><circle cx="951.2" cy="793.9" r="3"/><circle cx="955.6" cy="800.8" r="3"/><circle cx="906.3" cy="856.2" r="3"/><circle cx="891.4" cy="857.4" r="3"/><circle cx="925.1" cy="834.2" r="3"/><circle cx="850.9" cy="880.0" r="3"/><circle cx="907.0" cy="833.0" r="3"/><circle cx="916.0" cy="828.7" r="3"/><circle cx="876.0" cy="863.7" r="3"/><circle cx="863.9" cy="880.4" r="3"/><circle cx="889.1" cy="869.6" r="3"/><circle cx="879.9" cy="875.2" r="3"/><circle cx="869.5" cy="879.8" r="3"/><circle cx="862.8" cy="892.1" r="3"/><circle cx="848.3" cy="905.4" r="3"/><circle cx="836.1" cy="914.2" r="3"/><circle cx="816.3" cy="941.8" r="3"/><circle cx="835.4" cy="929.7" r="3"/><circle cx="863.4" cy="901.5" r="3"/><circle cx="830.6" cy="933.2" r="3"/><circle cx="837.2" cy="916.8" r="3"/><circle cx="809.0" cy="931.5" r="3"/><circle cx="805.0" cy="947.6" r="3"/><circle cx="848.5" cy="918.4" r="3"/><circle cx="831.0" cy="921.9" r="3"/><circle cx="869.3" cy="890.1" r="3"/><circle cx="838.8" cy="908.4" r="3"/><circle cx="847.2" cy="895.6" r="3"/><circle cx="855.6" cy="905.6" r="3"/><circle cx="829.7" cy="920.3" r="3"/><circle cx="853.8" cy="907.2" r="3"/><circle cx="890.1" cy="894.2" r="3"/><circle cx="881.0" cy="885.0" r="3"/><circle cx="872.2" cy="895.3" r="3"/><circle cx="829.1" cy="926.2" r="3"/><circle cx="834.8" cy="911.1" r="3"/><circle cx="812.3" cy="920.3" r="3"/><circle cx="844.9" cy="899.7" r="3"/><circle cx="829.9" cy="921.7" r="3"/><circle cx="833.6" cy="921.9" r="3"/><circle cx="767.5" cy="952.2" r="3"/><circle cx="796.7" cy="940.1" r="3"/><circle cx="767.7" cy="946.5" r="3"/><circle cx="704.4" cy="985.0" r="3"/><circle cx="720.8" cy="968.6" r="3"/><circle cx="750.9" cy="953.3" r="3"/><circle cx="728.7" cy="960.5" r="3"/><circle cx="704.4" cy="987.7" r="3"/><circle cx="739.6" cy="976.6" r="3"/><circle cx="721.4" cy="975.1" r="3"/><circle cx="717.4" cy="970.3" r="3"/><circle cx="705.7" cy="986.9" r="3"/><circle cx="718.2" cy="976.5" r="3"/><circle cx="704.4" cy="991.5" r="3"/><circle cx="728.0" cy="977.0" r="3"/><circle cx="735.7" cy="969.4" r="3"/><circle cx="708.8" cy="974.9" r="3"/><circle cx="704.4" cy="996.4" r="3"/><circle cx="709.1" cy="988.5" r="3"/><circle cx="721.9" cy="983.2" r="3"/><circle cx="743.5" cy="964.1" r="3"/><circle cx="771.2" cy="955.2" r="3"/><circle cx="742.5" cy="973.2" r="3"/><circle cx="763.3" cy="955.6" r="3"/><circle cx="766.4" cy="956.3" r="3"/><circle cx="851.8" cy="904.3" r="3"/><circle cx="782.2" cy="946.3" r="3"/><circle cx="743.1" cy="980.3" r="3"/><circle cx="733.5" cy="981.1" r="3"/><circle cx="720.7" cy="977.4" r="3"/><circle cx="712.9" cy="979.2" r="3"/><circle cx="760.0" cy="964.5" r="3"/><circle cx="727.8" cy="975.3" r="3"/><circle cx="737.4" cy="970.0" r="3"/><circle cx="704.4" cy="988.0" r="3"/><circle cx="756.6" cy="961.2" r="3"/><circle cx="709.5" cy="981.7" r="3"/><circle cx="709.1" cy="985.5" r="3"/><circle cx="757.1" cy="964.4" r="3"/><circle cx="719.5" cy="978.5" r="3"/><circle cx="704.4" cy="992.7" r="3"/><circle cx="704.4" cy="985.7" r="3"/><circle cx="718.0" cy="972.1" r="3"/><circle cx="748.0" cy="958.5" r="3"/><circle cx="715.1" cy="999.2" r="3"/><circle cx="740.1" cy="973.5" r="3"/><circle cx="713.8" cy="976.3" r="3"/><circle cx="704.4" cy="990.0" r="3"/><circle cx="706.9" cy="994.4" r="3"/><circle cx="725.4" cy="977.0" r="3"/><circle cx="722.2" cy="978.5" r="3"/><circle cx="704.4" cy="993.5" r="3"/><circle cx="704.4" cy="983.3" r="3"/><circle cx="704.4" cy="978.5" r="3"/><circle cx="755.8" cy="971.1" r="3"/><circle cx="724.5" cy="977.7" r="3"/><circle cx="756.7" cy="965.5" r="3"/><circle cx="844.8" cy="925.3" r="3"/><circle cx="810.8" cy="935.0" r="3"/><circle cx="755.3" cy="963.3" r="3"/><circle cx="780.3" cy="950.9" r="3"/><circle cx="725.8" cy="975.1" r="3"/><circle cx="707.6" cy="990.0" r="3"/><circle cx="704.4" cy="970.9" r="3"/><circle cx="731.2" cy="966.4" r="3"/><circle cx="704.4" cy="989.6" r="3"/><circle cx="722.2" cy="973.3" r="3"/><circle cx="734.5" cy="958.7" r="3"/><circle cx="704.4" cy="984.3" r="3"/><circle cx="704.4" cy="988.7" r="3"/><circle cx="704.4" cy="988.4" r="3"/><circle cx="705.1" cy="978.9" r="3"/><circle cx="704.4" cy="979.5" r="3"/><circle cx="733.6" cy="964.7" r="3"/><circle cx="704.4" cy="981.1" r="3"/><circle cx="704.4" cy="996.6" r="3"/><circle cx="704.4" cy="982.3" r="3"/><circle cx="709.9" cy="984.1" r="3"/><circle cx="704.4" cy="990.0" r="3"/><circle cx="715.0" cy="986.5" r="3"/><circle cx="704.4" cy="974.4" r="3"/><circle cx="704.4" cy="975.3" r="3"/><circle cx="705.9" cy="981.6" r="3"/><circle cx="704.4" cy="982.6" r="3"/><circle cx="715.8" cy="972.1" r="3"/><circle cx="704.4" cy="976.9" r="3"/><circle cx="704.4" cy="980.1" r="3"/><circle cx="724.1" cy="978.2" r="3"/><circle cx="704.4" cy="977.0" r="3"/><circle cx="723.3" cy="975.8" r="3"/><circle cx="704.9" cy="993.2" r="3"/><circle cx="712.9" cy="975.0" r="3"/><circle cx="725.0" cy="971.9" r="3"/><circle cx="720.5" cy="983.0" r="3"/><circle cx="704.4" cy="987.2" r="3"/><circle cx="704.4" cy="988.2" r="3"/><circle cx="704.4" cy="969.0" r="3"/><circle cx="715.5" cy="967.8" r="3"/><circle cx="717.6" cy="970.3" r="3"/><circle cx="719.8" cy="979.1" r="3"/><circle cx="759.1" cy="959.7" r="3"/><circle cx="735.3" cy="963.6" r="3"/><circle cx="755.6" cy="958.6" r="3"/><circle cx="758.4" cy="950.3" r="3"/><circle cx="787.3" cy="934.3" r="3"/><circle cx="771.9" cy="943.2" r="3"/><circle cx="716.7" cy="986.4" r="3"/><circle cx="760.1" cy="958.9" r="3"/><circle cx="774.4" cy="926.1" r="3"/><circle cx="805.3" cy="919.0" r="3"/><circle cx="832.9" cy="904.3" r="3"/><circle cx="768.1" cy="943.4" r="3"/><circle cx="811.6" cy="936.9" r="3"/><circle cx="795.4" cy="944.4" r="3"/><circle cx="704.4" cy="975.4" r="3"/><circle cx="720.1" cy="980.9" r="3"/><circle cx="709.5" cy="992.0" r="3"/><circle cx="737.2" cy="972.6" r="3"/><circle cx="722.8" cy="984.8" r="3"/><circle cx="733.1" cy="974.3" r="3"/><circle cx="723.9" cy="957.9" r="3"/><circle cx="734.6" cy="957.4" r="3"/><circle cx="800.3" cy="917.3" r="3"/><circle cx="848.4" cy="878.5" r="3"/><circle cx="814.0" cy="898.4" r="3"/><circle cx="788.3" cy="909.2" r="3"/><circle cx="777.9" cy="935.6" r="3"/><circle cx="753.0" cy="954.7" r="3"/><circle cx="798.6" cy="938.7" r="3"/><circle cx="828.5" cy="912.8" r="3"/><circle cx="796.7" cy="914.8" r="3"/><circle cx="817.9" cy="891.9" r="3"/><circle cx="798.0" cy="915.6" r="3"/><circle cx="810.5" cy="916.6" r="3"/><circle cx="835.9" cy="892.2" r="3"/><circle cx="834.1" cy="890.8" r="3"/><circle cx="865.5" cy="857.7" r="3"/><circle cx="838.8" cy="875.3" r="3"/><circle cx="829.2" cy="885.6" r="3"/><circle cx="848.4" cy="889.3" r="3"/><circle cx="824.8" cy="910.5" r="3"/><circle cx="781.8" cy="941.6" r="3"/><circle cx="825.5" cy="913.3" r="3"/><circle cx="787.9" cy="924.0" r="3"/><circle cx="821.1" cy="908.1" r="3"/><circle cx="760.4" cy="947.8" r="3"/><circle cx="756.4" cy="948.0" r="3"/><circle cx="750.7" cy="954.1" r="3"/><circle cx="750.1" cy="954.0" r="3"/><circle cx="706.7" cy="999.5" r="3"/><circle cx="717.3" cy="985.0" r="3"/><circle cx="759.3" cy="941.0" r="3"/><circle cx="794.0" cy="924.4" r="3"/><circle cx="764.5" cy="932.7" r="3"/><circle cx="785.2" cy="925.9" r="3"/><circle cx="830.2" cy="878.6" r="3"/><circle cx="740.2" cy="960.9" r="3"/><circle cx="760.4" cy="927.3" r="3"/><circle cx="776.1" cy="907.1" r="3"/><circle cx="790.9" cy="888.2" r="3"/><circle cx="823.8" cy="848.7" r="3"/><circle cx="886.8" cy="809.7" r="3"/><circle cx="938.9" cy="805.0" r="3"/><circle cx="929.3" cy="822.7" r="3"/><circle cx="948.3" cy="806.9" r="3"/><circle cx="911.8" cy="818.9" r="3"/><circle cx="887.3" cy="828.5" r="3"/><circle cx="933.7" cy="799.2" r="3"/><circle cx="948.6" cy="777.2" r="3"/><circle cx="944.3" cy="786.9" r="3"/><circle cx="923.8" cy="809.6" r="3"/><circle cx="940.3" cy="789.9" r="3"/><circle cx="962.4" cy="784.1" r="3"/><circle cx="921.4" cy="805.6" r="3"/><circle cx="960.8" cy="766.1" r="3"/><circle cx="900.3" cy="801.5" r="3"/><circle cx="903.1" cy="797.8" r="3"/><circle cx="883.1" cy="820.8" r="3"/><circle cx="897.2" cy="801.9" r="3"/><circle cx="936.0" cy="778.3" r="3"/><circle cx="897.9" cy="814.6" r="3"/><circle cx="882.7" cy="845.9" r="3"/><circle cx="908.6" cy="825.7" r="3"/><circle cx="887.1" cy="841.5" r="3"/><circle cx="835.2" cy="876.5" r="3"/><circle cx="859.5" cy="838.3" r="3"/><circle cx="866.4" cy="822.4" r="3"/><circle cx="891.7" cy="815.4" r="3"/><circle cx="901.2" cy="812.6" r="3"/><circle cx="924.2" cy="804.2" r="3"/><circle cx="950.6" cy="795.5" r="3"/><circle cx="958.5" cy="772.6" r="3"/><circle cx="934.9" cy="806.2" r="3"/><circle cx="893.9" cy="830.3" r="3"/><circle cx="912.9" cy="817.8" r="3"/><circle cx="902.8" cy="826.7" r="3"/><circle cx="912.6" cy="803.8" r="3"/><circle cx="931.0" cy="799.2" r="3"/><circle cx="904.5" cy="815.5" r="3"/><circle cx="912.3" cy="819.5" r="3"/><circle cx="910.8" cy="818.6" r="3"/><circle cx="925.4" cy="804.8" r="3"/><circle cx="923.0" cy="804.1" r="3"/><circle cx="925.2" cy="815.3" r="3"/><circle cx="954.8" cy="786.7" r="3"/><circle cx="1025.4" cy="726.3" r="3"/><circle cx="1009.3" cy="735.1" r="3"/><circle cx="1018.8" cy="725.7" r="3"/><circle cx="1042.2" cy="712.9" r="3"/><circle cx="1042.9" cy="715.9" r="3"/><circle cx="1001.8" cy="741.7" r="3"/><circle cx="980.5" cy="764.7" r="3"/><circle cx="984.7" cy="755.2" r="3"/><circle cx="950.0" cy="782.3" r="3"/><circle cx="896.2" cy="816.9" r="3"/><circle cx="878.9" cy="840.9" r="3"/><circle cx="928.5" cy="808.7" r="3"/><circle cx="895.0" cy="834.3" r="3"/><circle cx="924.1" cy="811.2" r="3"/><circle cx="901.7" cy="814.8" r="3"/><circle cx="950.9" cy="786.8" r="3"/><circle cx="958.0" cy="786.8" r="3"/><circle cx="971.8" cy="775.1" r="3"/><circle cx="935.6" cy="806.4" r="3"/><circle cx="928.6" cy="808.6" r="3"/><circle cx="880.9" cy="825.3" r="3"/><circle cx="935.5" cy="787.4" r="3"/><circle cx="936.9" cy="777.9" r="3"/><circle cx="917.5" cy="809.3" r="3"/><circle cx="937.2" cy="800.6" r="3"/><circle cx="939.3" cy="799.1" r="3"/><circle cx="945.3" cy="777.6" r="3"/><circle cx="907.9" cy="813.6" r="3"/><circle cx="899.6" cy="821.9" r="3"/><circle cx="907.3" cy="825.9" r="3"/><circle cx="994.0" cy="753.9" r="3"/><circle cx="990.2" cy="736.6" r="3"/><circle cx="1014.0" cy="737.5" r="3"/><circle cx="1022.4" cy="750.4" r="3"/><circle cx="1061.8" cy="719.5" r="3"/><circle cx="1045.8" cy="739.0" r="3"/><circle cx="1077.2" cy="722.7" r="3"/><circle cx="1051.8" cy="728.5" r="3"/><circle cx="1062.7" cy="714.3" r="3"/><circle cx="1028.9" cy="740.1" r="3"/><circle cx="1013.8" cy="749.1" r="3"/><circle cx="1015.9" cy="742.5" r="3"/><circle cx="1012.6" cy="754.4" r="3"/><circle cx="1013.6" cy="751.3" r="3"/><circle cx="1012.1" cy="737.4" r="3"/><circle cx="1001.9" cy="749.4" r="3"/><circle cx="926.8" cy="794.2" r="3"/><circle cx="928.0" cy="790.0" r="3"/><circle cx="921.9" cy="797.9" r="3"/><circle cx="939.0" cy="805.0" r="3"/><circle cx="937.8" cy="806.7" r="3"/><circle cx="945.5" cy="796.1" r="3"/><circle cx="879.9" cy="850.3" r="3"/><circle cx="926.6" cy="811.9" r="3"/><circle cx="953.0" cy="807.0" r="3"/><circle cx="975.9" cy="774.6" r="3"/><circle cx="1051.7" cy="731.3" r="3"/><circle cx="1062.6" cy="723.9" r="3"/><circle cx="1006.2" cy="782.4" r="3"/><circle cx="978.3" cy="794.2" r="3"/><circle cx="932.9" cy="819.4" r="3"/><circle cx="926.4" cy="814.4" r="3"/><circle cx="968.2" cy="791.5" r="3"/><circle cx="905.7" cy="841.6" r="3"/><circle cx="933.1" cy="813.8" r="3"/><circle cx="902.1" cy="839.0" r="3"/><circle cx="933.0" cy="803.6" r="3"/><circle cx="931.7" cy="806.4" r="3"/><circle cx="919.5" cy="804.1" r="3"/><circle cx="950.6" cy="798.3" r="3"/><circle cx="940.7" cy="803.7" r="3"/><circle cx="947.5" cy="797.8" r="3"/><circle cx="946.6" cy="814.5" r="3"/><circle cx="928.6" cy="825.7" r="3"/><circle cx="1005.5" cy="760.3" r="3"/><circle cx="1064.3" cy="720.9" r="3"/><circle cx="1066.3" cy="710.6" r="3"/><circle cx="1073.2" cy="704.7" r="3"/><circle cx="1023.9" cy="736.6" r="3"/><circle cx="1055.9" cy="717.2" r="3"/><circle cx="1043.4" cy="716.8" r="3"/><circle cx="991.4" cy="756.9" r="3"/><circle cx="991.3" cy="758.6" r="3"/><circle cx="977.8" cy="764.1" r="3"/><circle cx="933.8" cy="786.6" r="3"/><circle cx="948.1" cy="787.1" r="3"/><circle cx="928.8" cy="809.8" r="3"/><circle cx="923.7" cy="820.4" r="3"/><circle cx="991.5" cy="762.4" r="3"/><circle cx="1007.2" cy="769.9" r="3"/><circle cx="947.4" cy="799.6" r="3"/><circle cx="968.9" cy="767.9" r="3"/><circle cx="982.4" cy="752.1" r="3"/><circle cx="942.1" cy="794.6" r="3"/><circle cx="962.0" cy="800.8" r="3"/><circle cx="976.5" cy="796.4" r="3"/><circle cx="980.5" cy="786.5" r="3"/><circle cx="974.3" cy="793.8" r="3"/><circle cx="1027.7" cy="761.7" r="3"/><circle cx="1004.1" cy="778.6" r="3"/><circle cx="995.7" cy="794.9" r="3"/><circle cx="984.4" cy="808.2" r="3"/><circle cx="991.0" cy="788.3" r="3"/><circle cx="946.9" cy="830.7" r="3"/><circle cx="940.9" cy="843.2" r="3"/><circle cx="926.4" cy="856.8" r="3"/><circle cx="945.5" cy="836.4" r="3"/><circle cx="965.1" cy="804.2" r="3"/><circle cx="961.5" cy="795.2" r="3"/><circle cx="907.6" cy="839.1" r="3"/><circle cx="937.7" cy="820.2" r="3"/><circle cx="947.0" cy="817.4" r="3"/><circle cx="912.2" cy="828.7" r="3"/><circle cx="919.8" cy="827.0" r="3"/><circle cx="899.5" cy="857.1" r="3"/><circle cx="841.8" cy="900.7" r="3"/><circle cx="872.9" cy="888.2" r="3"/><circle cx="807.9" cy="925.6" r="3"/><circle cx="812.3" cy="910.2" r="3"/><circle cx="841.9" cy="887.5" r="3"/><circle cx="895.7" cy="879.9" r="3"/><circle cx="933.1" cy="833.8" r="3"/><circle cx="914.3" cy="840.9" r="3"/><circle cx="878.1" cy="872.8" r="3"/><circle cx="817.1" cy="902.7" r="3"/><circle cx="839.4" cy="901.9" r="3"/><circle cx="813.8" cy="930.8" r="3"/><circle cx="826.6" cy="910.9" r="3"/><circle cx="829.1" cy="912.4" r="3"/><circle cx="763.3" cy="952.4" r="3"/><circle cx="810.1" cy="925.4" r="3"/><circle cx="822.9" cy="924.1" r="3"/><circle cx="857.1" cy="906.3" r="3"/><circle cx="878.3" cy="885.4" r="3"/><circle cx="900.5" cy="866.0" r="3"/><circle cx="875.7" cy="876.0" r="3"/><circle cx="903.8" cy="846.1" r="3"/><circle cx="917.9" cy="855.5" r="3"/><circle cx="902.9" cy="852.0" r="3"/><circle cx="911.1" cy="849.2" r="3"/><circle cx="866.7" cy="901.3" r="3"/><circle cx="831.1" cy="905.6" r="3"/><circle cx="838.6" cy="904.9" r="3"/><circle cx="842.8" cy="902.5" r="3"/><circle cx="791.5" cy="939.6" r="3"/><circle cx="873.5" cy="887.2" r="3"/><circle cx="862.4" cy="892.8" r="3"/><circle cx="830.5" cy="915.8" r="3"/><circle cx="765.5" cy="961.0" r="3"/><circle cx="759.8" cy="960.1" r="3"/><circle cx="772.4" cy="949.7" r="3"/><circle cx="752.7" cy="962.3" r="3"/><circle cx="789.6" cy="952.4" r="3"/><circle cx="768.5" cy="962.9" r="3"/><circle cx="813.3" cy="932.7" r="3"/><circle cx="771.8" cy="946.3" r="3"/><circle cx="780.2" cy="939.2" r="3"/><circle cx="795.3" cy="931.1" r="3"/><circle cx="892.5" cy="864.3" r="3"/><circle cx="842.7" cy="900.8" r="3"/><circle cx="800.8" cy="913.7" r="3"/><circle cx="777.3" cy="939.9" r="3"/><circle cx="815.2" cy="921.4" r="3"/><circle cx="787.7" cy="942.6" r="3"/><circle cx="753.6" cy="957.4" r="3"/><circle cx="761.0" cy="959.8" r="3"/><circle cx="745.4" cy="965.7" r="3"/><circle cx="724.0" cy="971.3" r="3"/><circle cx="724.7" cy="982.3" r="3"/><circle cx="717.4" cy="982.7" r="3"/><circle cx="729.8" cy="974.3" r="3"/><circle cx="736.4" cy="965.8" r="3"/><circle cx="704.4" cy="976.2" r="3"/><circle cx="704.4" cy="992.4" r="3"/><circle cx="704.4" cy="984.8" r="3"/><circle cx="710.6" cy="988.3" r="3"/><circle cx="705.0" cy="981.1" r="3"/><circle cx="745.8" cy="971.3" r="3"/><circle cx="731.7" cy="965.7" r="3"/><circle cx="704.4" cy="982.2" r="3"/><circle cx="706.0" cy="986.5" r="3"/><circle cx="710.5" cy="975.1" r="3"/><circle cx="704.4" cy="984.7" r="3"/><circle cx="718.2" cy="977.1" r="3"/><circle cx="772.7" cy="959.5" r="3"/><circle cx="790.8" cy="954.5" r="3"/><circle cx="824.8" cy="931.5" r="3"/><circle cx="793.5" cy="946.1" r="3"/><circle cx="816.7" cy="927.0" r="3"/><circle cx="764.2" cy="950.0" r="3"/><circle cx="759.6" cy="956.7" r="3"/><circle cx="835.3" cy="902.4" r="3"/><circle cx="864.0" cy="883.3" r="3"/><circle cx="843.9" cy="916.7" r="3"/><circle cx="842.4" cy="921.0" r="3"/><circle cx="830.5" cy="928.1" r="3"/><circle cx="851.4" cy="905.2" r="3"/><circle cx="796.2" cy="929.7" r="3"/><circle cx="737.7" cy="969.5" r="3"/><circle cx="716.9" cy="977.9" r="3"/><circle cx="735.6" cy="972.6" r="3"/><circle cx="726.3" cy="974.3" r="3"/><circle cx="788.6" cy="944.1" r="3"/><circle cx="839.1" cy="925.8" r="3"/><circle cx="822.8" cy="926.0" r="3"/><circle cx="756.7" cy="959.9" r="3"/><circle cx="799.2" cy="930.0" r="3"/><circle cx="846.2" cy="889.1" r="3"/><circle cx="856.4" cy="889.1" r="3"/><circle cx="837.9" cy="904.2" r="3"/><circle cx="856.5" cy="895.4" r="3"/><circle cx="871.2" cy="878.5" r="3"/><circle cx="818.5" cy="916.0" r="3"/><circle cx="790.3" cy="933.0" r="3"/><circle cx="794.6" cy="937.8" r="3"/><circle cx="787.0" cy="928.0" r="3"/><circle cx="782.7" cy="936.0" r="3"/><circle cx="811.7" cy="934.8" r="3"/><circle cx="760.5" cy="952.8" r="3"/><circle cx="749.8" cy="957.9" r="3"/><circle cx="730.3" cy="967.6" r="3"/><circle cx="704.4" cy="984.9" r="3"/><circle cx="708.8" cy="979.1" r="3"/><circle cx="762.9" cy="952.1" r="3"/><circle cx="731.9" cy="974.2" r="3"/><circle cx="704.4" cy="972.2" r="3"/><circle cx="735.5" cy="960.5" r="3"/><circle cx="704.4" cy="980.6" r="3"/><circle cx="708.1" cy="986.2" r="3"/><circle cx="704.4" cy="1001.0" r="3"/><circle cx="729.5" cy="976.4" r="3"/><circle cx="800.9" cy="917.3" r="3"/><circle cx="833.1" cy="873.0" r="3"/><circle cx="839.2" cy="897.6" r="3"/><circle cx="834.5" cy="893.5" r="3"/><circle cx="821.5" cy="906.7" r="3"/><circle cx="811.9" cy="912.6" r="3"/><circle cx="847.1" cy="881.2" r="3"/><circle cx="772.7" cy="943.1" r="3"/><circle cx="800.0" cy="920.1" r="3"/><circle cx="780.0" cy="936.3" r="3"/><circle cx="850.9" cy="891.1" r="3"/><circle cx="825.0" cy="900.9" r="3"/><circle cx="779.3" cy="930.5" r="3"/><circle cx="780.5" cy="942.1" r="3"/><circle cx="796.9" cy="921.4" r="3"/><circle cx="784.4" cy="930.5" r="3"/><circle cx="789.0" cy="923.1" r="3"/><circle cx="766.1" cy="943.0" r="3"/><circle cx="718.9" cy="969.1" r="3"/><circle cx="736.7" cy="967.5" r="3"/><circle cx="784.8" cy="942.6" r="3"/><circle cx="760.1" cy="945.1" r="3"/><circle cx="765.9" cy="948.5" r="3"/><circle cx="802.2" cy="924.8" r="3"/><circle cx="765.3" cy="943.7" r="3"/><circle cx="750.0" cy="952.4" r="3"/><circle cx="728.2" cy="965.4" r="3"/><circle cx="753.5" cy="930.7" r="3"/><circle cx="714.1" cy="972.9" r="3"/><circle cx="748.6" cy="946.9" r="3"/><circle cx="759.9" cy="948.7" r="3"/><circle cx="712.8" cy="978.8" r="3"/><circle cx="783.2" cy="937.8" r="3"/><circle cx="769.6" cy="942.1" r="3"/><circle cx="749.3" cy="980.9" r="3"/><circle cx="746.6" cy="976.9" r="3"/><circle cx="771.2" cy="952.0" r="3"/><circle cx="812.3" cy="924.7" r="3"/><circle cx="772.8" cy="941.0" r="3"/><circle cx="787.1" cy="920.0" r="3"/><circle cx="821.5" cy="912.6" r="3"/><circle cx="777.9" cy="928.6" r="3"/><circle cx="785.8" cy="926.5" r="3"/><circle cx="784.3" cy="924.3" r="3"/><circle cx="753.3" cy="944.8" r="3"/><circle cx="755.4" cy="950.0" r="3"/><circle cx="763.6" cy="940.4" r="3"/><circle cx="755.9" cy="939.8" r="3"/><circle cx="752.9" cy="952.9" r="3"/><circle cx="735.5" cy="962.2" r="3"/><circle cx="773.9" cy="922.7" r="3"/><circle cx="787.7" cy="916.7" r="3"/><circle cx="811.1" cy="900.9" r="3"/><circle cx="839.1" cy="881.0" r="3"/><circle cx="858.1" cy="867.3" r="3"/><circle cx="916.2" cy="811.5" r="3"/><circle cx="869.8" cy="866.7" r="3"/><circle cx="875.6" cy="853.9" r="3"/><circle cx="858.4" cy="872.4" r="3"/><circle cx="865.0" cy="856.7" r="3"/><circle cx="888.0" cy="813.7" r="3"/><circle cx="810.4" cy="883.1" r="3"/><circle cx="807.6" cy="897.1" r="3"/><circle cx="809.6" cy="892.6" r="3"/><circle cx="827.1" cy="880.5" r="3"/><circle cx="855.1" cy="865.1" r="3"/><circle cx="839.2" cy="871.5" r="3"/><circle cx="827.5" cy="871.0" r="3"/><circle cx="839.1" cy="858.5" r="3"/><circle cx="826.0" cy="876.3" r="3"/><circle cx="868.9" cy="850.3" r="3"/><circle cx="811.1" cy="904.1" r="3"/><circle cx="831.8" cy="877.5" r="3"/><circle cx="793.7" cy="909.0" r="3"/><circle cx="815.5" cy="884.1" r="3"/><circle cx="827.7" cy="882.8" r="3"/><circle cx="836.1" cy="902.3" r="3"/><circle cx="835.4" cy="883.3" r="3"/><circle cx="799.8" cy="904.4" r="3"/><circle cx="757.2" cy="926.0" r="3"/><circle cx="726.1" cy="948.5" r="3"/><circle cx="738.7" cy="933.6" r="3"/><circle cx="789.9" cy="907.0" r="3"/><circle cx="848.2" cy="874.2" r="3"/><circle cx="847.0" cy="879.0" r="3"/><circle cx="872.9" cy="859.4" r="3"/><circle cx="891.2" cy="850.6" r="3"/><circle cx="873.0" cy="862.5" r="3"/><circle cx="881.7" cy="835.1" r="3"/><circle cx="911.7" cy="813.3" r="3"/><circle cx="880.6" cy="838.6" r="3"/><circle cx="878.8" cy="831.5" r="3"/><circle cx="887.7" cy="835.0" r="3"/><circle cx="886.0" cy="837.9" r="3"/><circle cx="880.3" cy="848.0" r="3"/><circle cx="924.2" cy="818.3" r="3"/><circle cx="876.1" cy="848.7" r="3"/><circle cx="891.9" cy="821.5" r="3"/><circle cx="859.5" cy="845.0" r="3"/><circle cx="876.2" cy="833.2" r="3"/><circle cx="904.3" cy="819.1" r="3"/><circle cx="864.9" cy="840.0" r="3"/><circle cx="945.7" cy="790.5" r="3"/><circle cx="936.6" cy="790.9" r="3"/><circle cx="979.9" cy="756.7" r="3"/><circle cx="1008.8" cy="744.0" r="3"/><circle cx="939.1" cy="783.4" r="3"/><circle cx="904.2" cy="798.3" r="3"/><circle cx="934.7" cy="782.3" r="3"/><circle cx="932.5" cy="791.0" r="3"/><circle cx="929.7" cy="791.4" r="3"/><circle cx="905.2" cy="816.8" r="3"/><circle cx="844.2" cy="852.4" r="3"/><circle cx="869.2" cy="848.5" r="3"/><circle cx="836.7" cy="888.4" r="3"/><circle cx="851.5" cy="867.6" r="3"/><circle cx="863.3" cy="862.6" r="3"/><circle cx="856.8" cy="872.9" r="3"/><circle cx="868.0" cy="863.6" r="3"/><circle cx="884.6" cy="845.1" r="3"/><circle cx="847.9" cy="864.6" r="3"/><circle cx="825.2" cy="898.9" r="3"/><circle cx="818.4" cy="893.5" r="3"/><circle cx="794.6" cy="924.3" r="3"/><circle cx="806.3" cy="922.4" r="3"/><circle cx="859.8" cy="861.0" r="3"/><circle cx="846.3" cy="868.9" r="3"/><circle cx="874.6" cy="834.8" r="3"/><circle cx="846.2" cy="857.1" r="3"/><circle cx="878.0" cy="839.7" r="3"/><circle cx="896.9" cy="833.5" r="3"/><circle cx="894.8" cy="830.0" r="3"/><circle cx="936.1" cy="801.0" r="3"/><circle cx="976.6" cy="764.9" r="3"/><circle cx="936.5" cy="778.6" r="3"/><circle cx="984.8" cy="757.3" r="3"/><circle cx="952.9" cy="791.9" r="3"/><circle cx="944.9" cy="785.5" r="3"/><circle cx="933.2" cy="786.0" r="3"/><circle cx="958.0" cy="771.1" r="3"/><circle cx="976.6" cy="755.7" r="3"/><circle cx="1020.8" cy="728.8" r="3"/><circle cx="937.7" cy="798.2" r="3"/><circle cx="943.7" cy="789.5" r="3"/><circle cx="954.3" cy="772.9" r="3"/><circle cx="980.8" cy="767.4" r="3"/><circle cx="950.2" cy="805.2" r="3"/><circle cx="926.5" cy="815.4" r="3"/><circle cx="915.8" cy="827.2" r="3"/><circle cx="912.8" cy="817.2" r="3"/><circle cx="987.2" cy="753.9" r="3"/><circle cx="1004.7" cy="744.1" r="3"/><circle cx="980.1" cy="761.7" r="3"/><circle cx="926.7" cy="775.7" r="3"/><circle cx="905.2" cy="806.6" r="3"/><circle cx="978.1" cy="759.0" r="3"/><circle cx="959.1" cy="791.0" r="3"/><circle cx="953.2" cy="784.6" r="3"/><circle cx="951.0" cy="771.5" r="3"/><circle cx="976.6" cy="755.2" r="3"/><circle cx="975.8" cy="758.5" r="3"/><circle cx="943.2" cy="788.8" r="3"/><circle cx="899.5" cy="827.1" r="3"/><circle cx="909.2" cy="823.0" r="3"/><circle cx="856.5" cy="869.6" r="3"/><circle cx="885.9" cy="839.7" r="3"/><circle cx="913.6" cy="814.5" r="3"/><circle cx="907.5" cy="804.4" r="3"/><circle cx="986.5" cy="752.5" r="3"/><circle cx="1040.8" cy="718.3" r="3"/><circle cx="992.1" cy="761.4" r="3"/><circle cx="1023.9" cy="736.9" r="3"/><circle cx="1062.6" cy="705.3" r="3"/><circle cx="1013.6" cy="727.8" r="3"/><circle cx="997.5" cy="746.0" r="3"/><circle cx="1015.9" cy="736.9" r="3"/><circle cx="960.1" cy="780.2" r="3"/><circle cx="1037.9" cy="729.1" r="3"/><circle cx="967.6" cy="782.5" r="3"/><circle cx="959.4" cy="807.6" r="3"/><circle cx="959.8" cy="791.5" r="3"/><circle cx="946.7" cy="793.4" r="3"/><circle cx="970.9" cy="767.3" r="3"/><circle cx="966.2" cy="759.8" r="3"/><circle cx="960.8" cy="765.8" r="3"/><circle cx="980.2" cy="747.1" r="3"/><circle cx="927.5" cy="791.7" r="3"/><circle cx="934.7" cy="792.5" r="3"/><circle cx="933.5" cy="795.8" r="3"/><circle cx="934.7" cy="792.8" r="3"/><circle cx="938.7" cy="789.0" r="3"/><circle cx="952.4" cy="797.1" r="3"/><circle cx="951.0" cy="808.2" r="3"/><circle cx="971.6" cy="792.0" r="3"/><circle cx="1005.7" cy="770.5" r="3"/><circle cx="973.2" cy="796.3" r="3"/><circle cx="1036.4" cy="746.7" r="3"/><circle cx="1021.6" cy="754.0" r="3"/><circle cx="1005.1" cy="751.5" r="3"/><circle cx="1045.5" cy="730.4" r="3"/><circle cx="1008.1" cy="741.6" r="3"/><circle cx="981.4" cy="764.2" r="3"/><circle cx="985.6" cy="778.5" r="3"/><circle cx="1015.8" cy="759.2" r="3"/><circle cx="993.5" cy="776.8" r="3"/><circle cx="999.8" cy="774.8" r="3"/><circle cx="932.7" cy="816.7" r="3"/><circle cx="930.5" cy="821.9" r="3"/><circle cx="908.1" cy="821.3" r="3"/><circle cx="889.1" cy="829.4" r="3"/><circle cx="956.1" cy="798.0" r="3"/><circle cx="951.3" cy="807.2" r="3"/><circle cx="982.0" cy="770.5" r="3"/><circle cx="984.0" cy="767.3" r="3"/><circle cx="983.7" cy="771.0" r="3"/><circle cx="978.8" cy="777.1" r="3"/><circle cx="978.0" cy="782.6" r="3"/><circle cx="989.1" cy="778.1" r="3"/><circle cx="951.6" cy="801.3" r="3"/><circle cx="976.1" cy="780.7" r="3"/><circle cx="983.4" cy="782.9" r="3"/><circle cx="986.5" cy="795.7" r="3"/><circle cx="954.6" cy="812.1" r="3"/><circle cx="924.7" cy="837.8" r="3"/><circle cx="970.9" cy="818.8" r="3"/><circle cx="936.7" cy="836.8" r="3"/><circle cx="971.6" cy="809.9" r="3"/><circle cx="947.8" cy="821.2" r="3"/><circle cx="885.7" cy="877.1" r="3"/><circle cx="854.9" cy="890.0" r="3"/><circle cx="834.6" cy="920.6" r="3"/><circle cx="856.9" cy="883.3" r="3"/><circle cx="879.3" cy="865.7" r="3"/><circle cx="894.4" cy="832.3" r="3"/><circle cx="873.6" cy="858.3" r="3"/><circle cx="871.0" cy="868.0" r="3"/><circle cx="926.0" cy="830.1" r="3"/><circle cx="917.3" cy="817.8" r="3"/><circle cx="909.7" cy="817.2" r="3"/><circle cx="947.2" cy="790.9" r="3"/><circle cx="1008.2" cy="751.1" r="3"/><circle cx="1028.5" cy="742.1" r="3"/><circle cx="1028.6" cy="744.5" r="3"/><circle cx="1014.5" cy="752.8" r="3"/><circle cx="1016.4" cy="759.2" r="3"/><circle cx="974.6" cy="795.5" r="3"/><circle cx="935.6" cy="823.2" r="3"/><circle cx="934.6" cy="827.6" r="3"/><circle cx="916.7" cy="848.0" r="3"/><circle cx="886.0" cy="862.2" r="3"/><circle cx="884.5" cy="850.0" r="3"/><circle cx="942.6" cy="798.0" r="3"/><circle cx="905.2" cy="835.3" r="3"/><circle cx="908.3" cy="834.7" r="3"/><circle cx="904.0" cy="844.0" r="3"/><circle cx="909.1" cy="840.1" r="3"/><circle cx="932.0" cy="815.5" r="3"/><circle cx="911.5" cy="848.2" r="3"/><circle cx="908.3" cy="863.7" r="3"/><circle cx="869.7" cy="899.6" r="3"/><circle cx="851.0" cy="916.1" r="3"/><circle cx="867.8" cy="890.3" r="3"/><circle cx="842.9" cy="901.7" r="3"/><circle cx="814.7" cy="926.3" r="3"/><circle cx="840.6" cy="917.5" r="3"/><circle cx="861.1" cy="909.3" r="3"/><circle cx="904.0" cy="882.2" r="3"/><circle cx="865.5" cy="905.2" r="3"/><circle cx="834.4" cy="917.9" r="3"/><circle cx="801.1" cy="944.2" r="3"/><circle cx="737.0" cy="975.5" r="3"/><circle cx="824.8" cy="926.0" r="3"/><circle cx="781.4" cy="946.7" r="3"/><circle cx="756.8" cy="957.9" r="3"/><circle cx="804.8" cy="938.1" r="3"/><circle cx="803.2" cy="940.8" r="3"/><circle cx="798.5" cy="941.8" r="3"/><circle cx="779.2" cy="945.1" r="3"/><circle cx="801.4" cy="932.2" r="3"/><circle cx="778.4" cy="943.9" r="3"/><circle cx="704.4" cy="982.2" r="3"/><circle cx="758.0" cy="955.5" r="3"/><circle cx="739.2" cy="972.1" r="3"/><circle cx="734.9" cy="972.5" r="3"/><circle cx="770.6" cy="958.4" r="3"/><circle cx="804.0" cy="937.1" r="3"/><circle cx="837.1" cy="919.1" r="3"/><circle cx="835.4" cy="917.5" r="3"/><circle cx="867.6" cy="901.8" r="3"/><circle cx="881.3" cy="879.9" r="3"/><circle cx="903.6" cy="863.6" r="3"/><circle cx="903.5" cy="839.8" r="3"/><circle cx="890.3" cy="863.6" r="3"/><circle cx="864.8" cy="879.0" r="3"/><circle cx="834.5" cy="882.6" r="3"/><circle cx="793.5" cy="914.8" r="3"/><circle cx="813.8" cy="902.3" r="3"/><circle cx="794.2" cy="936.9" r="3"/><circle cx="773.3" cy="942.7" r="3"/><circle cx="705.5" cy="975.0" r="3"/><circle cx="724.5" cy="965.1" r="3"/><circle cx="704.4" cy="973.1" r="3"/><circle cx="748.1" cy="965.4" r="3"/><circle cx="821.3" cy="926.5" r="3"/><circle cx="794.9" cy="942.7" r="3"/><circle cx="780.9" cy="946.3" r="3"/><circle cx="751.3" cy="960.3" r="3"/><circle cx="759.4" cy="950.8" r="3"/><circle cx="765.1" cy="949.7" r="3"/><circle cx="807.6" cy="918.9" r="3"/><circle cx="824.5" cy="896.4" r="3"/><circle cx="830.4" cy="907.4" r="3"/><circle cx="763.8" cy="959.0" r="3"/><circle cx="716.3" cy="985.8" r="3"/><circle cx="704.4" cy="986.7" r="3"/><circle cx="704.4" cy="987.8" r="3"/><circle cx="719.0" cy="979.1" r="3"/><circle cx="731.5" cy="973.9" r="3"/><circle cx="729.0" cy="978.5" r="3"/><circle cx="707.3" cy="985.9" r="3"/><circle cx="783.5" cy="953.5" r="3"/><circle cx="761.8" cy="963.5" r="3"/><circle cx="718.0" cy="970.1" r="3"/><circle cx="711.6" cy="976.5" r="3"/><circle cx="741.6" cy="963.9" r="3"/><circle cx="774.3" cy="944.1" r="3"/><circle cx="794.8" cy="928.3" r="3"/><circle cx="850.6" cy="900.9" r="3"/><circle cx="829.6" cy="899.1" r="3"/><circle cx="883.5" cy="857.6" r="3"/><circle cx="880.2" cy="867.8" r="3"/><circle cx="791.1" cy="930.3" r="3"/><circle cx="763.9" cy="946.8" r="3"/><circle cx="780.9" cy="934.3" r="3"/><circle cx="739.0" cy="963.8" r="3"/><circle cx="778.9" cy="938.4" r="3"/><circle cx="788.9" cy="942.5" r="3"/><circle cx="744.2" cy="974.2" r="3"/><circle cx="786.6" cy="942.0" r="3"/><circle cx="802.0" cy="922.5" r="3"/><circle cx="783.7" cy="937.8" r="3"/><circle cx="795.3" cy="915.3" r="3"/><circle cx="820.0" cy="906.0" r="3"/><circle cx="820.0" cy="913.3" r="3"/><circle cx="728.9" cy="970.9" r="3"/><circle cx="704.4" cy="991.5" r="3"/><circle cx="751.4" cy="967.2" r="3"/><circle cx="733.4" cy="978.5" r="3"/><circle cx="733.0" cy="959.2" r="3"/><circle cx="729.6" cy="975.0" r="3"/><circle cx="729.2" cy="969.4" r="3"/><circle cx="732.9" cy="986.3" r="3"/><circle cx="753.9" cy="956.4" r="3"/><circle cx="747.7" cy="958.9" r="3"/><circle cx="724.3" cy="977.4" r="3"/><circle cx="704.4" cy="997.2" r="3"/><circle cx="723.3" cy="959.9" r="3"/><circle cx="730.1" cy="974.4" r="3"/><circle cx="739.4" cy="960.9" r="3"/><circle cx="704.4" cy="971.5" r="3"/><circle cx="738.7" cy="961.3" r="3"/><circle cx="704.4" cy="998.2" r="3"/><circle cx="775.3" cy="950.8" r="3"/><circle cx="719.5" cy="977.8" r="3"/><circle cx="726.7" cy="970.9" r="3"/><circle cx="714.8" cy="976.3" r="3"/><circle cx="802.8" cy="914.9" r="3"/><circle cx="793.0" cy="941.4" r="3"/><circle cx="835.8" cy="902.9" r="3"/><circle cx="782.2" cy="921.6" r="3"/><circle cx="781.0" cy="938.3" r="3"/><circle cx="793.5" cy="924.1" r="3"/><circle cx="818.4" cy="897.8" r="3"/><circle cx="816.5" cy="891.9" r="3"/><circle cx="802.6" cy="900.3" r="3"/><circle cx="779.9" cy="913.9" r="3"/><circle cx="738.4" cy="939.7" r="3"/><circle cx="750.6" cy="933.8" r="3"/><circle cx="759.2" cy="929.7" r="3"/><circle cx="794.7" cy="910.3" r="3"/><circle cx="801.7" cy="909.6" r="3"/><circle cx="835.0" cy="891.4" r="3"/><circle cx="845.6" cy="868.3" r="3"/><circle cx="869.2" cy="878.2" r="3"/><circle cx="791.4" cy="926.2" r="3"/><circle cx="751.6" cy="962.7" r="3"/><circle cx="704.4" cy="991.4" r="3"/><circle cx="761.1" cy="955.2" r="3"/><circle cx="708.6" cy="979.7" r="3"/><circle cx="749.3" cy="939.4" r="3"/><circle cx="771.9" cy="931.5" r="3"/><circle cx="803.7" cy="894.6" r="3"/><circle cx="818.3" cy="880.4" r="3"/><circle cx="810.2" cy="902.7" r="3"/><circle cx="794.6" cy="916.6" r="3"/><circle cx="780.0" cy="914.9" r="3"/><circle cx="813.1" cy="915.4" r="3"/><circle cx="792.5" cy="937.9" r="3"/><circle cx="791.8" cy="932.1" r="3"/><circle cx="805.2" cy="901.0" r="3"/><circle cx="758.0" cy="953.5" r="3"/><circle cx="774.3" cy="938.8" r="3"/><circle cx="766.3" cy="947.4" r="3"/><circle cx="746.6" cy="953.9" r="3"/><circle cx="782.2" cy="919.9" r="3"/><circle cx="784.6" cy="921.0" r="3"/><circle cx="819.4" cy="902.7" r="3"/><circle cx="762.7" cy="958.8" r="3"/><circle cx="810.8" cy="909.3" r="3"/><circle cx="751.7" cy="937.3" r="3"/><circle cx="780.2" cy="922.6" r="3"/><circle cx="797.1" cy="919.1" r="3"/><circle cx="711.1" cy="985.0" r="3"/><circle cx="713.5" cy="974.4" r="3"/><circle cx="750.7" cy="967.0" r="3"/><circle cx="808.3" cy="913.2" r="3"/><circle cx="789.3" cy="919.1" r="3"/><circle cx="778.2" cy="915.9" r="3"/><circle cx="760.7" cy="937.9" r="3"/><circle cx="810.3" cy="899.3" r="3"/><circle cx="860.4" cy="856.7" r="3"/><circle cx="827.8" cy="879.8" r="3"/><circle cx="831.9" cy="877.8" r="3"/><circle cx="777.6" cy="923.7" r="3"/><circle cx="816.3" cy="890.5" r="3"/><circle cx="862.7" cy="848.7" r="3"/><circle cx="888.0" cy="834.8" r="3"/><circle cx="890.9" cy="821.9" r="3"/><circle cx="873.6" cy="833.9" r="3"/><circle cx="839.1" cy="865.6" r="3"/><circle cx="889.6" cy="829.4" r="3"/><circle cx="837.1" cy="879.8" r="3"/><circle cx="823.9" cy="889.3" r="3"/><circle cx="866.5" cy="873.3" r="3"/><circle cx="869.2" cy="853.9" r="3"/><circle cx="878.5" cy="849.3" r="3"/><circle cx="884.1" cy="857.8" r="3"/><circle cx="841.1" cy="876.2" r="3"/><circle cx="826.1" cy="899.3" r="3"/><circle cx="816.6" cy="903.3" r="3"/><circle cx="802.9" cy="915.4" r="3"/><circle cx="803.1" cy="927.1" r="3"/><circle cx="786.5" cy="938.3" r="3"/><circle cx="741.5" cy="951.4" r="3"/><circle cx="704.4" cy="987.0" r="3"/><circle cx="714.2" cy="980.5" r="3"/><circle cx="704.4" cy="981.5" r="3"/><circle cx="736.0" cy="960.7" r="3"/><circle cx="769.0" cy="922.9" r="3"/><circle cx="856.1" cy="866.1" r="3"/><circle cx="827.5" cy="900.6" r="3"/><circle cx="819.4" cy="900.3" r="3"/><circle cx="846.8" cy="875.1" r="3"/><circle cx="841.1" cy="868.5" r="3"/><circle cx="826.5" cy="874.3" r="3"/><circle cx="899.1" cy="806.4" r="3"/><circle cx="884.4" cy="829.0" r="3"/><circle cx="843.6" cy="866.7" r="3"/><circle cx="821.4" cy="892.5" r="3"/><circle cx="863.9" cy="870.1" r="3"/><circle cx="852.3" cy="863.7" r="3"/><circle cx="848.3" cy="884.3" r="3"/><circle cx="840.9" cy="896.5" r="3"/><circle cx="868.2" cy="860.0" r="3"/><circle cx="866.9" cy="847.0" r="3"/><circle cx="851.7" cy="859.9" r="3"/><circle cx="881.8" cy="842.4" r="3"/><circle cx="873.5" cy="825.3" r="3"/><circle cx="859.2" cy="859.1" r="3"/><circle cx="841.5" cy="858.8" r="3"/><circle cx="889.4" cy="831.8" r="3"/><circle cx="866.0" cy="851.6" r="3"/><circle cx="827.2" cy="882.6" r="3"/><circle cx="831.0" cy="878.8" r="3"/><circle cx="869.6" cy="849.1" r="3"/><circle cx="897.0" cy="817.9" r="3"/><circle cx="847.8" cy="864.2" r="3"/><circle cx="953.7" cy="780.5" r="3"/><circle cx="905.5" cy="806.0" r="3"/><circle cx="927.7" cy="789.6" r="3"/><circle cx="965.3" cy="759.7" r="3"/><circle cx="989.5" cy="752.2" r="3"/><circle cx="973.3" cy="758.7" r="3"/><circle cx="913.6" cy="796.0" r="3"/><circle cx="943.8" cy="771.9" r="3"/><circle cx="918.5" cy="796.3" r="3"/><circle cx="851.2" cy="857.8" r="3"/><circle cx="944.6" cy="781.0" r="3"/><circle cx="964.9" cy="761.8" r="3"/><circle cx="1024.4" cy="727.0" r="3"/><circle cx="955.7" cy="768.3" r="3"/><circle cx="1013.1" cy="723.1" r="3"/><circle cx="1039.0" cy="707.4" r="3"/><circle cx="1051.9" cy="699.8" r="3"/><circle cx="995.3" cy="746.1" r="3"/><circle cx="979.2" cy="764.4" r="3"/><circle cx="912.6" cy="815.4" r="3"/><circle cx="874.3" cy="858.6" r="3"/><circle cx="898.2" cy="840.2" r="3"/><circle cx="878.5" cy="863.4" r="3"/><circle cx="899.8" cy="830.9" r="3"/><circle cx="883.5" cy="842.9" r="3"/><circle cx="955.7" cy="771.5" r="3"/><circle cx="965.7" cy="752.7" r="3"/><circle cx="959.8" cy="761.3" r="3"/><circle cx="1010.3" cy="733.2" r="3"/><circle cx="976.2" cy="757.6" r="3"/><circle cx="958.2" cy="766.9" r="3"/><circle cx="985.1" cy="739.6" r="3"/><circle cx="938.7" cy="782.8" r="3"/><circle cx="935.0" cy="784.1" r="3"/><circle cx="909.1" cy="821.8" r="3"/><circle cx="938.6" cy="802.0" r="3"/><circle cx="997.1" cy="761.9" r="3"/><circle cx="955.3" cy="785.8" r="3"/><circle cx="976.4" cy="776.6" r="3"/><circle cx="949.1" cy="796.8" r="3"/><circle cx="920.5" cy="817.1" r="3"/><circle cx="911.5" cy="835.3" r="3"/><circle cx="965.6" cy="795.0" r="3"/><circle cx="1016.2" cy="738.5" r="3"/><circle cx="1027.3" cy="725.3" r="3"/><circle cx="962.2" cy="766.7" r="3"/><circle cx="991.1" cy="746.7" r="3"/><circle cx="981.9" cy="745.9" r="3"/><circle cx="967.7" cy="759.1" r="3"/><circle cx="1007.4" cy="745.2" r="3"/><circle cx="1013.1" cy="735.9" r="3"/><circle cx="1001.7" cy="743.8" r="3"/><circle cx="1026.4" cy="736.6" r="3"/><circle cx="970.0" cy="784.2" r="3"/><circle cx="945.4" cy="798.0" r="3"/><circle cx="964.4" cy="800.2" r="3"/><circle cx="923.1" cy="829.5" r="3"/><circle cx="937.1" cy="827.8" r="3"/><circle cx="912.3" cy="835.1" r="3"/><circle cx="908.7" cy="828.1" r="3"/><circle cx="960.1" cy="796.3" r="3"/><circle cx="924.6" cy="836.1" r="3"/><circle cx="921.3" cy="838.0" r="3"/><circle cx="917.4" cy="838.6" r="3"/><circle cx="941.0" cy="821.1" r="3"/><circle cx="985.7" cy="768.7" r="3"/><circle cx="1013.9" cy="747.0" r="3"/><circle cx="999.4" cy="770.3" r="3"/><circle cx="1052.6" cy="722.4" r="3"/><circle cx="995.0" cy="771.6" r="3"/><circle cx="1018.3" cy="749.7" r="3"/><circle cx="987.5" cy="762.2" r="3"/><circle cx="918.9" cy="833.8" r="3"/><circle cx="998.4" cy="761.5" r="3"/><circle cx="1050.6" cy="724.1" r="3"/><circle cx="997.7" cy="763.6" r="3"/><circle cx="995.7" cy="752.3" r="3"/><circle cx="960.1" cy="772.2" r="3"/><circle cx="1149.6" cy="603.7" r="3"/><circle cx="1132.3" cy="624.2" r="3"/><circle cx="1133.8" cy="634.9" r="3"/><circle cx="1071.9" cy="662.8" r="3"/><circle cx="1069.4" cy="665.7" r="3"/><circle cx="1091.9" cy="679.2" r="3"/><circle cx="1052.6" cy="684.7" r="3"/><circle cx="1090.6" cy="700.4" r="3"/><circle cx="1070.6" cy="690.6" r="3"/><circle cx="1071.6" cy="693.6" r="3"/><circle cx="1052.9" cy="696.2" r="3"/><circle cx="1058.9" cy="699.1" r="3"/><circle cx="1030.4" cy="702.4" r="3"/><circle cx="1044.8" cy="704.6" r="3"/><circle cx="1073.2" cy="721.6" r="3"/><circle cx="1071.0" cy="726.2" r="3"/><circle cx="1061.8" cy="725.0" r="3"/><circle cx="1061.8" cy="732.9" r="3"/><circle cx="1052.6" cy="742.3" r="3"/><circle cx="1042.2" cy="748.9" r="3"/><circle cx="1046.1" cy="753.8" r="3"/>
</g>
<path d="M704.4 994.9L1159 631.9" stroke="#fff" stroke-width="5.6" fill="none"/>
<path d="M704.4 994.9L1159 631.9" stroke="#000" stroke-width="3.6" fill="none"/>
</g>
<text transform="translate(1048.12 952.95) scale(1.0108 1)" font-size="27.3">= 0.972</text>
<text transform="translate(1031.49 940.35) scale(1.0365 1)" font-size="17.6">2</text>
<text transform="translate(1014.27 952.95) scale(0.7659 1)" font-size="27.3" font-style="italic">R</text>
<text transform="translate(917.73 981.95) scale(0.9482 1)" font-size="27.3">RMSE = 4.917 GW</text>
<g stroke="#1a1a1a" stroke-width="1.5" fill="none">
<rect x="1301.05" y="595.85" width="454.45" height="411"/>
<path d="M1301.05 978.35h8.6M1301.05 917.65h8.6M1301.05 856.95h8.6M1301.05 796.25h8.6M1301.05 735.55h8.6M1301.05 674.85h8.6M1301.05 614.15h8.6M1426.55 1006.85v-8.6M1552.05 1006.85v-8.6M1677.55 1006.85v-8.6" stroke-width="1.3"/>
</g>
<text transform="translate(1260.63 985.47) scale(1.1071 1)" font-size="23">20</text>
<text transform="translate(1259.64 924.75) scale(1.1470 1)" font-size="23">40</text>
<text transform="translate(1259.26 864.03) scale(1.1622 1)" font-size="23">60</text>
<text transform="translate(1259.72 803.31) scale(1.1439 1)" font-size="23">80</text>
<text transform="translate(1247.12 742.59) scale(1.0905 1)" font-size="23">100</text>
<text transform="translate(1250.47 681.87) scale(1.0010 1)" font-size="23">120</text>
<text transform="translate(1249.43 621.15) scale(1.0289 1)" font-size="23">140</text>
<text transform="translate(1293.1 1037.15) scale(1.1991 1)" font-size="23">0</text>
<text transform="translate(1419.65 1037.15) scale(1.0343 1)" font-size="23">5</text>
<text transform="translate(1538.76 1037.15) scale(0.9826 1)" font-size="23">10</text>
<text transform="translate(1665.45 1037.15) scale(0.8958 1)" font-size="23">15</text>
<text transform="translate(1493.8 1078.25) scale(0.9481 1)" font-size="27.3">HDDs</text>
<text transform="translate(1230.6 965.09) rotate(-90) scale(1.0274 1)" font-size="27.3">Natural gas demand (GW)</text>
<text transform="translate(1207.21 594) scale(1.1266 1)" font-size="38" font-weight="700" stroke="#000" stroke-width="0.9">f</text>
<clipPath id="c5"><rect x="1301.05" y="595.85" width="454.45" height="411"/></clipPath>
<g clip-path="url(#c5)"><g fill="#444ed7" fill-opacity="0.3">
<circle cx="1580.0" cy="766.0" r="3"/><circle cx="1565.8" cy="768.1" r="3"/><circle cx="1551.3" cy="768.7" r="3"/><circle cx="1548.4" cy="779.6" r="3"/><circle cx="1549.0" cy="785.7" r="3"/><circle cx="1530.8" cy="794.9" r="3"/><circle cx="1541.1" cy="790.6" r="3"/><circle cx="1606.3" cy="736.6" r="3"/><circle cx="1555.5" cy="768.4" r="3"/><circle cx="1552.1" cy="774.3" r="3"/><circle cx="1550.4" cy="773.7" r="3"/><circle cx="1596.9" cy="760.9" r="3"/><circle cx="1606.5" cy="743.5" r="3"/><circle cx="1559.2" cy="783.1" r="3"/><circle cx="1581.2" cy="773.0" r="3"/><circle cx="1595.0" cy="760.8" r="3"/><circle cx="1552.2" cy="802.3" r="3"/><circle cx="1553.1" cy="805.9" r="3"/><circle cx="1515.6" cy="847.4" r="3"/><circle cx="1487.7" cy="866.1" r="3"/><circle cx="1467.0" cy="886.2" r="3"/><circle cx="1479.5" cy="872.9" r="3"/><circle cx="1437.4" cy="894.1" r="3"/><circle cx="1461.3" cy="871.6" r="3"/><circle cx="1500.9" cy="846.7" r="3"/><circle cx="1494.6" cy="843.9" r="3"/><circle cx="1434.6" cy="885.9" r="3"/><circle cx="1456.8" cy="869.4" r="3"/><circle cx="1462.7" cy="865.8" r="3"/><circle cx="1476.8" cy="855.6" r="3"/><circle cx="1455.9" cy="881.8" r="3"/><circle cx="1441.9" cy="882.5" r="3"/><circle cx="1428.7" cy="891.6" r="3"/><circle cx="1427.7" cy="895.5" r="3"/><circle cx="1482.0" cy="851.2" r="3"/><circle cx="1471.0" cy="862.6" r="3"/><circle cx="1476.4" cy="846.0" r="3"/><circle cx="1508.2" cy="825.9" r="3"/><circle cx="1514.1" cy="836.3" r="3"/><circle cx="1501.4" cy="842.0" r="3"/><circle cx="1519.7" cy="817.2" r="3"/><circle cx="1510.4" cy="821.5" r="3"/><circle cx="1495.8" cy="840.3" r="3"/><circle cx="1513.0" cy="839.2" r="3"/><circle cx="1535.5" cy="799.1" r="3"/><circle cx="1489.9" cy="849.6" r="3"/><circle cx="1523.2" cy="819.1" r="3"/><circle cx="1542.7" cy="803.9" r="3"/><circle cx="1498.4" cy="846.5" r="3"/><circle cx="1575.1" cy="783.0" r="3"/><circle cx="1598.1" cy="770.4" r="3"/><circle cx="1543.7" cy="817.1" r="3"/><circle cx="1542.5" cy="816.4" r="3"/><circle cx="1553.7" cy="803.0" r="3"/><circle cx="1500.0" cy="826.0" r="3"/><circle cx="1538.3" cy="807.0" r="3"/><circle cx="1508.2" cy="824.0" r="3"/><circle cx="1525.2" cy="812.7" r="3"/><circle cx="1562.9" cy="787.0" r="3"/><circle cx="1545.7" cy="812.5" r="3"/><circle cx="1539.9" cy="813.8" r="3"/><circle cx="1527.4" cy="830.0" r="3"/><circle cx="1502.5" cy="844.2" r="3"/><circle cx="1486.9" cy="852.9" r="3"/><circle cx="1477.5" cy="870.4" r="3"/><circle cx="1457.4" cy="874.5" r="3"/><circle cx="1479.6" cy="858.2" r="3"/><circle cx="1509.7" cy="832.1" r="3"/><circle cx="1468.0" cy="865.8" r="3"/><circle cx="1449.1" cy="885.6" r="3"/><circle cx="1442.3" cy="882.5" r="3"/><circle cx="1392.0" cy="913.9" r="3"/><circle cx="1410.6" cy="903.9" r="3"/><circle cx="1372.5" cy="931.6" r="3"/><circle cx="1428.5" cy="877.0" r="3"/><circle cx="1445.0" cy="866.7" r="3"/><circle cx="1437.8" cy="882.1" r="3"/><circle cx="1430.0" cy="882.9" r="3"/><circle cx="1406.8" cy="906.8" r="3"/><circle cx="1466.7" cy="862.3" r="3"/><circle cx="1472.7" cy="870.3" r="3"/><circle cx="1440.5" cy="892.8" r="3"/><circle cx="1451.8" cy="888.4" r="3"/><circle cx="1441.8" cy="891.3" r="3"/><circle cx="1446.2" cy="902.4" r="3"/><circle cx="1430.8" cy="916.1" r="3"/><circle cx="1391.1" cy="929.6" r="3"/><circle cx="1380.8" cy="925.0" r="3"/><circle cx="1403.6" cy="909.0" r="3"/><circle cx="1437.3" cy="883.5" r="3"/><circle cx="1449.6" cy="894.8" r="3"/><circle cx="1431.7" cy="900.9" r="3"/><circle cx="1439.7" cy="898.1" r="3"/><circle cx="1471.8" cy="885.5" r="3"/><circle cx="1465.8" cy="889.9" r="3"/><circle cx="1489.6" cy="870.0" r="3"/><circle cx="1404.1" cy="926.7" r="3"/><circle cx="1407.9" cy="919.5" r="3"/><circle cx="1351.1" cy="944.2" r="3"/><circle cx="1301.0" cy="982.0" r="3"/><circle cx="1321.4" cy="972.0" r="3"/><circle cx="1308.7" cy="969.2" r="3"/><circle cx="1301.0" cy="1001.3" r="3"/><circle cx="1395.7" cy="920.3" r="3"/><circle cx="1384.1" cy="932.6" r="3"/><circle cx="1357.0" cy="948.5" r="3"/><circle cx="1364.3" cy="946.6" r="3"/><circle cx="1381.1" cy="933.0" r="3"/><circle cx="1377.7" cy="938.8" r="3"/><circle cx="1355.7" cy="948.1" r="3"/><circle cx="1397.8" cy="913.7" r="3"/><circle cx="1420.2" cy="918.0" r="3"/><circle cx="1364.8" cy="954.3" r="3"/><circle cx="1364.9" cy="951.3" r="3"/><circle cx="1381.5" cy="941.4" r="3"/><circle cx="1330.7" cy="967.9" r="3"/><circle cx="1334.4" cy="961.1" r="3"/><circle cx="1301.0" cy="985.6" r="3"/><circle cx="1357.8" cy="949.8" r="3"/><circle cx="1338.9" cy="956.7" r="3"/><circle cx="1344.1" cy="953.2" r="3"/><circle cx="1340.0" cy="955.5" r="3"/><circle cx="1319.6" cy="961.6" r="3"/><circle cx="1301.0" cy="978.1" r="3"/><circle cx="1301.0" cy="979.9" r="3"/><circle cx="1317.9" cy="968.7" r="3"/><circle cx="1301.0" cy="984.3" r="3"/><circle cx="1319.2" cy="962.2" r="3"/><circle cx="1316.7" cy="975.4" r="3"/><circle cx="1307.8" cy="980.8" r="3"/><circle cx="1313.9" cy="973.8" r="3"/><circle cx="1312.6" cy="980.6" r="3"/><circle cx="1302.0" cy="981.8" r="3"/><circle cx="1328.6" cy="967.0" r="3"/><circle cx="1307.5" cy="977.9" r="3"/><circle cx="1360.0" cy="948.6" r="3"/><circle cx="1370.3" cy="943.0" r="3"/><circle cx="1343.1" cy="955.3" r="3"/><circle cx="1350.0" cy="963.0" r="3"/><circle cx="1319.5" cy="978.1" r="3"/><circle cx="1348.3" cy="955.6" r="3"/><circle cx="1331.5" cy="962.7" r="3"/><circle cx="1321.4" cy="966.1" r="3"/><circle cx="1301.0" cy="987.2" r="3"/><circle cx="1306.3" cy="972.6" r="3"/><circle cx="1301.0" cy="984.4" r="3"/><circle cx="1319.3" cy="974.2" r="3"/><circle cx="1313.9" cy="968.3" r="3"/><circle cx="1337.3" cy="960.2" r="3"/><circle cx="1333.9" cy="960.9" r="3"/><circle cx="1341.1" cy="962.1" r="3"/><circle cx="1301.9" cy="977.5" r="3"/><circle cx="1301.0" cy="988.0" r="3"/><circle cx="1301.0" cy="982.2" r="3"/><circle cx="1313.8" cy="970.7" r="3"/><circle cx="1301.0" cy="993.8" r="3"/><circle cx="1301.0" cy="987.8" r="3"/><circle cx="1301.0" cy="992.6" r="3"/><circle cx="1301.0" cy="986.9" r="3"/><circle cx="1301.0" cy="983.2" r="3"/><circle cx="1301.0" cy="979.6" r="3"/><circle cx="1303.1" cy="977.7" r="3"/><circle cx="1334.7" cy="960.5" r="3"/><circle cx="1301.0" cy="979.5" r="3"/><circle cx="1350.4" cy="957.7" r="3"/><circle cx="1302.8" cy="978.8" r="3"/><circle cx="1301.0" cy="976.0" r="3"/><circle cx="1307.0" cy="971.7" r="3"/><circle cx="1301.0" cy="994.8" r="3"/><circle cx="1301.0" cy="985.2" r="3"/><circle cx="1317.1" cy="979.2" r="3"/><circle cx="1304.1" cy="974.5" r="3"/><circle cx="1301.0" cy="986.4" r="3"/><circle cx="1301.0" cy="962.4" r="3"/><circle cx="1301.0" cy="987.0" r="3"/><circle cx="1315.7" cy="976.9" r="3"/><circle cx="1304.5" cy="987.7" r="3"/><circle cx="1301.0" cy="982.4" r="3"/><circle cx="1303.9" cy="980.7" r="3"/><circle cx="1301.0" cy="981.4" r="3"/><circle cx="1301.0" cy="984.9" r="3"/><circle cx="1301.0" cy="990.3" r="3"/><circle cx="1343.2" cy="953.9" r="3"/><circle cx="1304.6" cy="975.9" r="3"/><circle cx="1301.0" cy="977.4" r="3"/><circle cx="1322.3" cy="972.9" r="3"/><circle cx="1361.4" cy="943.6" r="3"/><circle cx="1387.5" cy="926.1" r="3"/><circle cx="1383.3" cy="926.1" r="3"/><circle cx="1361.9" cy="933.2" r="3"/><circle cx="1322.4" cy="970.2" r="3"/><circle cx="1363.7" cy="943.1" r="3"/><circle cx="1390.9" cy="929.6" r="3"/><circle cx="1356.1" cy="935.4" r="3"/><circle cx="1339.0" cy="939.3" r="3"/><circle cx="1370.8" cy="917.1" r="3"/><circle cx="1392.3" cy="904.7" r="3"/><circle cx="1418.5" cy="894.0" r="3"/><circle cx="1364.4" cy="928.7" r="3"/><circle cx="1425.9" cy="880.6" r="3"/><circle cx="1362.9" cy="930.3" r="3"/><circle cx="1384.3" cy="914.7" r="3"/><circle cx="1420.4" cy="909.0" r="3"/><circle cx="1442.1" cy="896.3" r="3"/><circle cx="1479.3" cy="858.7" r="3"/><circle cx="1472.6" cy="852.2" r="3"/><circle cx="1426.6" cy="896.0" r="3"/><circle cx="1365.8" cy="937.2" r="3"/><circle cx="1389.7" cy="919.6" r="3"/><circle cx="1358.3" cy="949.3" r="3"/><circle cx="1345.8" cy="949.6" r="3"/><circle cx="1380.8" cy="930.1" r="3"/><circle cx="1333.8" cy="966.8" r="3"/><circle cx="1301.0" cy="972.8" r="3"/><circle cx="1301.0" cy="981.6" r="3"/><circle cx="1322.7" cy="965.5" r="3"/><circle cx="1302.3" cy="970.6" r="3"/><circle cx="1323.8" cy="966.9" r="3"/><circle cx="1331.8" cy="969.6" r="3"/><circle cx="1301.0" cy="987.6" r="3"/><circle cx="1301.0" cy="992.0" r="3"/><circle cx="1301.0" cy="982.4" r="3"/><circle cx="1307.5" cy="976.6" r="3"/><circle cx="1301.0" cy="980.1" r="3"/><circle cx="1301.0" cy="980.5" r="3"/><circle cx="1340.8" cy="955.7" r="3"/><circle cx="1301.0" cy="983.6" r="3"/><circle cx="1302.7" cy="967.9" r="3"/><circle cx="1301.0" cy="989.0" r="3"/><circle cx="1301.0" cy="981.5" r="3"/><circle cx="1313.2" cy="974.9" r="3"/><circle cx="1309.1" cy="991.4" r="3"/><circle cx="1331.0" cy="965.0" r="3"/><circle cx="1357.4" cy="943.8" r="3"/><circle cx="1426.7" cy="884.1" r="3"/><circle cx="1378.6" cy="915.8" r="3"/><circle cx="1388.5" cy="891.9" r="3"/><circle cx="1376.5" cy="905.1" r="3"/><circle cx="1382.3" cy="903.9" r="3"/><circle cx="1355.2" cy="937.4" r="3"/><circle cx="1349.4" cy="931.7" r="3"/><circle cx="1364.3" cy="922.6" r="3"/><circle cx="1381.7" cy="898.8" r="3"/><circle cx="1381.3" cy="904.7" r="3"/><circle cx="1363.1" cy="910.3" r="3"/><circle cx="1424.3" cy="872.0" r="3"/><circle cx="1434.2" cy="869.4" r="3"/><circle cx="1368.5" cy="925.1" r="3"/><circle cx="1369.4" cy="926.6" r="3"/><circle cx="1318.6" cy="966.8" r="3"/><circle cx="1301.0" cy="973.1" r="3"/><circle cx="1312.2" cy="975.9" r="3"/><circle cx="1361.6" cy="946.6" r="3"/><circle cx="1397.7" cy="918.7" r="3"/><circle cx="1357.8" cy="938.6" r="3"/><circle cx="1354.3" cy="943.4" r="3"/><circle cx="1392.5" cy="905.9" r="3"/><circle cx="1409.0" cy="888.2" r="3"/><circle cx="1428.8" cy="872.5" r="3"/><circle cx="1439.5" cy="881.6" r="3"/><circle cx="1437.9" cy="862.1" r="3"/><circle cx="1461.2" cy="841.0" r="3"/><circle cx="1484.2" cy="828.5" r="3"/><circle cx="1465.0" cy="842.0" r="3"/><circle cx="1456.3" cy="854.2" r="3"/><circle cx="1477.7" cy="834.1" r="3"/><circle cx="1456.4" cy="858.6" r="3"/><circle cx="1473.5" cy="823.7" r="3"/><circle cx="1426.8" cy="870.9" r="3"/><circle cx="1450.8" cy="848.7" r="3"/><circle cx="1455.3" cy="852.9" r="3"/><circle cx="1428.0" cy="868.9" r="3"/><circle cx="1453.3" cy="837.5" r="3"/><circle cx="1518.2" cy="786.7" r="3"/><circle cx="1502.5" cy="809.8" r="3"/><circle cx="1526.7" cy="787.6" r="3"/><circle cx="1519.1" cy="795.8" r="3"/><circle cx="1436.0" cy="859.7" r="3"/><circle cx="1474.4" cy="827.1" r="3"/><circle cx="1454.9" cy="843.7" r="3"/><circle cx="1468.5" cy="836.1" r="3"/><circle cx="1451.1" cy="854.3" r="3"/><circle cx="1447.4" cy="857.3" r="3"/><circle cx="1457.4" cy="838.6" r="3"/><circle cx="1508.0" cy="800.1" r="3"/><circle cx="1496.5" cy="807.8" r="3"/><circle cx="1496.1" cy="815.4" r="3"/><circle cx="1567.1" cy="761.1" r="3"/><circle cx="1552.5" cy="781.3" r="3"/><circle cx="1533.1" cy="795.0" r="3"/><circle cx="1489.2" cy="834.9" r="3"/><circle cx="1542.5" cy="803.8" r="3"/><circle cx="1573.4" cy="777.2" r="3"/><circle cx="1588.9" cy="768.7" r="3"/><circle cx="1590.5" cy="761.1" r="3"/><circle cx="1599.4" cy="751.5" r="3"/><circle cx="1564.3" cy="765.0" r="3"/><circle cx="1573.6" cy="757.8" r="3"/><circle cx="1550.7" cy="781.3" r="3"/><circle cx="1546.5" cy="786.9" r="3"/><circle cx="1602.6" cy="744.2" r="3"/><circle cx="1619.2" cy="732.9" r="3"/><circle cx="1586.1" cy="752.0" r="3"/><circle cx="1551.2" cy="783.4" r="3"/><circle cx="1538.5" cy="789.9" r="3"/><circle cx="1585.6" cy="745.2" r="3"/><circle cx="1584.5" cy="752.4" r="3"/><circle cx="1575.1" cy="760.0" r="3"/><circle cx="1557.1" cy="761.9" r="3"/><circle cx="1515.6" cy="796.4" r="3"/><circle cx="1516.1" cy="803.4" r="3"/><circle cx="1546.6" cy="775.7" r="3"/><circle cx="1536.1" cy="789.0" r="3"/><circle cx="1548.0" cy="786.6" r="3"/><circle cx="1532.2" cy="791.4" r="3"/><circle cx="1557.5" cy="779.4" r="3"/><circle cx="1515.7" cy="817.5" r="3"/><circle cx="1499.7" cy="829.4" r="3"/><circle cx="1491.4" cy="827.8" r="3"/><circle cx="1527.7" cy="793.6" r="3"/><circle cx="1517.5" cy="809.8" r="3"/><circle cx="1547.0" cy="785.4" r="3"/><circle cx="1585.4" cy="757.7" r="3"/><circle cx="1558.4" cy="771.9" r="3"/><circle cx="1553.8" cy="775.2" r="3"/><circle cx="1553.3" cy="782.8" r="3"/><circle cx="1536.0" cy="790.0" r="3"/><circle cx="1549.1" cy="791.3" r="3"/><circle cx="1553.9" cy="787.5" r="3"/><circle cx="1633.7" cy="736.5" r="3"/><circle cx="1588.8" cy="757.5" r="3"/><circle cx="1576.7" cy="766.6" r="3"/><circle cx="1537.5" cy="792.5" r="3"/><circle cx="1532.8" cy="777.3" r="3"/><circle cx="1512.5" cy="800.4" r="3"/><circle cx="1474.6" cy="837.3" r="3"/><circle cx="1557.2" cy="777.0" r="3"/><circle cx="1518.3" cy="808.1" r="3"/><circle cx="1563.8" cy="775.9" r="3"/><circle cx="1620.1" cy="728.5" r="3"/><circle cx="1610.5" cy="733.6" r="3"/><circle cx="1607.6" cy="736.2" r="3"/><circle cx="1648.6" cy="711.0" r="3"/><circle cx="1629.1" cy="726.3" r="3"/><circle cx="1584.6" cy="761.6" r="3"/><circle cx="1596.6" cy="748.4" r="3"/><circle cx="1637.8" cy="723.0" r="3"/><circle cx="1620.4" cy="733.6" r="3"/><circle cx="1595.8" cy="741.0" r="3"/><circle cx="1573.4" cy="761.1" r="3"/><circle cx="1600.0" cy="746.0" r="3"/><circle cx="1622.5" cy="732.6" r="3"/><circle cx="1606.4" cy="735.2" r="3"/><circle cx="1626.3" cy="728.9" r="3"/><circle cx="1640.0" cy="723.0" r="3"/><circle cx="1622.6" cy="737.2" r="3"/><circle cx="1622.8" cy="741.7" r="3"/><circle cx="1629.5" cy="736.4" r="3"/><circle cx="1616.9" cy="740.7" r="3"/><circle cx="1656.1" cy="713.3" r="3"/><circle cx="1580.3" cy="765.3" r="3"/><circle cx="1600.7" cy="754.0" r="3"/><circle cx="1519.6" cy="804.6" r="3"/><circle cx="1483.4" cy="838.7" r="3"/><circle cx="1532.3" cy="798.5" r="3"/><circle cx="1551.6" cy="795.6" r="3"/><circle cx="1535.8" cy="788.5" r="3"/><circle cx="1478.1" cy="827.3" r="3"/><circle cx="1478.7" cy="826.9" r="3"/><circle cx="1470.5" cy="830.5" r="3"/><circle cx="1506.6" cy="816.6" r="3"/><circle cx="1602.5" cy="747.9" r="3"/><circle cx="1591.0" cy="754.9" r="3"/><circle cx="1558.0" cy="782.7" r="3"/><circle cx="1529.3" cy="816.3" r="3"/><circle cx="1528.8" cy="812.6" r="3"/><circle cx="1531.1" cy="803.3" r="3"/><circle cx="1497.8" cy="835.5" r="3"/><circle cx="1505.1" cy="818.4" r="3"/><circle cx="1490.9" cy="832.8" r="3"/><circle cx="1540.9" cy="798.0" r="3"/><circle cx="1587.4" cy="767.7" r="3"/><circle cx="1607.3" cy="758.5" r="3"/><circle cx="1563.4" cy="782.5" r="3"/><circle cx="1603.4" cy="760.9" r="3"/><circle cx="1575.1" cy="774.7" r="3"/><circle cx="1558.8" cy="782.7" r="3"/><circle cx="1551.3" cy="799.9" r="3"/><circle cx="1515.6" cy="822.1" r="3"/><circle cx="1479.9" cy="852.2" r="3"/><circle cx="1496.4" cy="823.8" r="3"/><circle cx="1497.8" cy="824.9" r="3"/><circle cx="1515.0" cy="816.1" r="3"/><circle cx="1542.0" cy="791.8" r="3"/><circle cx="1482.8" cy="834.7" r="3"/><circle cx="1488.7" cy="842.3" r="3"/><circle cx="1498.8" cy="840.7" r="3"/><circle cx="1522.9" cy="811.6" r="3"/><circle cx="1483.8" cy="830.6" r="3"/><circle cx="1544.7" cy="796.6" r="3"/><circle cx="1524.8" cy="801.5" r="3"/><circle cx="1488.1" cy="833.9" r="3"/><circle cx="1481.7" cy="837.4" r="3"/><circle cx="1492.7" cy="828.4" r="3"/><circle cx="1508.4" cy="823.3" r="3"/><circle cx="1467.4" cy="865.0" r="3"/><circle cx="1493.5" cy="824.2" r="3"/><circle cx="1548.1" cy="794.7" r="3"/><circle cx="1564.5" cy="780.5" r="3"/><circle cx="1534.6" cy="794.0" r="3"/><circle cx="1510.5" cy="819.9" r="3"/><circle cx="1482.5" cy="840.7" r="3"/><circle cx="1561.0" cy="778.4" r="3"/><circle cx="1562.3" cy="785.5" r="3"/><circle cx="1571.0" cy="773.6" r="3"/><circle cx="1547.4" cy="793.9" r="3"/><circle cx="1545.7" cy="800.8" r="3"/><circle cx="1472.9" cy="856.2" r="3"/><circle cx="1476.2" cy="857.4" r="3"/><circle cx="1500.7" cy="834.2" r="3"/><circle cx="1452.7" cy="880.0" r="3"/><circle cx="1492.8" cy="833.0" r="3"/><circle cx="1493.9" cy="828.7" r="3"/><circle cx="1456.8" cy="863.7" r="3"/><circle cx="1443.4" cy="880.4" r="3"/><circle cx="1460.5" cy="869.6" r="3"/><circle cx="1456.3" cy="875.2" r="3"/><circle cx="1458.7" cy="879.8" r="3"/><circle cx="1427.0" cy="892.1" r="3"/><circle cx="1421.9" cy="905.4" r="3"/><circle cx="1402.0" cy="914.2" r="3"/><circle cx="1360.3" cy="941.8" r="3"/><circle cx="1383.1" cy="929.7" r="3"/><circle cx="1422.6" cy="901.5" r="3"/><circle cx="1395.1" cy="933.2" r="3"/><circle cx="1414.2" cy="916.8" r="3"/><circle cx="1397.1" cy="931.5" r="3"/><circle cx="1361.1" cy="947.6" r="3"/><circle cx="1408.9" cy="918.4" r="3"/><circle cx="1408.2" cy="921.9" r="3"/><circle cx="1438.1" cy="890.1" r="3"/><circle cx="1432.3" cy="908.4" r="3"/><circle cx="1448.2" cy="895.6" r="3"/><circle cx="1419.1" cy="905.6" r="3"/><circle cx="1402.6" cy="920.3" r="3"/><circle cx="1411.3" cy="907.2" r="3"/><circle cx="1457.4" cy="894.2" r="3"/><circle cx="1465.8" cy="885.0" r="3"/><circle cx="1447.3" cy="895.3" r="3"/><circle cx="1415.7" cy="926.2" r="3"/><circle cx="1418.9" cy="911.1" r="3"/><circle cx="1418.9" cy="920.3" r="3"/><circle cx="1443.7" cy="899.7" r="3"/><circle cx="1407.0" cy="921.7" r="3"/><circle cx="1404.2" cy="921.9" r="3"/><circle cx="1356.9" cy="952.2" r="3"/><circle cx="1388.4" cy="940.1" r="3"/><circle cx="1370.1" cy="946.5" r="3"/><circle cx="1301.0" cy="985.0" r="3"/><circle cx="1309.5" cy="968.6" r="3"/><circle cx="1355.4" cy="953.3" r="3"/><circle cx="1347.7" cy="960.5" r="3"/><circle cx="1306.1" cy="987.7" r="3"/><circle cx="1301.0" cy="976.6" r="3"/><circle cx="1313.4" cy="975.1" r="3"/><circle cx="1301.0" cy="970.3" r="3"/><circle cx="1301.0" cy="986.9" r="3"/><circle cx="1306.2" cy="976.5" r="3"/><circle cx="1301.0" cy="991.5" r="3"/><circle cx="1307.7" cy="977.0" r="3"/><circle cx="1333.3" cy="969.4" r="3"/><circle cx="1312.7" cy="974.9" r="3"/><circle cx="1301.0" cy="996.4" r="3"/><circle cx="1301.0" cy="988.5" r="3"/><circle cx="1301.0" cy="983.2" r="3"/><circle cx="1330.4" cy="964.1" r="3"/><circle cx="1336.8" cy="955.2" r="3"/><circle cx="1318.5" cy="973.2" r="3"/><circle cx="1352.7" cy="955.6" r="3"/><circle cx="1343.8" cy="956.3" r="3"/><circle cx="1408.2" cy="904.3" r="3"/><circle cx="1361.7" cy="946.3" r="3"/><circle cx="1309.7" cy="980.3" r="3"/><circle cx="1301.0" cy="981.1" r="3"/><circle cx="1320.5" cy="977.4" r="3"/><circle cx="1309.7" cy="979.2" r="3"/><circle cx="1334.5" cy="964.5" r="3"/><circle cx="1324.2" cy="975.3" r="3"/><circle cx="1317.3" cy="970.0" r="3"/><circle cx="1301.0" cy="988.0" r="3"/><circle cx="1337.3" cy="961.2" r="3"/><circle cx="1301.0" cy="981.7" r="3"/><circle cx="1301.0" cy="985.5" r="3"/><circle cx="1349.8" cy="964.4" r="3"/><circle cx="1323.8" cy="978.5" r="3"/><circle cx="1301.0" cy="992.7" r="3"/><circle cx="1301.0" cy="985.7" r="3"/><circle cx="1319.6" cy="972.1" r="3"/><circle cx="1322.5" cy="958.5" r="3"/><circle cx="1301.0" cy="999.2" r="3"/><circle cx="1311.7" cy="973.5" r="3"/><circle cx="1311.5" cy="976.3" r="3"/><circle cx="1301.0" cy="990.0" r="3"/><circle cx="1301.0" cy="994.4" r="3"/><circle cx="1301.0" cy="977.0" r="3"/><circle cx="1302.6" cy="978.5" r="3"/><circle cx="1301.0" cy="993.5" r="3"/><circle cx="1301.0" cy="983.3" r="3"/><circle cx="1301.0" cy="978.5" r="3"/><circle cx="1311.3" cy="971.1" r="3"/><circle cx="1301.0" cy="977.7" r="3"/><circle cx="1331.3" cy="965.5" r="3"/><circle cx="1377.9" cy="925.3" r="3"/><circle cx="1370.6" cy="935.0" r="3"/><circle cx="1322.7" cy="963.3" r="3"/><circle cx="1334.2" cy="950.9" r="3"/><circle cx="1301.0" cy="975.1" r="3"/><circle cx="1301.8" cy="990.0" r="3"/><circle cx="1314.7" cy="970.9" r="3"/><circle cx="1301.0" cy="966.4" r="3"/><circle cx="1301.0" cy="989.6" r="3"/><circle cx="1321.8" cy="973.3" r="3"/><circle cx="1343.1" cy="958.7" r="3"/><circle cx="1301.0" cy="984.3" r="3"/><circle cx="1301.0" cy="988.7" r="3"/><circle cx="1301.0" cy="988.4" r="3"/><circle cx="1301.0" cy="978.9" r="3"/><circle cx="1301.0" cy="979.5" r="3"/><circle cx="1309.6" cy="964.7" r="3"/><circle cx="1301.0" cy="981.1" r="3"/><circle cx="1301.0" cy="996.6" r="3"/><circle cx="1301.0" cy="982.3" r="3"/><circle cx="1323.8" cy="984.1" r="3"/><circle cx="1301.0" cy="990.0" r="3"/><circle cx="1301.0" cy="986.5" r="3"/><circle cx="1306.8" cy="974.4" r="3"/><circle cx="1301.0" cy="975.3" r="3"/><circle cx="1317.5" cy="981.6" r="3"/><circle cx="1301.0" cy="982.6" r="3"/><circle cx="1313.4" cy="972.1" r="3"/><circle cx="1308.9" cy="976.9" r="3"/><circle cx="1301.0" cy="980.1" r="3"/><circle cx="1316.8" cy="978.2" r="3"/><circle cx="1301.0" cy="977.0" r="3"/><circle cx="1301.0" cy="975.8" r="3"/><circle cx="1301.0" cy="993.2" r="3"/><circle cx="1301.0" cy="975.0" r="3"/><circle cx="1301.1" cy="971.9" r="3"/><circle cx="1301.0" cy="983.0" r="3"/><circle cx="1301.0" cy="987.2" r="3"/><circle cx="1301.0" cy="988.2" r="3"/><circle cx="1319.1" cy="969.0" r="3"/><circle cx="1301.0" cy="967.8" r="3"/><circle cx="1310.0" cy="970.3" r="3"/><circle cx="1304.1" cy="979.1" r="3"/><circle cx="1334.9" cy="959.7" r="3"/><circle cx="1321.0" cy="963.6" r="3"/><circle cx="1329.4" cy="958.6" r="3"/><circle cx="1346.3" cy="950.3" r="3"/><circle cx="1366.6" cy="934.3" r="3"/><circle cx="1365.4" cy="943.2" r="3"/><circle cx="1316.4" cy="986.4" r="3"/><circle cx="1337.1" cy="958.9" r="3"/><circle cx="1398.8" cy="926.1" r="3"/><circle cx="1419.5" cy="919.0" r="3"/><circle cx="1437.8" cy="904.3" r="3"/><circle cx="1377.9" cy="943.4" r="3"/><circle cx="1391.3" cy="936.9" r="3"/><circle cx="1375.8" cy="944.4" r="3"/><circle cx="1325.3" cy="975.4" r="3"/><circle cx="1315.0" cy="980.9" r="3"/><circle cx="1312.9" cy="992.0" r="3"/><circle cx="1304.8" cy="972.6" r="3"/><circle cx="1306.0" cy="984.8" r="3"/><circle cx="1309.5" cy="974.3" r="3"/><circle cx="1327.2" cy="957.9" r="3"/><circle cx="1332.5" cy="957.4" r="3"/><circle cx="1367.9" cy="917.3" r="3"/><circle cx="1421.2" cy="878.5" r="3"/><circle cx="1411.9" cy="898.4" r="3"/><circle cx="1382.6" cy="909.2" r="3"/><circle cx="1354.1" cy="935.6" r="3"/><circle cx="1339.6" cy="954.7" r="3"/><circle cx="1338.5" cy="938.7" r="3"/><circle cx="1365.1" cy="912.8" r="3"/><circle cx="1374.6" cy="914.8" r="3"/><circle cx="1413.3" cy="891.9" r="3"/><circle cx="1384.1" cy="915.6" r="3"/><circle cx="1381.1" cy="916.6" r="3"/><circle cx="1404.0" cy="892.2" r="3"/><circle cx="1432.5" cy="890.8" r="3"/><circle cx="1461.1" cy="857.7" r="3"/><circle cx="1435.4" cy="875.3" r="3"/><circle cx="1425.2" cy="885.6" r="3"/><circle cx="1417.1" cy="889.3" r="3"/><circle cx="1384.4" cy="910.5" r="3"/><circle cx="1361.7" cy="941.6" r="3"/><circle cx="1405.2" cy="913.3" r="3"/><circle cx="1385.9" cy="924.0" r="3"/><circle cx="1403.2" cy="908.1" r="3"/><circle cx="1350.7" cy="947.8" r="3"/><circle cx="1346.2" cy="948.0" r="3"/><circle cx="1322.1" cy="954.1" r="3"/><circle cx="1331.3" cy="954.0" r="3"/><circle cx="1301.0" cy="999.5" r="3"/><circle cx="1301.0" cy="985.0" r="3"/><circle cx="1347.6" cy="941.0" r="3"/><circle cx="1374.3" cy="924.4" r="3"/><circle cx="1360.5" cy="932.7" r="3"/><circle cx="1366.1" cy="925.9" r="3"/><circle cx="1433.9" cy="878.6" r="3"/><circle cx="1326.9" cy="960.9" r="3"/><circle cx="1364.6" cy="927.3" r="3"/><circle cx="1389.5" cy="907.1" r="3"/><circle cx="1406.1" cy="888.2" r="3"/><circle cx="1470.5" cy="848.7" r="3"/><circle cx="1506.5" cy="809.7" r="3"/><circle cx="1518.5" cy="805.0" r="3"/><circle cx="1497.6" cy="822.7" r="3"/><circle cx="1518.1" cy="806.9" r="3"/><circle cx="1511.8" cy="818.9" r="3"/><circle cx="1491.9" cy="828.5" r="3"/><circle cx="1507.1" cy="799.2" r="3"/><circle cx="1538.6" cy="777.2" r="3"/><circle cx="1519.7" cy="786.9" r="3"/><circle cx="1506.7" cy="809.6" r="3"/><circle cx="1538.5" cy="789.9" r="3"/><circle cx="1544.3" cy="784.1" r="3"/><circle cx="1522.4" cy="805.6" r="3"/><circle cx="1575.2" cy="766.1" r="3"/><circle cx="1520.5" cy="801.5" r="3"/><circle cx="1520.5" cy="797.8" r="3"/><circle cx="1487.3" cy="820.8" r="3"/><circle cx="1512.8" cy="801.9" r="3"/><circle cx="1546.5" cy="778.3" r="3"/><circle cx="1507.4" cy="814.6" r="3"/><circle cx="1460.3" cy="845.9" r="3"/><circle cx="1487.8" cy="825.7" r="3"/><circle cx="1460.2" cy="841.5" r="3"/><circle cx="1415.4" cy="876.5" r="3"/><circle cx="1446.7" cy="838.3" r="3"/><circle cx="1480.5" cy="822.4" r="3"/><circle cx="1481.5" cy="815.4" r="3"/><circle cx="1503.4" cy="812.6" r="3"/><circle cx="1501.9" cy="804.2" r="3"/><circle cx="1511.1" cy="795.5" r="3"/><circle cx="1533.3" cy="772.6" r="3"/><circle cx="1517.3" cy="806.2" r="3"/><circle cx="1472.6" cy="830.3" r="3"/><circle cx="1493.9" cy="817.8" r="3"/><circle cx="1488.1" cy="826.7" r="3"/><circle cx="1530.1" cy="803.8" r="3"/><circle cx="1537.5" cy="799.2" r="3"/><circle cx="1500.9" cy="815.5" r="3"/><circle cx="1481.8" cy="819.5" r="3"/><circle cx="1484.9" cy="818.6" r="3"/><circle cx="1513.3" cy="804.8" r="3"/><circle cx="1509.8" cy="804.1" r="3"/><circle cx="1513.7" cy="815.3" r="3"/><circle cx="1547.2" cy="786.7" r="3"/><circle cx="1628.5" cy="726.3" r="3"/><circle cx="1618.1" cy="735.1" r="3"/><circle cx="1630.1" cy="725.7" r="3"/><circle cx="1641.2" cy="712.9" r="3"/><circle cx="1631.4" cy="715.9" r="3"/><circle cx="1608.2" cy="741.7" r="3"/><circle cx="1579.7" cy="764.7" r="3"/><circle cx="1607.3" cy="755.2" r="3"/><circle cx="1554.9" cy="782.3" r="3"/><circle cx="1514.6" cy="816.9" r="3"/><circle cx="1487.1" cy="840.9" r="3"/><circle cx="1526.9" cy="808.7" r="3"/><circle cx="1478.6" cy="834.3" r="3"/><circle cx="1509.6" cy="811.2" r="3"/><circle cx="1515.4" cy="814.8" r="3"/><circle cx="1537.5" cy="786.8" r="3"/><circle cx="1534.5" cy="786.8" r="3"/><circle cx="1553.2" cy="775.1" r="3"/><circle cx="1525.6" cy="806.4" r="3"/><circle cx="1520.6" cy="808.6" r="3"/><circle cx="1495.1" cy="825.3" r="3"/><circle cx="1543.2" cy="787.4" r="3"/><circle cx="1556.3" cy="777.9" r="3"/><circle cx="1509.4" cy="809.3" r="3"/><circle cx="1530.6" cy="800.6" r="3"/><circle cx="1524.9" cy="799.1" r="3"/><circle cx="1556.9" cy="777.6" r="3"/><circle cx="1524.4" cy="813.6" r="3"/><circle cx="1502.4" cy="821.9" r="3"/><circle cx="1491.3" cy="825.9" r="3"/><circle cx="1589.7" cy="753.9" r="3"/><circle cx="1618.5" cy="736.6" r="3"/><circle cx="1603.3" cy="737.5" r="3"/><circle cx="1587.1" cy="750.4" r="3"/><circle cx="1647.2" cy="719.5" r="3"/><circle cx="1613.4" cy="739.0" r="3"/><circle cx="1637.1" cy="722.7" r="3"/><circle cx="1618.5" cy="728.5" r="3"/><circle cx="1642.5" cy="714.3" r="3"/><circle cx="1602.2" cy="740.1" r="3"/><circle cx="1604.4" cy="749.1" r="3"/><circle cx="1598.7" cy="742.5" r="3"/><circle cx="1589.9" cy="754.4" r="3"/><circle cx="1603.6" cy="751.3" r="3"/><circle cx="1603.6" cy="737.4" r="3"/><circle cx="1596.6" cy="749.4" r="3"/><circle cx="1526.6" cy="794.2" r="3"/><circle cx="1556.4" cy="790.0" r="3"/><circle cx="1539.2" cy="797.9" r="3"/><circle cx="1529.1" cy="805.0" r="3"/><circle cx="1533.5" cy="806.7" r="3"/><circle cx="1532.8" cy="796.1" r="3"/><circle cx="1480.8" cy="850.3" r="3"/><circle cx="1522.4" cy="811.9" r="3"/><circle cx="1532.0" cy="807.0" r="3"/><circle cx="1561.5" cy="774.6" r="3"/><circle cx="1628.9" cy="731.3" r="3"/><circle cx="1634.1" cy="723.9" r="3"/><circle cx="1557.2" cy="782.4" r="3"/><circle cx="1561.4" cy="794.2" r="3"/><circle cx="1495.7" cy="819.4" r="3"/><circle cx="1506.5" cy="814.4" r="3"/><circle cx="1535.0" cy="791.5" r="3"/><circle cx="1473.3" cy="841.6" r="3"/><circle cx="1515.0" cy="813.8" r="3"/><circle cx="1492.5" cy="839.0" r="3"/><circle cx="1554.0" cy="803.6" r="3"/><circle cx="1547.5" cy="806.4" r="3"/><circle cx="1544.1" cy="804.1" r="3"/><circle cx="1541.8" cy="798.3" r="3"/><circle cx="1534.0" cy="803.7" r="3"/><circle cx="1539.1" cy="797.8" r="3"/><circle cx="1518.7" cy="814.5" r="3"/><circle cx="1503.5" cy="825.7" r="3"/><circle cx="1582.2" cy="760.3" r="3"/><circle cx="1634.7" cy="720.9" r="3"/><circle cx="1643.5" cy="710.6" r="3"/><circle cx="1664.6" cy="704.7" r="3"/><circle cx="1628.2" cy="736.6" r="3"/><circle cx="1642.9" cy="717.2" r="3"/><circle cx="1644.7" cy="716.8" r="3"/><circle cx="1602.3" cy="756.9" r="3"/><circle cx="1599.3" cy="758.6" r="3"/><circle cx="1591.1" cy="764.1" r="3"/><circle cx="1559.6" cy="786.6" r="3"/><circle cx="1539.9" cy="787.1" r="3"/><circle cx="1506.3" cy="809.8" r="3"/><circle cx="1507.2" cy="820.4" r="3"/><circle cx="1580.2" cy="762.4" r="3"/><circle cx="1555.7" cy="769.9" r="3"/><circle cx="1532.2" cy="799.6" r="3"/><circle cx="1568.4" cy="767.9" r="3"/><circle cx="1596.6" cy="752.1" r="3"/><circle cx="1554.0" cy="794.6" r="3"/><circle cx="1546.2" cy="800.8" r="3"/><circle cx="1549.0" cy="796.4" r="3"/><circle cx="1548.5" cy="786.5" r="3"/><circle cx="1550.7" cy="793.8" r="3"/><circle cx="1578.0" cy="761.7" r="3"/><circle cx="1563.3" cy="778.6" r="3"/><circle cx="1546.9" cy="794.9" r="3"/><circle cx="1540.9" cy="808.2" r="3"/><circle cx="1580.9" cy="788.3" r="3"/><circle cx="1520.5" cy="830.7" r="3"/><circle cx="1507.8" cy="843.2" r="3"/><circle cx="1485.6" cy="856.8" r="3"/><circle cx="1508.5" cy="836.4" r="3"/><circle cx="1562.5" cy="804.2" r="3"/><circle cx="1569.8" cy="795.2" r="3"/><circle cx="1511.3" cy="839.1" r="3"/><circle cx="1529.1" cy="820.2" r="3"/><circle cx="1528.7" cy="817.4" r="3"/><circle cx="1514.4" cy="828.7" r="3"/><circle cx="1523.5" cy="827.0" r="3"/><circle cx="1485.7" cy="857.1" r="3"/><circle cx="1436.6" cy="900.7" r="3"/><circle cx="1448.6" cy="888.2" r="3"/><circle cx="1399.3" cy="925.6" r="3"/><circle cx="1418.2" cy="910.2" r="3"/><circle cx="1427.6" cy="887.5" r="3"/><circle cx="1453.2" cy="879.9" r="3"/><circle cx="1523.3" cy="833.8" r="3"/><circle cx="1504.1" cy="840.9" r="3"/><circle cx="1469.8" cy="872.8" r="3"/><circle cx="1428.4" cy="902.7" r="3"/><circle cx="1430.1" cy="901.9" r="3"/><circle cx="1389.8" cy="930.8" r="3"/><circle cx="1419.1" cy="910.9" r="3"/><circle cx="1420.3" cy="912.4" r="3"/><circle cx="1345.1" cy="952.4" r="3"/><circle cx="1377.2" cy="925.4" r="3"/><circle cx="1396.4" cy="924.1" r="3"/><circle cx="1422.8" cy="906.3" r="3"/><circle cx="1436.1" cy="885.4" r="3"/><circle cx="1461.8" cy="866.0" r="3"/><circle cx="1463.1" cy="876.0" r="3"/><circle cx="1491.8" cy="846.1" r="3"/><circle cx="1473.5" cy="855.5" r="3"/><circle cx="1483.0" cy="852.0" r="3"/><circle cx="1484.7" cy="849.2" r="3"/><circle cx="1429.1" cy="901.3" r="3"/><circle cx="1410.6" cy="905.6" r="3"/><circle cx="1396.9" cy="904.9" r="3"/><circle cx="1408.3" cy="902.5" r="3"/><circle cx="1372.4" cy="939.6" r="3"/><circle cx="1433.0" cy="887.2" r="3"/><circle cx="1428.2" cy="892.8" r="3"/><circle cx="1401.5" cy="915.8" r="3"/><circle cx="1346.2" cy="961.0" r="3"/><circle cx="1351.1" cy="960.1" r="3"/><circle cx="1373.4" cy="949.7" r="3"/><circle cx="1349.1" cy="962.3" r="3"/><circle cx="1363.8" cy="952.4" r="3"/><circle cx="1350.5" cy="962.9" r="3"/><circle cx="1375.6" cy="932.7" r="3"/><circle cx="1359.8" cy="946.3" r="3"/><circle cx="1377.5" cy="939.2" r="3"/><circle cx="1386.9" cy="931.1" r="3"/><circle cx="1459.5" cy="864.3" r="3"/><circle cx="1409.1" cy="900.8" r="3"/><circle cx="1408.9" cy="913.7" r="3"/><circle cx="1383.9" cy="939.9" r="3"/><circle cx="1413.3" cy="921.4" r="3"/><circle cx="1378.2" cy="942.6" r="3"/><circle cx="1349.3" cy="957.4" r="3"/><circle cx="1336.6" cy="959.8" r="3"/><circle cx="1322.8" cy="965.7" r="3"/><circle cx="1302.1" cy="971.3" r="3"/><circle cx="1306.6" cy="982.3" r="3"/><circle cx="1304.2" cy="982.7" r="3"/><circle cx="1301.0" cy="974.3" r="3"/><circle cx="1339.7" cy="965.8" r="3"/><circle cx="1304.6" cy="976.2" r="3"/><circle cx="1301.0" cy="992.4" r="3"/><circle cx="1301.0" cy="984.8" r="3"/><circle cx="1301.0" cy="988.3" r="3"/><circle cx="1307.1" cy="981.1" r="3"/><circle cx="1333.4" cy="971.3" r="3"/><circle cx="1333.5" cy="965.7" r="3"/><circle cx="1301.0" cy="982.2" r="3"/><circle cx="1304.9" cy="986.5" r="3"/><circle cx="1301.0" cy="975.1" r="3"/><circle cx="1308.5" cy="984.7" r="3"/><circle cx="1301.0" cy="977.1" r="3"/><circle cx="1350.9" cy="959.5" r="3"/><circle cx="1358.2" cy="954.5" r="3"/><circle cx="1386.1" cy="931.5" r="3"/><circle cx="1370.4" cy="946.1" r="3"/><circle cx="1381.1" cy="927.0" r="3"/><circle cx="1361.9" cy="950.0" r="3"/><circle cx="1337.0" cy="956.7" r="3"/><circle cx="1410.3" cy="902.4" r="3"/><circle cx="1442.2" cy="883.3" r="3"/><circle cx="1395.5" cy="916.7" r="3"/><circle cx="1378.1" cy="921.0" r="3"/><circle cx="1369.1" cy="928.1" r="3"/><circle cx="1417.6" cy="905.2" r="3"/><circle cx="1378.2" cy="929.7" r="3"/><circle cx="1317.7" cy="969.5" r="3"/><circle cx="1302.3" cy="977.9" r="3"/><circle cx="1318.5" cy="972.6" r="3"/><circle cx="1322.5" cy="974.3" r="3"/><circle cx="1351.3" cy="944.1" r="3"/><circle cx="1386.3" cy="925.8" r="3"/><circle cx="1376.1" cy="926.0" r="3"/><circle cx="1335.1" cy="959.9" r="3"/><circle cx="1373.8" cy="930.0" r="3"/><circle cx="1425.2" cy="889.1" r="3"/><circle cx="1433.4" cy="889.1" r="3"/><circle cx="1401.8" cy="904.2" r="3"/><circle cx="1430.7" cy="895.4" r="3"/><circle cx="1439.4" cy="878.5" r="3"/><circle cx="1398.5" cy="916.0" r="3"/><circle cx="1376.5" cy="933.0" r="3"/><circle cx="1369.3" cy="937.8" r="3"/><circle cx="1388.4" cy="928.0" r="3"/><circle cx="1371.0" cy="936.0" r="3"/><circle cx="1383.5" cy="934.8" r="3"/><circle cx="1372.2" cy="952.8" r="3"/><circle cx="1355.5" cy="957.9" r="3"/><circle cx="1340.7" cy="967.6" r="3"/><circle cx="1303.1" cy="984.9" r="3"/><circle cx="1305.4" cy="979.1" r="3"/><circle cx="1348.2" cy="952.1" r="3"/><circle cx="1311.3" cy="974.2" r="3"/><circle cx="1301.3" cy="972.2" r="3"/><circle cx="1332.5" cy="960.5" r="3"/><circle cx="1303.1" cy="980.6" r="3"/><circle cx="1301.0" cy="986.2" r="3"/><circle cx="1301.0" cy="1001.0" r="3"/><circle cx="1310.4" cy="976.4" r="3"/><circle cx="1387.8" cy="917.3" r="3"/><circle cx="1443.4" cy="873.0" r="3"/><circle cx="1419.7" cy="897.6" r="3"/><circle cx="1425.2" cy="893.5" r="3"/><circle cx="1394.3" cy="906.7" r="3"/><circle cx="1387.5" cy="912.6" r="3"/><circle cx="1427.4" cy="881.2" r="3"/><circle cx="1339.3" cy="943.1" r="3"/><circle cx="1376.9" cy="920.1" r="3"/><circle cx="1358.5" cy="936.3" r="3"/><circle cx="1432.7" cy="891.1" r="3"/><circle cx="1422.5" cy="900.9" r="3"/><circle cx="1385.2" cy="930.5" r="3"/><circle cx="1365.8" cy="942.1" r="3"/><circle cx="1385.4" cy="921.4" r="3"/><circle cx="1379.5" cy="930.5" r="3"/><circle cx="1382.7" cy="923.1" r="3"/><circle cx="1347.6" cy="943.0" r="3"/><circle cx="1310.4" cy="969.1" r="3"/><circle cx="1324.0" cy="967.5" r="3"/><circle cx="1351.2" cy="942.6" r="3"/><circle cx="1362.1" cy="945.1" r="3"/><circle cx="1344.9" cy="948.5" r="3"/><circle cx="1380.5" cy="924.8" r="3"/><circle cx="1354.9" cy="943.7" r="3"/><circle cx="1352.9" cy="952.4" r="3"/><circle cx="1329.8" cy="965.4" r="3"/><circle cx="1368.7" cy="930.7" r="3"/><circle cx="1325.4" cy="972.9" r="3"/><circle cx="1357.2" cy="946.9" r="3"/><circle cx="1345.2" cy="948.7" r="3"/><circle cx="1301.3" cy="978.8" r="3"/><circle cx="1360.0" cy="937.8" r="3"/><circle cx="1346.0" cy="942.1" r="3"/><circle cx="1303.6" cy="980.9" r="3"/><circle cx="1301.0" cy="976.9" r="3"/><circle cx="1334.0" cy="952.0" r="3"/><circle cx="1367.4" cy="924.7" r="3"/><circle cx="1343.6" cy="941.0" r="3"/><circle cx="1369.4" cy="920.0" r="3"/><circle cx="1391.1" cy="912.6" r="3"/><circle cx="1371.8" cy="928.6" r="3"/><circle cx="1378.0" cy="926.5" r="3"/><circle cx="1375.5" cy="924.3" r="3"/><circle cx="1348.7" cy="944.8" r="3"/><circle cx="1335.2" cy="950.0" r="3"/><circle cx="1339.6" cy="940.4" r="3"/><circle cx="1335.5" cy="939.8" r="3"/><circle cx="1331.6" cy="952.9" r="3"/><circle cx="1313.4" cy="962.2" r="3"/><circle cx="1356.8" cy="922.7" r="3"/><circle cx="1342.6" cy="916.7" r="3"/><circle cx="1372.8" cy="900.9" r="3"/><circle cx="1428.6" cy="881.0" r="3"/><circle cx="1427.5" cy="867.3" r="3"/><circle cx="1508.3" cy="811.5" r="3"/><circle cx="1442.9" cy="866.7" r="3"/><circle cx="1459.7" cy="853.9" r="3"/><circle cx="1438.5" cy="872.4" r="3"/><circle cx="1440.5" cy="856.7" r="3"/><circle cx="1488.3" cy="813.7" r="3"/><circle cx="1408.7" cy="883.1" r="3"/><circle cx="1400.5" cy="897.1" r="3"/><circle cx="1409.9" cy="892.6" r="3"/><circle cx="1422.7" cy="880.5" r="3"/><circle cx="1438.0" cy="865.1" r="3"/><circle cx="1433.3" cy="871.5" r="3"/><circle cx="1451.1" cy="871.0" r="3"/><circle cx="1456.3" cy="858.5" r="3"/><circle cx="1432.9" cy="876.3" r="3"/><circle cx="1469.5" cy="850.3" r="3"/><circle cx="1396.5" cy="904.1" r="3"/><circle cx="1421.2" cy="877.5" r="3"/><circle cx="1387.8" cy="909.0" r="3"/><circle cx="1395.3" cy="884.1" r="3"/><circle cx="1415.3" cy="882.8" r="3"/><circle cx="1394.7" cy="902.3" r="3"/><circle cx="1416.8" cy="883.3" r="3"/><circle cx="1391.1" cy="904.4" r="3"/><circle cx="1354.8" cy="926.0" r="3"/><circle cx="1338.5" cy="948.5" r="3"/><circle cx="1365.8" cy="933.6" r="3"/><circle cx="1379.8" cy="907.0" r="3"/><circle cx="1425.0" cy="874.2" r="3"/><circle cx="1417.6" cy="879.0" r="3"/><circle cx="1437.6" cy="859.4" r="3"/><circle cx="1443.1" cy="850.6" r="3"/><circle cx="1430.7" cy="862.5" r="3"/><circle cx="1477.5" cy="835.1" r="3"/><circle cx="1505.6" cy="813.3" r="3"/><circle cx="1474.4" cy="838.6" r="3"/><circle cx="1476.5" cy="831.5" r="3"/><circle cx="1460.8" cy="835.0" r="3"/><circle cx="1473.0" cy="837.9" r="3"/><circle cx="1458.7" cy="848.0" r="3"/><circle cx="1493.4" cy="818.3" r="3"/><circle cx="1457.1" cy="848.7" r="3"/><circle cx="1509.5" cy="821.5" r="3"/><circle cx="1487.4" cy="845.0" r="3"/><circle cx="1495.7" cy="833.2" r="3"/><circle cx="1514.3" cy="819.1" r="3"/><circle cx="1487.9" cy="840.0" r="3"/><circle cx="1543.9" cy="790.5" r="3"/><circle cx="1534.3" cy="790.9" r="3"/><circle cx="1589.1" cy="756.7" r="3"/><circle cx="1612.9" cy="744.0" r="3"/><circle cx="1563.7" cy="783.4" r="3"/><circle cx="1530.3" cy="798.3" r="3"/><circle cx="1556.9" cy="782.3" r="3"/><circle cx="1531.4" cy="791.0" r="3"/><circle cx="1525.7" cy="791.4" r="3"/><circle cx="1496.8" cy="816.8" r="3"/><circle cx="1468.8" cy="852.4" r="3"/><circle cx="1470.6" cy="848.5" r="3"/><circle cx="1422.7" cy="888.4" r="3"/><circle cx="1450.0" cy="867.6" r="3"/><circle cx="1466.2" cy="862.6" r="3"/><circle cx="1454.4" cy="872.9" r="3"/><circle cx="1467.3" cy="863.6" r="3"/><circle cx="1487.9" cy="845.1" r="3"/><circle cx="1457.0" cy="864.6" r="3"/><circle cx="1419.2" cy="898.9" r="3"/><circle cx="1430.9" cy="893.5" r="3"/><circle cx="1371.0" cy="924.3" r="3"/><circle cx="1370.4" cy="922.4" r="3"/><circle cx="1429.9" cy="861.0" r="3"/><circle cx="1421.6" cy="868.9" r="3"/><circle cx="1474.8" cy="834.8" r="3"/><circle cx="1448.1" cy="857.1" r="3"/><circle cx="1470.4" cy="839.7" r="3"/><circle cx="1477.8" cy="833.5" r="3"/><circle cx="1480.3" cy="830.0" r="3"/><circle cx="1519.0" cy="801.0" r="3"/><circle cx="1557.9" cy="764.9" r="3"/><circle cx="1536.9" cy="778.6" r="3"/><circle cx="1588.2" cy="757.3" r="3"/><circle cx="1537.6" cy="791.9" r="3"/><circle cx="1540.7" cy="785.5" r="3"/><circle cx="1545.8" cy="786.0" r="3"/><circle cx="1549.9" cy="771.1" r="3"/><circle cx="1571.2" cy="755.7" r="3"/><circle cx="1600.4" cy="728.8" r="3"/><circle cx="1503.9" cy="798.2" r="3"/><circle cx="1512.6" cy="789.5" r="3"/><circle cx="1547.9" cy="772.9" r="3"/><circle cx="1559.9" cy="767.4" r="3"/><circle cx="1517.2" cy="805.2" r="3"/><circle cx="1517.1" cy="815.4" r="3"/><circle cx="1502.6" cy="827.2" r="3"/><circle cx="1505.7" cy="817.2" r="3"/><circle cx="1599.0" cy="753.9" r="3"/><circle cx="1602.1" cy="744.1" r="3"/><circle cx="1589.3" cy="761.7" r="3"/><circle cx="1579.0" cy="775.7" r="3"/><circle cx="1531.1" cy="806.6" r="3"/><circle cx="1596.9" cy="759.0" r="3"/><circle cx="1542.3" cy="791.0" r="3"/><circle cx="1542.6" cy="784.6" r="3"/><circle cx="1558.4" cy="771.5" r="3"/><circle cx="1588.0" cy="755.2" r="3"/><circle cx="1583.6" cy="758.5" r="3"/><circle cx="1534.5" cy="788.8" r="3"/><circle cx="1478.8" cy="827.1" r="3"/><circle cx="1499.0" cy="823.0" r="3"/><circle cx="1466.0" cy="869.6" r="3"/><circle cx="1497.2" cy="839.7" r="3"/><circle cx="1521.2" cy="814.5" r="3"/><circle cx="1528.4" cy="804.4" r="3"/><circle cx="1586.2" cy="752.5" r="3"/><circle cx="1642.2" cy="718.3" r="3"/><circle cx="1593.7" cy="761.4" r="3"/><circle cx="1631.3" cy="736.9" r="3"/><circle cx="1659.2" cy="705.3" r="3"/><circle cx="1630.9" cy="727.8" r="3"/><circle cx="1599.0" cy="746.0" r="3"/><circle cx="1607.7" cy="736.9" r="3"/><circle cx="1549.2" cy="780.2" r="3"/><circle cx="1620.4" cy="729.1" r="3"/><circle cx="1550.1" cy="782.5" r="3"/><circle cx="1526.3" cy="807.6" r="3"/><circle cx="1542.2" cy="791.5" r="3"/><circle cx="1539.6" cy="793.4" r="3"/><circle cx="1571.4" cy="767.3" r="3"/><circle cx="1579.9" cy="759.8" r="3"/><circle cx="1571.6" cy="765.8" r="3"/><circle cx="1599.4" cy="747.1" r="3"/><circle cx="1545.9" cy="791.7" r="3"/><circle cx="1548.7" cy="792.5" r="3"/><circle cx="1558.5" cy="795.8" r="3"/><circle cx="1548.4" cy="792.8" r="3"/><circle cx="1539.5" cy="789.0" r="3"/><circle cx="1548.4" cy="797.1" r="3"/><circle cx="1515.2" cy="808.2" r="3"/><circle cx="1528.6" cy="792.0" r="3"/><circle cx="1558.3" cy="770.5" r="3"/><circle cx="1532.4" cy="796.3" r="3"/><circle cx="1598.4" cy="746.7" r="3"/><circle cx="1601.9" cy="754.0" r="3"/><circle cx="1604.5" cy="751.5" r="3"/><circle cx="1643.7" cy="730.4" r="3"/><circle cx="1629.3" cy="741.6" r="3"/><circle cx="1604.7" cy="764.2" r="3"/><circle cx="1583.5" cy="778.5" r="3"/><circle cx="1600.8" cy="759.2" r="3"/><circle cx="1582.8" cy="776.8" r="3"/><circle cx="1572.9" cy="774.8" r="3"/><circle cx="1518.0" cy="816.7" r="3"/><circle cx="1515.5" cy="821.9" r="3"/><circle cx="1505.9" cy="821.3" r="3"/><circle cx="1507.3" cy="829.4" r="3"/><circle cx="1546.3" cy="798.0" r="3"/><circle cx="1544.9" cy="807.2" r="3"/><circle cx="1599.7" cy="770.5" r="3"/><circle cx="1579.4" cy="767.3" r="3"/><circle cx="1579.4" cy="771.0" r="3"/><circle cx="1580.9" cy="777.1" r="3"/><circle cx="1569.7" cy="782.6" r="3"/><circle cx="1570.1" cy="778.1" r="3"/><circle cx="1551.3" cy="801.3" r="3"/><circle cx="1574.8" cy="780.7" r="3"/><circle cx="1555.5" cy="782.9" r="3"/><circle cx="1535.5" cy="795.7" r="3"/><circle cx="1522.7" cy="812.1" r="3"/><circle cx="1507.3" cy="837.8" r="3"/><circle cx="1512.7" cy="818.8" r="3"/><circle cx="1483.2" cy="836.8" r="3"/><circle cx="1524.3" cy="809.9" r="3"/><circle cx="1516.0" cy="821.2" r="3"/><circle cx="1444.2" cy="877.1" r="3"/><circle cx="1422.0" cy="890.0" r="3"/><circle cx="1379.5" cy="920.6" r="3"/><circle cx="1430.5" cy="883.3" r="3"/><circle cx="1459.1" cy="865.7" r="3"/><circle cx="1500.8" cy="832.3" r="3"/><circle cx="1476.1" cy="858.3" r="3"/><circle cx="1461.0" cy="868.0" r="3"/><circle cx="1493.6" cy="830.1" r="3"/><circle cx="1518.3" cy="817.8" r="3"/><circle cx="1529.6" cy="817.2" r="3"/><circle cx="1560.0" cy="790.9" r="3"/><circle cx="1601.5" cy="751.1" r="3"/><circle cx="1625.2" cy="742.1" r="3"/><circle cx="1619.4" cy="744.5" r="3"/><circle cx="1614.1" cy="752.8" r="3"/><circle cx="1612.0" cy="759.2" r="3"/><circle cx="1548.2" cy="795.5" r="3"/><circle cx="1515.4" cy="823.2" r="3"/><circle cx="1516.3" cy="827.6" r="3"/><circle cx="1490.9" cy="848.0" r="3"/><circle cx="1475.1" cy="862.2" r="3"/><circle cx="1485.3" cy="850.0" r="3"/><circle cx="1537.5" cy="798.0" r="3"/><circle cx="1503.4" cy="835.3" r="3"/><circle cx="1495.2" cy="834.7" r="3"/><circle cx="1491.4" cy="844.0" r="3"/><circle cx="1494.6" cy="840.1" r="3"/><circle cx="1534.9" cy="815.5" r="3"/><circle cx="1503.8" cy="848.2" r="3"/><circle cx="1477.6" cy="863.7" r="3"/><circle cx="1431.5" cy="899.6" r="3"/><circle cx="1412.5" cy="916.1" r="3"/><circle cx="1440.6" cy="890.3" r="3"/><circle cx="1435.7" cy="901.7" r="3"/><circle cx="1391.4" cy="926.3" r="3"/><circle cx="1388.7" cy="917.5" r="3"/><circle cx="1405.9" cy="909.3" r="3"/><circle cx="1438.2" cy="882.2" r="3"/><circle cx="1417.9" cy="905.2" r="3"/><circle cx="1396.4" cy="917.9" r="3"/><circle cx="1364.2" cy="944.2" r="3"/><circle cx="1322.2" cy="975.5" r="3"/><circle cx="1395.4" cy="926.0" r="3"/><circle cx="1370.2" cy="946.7" r="3"/><circle cx="1346.5" cy="957.9" r="3"/><circle cx="1378.0" cy="938.1" r="3"/><circle cx="1380.9" cy="940.8" r="3"/><circle cx="1371.0" cy="941.8" r="3"/><circle cx="1370.4" cy="945.1" r="3"/><circle cx="1383.5" cy="932.2" r="3"/><circle cx="1377.6" cy="943.9" r="3"/><circle cx="1301.0" cy="982.2" r="3"/><circle cx="1345.2" cy="955.5" r="3"/><circle cx="1317.8" cy="972.1" r="3"/><circle cx="1312.7" cy="972.5" r="3"/><circle cx="1331.5" cy="958.4" r="3"/><circle cx="1361.9" cy="937.1" r="3"/><circle cx="1395.7" cy="919.1" r="3"/><circle cx="1383.3" cy="917.5" r="3"/><circle cx="1419.0" cy="901.8" r="3"/><circle cx="1464.4" cy="879.9" r="3"/><circle cx="1456.0" cy="863.6" r="3"/><circle cx="1493.1" cy="839.8" r="3"/><circle cx="1458.6" cy="863.6" r="3"/><circle cx="1450.3" cy="879.0" r="3"/><circle cx="1438.0" cy="882.6" r="3"/><circle cx="1400.1" cy="914.8" r="3"/><circle cx="1393.7" cy="902.3" r="3"/><circle cx="1365.0" cy="936.9" r="3"/><circle cx="1348.9" cy="942.7" r="3"/><circle cx="1303.7" cy="975.0" r="3"/><circle cx="1312.3" cy="965.1" r="3"/><circle cx="1301.0" cy="973.1" r="3"/><circle cx="1326.3" cy="965.4" r="3"/><circle cx="1397.6" cy="926.5" r="3"/><circle cx="1368.0" cy="942.7" r="3"/><circle cx="1375.9" cy="946.3" r="3"/><circle cx="1344.8" cy="960.3" r="3"/><circle cx="1351.7" cy="950.8" r="3"/><circle cx="1358.0" cy="949.7" r="3"/><circle cx="1392.6" cy="918.9" r="3"/><circle cx="1411.4" cy="896.4" r="3"/><circle cx="1394.6" cy="907.4" r="3"/><circle cx="1336.7" cy="959.0" r="3"/><circle cx="1301.0" cy="985.8" r="3"/><circle cx="1301.0" cy="986.7" r="3"/><circle cx="1301.0" cy="987.8" r="3"/><circle cx="1307.2" cy="979.1" r="3"/><circle cx="1316.7" cy="973.9" r="3"/><circle cx="1333.9" cy="978.5" r="3"/><circle cx="1301.0" cy="985.9" r="3"/><circle cx="1356.7" cy="953.5" r="3"/><circle cx="1332.4" cy="963.5" r="3"/><circle cx="1314.3" cy="970.1" r="3"/><circle cx="1321.3" cy="976.5" r="3"/><circle cx="1345.9" cy="963.9" r="3"/><circle cx="1367.0" cy="944.1" r="3"/><circle cx="1379.4" cy="928.3" r="3"/><circle cx="1406.6" cy="900.9" r="3"/><circle cx="1411.2" cy="899.1" r="3"/><circle cx="1464.1" cy="857.6" r="3"/><circle cx="1461.6" cy="867.8" r="3"/><circle cx="1379.9" cy="930.3" r="3"/><circle cx="1368.4" cy="946.8" r="3"/><circle cx="1399.5" cy="934.3" r="3"/><circle cx="1344.4" cy="963.8" r="3"/><circle cx="1380.4" cy="938.4" r="3"/><circle cx="1357.0" cy="942.5" r="3"/><circle cx="1315.8" cy="974.2" r="3"/><circle cx="1372.4" cy="942.0" r="3"/><circle cx="1401.9" cy="922.5" r="3"/><circle cx="1385.7" cy="937.8" r="3"/><circle cx="1401.3" cy="915.3" r="3"/><circle cx="1407.5" cy="906.0" r="3"/><circle cx="1390.3" cy="913.3" r="3"/><circle cx="1305.1" cy="970.9" r="3"/><circle cx="1301.0" cy="991.5" r="3"/><circle cx="1308.3" cy="967.2" r="3"/><circle cx="1314.4" cy="978.5" r="3"/><circle cx="1314.9" cy="959.2" r="3"/><circle cx="1325.6" cy="975.0" r="3"/><circle cx="1325.0" cy="969.4" r="3"/><circle cx="1301.0" cy="986.3" r="3"/><circle cx="1359.9" cy="956.4" r="3"/><circle cx="1349.5" cy="958.9" r="3"/><circle cx="1301.0" cy="977.4" r="3"/><circle cx="1301.0" cy="997.2" r="3"/><circle cx="1334.2" cy="959.9" r="3"/><circle cx="1309.0" cy="974.4" r="3"/><circle cx="1322.9" cy="960.9" r="3"/><circle cx="1306.2" cy="971.5" r="3"/><circle cx="1310.3" cy="961.3" r="3"/><circle cx="1301.0" cy="998.2" r="3"/><circle cx="1336.8" cy="950.8" r="3"/><circle cx="1301.0" cy="977.8" r="3"/><circle cx="1319.1" cy="970.9" r="3"/><circle cx="1320.3" cy="976.3" r="3"/><circle cx="1392.6" cy="914.9" r="3"/><circle cx="1354.4" cy="941.4" r="3"/><circle cx="1399.5" cy="902.9" r="3"/><circle cx="1396.7" cy="921.6" r="3"/><circle cx="1373.7" cy="938.3" r="3"/><circle cx="1392.7" cy="924.1" r="3"/><circle cx="1417.9" cy="897.8" r="3"/><circle cx="1428.7" cy="891.9" r="3"/><circle cx="1417.4" cy="900.3" r="3"/><circle cx="1414.7" cy="913.9" r="3"/><circle cx="1377.5" cy="939.7" r="3"/><circle cx="1387.0" cy="933.8" r="3"/><circle cx="1377.4" cy="929.7" r="3"/><circle cx="1393.9" cy="910.3" r="3"/><circle cx="1385.3" cy="909.6" r="3"/><circle cx="1421.7" cy="891.4" r="3"/><circle cx="1449.5" cy="868.3" r="3"/><circle cx="1434.5" cy="878.2" r="3"/><circle cx="1363.0" cy="926.2" r="3"/><circle cx="1316.6" cy="962.7" r="3"/><circle cx="1301.0" cy="991.4" r="3"/><circle cx="1329.6" cy="955.2" r="3"/><circle cx="1301.0" cy="979.7" r="3"/><circle cx="1337.7" cy="939.4" r="3"/><circle cx="1355.5" cy="931.5" r="3"/><circle cx="1401.1" cy="894.6" r="3"/><circle cx="1412.4" cy="880.4" r="3"/><circle cx="1382.2" cy="902.7" r="3"/><circle cx="1382.4" cy="916.6" r="3"/><circle cx="1387.3" cy="914.9" r="3"/><circle cx="1393.5" cy="915.4" r="3"/><circle cx="1365.6" cy="937.9" r="3"/><circle cx="1380.6" cy="932.1" r="3"/><circle cx="1395.5" cy="901.0" r="3"/><circle cx="1335.5" cy="953.5" r="3"/><circle cx="1360.1" cy="938.8" r="3"/><circle cx="1352.0" cy="947.4" r="3"/><circle cx="1339.1" cy="953.9" r="3"/><circle cx="1389.1" cy="919.9" r="3"/><circle cx="1386.5" cy="921.0" r="3"/><circle cx="1402.1" cy="902.7" r="3"/><circle cx="1327.2" cy="958.8" r="3"/><circle cx="1390.4" cy="909.3" r="3"/><circle cx="1360.7" cy="937.3" r="3"/><circle cx="1354.2" cy="922.6" r="3"/><circle cx="1372.1" cy="919.1" r="3"/><circle cx="1301.0" cy="985.0" r="3"/><circle cx="1304.9" cy="974.4" r="3"/><circle cx="1306.6" cy="967.0" r="3"/><circle cx="1387.0" cy="913.2" r="3"/><circle cx="1379.5" cy="919.1" r="3"/><circle cx="1403.5" cy="915.9" r="3"/><circle cx="1372.5" cy="937.9" r="3"/><circle cx="1406.3" cy="899.3" r="3"/><circle cx="1460.6" cy="856.7" r="3"/><circle cx="1442.7" cy="879.8" r="3"/><circle cx="1448.1" cy="877.8" r="3"/><circle cx="1379.6" cy="923.7" r="3"/><circle cx="1409.8" cy="890.5" r="3"/><circle cx="1460.4" cy="848.7" r="3"/><circle cx="1487.5" cy="834.8" r="3"/><circle cx="1498.4" cy="821.9" r="3"/><circle cx="1484.0" cy="833.9" r="3"/><circle cx="1445.5" cy="865.6" r="3"/><circle cx="1476.5" cy="829.4" r="3"/><circle cx="1423.5" cy="879.8" r="3"/><circle cx="1424.5" cy="889.3" r="3"/><circle cx="1419.1" cy="873.3" r="3"/><circle cx="1461.6" cy="853.9" r="3"/><circle cx="1465.5" cy="849.3" r="3"/><circle cx="1451.5" cy="857.8" r="3"/><circle cx="1441.3" cy="876.2" r="3"/><circle cx="1388.3" cy="899.3" r="3"/><circle cx="1377.0" cy="903.3" r="3"/><circle cx="1373.4" cy="915.4" r="3"/><circle cx="1370.3" cy="927.1" r="3"/><circle cx="1347.6" cy="938.3" r="3"/><circle cx="1320.0" cy="951.4" r="3"/><circle cx="1301.0" cy="987.0" r="3"/><circle cx="1301.0" cy="980.5" r="3"/><circle cx="1301.0" cy="981.5" r="3"/><circle cx="1315.8" cy="960.7" r="3"/><circle cx="1361.8" cy="922.9" r="3"/><circle cx="1428.0" cy="866.1" r="3"/><circle cx="1392.1" cy="900.6" r="3"/><circle cx="1397.4" cy="900.3" r="3"/><circle cx="1419.1" cy="875.1" r="3"/><circle cx="1431.6" cy="868.5" r="3"/><circle cx="1425.1" cy="874.3" r="3"/><circle cx="1504.8" cy="806.4" r="3"/><circle cx="1484.8" cy="829.0" r="3"/><circle cx="1430.0" cy="866.7" r="3"/><circle cx="1402.5" cy="892.5" r="3"/><circle cx="1442.3" cy="870.1" r="3"/><circle cx="1447.4" cy="863.7" r="3"/><circle cx="1437.8" cy="884.3" r="3"/><circle cx="1408.1" cy="896.5" r="3"/><circle cx="1466.8" cy="860.0" r="3"/><circle cx="1474.5" cy="847.0" r="3"/><circle cx="1461.6" cy="859.9" r="3"/><circle cx="1473.2" cy="842.4" r="3"/><circle cx="1490.2" cy="825.3" r="3"/><circle cx="1448.9" cy="859.1" r="3"/><circle cx="1436.7" cy="858.8" r="3"/><circle cx="1484.1" cy="831.8" r="3"/><circle cx="1460.4" cy="851.6" r="3"/><circle cx="1436.8" cy="882.6" r="3"/><circle cx="1425.1" cy="878.8" r="3"/><circle cx="1451.4" cy="849.1" r="3"/><circle cx="1478.6" cy="817.9" r="3"/><circle cx="1424.1" cy="864.2" r="3"/><circle cx="1527.0" cy="780.5" r="3"/><circle cx="1509.9" cy="806.0" r="3"/><circle cx="1541.3" cy="789.6" r="3"/><circle cx="1564.6" cy="759.7" r="3"/><circle cx="1572.2" cy="752.2" r="3"/><circle cx="1579.3" cy="758.7" r="3"/><circle cx="1520.6" cy="796.0" r="3"/><circle cx="1557.8" cy="771.9" r="3"/><circle cx="1528.8" cy="796.3" r="3"/><circle cx="1451.5" cy="857.8" r="3"/><circle cx="1551.4" cy="781.0" r="3"/><circle cx="1562.9" cy="761.8" r="3"/><circle cx="1604.2" cy="727.0" r="3"/><circle cx="1557.7" cy="768.3" r="3"/><circle cx="1629.4" cy="723.1" r="3"/><circle cx="1646.1" cy="707.4" r="3"/><circle cx="1637.9" cy="699.8" r="3"/><circle cx="1582.0" cy="746.1" r="3"/><circle cx="1553.2" cy="764.4" r="3"/><circle cx="1496.5" cy="815.4" r="3"/><circle cx="1447.3" cy="858.6" r="3"/><circle cx="1481.9" cy="840.2" r="3"/><circle cx="1452.1" cy="863.4" r="3"/><circle cx="1474.2" cy="830.9" r="3"/><circle cx="1465.3" cy="842.9" r="3"/><circle cx="1569.3" cy="771.5" r="3"/><circle cx="1588.4" cy="752.7" r="3"/><circle cx="1584.6" cy="761.3" r="3"/><circle cx="1619.9" cy="733.2" r="3"/><circle cx="1581.6" cy="757.6" r="3"/><circle cx="1577.5" cy="766.9" r="3"/><circle cx="1611.2" cy="739.6" r="3"/><circle cx="1535.8" cy="782.8" r="3"/><circle cx="1529.1" cy="784.1" r="3"/><circle cx="1496.3" cy="821.8" r="3"/><circle cx="1541.9" cy="802.0" r="3"/><circle cx="1588.2" cy="761.9" r="3"/><circle cx="1557.0" cy="785.8" r="3"/><circle cx="1569.0" cy="776.6" r="3"/><circle cx="1541.2" cy="796.8" r="3"/><circle cx="1521.9" cy="817.1" r="3"/><circle cx="1484.3" cy="835.3" r="3"/><circle cx="1537.6" cy="795.0" r="3"/><circle cx="1607.9" cy="738.5" r="3"/><circle cx="1610.9" cy="725.3" r="3"/><circle cx="1563.8" cy="766.7" r="3"/><circle cx="1601.9" cy="746.7" r="3"/><circle cx="1613.3" cy="745.9" r="3"/><circle cx="1586.6" cy="759.1" r="3"/><circle cx="1603.0" cy="745.2" r="3"/><circle cx="1599.8" cy="735.9" r="3"/><circle cx="1606.8" cy="743.8" r="3"/><circle cx="1620.3" cy="736.6" r="3"/><circle cx="1558.6" cy="784.2" r="3"/><circle cx="1535.7" cy="798.0" r="3"/><circle cx="1539.6" cy="800.2" r="3"/><circle cx="1516.1" cy="829.5" r="3"/><circle cx="1497.5" cy="827.8" r="3"/><circle cx="1506.0" cy="835.1" r="3"/><circle cx="1516.1" cy="828.1" r="3"/><circle cx="1566.6" cy="796.3" r="3"/><circle cx="1498.0" cy="836.1" r="3"/><circle cx="1509.6" cy="838.0" r="3"/><circle cx="1493.6" cy="838.6" r="3"/><circle cx="1502.1" cy="821.1" r="3"/><circle cx="1583.3" cy="768.7" r="3"/><circle cx="1593.0" cy="747.0" r="3"/><circle cx="1563.7" cy="770.3" r="3"/><circle cx="1637.9" cy="722.4" r="3"/><circle cx="1553.7" cy="771.6" r="3"/><circle cx="1584.7" cy="749.7" r="3"/><circle cx="1567.8" cy="762.2" r="3"/><circle cx="1481.8" cy="833.8" r="3"/><circle cx="1577.1" cy="761.5" r="3"/><circle cx="1627.6" cy="724.1" r="3"/><circle cx="1577.0" cy="763.6" r="3"/><circle cx="1599.6" cy="752.3" r="3"/><circle cx="1583.7" cy="772.2" r="3"/><circle cx="1746.6" cy="603.7" r="3"/><circle cx="1725.7" cy="624.2" r="3"/><circle cx="1731.8" cy="634.9" r="3"/><circle cx="1659.6" cy="662.8" r="3"/><circle cx="1659.2" cy="665.7" r="3"/><circle cx="1668.5" cy="679.4" r="3"/><circle cx="1641.0" cy="684.7" r="3"/><circle cx="1671.8" cy="700.4" r="3"/><circle cx="1658.0" cy="691.0" r="3"/><circle cx="1660.9" cy="693.2" r="3"/><circle cx="1642.6" cy="696.2" r="3"/><circle cx="1650.8" cy="695.2" r="3"/><circle cx="1647.8" cy="699.1" r="3"/><circle cx="1655.7" cy="698.8" r="3"/><circle cx="1625.9" cy="702.4" r="3"/><circle cx="1637.1" cy="702.4" r="3"/><circle cx="1634.1" cy="704.6" r="3"/><circle cx="1657.6" cy="725.3" r="3"/><circle cx="1647.5" cy="722.0" r="3"/><circle cx="1637.3" cy="748.9" r="3"/><circle cx="1639.7" cy="753.8" r="3"/><circle cx="1629.9" cy="753.0" r="3"/>
</g>
<path d="M1301.05 986.7L1755.5 627.6" stroke="#fff" stroke-width="5.6" fill="none"/>
<path d="M1301.05 986.7L1755.5 627.6" stroke="#000" stroke-width="3.6" fill="none"/>
</g>
<text transform="translate(1648.4 952.95) scale(1.0288 1)" font-size="27.3">= 0.987</text>
<text transform="translate(1631.38 940.35) scale(1.0490 1)" font-size="17.6">2</text>
<text transform="translate(1614.46 952.95) scale(0.7770 1)" font-size="27.3" font-style="italic">R</text>
<text transform="translate(1515.39 981.95) scale(0.9647 1)" font-size="27.3">RMSE = 3.276 GW</text>
<g stroke="#1a1a1a" stroke-width="1.5" fill="none">
<rect x="95.3" y="1147.85" width="454.7" height="411"/>
<path d="M95.3 1533.4h8.6M95.3 1472.1h8.6M95.3 1410.8h8.6M95.3 1349.5h8.6M95.3 1288.2h8.6M95.3 1226.9h8.6M95.3 1165.6h8.6M226.05 1558.85v-8.6M356.8 1558.85v-8.6M487.55 1558.85v-8.6" stroke-width="1.3"/>
</g>
<text transform="translate(54.43 1538.27) scale(1.1071 1)" font-size="23">20</text>
<text transform="translate(53.44 1477.55) scale(1.1470 1)" font-size="23">40</text>
<text transform="translate(53.06 1416.83) scale(1.1622 1)" font-size="23">60</text>
<text transform="translate(53.52 1356.11) scale(1.1439 1)" font-size="23">80</text>
<text transform="translate(40.92 1295.39) scale(1.0905 1)" font-size="23">100</text>
<text transform="translate(44.27 1234.67) scale(1.0010 1)" font-size="23">120</text>
<text transform="translate(43.23 1173.95) scale(1.0289 1)" font-size="23">140</text>
<text transform="translate(87.35 1589.15) scale(1.1991 1)" font-size="23">0</text>
<text transform="translate(219.15 1589.15) scale(1.0343 1)" font-size="23">5</text>
<text transform="translate(343.5 1589.15) scale(0.9826 1)" font-size="23">10</text>
<text transform="translate(475.45 1589.15) scale(0.8958 1)" font-size="23">15</text>
<text transform="translate(288.18 1629.05) scale(0.9481 1)" font-size="27.3">HDDs</text>
<text transform="translate(23.4 1517.09) rotate(-90) scale(1.0274 1)" font-size="27.3">Natural gas demand (GW)</text>
<text transform="translate(-0.04 1149.8) scale(1.1100 1)" font-size="38" font-weight="700" stroke="#000" stroke-width="0.9">g</text>
<clipPath id="c6"><rect x="95.3" y="1147.85" width="454.7" height="411"/></clipPath>
<g clip-path="url(#c6)"><g fill="#692098" fill-opacity="0.3">
<circle cx="371.5" cy="1319.0" r="3"/><circle cx="369.9" cy="1321.1" r="3"/><circle cx="368.5" cy="1321.7" r="3"/><circle cx="359.6" cy="1332.7" r="3"/><circle cx="345.8" cy="1338.8" r="3"/><circle cx="350.9" cy="1348.1" r="3"/><circle cx="344.7" cy="1343.8" r="3"/><circle cx="419.0" cy="1289.2" r="3"/><circle cx="379.5" cy="1321.4" r="3"/><circle cx="380.4" cy="1327.3" r="3"/><circle cx="390.8" cy="1326.7" r="3"/><circle cx="403.8" cy="1313.8" r="3"/><circle cx="414.9" cy="1296.2" r="3"/><circle cx="360.1" cy="1336.3" r="3"/><circle cx="366.4" cy="1326.0" r="3"/><circle cx="386.9" cy="1313.7" r="3"/><circle cx="333.8" cy="1355.6" r="3"/><circle cx="332.0" cy="1359.2" r="3"/><circle cx="290.1" cy="1401.2" r="3"/><circle cx="264.9" cy="1420.1" r="3"/><circle cx="241.7" cy="1440.3" r="3"/><circle cx="249.1" cy="1426.9" r="3"/><circle cx="225.4" cy="1448.3" r="3"/><circle cx="253.7" cy="1425.6" r="3"/><circle cx="279.6" cy="1400.5" r="3"/><circle cx="277.4" cy="1397.6" r="3"/><circle cx="230.8" cy="1440.1" r="3"/><circle cx="254.4" cy="1423.4" r="3"/><circle cx="258.3" cy="1419.8" r="3"/><circle cx="263.7" cy="1409.5" r="3"/><circle cx="243.1" cy="1435.9" r="3"/><circle cx="250.4" cy="1436.6" r="3"/><circle cx="211.9" cy="1445.7" r="3"/><circle cx="215.3" cy="1449.7" r="3"/><circle cx="272.8" cy="1405.0" r="3"/><circle cx="278.4" cy="1416.5" r="3"/><circle cx="297.1" cy="1399.8" r="3"/><circle cx="318.5" cy="1379.4" r="3"/><circle cx="307.4" cy="1390.0" r="3"/><circle cx="300.2" cy="1395.7" r="3"/><circle cx="328.6" cy="1370.6" r="3"/><circle cx="318.0" cy="1375.0" r="3"/><circle cx="287.0" cy="1394.0" r="3"/><circle cx="301.1" cy="1392.9" r="3"/><circle cx="358.3" cy="1352.4" r="3"/><circle cx="286.5" cy="1403.3" r="3"/><circle cx="320.8" cy="1372.5" r="3"/><circle cx="346.1" cy="1357.2" r="3"/><circle cx="302.1" cy="1400.2" r="3"/><circle cx="380.8" cy="1336.1" r="3"/><circle cx="390.7" cy="1323.4" r="3"/><circle cx="323.4" cy="1370.6" r="3"/><circle cx="316.0" cy="1369.9" r="3"/><circle cx="329.8" cy="1356.3" r="3"/><circle cx="313.8" cy="1379.6" r="3"/><circle cx="322.3" cy="1360.4" r="3"/><circle cx="301.1" cy="1377.5" r="3"/><circle cx="321.3" cy="1366.1" r="3"/><circle cx="357.6" cy="1340.1" r="3"/><circle cx="319.5" cy="1366.0" r="3"/><circle cx="325.1" cy="1367.2" r="3"/><circle cx="308.7" cy="1383.6" r="3"/><circle cx="290.0" cy="1397.9" r="3"/><circle cx="267.9" cy="1406.7" r="3"/><circle cx="262.6" cy="1424.4" r="3"/><circle cx="247.8" cy="1428.6" r="3"/><circle cx="286.7" cy="1412.0" r="3"/><circle cx="320.4" cy="1385.7" r="3"/><circle cx="271.9" cy="1419.7" r="3"/><circle cx="236.4" cy="1439.7" r="3"/><circle cx="252.0" cy="1436.6" r="3"/><circle cx="201.3" cy="1468.3" r="3"/><circle cx="205.1" cy="1458.2" r="3"/><circle cx="177.8" cy="1486.2" r="3"/><circle cx="250.8" cy="1431.1" r="3"/><circle cx="264.8" cy="1420.7" r="3"/><circle cx="260.4" cy="1436.2" r="3"/><circle cx="233.0" cy="1437.1" r="3"/><circle cx="202.8" cy="1461.2" r="3"/><circle cx="272.7" cy="1416.2" r="3"/><circle cx="256.2" cy="1424.3" r="3"/><circle cx="225.3" cy="1447.0" r="3"/><circle cx="234.1" cy="1442.6" r="3"/><circle cx="229.8" cy="1445.5" r="3"/><circle cx="208.9" cy="1456.7" r="3"/><circle cx="198.8" cy="1470.6" r="3"/><circle cx="189.8" cy="1484.2" r="3"/><circle cx="178.6" cy="1479.5" r="3"/><circle cx="199.9" cy="1463.4" r="3"/><circle cx="238.9" cy="1437.6" r="3"/><circle cx="212.5" cy="1449.0" r="3"/><circle cx="228.5" cy="1455.2" r="3"/><circle cx="237.2" cy="1452.3" r="3"/><circle cx="241.9" cy="1439.6" r="3"/><circle cx="233.2" cy="1444.1" r="3"/><circle cx="255.3" cy="1424.0" r="3"/><circle cx="188.9" cy="1481.3" r="3"/><circle cx="202.1" cy="1474.0" r="3"/><circle cx="169.5" cy="1498.9" r="3"/><circle cx="114.8" cy="1537.1" r="3"/><circle cx="115.8" cy="1527.0" r="3"/><circle cx="101.8" cy="1524.2" r="3"/><circle cx="95.3" cy="1556.6" r="3"/><circle cx="176.4" cy="1474.7" r="3"/><circle cx="180.6" cy="1487.2" r="3"/><circle cx="155.5" cy="1503.3" r="3"/><circle cx="166.9" cy="1501.3" r="3"/><circle cx="168.7" cy="1487.6" r="3"/><circle cx="166.7" cy="1493.5" r="3"/><circle cx="150.4" cy="1502.9" r="3"/><circle cx="195.7" cy="1468.1" r="3"/><circle cx="198.9" cy="1472.4" r="3"/><circle cx="151.4" cy="1509.1" r="3"/><circle cx="151.9" cy="1506.1" r="3"/><circle cx="158.3" cy="1496.1" r="3"/><circle cx="111.4" cy="1522.8" r="3"/><circle cx="127.3" cy="1516.0" r="3"/><circle cx="101.1" cy="1540.7" r="3"/><circle cx="139.9" cy="1504.5" r="3"/><circle cx="133.5" cy="1511.5" r="3"/><circle cx="137.0" cy="1508.0" r="3"/><circle cx="143.0" cy="1510.3" r="3"/><circle cx="125.5" cy="1516.5" r="3"/><circle cx="95.3" cy="1533.2" r="3"/><circle cx="95.3" cy="1535.0" r="3"/><circle cx="112.0" cy="1523.7" r="3"/><circle cx="95.3" cy="1539.4" r="3"/><circle cx="128.1" cy="1517.1" r="3"/><circle cx="95.3" cy="1530.4" r="3"/><circle cx="95.3" cy="1535.9" r="3"/><circle cx="162.4" cy="1528.8" r="3"/><circle cx="108.2" cy="1535.6" r="3"/><circle cx="96.8" cy="1536.8" r="3"/><circle cx="138.4" cy="1522.0" r="3"/><circle cx="104.4" cy="1533.0" r="3"/><circle cx="158.9" cy="1503.4" r="3"/><circle cx="160.2" cy="1497.7" r="3"/><circle cx="140.7" cy="1510.1" r="3"/><circle cx="129.9" cy="1517.9" r="3"/><circle cx="99.6" cy="1533.1" r="3"/><circle cx="137.7" cy="1510.4" r="3"/><circle cx="130.1" cy="1517.6" r="3"/><circle cx="113.8" cy="1521.0" r="3"/><circle cx="98.0" cy="1542.3" r="3"/><circle cx="136.3" cy="1527.6" r="3"/><circle cx="95.3" cy="1539.5" r="3"/><circle cx="100.5" cy="1529.3" r="3"/><circle cx="108.6" cy="1523.2" r="3"/><circle cx="130.2" cy="1515.1" r="3"/><circle cx="130.8" cy="1515.7" r="3"/><circle cx="116.0" cy="1517.0" r="3"/><circle cx="95.3" cy="1532.6" r="3"/><circle cx="102.7" cy="1543.1" r="3"/><circle cx="95.3" cy="1537.3" r="3"/><circle cx="117.2" cy="1525.6" r="3"/><circle cx="95.3" cy="1549.0" r="3"/><circle cx="95.3" cy="1543.0" r="3"/><circle cx="95.3" cy="1547.8" r="3"/><circle cx="95.7" cy="1542.1" r="3"/><circle cx="113.2" cy="1538.3" r="3"/><circle cx="96.9" cy="1534.6" r="3"/><circle cx="125.4" cy="1532.8" r="3"/><circle cx="123.7" cy="1515.4" r="3"/><circle cx="96.1" cy="1534.6" r="3"/><circle cx="130.5" cy="1512.6" r="3"/><circle cx="95.3" cy="1533.8" r="3"/><circle cx="95.3" cy="1531.0" r="3"/><circle cx="117.6" cy="1526.7" r="3"/><circle cx="95.3" cy="1550.0" r="3"/><circle cx="95.3" cy="1540.3" r="3"/><circle cx="96.4" cy="1534.3" r="3"/><circle cx="95.3" cy="1529.5" r="3"/><circle cx="95.3" cy="1541.5" r="3"/><circle cx="138.9" cy="1517.3" r="3"/><circle cx="95.3" cy="1542.1" r="3"/><circle cx="95.3" cy="1531.9" r="3"/><circle cx="95.3" cy="1542.8" r="3"/><circle cx="95.3" cy="1537.5" r="3"/><circle cx="106.8" cy="1535.7" r="3"/><circle cx="104.9" cy="1536.4" r="3"/><circle cx="116.4" cy="1540.0" r="3"/><circle cx="104.0" cy="1545.5" r="3"/><circle cx="129.1" cy="1508.7" r="3"/><circle cx="95.3" cy="1530.9" r="3"/><circle cx="95.3" cy="1532.4" r="3"/><circle cx="107.5" cy="1527.9" r="3"/><circle cx="125.0" cy="1498.4" r="3"/><circle cx="161.1" cy="1480.6" r="3"/><circle cx="162.4" cy="1480.6" r="3"/><circle cx="155.5" cy="1487.8" r="3"/><circle cx="133.0" cy="1525.2" r="3"/><circle cx="158.2" cy="1497.8" r="3"/><circle cx="173.7" cy="1484.2" r="3"/><circle cx="164.0" cy="1490.0" r="3"/><circle cx="161.1" cy="1493.9" r="3"/><circle cx="187.7" cy="1471.6" r="3"/><circle cx="195.1" cy="1459.0" r="3"/><circle cx="201.5" cy="1448.2" r="3"/><circle cx="180.1" cy="1483.3" r="3"/><circle cx="240.6" cy="1434.7" r="3"/><circle cx="172.8" cy="1484.9" r="3"/><circle cx="209.7" cy="1469.1" r="3"/><circle cx="204.0" cy="1463.4" r="3"/><circle cx="205.4" cy="1450.6" r="3"/><circle cx="264.5" cy="1412.6" r="3"/><circle cx="287.7" cy="1406.0" r="3"/><circle cx="228.4" cy="1450.2" r="3"/><circle cx="157.2" cy="1491.8" r="3"/><circle cx="157.4" cy="1474.0" r="3"/><circle cx="128.7" cy="1504.1" r="3"/><circle cx="133.5" cy="1504.3" r="3"/><circle cx="166.2" cy="1484.6" r="3"/><circle cx="115.3" cy="1521.7" r="3"/><circle cx="110.0" cy="1527.8" r="3"/><circle cx="106.0" cy="1536.7" r="3"/><circle cx="109.8" cy="1520.4" r="3"/><circle cx="118.1" cy="1525.5" r="3"/><circle cx="112.4" cy="1521.9" r="3"/><circle cx="121.4" cy="1524.6" r="3"/><circle cx="101.2" cy="1542.7" r="3"/><circle cx="95.3" cy="1547.2" r="3"/><circle cx="95.3" cy="1537.5" r="3"/><circle cx="115.4" cy="1531.6" r="3"/><circle cx="103.2" cy="1535.1" r="3"/><circle cx="108.6" cy="1535.6" r="3"/><circle cx="137.2" cy="1510.6" r="3"/><circle cx="99.8" cy="1538.7" r="3"/><circle cx="118.5" cy="1522.8" r="3"/><circle cx="95.3" cy="1544.1" r="3"/><circle cx="95.3" cy="1536.6" r="3"/><circle cx="103.5" cy="1529.9" r="3"/><circle cx="95.3" cy="1546.6" r="3"/><circle cx="112.4" cy="1519.9" r="3"/><circle cx="137.5" cy="1498.5" r="3"/><circle cx="207.9" cy="1438.3" r="3"/><circle cx="166.9" cy="1470.3" r="3"/><circle cx="205.7" cy="1446.1" r="3"/><circle cx="177.8" cy="1459.4" r="3"/><circle cx="182.8" cy="1458.2" r="3"/><circle cx="134.7" cy="1492.1" r="3"/><circle cx="137.3" cy="1486.3" r="3"/><circle cx="160.9" cy="1477.1" r="3"/><circle cx="201.3" cy="1453.1" r="3"/><circle cx="198.3" cy="1459.0" r="3"/><circle cx="171.1" cy="1464.7" r="3"/><circle cx="224.3" cy="1426.0" r="3"/><circle cx="234.1" cy="1423.4" r="3"/><circle cx="152.5" cy="1479.6" r="3"/><circle cx="161.9" cy="1481.1" r="3"/><circle cx="106.4" cy="1521.7" r="3"/><circle cx="100.3" cy="1528.1" r="3"/><circle cx="95.3" cy="1530.9" r="3"/><circle cx="135.7" cy="1501.3" r="3"/><circle cx="169.0" cy="1473.1" r="3"/><circle cx="137.4" cy="1493.3" r="3"/><circle cx="132.2" cy="1498.1" r="3"/><circle cx="193.3" cy="1460.3" r="3"/><circle cx="223.0" cy="1442.4" r="3"/><circle cx="239.4" cy="1426.5" r="3"/><circle cx="219.5" cy="1435.7" r="3"/><circle cx="247.4" cy="1416.0" r="3"/><circle cx="277.5" cy="1394.7" r="3"/><circle cx="305.7" cy="1382.0" r="3"/><circle cx="277.6" cy="1395.7" r="3"/><circle cx="258.4" cy="1408.0" r="3"/><circle cx="290.3" cy="1387.7" r="3"/><circle cx="259.3" cy="1412.4" r="3"/><circle cx="286.9" cy="1377.2" r="3"/><circle cx="236.7" cy="1424.9" r="3"/><circle cx="269.5" cy="1402.5" r="3"/><circle cx="256.4" cy="1406.7" r="3"/><circle cx="252.6" cy="1422.8" r="3"/><circle cx="288.5" cy="1391.2" r="3"/><circle cx="348.8" cy="1339.8" r="3"/><circle cx="322.9" cy="1363.2" r="3"/><circle cx="349.4" cy="1340.8" r="3"/><circle cx="338.0" cy="1349.0" r="3"/><circle cx="255.1" cy="1413.5" r="3"/><circle cx="295.2" cy="1380.6" r="3"/><circle cx="267.8" cy="1397.4" r="3"/><circle cx="271.9" cy="1389.8" r="3"/><circle cx="253.3" cy="1408.1" r="3"/><circle cx="254.0" cy="1411.2" r="3"/><circle cx="295.3" cy="1392.2" r="3"/><circle cx="327.7" cy="1353.4" r="3"/><circle cx="315.3" cy="1361.2" r="3"/><circle cx="304.5" cy="1368.9" r="3"/><circle cx="365.5" cy="1314.0" r="3"/><circle cx="348.5" cy="1334.4" r="3"/><circle cx="337.3" cy="1348.3" r="3"/><circle cx="280.9" cy="1388.5" r="3"/><circle cx="348.2" cy="1357.2" r="3"/><circle cx="364.5" cy="1330.3" r="3"/><circle cx="370.2" cy="1321.7" r="3"/><circle cx="389.6" cy="1314.0" r="3"/><circle cx="404.0" cy="1304.3" r="3"/><circle cx="372.4" cy="1317.9" r="3"/><circle cx="387.8" cy="1310.7" r="3"/><circle cx="348.9" cy="1334.4" r="3"/><circle cx="340.1" cy="1340.1" r="3"/><circle cx="396.9" cy="1297.0" r="3"/><circle cx="413.9" cy="1285.5" r="3"/><circle cx="390.4" cy="1304.8" r="3"/><circle cx="353.2" cy="1336.5" r="3"/><circle cx="341.4" cy="1343.1" r="3"/><circle cx="391.9" cy="1298.0" r="3"/><circle cx="401.8" cy="1305.2" r="3"/><circle cx="375.6" cy="1312.8" r="3"/><circle cx="356.5" cy="1314.9" r="3"/><circle cx="333.8" cy="1349.6" r="3"/><circle cx="315.1" cy="1356.7" r="3"/><circle cx="352.8" cy="1328.8" r="3"/><circle cx="332.5" cy="1342.2" r="3"/><circle cx="339.9" cy="1339.8" r="3"/><circle cx="345.1" cy="1344.6" r="3"/><circle cx="352.7" cy="1332.5" r="3"/><circle cx="304.8" cy="1371.0" r="3"/><circle cx="287.4" cy="1383.0" r="3"/><circle cx="299.7" cy="1381.3" r="3"/><circle cx="341.5" cy="1346.8" r="3"/><circle cx="311.6" cy="1363.2" r="3"/><circle cx="357.0" cy="1338.6" r="3"/><circle cx="386.0" cy="1310.5" r="3"/><circle cx="380.1" cy="1324.9" r="3"/><circle cx="362.5" cy="1328.2" r="3"/><circle cx="334.0" cy="1335.9" r="3"/><circle cx="343.2" cy="1343.1" r="3"/><circle cx="342.3" cy="1344.5" r="3"/><circle cx="341.7" cy="1340.7" r="3"/><circle cx="417.3" cy="1289.2" r="3"/><circle cx="380.0" cy="1310.4" r="3"/><circle cx="367.6" cy="1319.6" r="3"/><circle cx="338.9" cy="1345.7" r="3"/><circle cx="349.9" cy="1330.3" r="3"/><circle cx="323.1" cy="1353.7" r="3"/><circle cx="259.5" cy="1391.0" r="3"/><circle cx="335.2" cy="1330.1" r="3"/><circle cx="303.5" cy="1361.5" r="3"/><circle cx="348.5" cy="1328.9" r="3"/><circle cx="425.0" cy="1281.1" r="3"/><circle cx="423.5" cy="1286.2" r="3"/><circle cx="425.8" cy="1288.8" r="3"/><circle cx="448.5" cy="1263.4" r="3"/><circle cx="438.1" cy="1278.9" r="3"/><circle cx="387.8" cy="1314.5" r="3"/><circle cx="405.2" cy="1301.2" r="3"/><circle cx="442.6" cy="1275.5" r="3"/><circle cx="425.7" cy="1286.3" r="3"/><circle cx="421.5" cy="1293.7" r="3"/><circle cx="397.4" cy="1314.0" r="3"/><circle cx="412.1" cy="1298.7" r="3"/><circle cx="439.5" cy="1285.2" r="3"/><circle cx="436.8" cy="1287.8" r="3"/><circle cx="437.3" cy="1281.5" r="3"/><circle cx="437.0" cy="1275.5" r="3"/><circle cx="419.0" cy="1289.9" r="3"/><circle cx="416.3" cy="1294.4" r="3"/><circle cx="435.9" cy="1289.0" r="3"/><circle cx="417.3" cy="1293.4" r="3"/><circle cx="453.1" cy="1265.8" r="3"/><circle cx="393.1" cy="1318.3" r="3"/><circle cx="413.8" cy="1306.8" r="3"/><circle cx="343.0" cy="1357.9" r="3"/><circle cx="293.8" cy="1392.4" r="3"/><circle cx="341.4" cy="1351.8" r="3"/><circle cx="360.9" cy="1348.9" r="3"/><circle cx="363.4" cy="1341.7" r="3"/><circle cx="317.0" cy="1380.8" r="3"/><circle cx="319.2" cy="1380.4" r="3"/><circle cx="307.6" cy="1384.1" r="3"/><circle cx="319.4" cy="1370.1" r="3"/><circle cx="420.7" cy="1300.7" r="3"/><circle cx="400.2" cy="1307.8" r="3"/><circle cx="367.3" cy="1335.8" r="3"/><circle cx="326.5" cy="1369.7" r="3"/><circle cx="337.0" cy="1366.0" r="3"/><circle cx="344.4" cy="1356.6" r="3"/><circle cx="297.1" cy="1389.2" r="3"/><circle cx="324.2" cy="1371.8" r="3"/><circle cx="317.5" cy="1386.4" r="3"/><circle cx="336.4" cy="1351.2" r="3"/><circle cx="370.3" cy="1320.7" r="3"/><circle cx="383.0" cy="1311.3" r="3"/><circle cx="346.2" cy="1335.6" r="3"/><circle cx="387.8" cy="1313.8" r="3"/><circle cx="376.1" cy="1327.7" r="3"/><circle cx="373.7" cy="1335.8" r="3"/><circle cx="348.5" cy="1353.2" r="3"/><circle cx="294.0" cy="1375.6" r="3"/><circle cx="252.3" cy="1406.0" r="3"/><circle cx="302.5" cy="1377.4" r="3"/><circle cx="293.4" cy="1378.4" r="3"/><circle cx="303.3" cy="1369.5" r="3"/><circle cx="329.2" cy="1345.0" r="3"/><circle cx="290.6" cy="1388.4" r="3"/><circle cx="284.3" cy="1396.0" r="3"/><circle cx="296.8" cy="1394.4" r="3"/><circle cx="330.1" cy="1365.0" r="3"/><circle cx="298.8" cy="1384.2" r="3"/><circle cx="344.8" cy="1349.9" r="3"/><circle cx="339.8" cy="1354.8" r="3"/><circle cx="293.1" cy="1387.5" r="3"/><circle cx="295.3" cy="1391.1" r="3"/><circle cx="316.0" cy="1381.9" r="3"/><circle cx="313.8" cy="1376.8" r="3"/><circle cx="278.5" cy="1418.9" r="3"/><circle cx="311.9" cy="1377.7" r="3"/><circle cx="357.4" cy="1348.0" r="3"/><circle cx="376.9" cy="1333.6" r="3"/><circle cx="367.7" cy="1347.3" r="3"/><circle cx="318.4" cy="1373.4" r="3"/><circle cx="282.4" cy="1394.4" r="3"/><circle cx="362.1" cy="1331.4" r="3"/><circle cx="352.9" cy="1338.6" r="3"/><circle cx="360.0" cy="1326.6" r="3"/><circle cx="339.8" cy="1347.2" r="3"/><circle cx="346.8" cy="1354.1" r="3"/><circle cx="285.2" cy="1410.0" r="3"/><circle cx="284.5" cy="1411.2" r="3"/><circle cx="330.4" cy="1387.8" r="3"/><circle cx="266.6" cy="1434.1" r="3"/><circle cx="320.3" cy="1386.6" r="3"/><circle cx="316.1" cy="1382.3" r="3"/><circle cx="271.9" cy="1417.6" r="3"/><circle cx="238.9" cy="1434.5" r="3"/><circle cx="260.7" cy="1423.6" r="3"/><circle cx="252.6" cy="1429.2" r="3"/><circle cx="240.6" cy="1433.9" r="3"/><circle cx="229.6" cy="1446.3" r="3"/><circle cx="212.6" cy="1459.8" r="3"/><circle cx="216.7" cy="1468.6" r="3"/><circle cx="172.9" cy="1496.5" r="3"/><circle cx="190.7" cy="1484.3" r="3"/><circle cx="216.4" cy="1455.8" r="3"/><circle cx="179.4" cy="1487.8" r="3"/><circle cx="198.0" cy="1471.3" r="3"/><circle cx="166.4" cy="1486.1" r="3"/><circle cx="159.4" cy="1502.4" r="3"/><circle cx="198.0" cy="1472.8" r="3"/><circle cx="203.1" cy="1476.3" r="3"/><circle cx="243.4" cy="1444.3" r="3"/><circle cx="217.8" cy="1462.8" r="3"/><circle cx="238.0" cy="1449.8" r="3"/><circle cx="214.3" cy="1459.9" r="3"/><circle cx="200.9" cy="1474.7" r="3"/><circle cx="217.6" cy="1461.6" r="3"/><circle cx="230.7" cy="1448.4" r="3"/><circle cx="241.9" cy="1439.1" r="3"/><circle cx="224.9" cy="1449.5" r="3"/><circle cx="191.3" cy="1480.7" r="3"/><circle cx="198.3" cy="1465.5" r="3"/><circle cx="186.1" cy="1474.8" r="3"/><circle cx="210.7" cy="1454.0" r="3"/><circle cx="182.6" cy="1476.2" r="3"/><circle cx="187.0" cy="1476.4" r="3"/><circle cx="142.9" cy="1507.0" r="3"/><circle cx="160.5" cy="1494.8" r="3"/><circle cx="148.0" cy="1501.2" r="3"/><circle cx="95.3" cy="1540.1" r="3"/><circle cx="102.7" cy="1523.5" r="3"/><circle cx="142.9" cy="1508.1" r="3"/><circle cx="143.8" cy="1515.4" r="3"/><circle cx="96.5" cy="1542.8" r="3"/><circle cx="95.3" cy="1531.6" r="3"/><circle cx="120.1" cy="1530.1" r="3"/><circle cx="130.1" cy="1525.3" r="3"/><circle cx="95.3" cy="1542.0" r="3"/><circle cx="96.9" cy="1531.5" r="3"/><circle cx="95.3" cy="1546.7" r="3"/><circle cx="107.3" cy="1532.0" r="3"/><circle cx="119.8" cy="1524.4" r="3"/><circle cx="101.7" cy="1529.9" r="3"/><circle cx="95.3" cy="1551.6" r="3"/><circle cx="99.2" cy="1543.7" r="3"/><circle cx="102.2" cy="1538.3" r="3"/><circle cx="124.5" cy="1519.0" r="3"/><circle cx="128.5" cy="1510.0" r="3"/><circle cx="109.2" cy="1528.2" r="3"/><circle cx="138.8" cy="1510.4" r="3"/><circle cx="138.8" cy="1511.2" r="3"/><circle cx="214.4" cy="1458.7" r="3"/><circle cx="147.8" cy="1501.0" r="3"/><circle cx="100.8" cy="1535.3" r="3"/><circle cx="104.4" cy="1536.2" r="3"/><circle cx="111.0" cy="1532.5" r="3"/><circle cx="95.3" cy="1534.2" r="3"/><circle cx="130.8" cy="1519.4" r="3"/><circle cx="109.9" cy="1530.3" r="3"/><circle cx="109.8" cy="1525.0" r="3"/><circle cx="95.3" cy="1543.2" r="3"/><circle cx="127.7" cy="1516.0" r="3"/><circle cx="95.3" cy="1536.8" r="3"/><circle cx="95.3" cy="1540.6" r="3"/><circle cx="95.9" cy="1519.3" r="3"/><circle cx="95.3" cy="1533.5" r="3"/><circle cx="95.3" cy="1547.9" r="3"/><circle cx="95.3" cy="1540.8" r="3"/><circle cx="112.9" cy="1527.1" r="3"/><circle cx="130.7" cy="1513.4" r="3"/><circle cx="95.3" cy="1554.4" r="3"/><circle cx="119.1" cy="1528.5" r="3"/><circle cx="104.7" cy="1531.4" r="3"/><circle cx="95.9" cy="1545.2" r="3"/><circle cx="95.3" cy="1549.6" r="3"/><circle cx="119.0" cy="1532.1" r="3"/><circle cx="102.8" cy="1533.6" r="3"/><circle cx="95.3" cy="1548.7" r="3"/><circle cx="103.4" cy="1538.4" r="3"/><circle cx="123.3" cy="1533.6" r="3"/><circle cx="99.1" cy="1526.1" r="3"/><circle cx="120.8" cy="1532.7" r="3"/><circle cx="112.8" cy="1520.5" r="3"/><circle cx="176.2" cy="1479.9" r="3"/><circle cx="158.5" cy="1489.6" r="3"/><circle cx="123.8" cy="1518.2" r="3"/><circle cx="133.5" cy="1505.7" r="3"/><circle cx="116.1" cy="1530.1" r="3"/><circle cx="95.3" cy="1545.1" r="3"/><circle cx="133.6" cy="1525.9" r="3"/><circle cx="98.1" cy="1521.3" r="3"/><circle cx="95.3" cy="1544.8" r="3"/><circle cx="103.9" cy="1528.3" r="3"/><circle cx="123.5" cy="1513.5" r="3"/><circle cx="100.0" cy="1539.4" r="3"/><circle cx="95.3" cy="1543.9" r="3"/><circle cx="95.3" cy="1543.5" r="3"/><circle cx="124.7" cy="1533.9" r="3"/><circle cx="106.3" cy="1534.5" r="3"/><circle cx="129.3" cy="1519.6" r="3"/><circle cx="109.5" cy="1536.2" r="3"/><circle cx="95.3" cy="1551.8" r="3"/><circle cx="95.5" cy="1537.4" r="3"/><circle cx="111.3" cy="1539.2" r="3"/><circle cx="106.4" cy="1545.2" r="3"/><circle cx="98.5" cy="1541.7" r="3"/><circle cx="125.8" cy="1529.4" r="3"/><circle cx="98.9" cy="1530.3" r="3"/><circle cx="95.3" cy="1536.7" r="3"/><circle cx="95.3" cy="1537.6" r="3"/><circle cx="95.3" cy="1527.1" r="3"/><circle cx="113.6" cy="1531.9" r="3"/><circle cx="96.3" cy="1535.2" r="3"/><circle cx="107.0" cy="1533.2" r="3"/><circle cx="95.3" cy="1532.0" r="3"/><circle cx="102.1" cy="1530.8" r="3"/><circle cx="95.3" cy="1548.4" r="3"/><circle cx="114.6" cy="1530.0" r="3"/><circle cx="132.3" cy="1526.9" r="3"/><circle cx="100.9" cy="1538.1" r="3"/><circle cx="95.3" cy="1542.4" r="3"/><circle cx="95.9" cy="1543.4" r="3"/><circle cx="96.9" cy="1524.0" r="3"/><circle cx="114.8" cy="1522.8" r="3"/><circle cx="111.7" cy="1525.3" r="3"/><circle cx="97.8" cy="1534.2" r="3"/><circle cx="128.7" cy="1514.6" r="3"/><circle cx="123.0" cy="1518.5" r="3"/><circle cx="126.6" cy="1513.4" r="3"/><circle cx="141.8" cy="1505.1" r="3"/><circle cx="161.4" cy="1488.9" r="3"/><circle cx="169.4" cy="1497.9" r="3"/><circle cx="95.3" cy="1541.5" r="3"/><circle cx="126.1" cy="1513.7" r="3"/><circle cx="164.5" cy="1480.6" r="3"/><circle cx="180.9" cy="1473.4" r="3"/><circle cx="195.8" cy="1458.6" r="3"/><circle cx="139.4" cy="1498.1" r="3"/><circle cx="148.9" cy="1491.5" r="3"/><circle cx="144.8" cy="1499.1" r="3"/><circle cx="102.4" cy="1530.4" r="3"/><circle cx="103.2" cy="1535.9" r="3"/><circle cx="95.3" cy="1547.2" r="3"/><circle cx="95.3" cy="1527.5" r="3"/><circle cx="95.5" cy="1539.9" r="3"/><circle cx="121.9" cy="1529.3" r="3"/><circle cx="122.3" cy="1512.7" r="3"/><circle cx="130.0" cy="1512.3" r="3"/><circle cx="181.2" cy="1471.8" r="3"/><circle cx="233.9" cy="1432.5" r="3"/><circle cx="195.9" cy="1452.6" r="3"/><circle cx="186.4" cy="1463.6" r="3"/><circle cx="153.6" cy="1490.2" r="3"/><circle cx="120.3" cy="1509.6" r="3"/><circle cx="143.7" cy="1493.4" r="3"/><circle cx="181.6" cy="1467.2" r="3"/><circle cx="176.7" cy="1469.2" r="3"/><circle cx="216.4" cy="1446.1" r="3"/><circle cx="181.3" cy="1470.1" r="3"/><circle cx="185.5" cy="1471.0" r="3"/><circle cx="205.9" cy="1446.4" r="3"/><circle cx="208.9" cy="1445.0" r="3"/><circle cx="264.8" cy="1411.6" r="3"/><circle cx="244.8" cy="1429.3" r="3"/><circle cx="236.0" cy="1439.7" r="3"/><circle cx="215.8" cy="1443.5" r="3"/><circle cx="196.3" cy="1464.8" r="3"/><circle cx="145.7" cy="1496.3" r="3"/><circle cx="189.1" cy="1467.7" r="3"/><circle cx="173.4" cy="1478.5" r="3"/><circle cx="192.5" cy="1462.5" r="3"/><circle cx="129.5" cy="1502.5" r="3"/><circle cx="140.6" cy="1502.7" r="3"/><circle cx="134.4" cy="1508.9" r="3"/><circle cx="140.4" cy="1508.8" r="3"/><circle cx="95.3" cy="1554.8" r="3"/><circle cx="99.5" cy="1540.2" r="3"/><circle cx="136.6" cy="1495.6" r="3"/><circle cx="167.0" cy="1478.9" r="3"/><circle cx="152.3" cy="1487.3" r="3"/><circle cx="159.8" cy="1480.5" r="3"/><circle cx="226.7" cy="1432.6" r="3"/><circle cx="125.3" cy="1515.8" r="3"/><circle cx="166.2" cy="1481.8" r="3"/><circle cx="200.5" cy="1461.4" r="3"/><circle cx="209.8" cy="1442.4" r="3"/><circle cx="254.7" cy="1402.5" r="3"/><circle cx="306.4" cy="1363.0" r="3"/><circle cx="328.1" cy="1358.3" r="3"/><circle cx="287.8" cy="1376.2" r="3"/><circle cx="314.2" cy="1360.3" r="3"/><circle cx="306.1" cy="1372.3" r="3"/><circle cx="294.2" cy="1382.1" r="3"/><circle cx="325.7" cy="1352.5" r="3"/><circle cx="359.6" cy="1330.3" r="3"/><circle cx="357.1" cy="1340.0" r="3"/><circle cx="321.4" cy="1363.0" r="3"/><circle cx="339.4" cy="1343.1" r="3"/><circle cx="352.3" cy="1337.2" r="3"/><circle cx="322.9" cy="1358.9" r="3"/><circle cx="363.7" cy="1319.1" r="3"/><circle cx="319.2" cy="1354.8" r="3"/><circle cx="330.9" cy="1351.0" r="3"/><circle cx="297.6" cy="1374.2" r="3"/><circle cx="329.7" cy="1355.2" r="3"/><circle cx="356.7" cy="1331.4" r="3"/><circle cx="309.1" cy="1368.0" r="3"/><circle cx="269.0" cy="1399.7" r="3"/><circle cx="288.9" cy="1379.2" r="3"/><circle cx="277.6" cy="1395.2" r="3"/><circle cx="231.1" cy="1430.5" r="3"/><circle cx="292.5" cy="1392.0" r="3"/><circle cx="306.4" cy="1375.9" r="3"/><circle cx="332.3" cy="1368.9" r="3"/><circle cx="330.0" cy="1366.1" r="3"/><circle cx="327.6" cy="1357.6" r="3"/><circle cx="353.8" cy="1348.8" r="3"/><circle cx="377.4" cy="1325.7" r="3"/><circle cx="324.0" cy="1359.5" r="3"/><circle cx="294.6" cy="1383.9" r="3"/><circle cx="313.9" cy="1371.3" r="3"/><circle cx="294.2" cy="1380.2" r="3"/><circle cx="324.0" cy="1357.1" r="3"/><circle cx="329.5" cy="1352.5" r="3"/><circle cx="313.7" cy="1368.9" r="3"/><circle cx="302.4" cy="1373.0" r="3"/><circle cx="299.8" cy="1372.1" r="3"/><circle cx="321.3" cy="1358.2" r="3"/><circle cx="317.3" cy="1357.4" r="3"/><circle cx="306.2" cy="1368.8" r="3"/><circle cx="336.1" cy="1339.8" r="3"/><circle cx="435.4" cy="1278.8" r="3"/><circle cx="427.9" cy="1287.7" r="3"/><circle cx="426.5" cy="1278.2" r="3"/><circle cx="436.5" cy="1265.3" r="3"/><circle cx="435.7" cy="1268.4" r="3"/><circle cx="404.3" cy="1294.5" r="3"/><circle cx="363.9" cy="1317.7" r="3"/><circle cx="381.9" cy="1308.1" r="3"/><circle cx="360.0" cy="1335.4" r="3"/><circle cx="317.6" cy="1370.4" r="3"/><circle cx="279.4" cy="1394.6" r="3"/><circle cx="316.4" cy="1362.1" r="3"/><circle cx="272.5" cy="1388.0" r="3"/><circle cx="308.2" cy="1364.6" r="3"/><circle cx="294.1" cy="1368.3" r="3"/><circle cx="343.1" cy="1339.9" r="3"/><circle cx="342.7" cy="1339.9" r="3"/><circle cx="360.7" cy="1328.2" r="3"/><circle cx="313.8" cy="1359.7" r="3"/><circle cx="329.6" cy="1362.0" r="3"/><circle cx="299.5" cy="1378.8" r="3"/><circle cx="347.7" cy="1340.6" r="3"/><circle cx="355.0" cy="1331.0" r="3"/><circle cx="299.1" cy="1362.7" r="3"/><circle cx="330.1" cy="1353.9" r="3"/><circle cx="321.2" cy="1352.3" r="3"/><circle cx="353.9" cy="1330.6" r="3"/><circle cx="318.3" cy="1367.0" r="3"/><circle cx="304.5" cy="1375.4" r="3"/><circle cx="308.0" cy="1379.4" r="3"/><circle cx="401.7" cy="1306.8" r="3"/><circle cx="409.9" cy="1289.3" r="3"/><circle cx="405.3" cy="1290.2" r="3"/><circle cx="389.3" cy="1303.2" r="3"/><circle cx="442.1" cy="1272.0" r="3"/><circle cx="415.7" cy="1291.6" r="3"/><circle cx="443.1" cy="1275.2" r="3"/><circle cx="428.3" cy="1281.0" r="3"/><circle cx="443.1" cy="1266.7" r="3"/><circle cx="419.3" cy="1292.8" r="3"/><circle cx="390.7" cy="1301.9" r="3"/><circle cx="411.1" cy="1295.2" r="3"/><circle cx="393.2" cy="1307.2" r="3"/><circle cx="399.3" cy="1304.1" r="3"/><circle cx="424.7" cy="1290.1" r="3"/><circle cx="399.9" cy="1302.2" r="3"/><circle cx="332.5" cy="1347.5" r="3"/><circle cx="356.6" cy="1343.2" r="3"/><circle cx="356.7" cy="1351.1" r="3"/><circle cx="341.8" cy="1358.4" r="3"/><circle cx="347.9" cy="1360.0" r="3"/><circle cx="340.9" cy="1349.3" r="3"/><circle cx="278.6" cy="1404.1" r="3"/><circle cx="313.3" cy="1365.3" r="3"/><circle cx="327.8" cy="1360.3" r="3"/><circle cx="370.5" cy="1327.6" r="3"/><circle cx="424.7" cy="1283.9" r="3"/><circle cx="423.4" cy="1276.4" r="3"/><circle cx="344.8" cy="1335.5" r="3"/><circle cx="347.6" cy="1347.5" r="3"/><circle cx="316.5" cy="1372.9" r="3"/><circle cx="322.0" cy="1367.8" r="3"/><circle cx="347.3" cy="1344.7" r="3"/><circle cx="265.1" cy="1395.3" r="3"/><circle cx="299.9" cy="1367.2" r="3"/><circle cx="282.5" cy="1392.6" r="3"/><circle cx="332.5" cy="1356.9" r="3"/><circle cx="329.4" cy="1359.8" r="3"/><circle cx="340.8" cy="1357.5" r="3"/><circle cx="347.7" cy="1351.6" r="3"/><circle cx="344.5" cy="1357.1" r="3"/><circle cx="342.0" cy="1351.0" r="3"/><circle cx="327.6" cy="1367.9" r="3"/><circle cx="291.2" cy="1379.2" r="3"/><circle cx="380.9" cy="1313.2" r="3"/><circle cx="447.7" cy="1273.4" r="3"/><circle cx="457.9" cy="1263.0" r="3"/><circle cx="465.4" cy="1257.0" r="3"/><circle cx="434.1" cy="1289.3" r="3"/><circle cx="446.4" cy="1269.7" r="3"/><circle cx="449.6" cy="1269.3" r="3"/><circle cx="394.9" cy="1309.7" r="3"/><circle cx="392.0" cy="1311.5" r="3"/><circle cx="384.7" cy="1317.0" r="3"/><circle cx="363.4" cy="1339.8" r="3"/><circle cx="368.3" cy="1340.2" r="3"/><circle cx="356.4" cy="1363.1" r="3"/><circle cx="326.6" cy="1373.9" r="3"/><circle cx="388.2" cy="1315.3" r="3"/><circle cx="380.8" cy="1322.9" r="3"/><circle cx="340.4" cy="1352.9" r="3"/><circle cx="387.1" cy="1320.9" r="3"/><circle cx="402.7" cy="1304.9" r="3"/><circle cx="352.2" cy="1347.8" r="3"/><circle cx="352.2" cy="1354.1" r="3"/><circle cx="359.1" cy="1349.6" r="3"/><circle cx="368.0" cy="1339.7" r="3"/><circle cx="356.3" cy="1347.1" r="3"/><circle cx="375.0" cy="1314.6" r="3"/><circle cx="377.3" cy="1331.6" r="3"/><circle cx="348.2" cy="1348.2" r="3"/><circle cx="328.4" cy="1361.6" r="3"/><circle cx="369.1" cy="1341.5" r="3"/><circle cx="312.1" cy="1384.3" r="3"/><circle cx="274.5" cy="1396.9" r="3"/><circle cx="271.0" cy="1410.6" r="3"/><circle cx="303.5" cy="1390.0" r="3"/><circle cx="349.2" cy="1357.5" r="3"/><circle cx="352.1" cy="1348.4" r="3"/><circle cx="296.8" cy="1392.7" r="3"/><circle cx="311.4" cy="1373.7" r="3"/><circle cx="306.2" cy="1370.8" r="3"/><circle cx="305.6" cy="1382.3" r="3"/><circle cx="309.1" cy="1380.5" r="3"/><circle cx="277.2" cy="1411.0" r="3"/><circle cx="215.4" cy="1455.0" r="3"/><circle cx="244.3" cy="1442.3" r="3"/><circle cx="190.6" cy="1480.1" r="3"/><circle cx="199.6" cy="1464.6" r="3"/><circle cx="224.3" cy="1441.6" r="3"/><circle cx="245.6" cy="1433.9" r="3"/><circle cx="309.1" cy="1387.4" r="3"/><circle cx="299.4" cy="1394.6" r="3"/><circle cx="264.8" cy="1426.8" r="3"/><circle cx="228.0" cy="1457.0" r="3"/><circle cx="233.1" cy="1456.2" r="3"/><circle cx="208.8" cy="1485.4" r="3"/><circle cx="220.0" cy="1465.3" r="3"/><circle cx="201.7" cy="1466.8" r="3"/><circle cx="149.6" cy="1507.1" r="3"/><circle cx="198.2" cy="1479.9" r="3"/><circle cx="189.3" cy="1478.6" r="3"/><circle cx="212.4" cy="1460.6" r="3"/><circle cx="244.9" cy="1439.6" r="3"/><circle cx="272.7" cy="1420.0" r="3"/><circle cx="275.1" cy="1430.0" r="3"/><circle cx="297.4" cy="1399.8" r="3"/><circle cx="275.6" cy="1409.3" r="3"/><circle cx="282.0" cy="1405.8" r="3"/><circle cx="285.0" cy="1402.9" r="3"/><circle cx="231.2" cy="1455.6" r="3"/><circle cx="223.5" cy="1460.0" r="3"/><circle cx="220.0" cy="1459.2" r="3"/><circle cx="227.9" cy="1456.8" r="3"/><circle cx="178.1" cy="1494.3" r="3"/><circle cx="242.8" cy="1441.3" r="3"/><circle cx="246.8" cy="1447.0" r="3"/><circle cx="219.0" cy="1470.3" r="3"/><circle cx="138.2" cy="1515.9" r="3"/><circle cx="132.9" cy="1515.0" r="3"/><circle cx="162.9" cy="1504.4" r="3"/><circle cx="126.0" cy="1517.2" r="3"/><circle cx="145.4" cy="1507.2" r="3"/><circle cx="132.4" cy="1517.8" r="3"/><circle cx="171.0" cy="1487.3" r="3"/><circle cx="140.1" cy="1501.0" r="3"/><circle cx="143.6" cy="1493.8" r="3"/><circle cx="173.3" cy="1485.7" r="3"/><circle cx="250.9" cy="1418.2" r="3"/><circle cx="193.7" cy="1455.1" r="3"/><circle cx="179.8" cy="1468.1" r="3"/><circle cx="162.0" cy="1494.5" r="3"/><circle cx="187.8" cy="1475.8" r="3"/><circle cx="158.5" cy="1497.3" r="3"/><circle cx="138.6" cy="1512.3" r="3"/><circle cx="141.9" cy="1514.7" r="3"/><circle cx="127.0" cy="1520.6" r="3"/><circle cx="116.6" cy="1526.3" r="3"/><circle cx="95.3" cy="1537.4" r="3"/><circle cx="95.3" cy="1537.8" r="3"/><circle cx="122.3" cy="1529.3" r="3"/><circle cx="138.0" cy="1520.7" r="3"/><circle cx="107.1" cy="1531.2" r="3"/><circle cx="97.2" cy="1547.6" r="3"/><circle cx="99.6" cy="1539.9" r="3"/><circle cx="95.3" cy="1543.4" r="3"/><circle cx="109.4" cy="1536.2" r="3"/><circle cx="128.1" cy="1526.3" r="3"/><circle cx="131.5" cy="1520.6" r="3"/><circle cx="117.9" cy="1537.3" r="3"/><circle cx="99.0" cy="1541.6" r="3"/><circle cx="110.6" cy="1530.1" r="3"/><circle cx="95.3" cy="1539.8" r="3"/><circle cx="108.1" cy="1532.1" r="3"/><circle cx="131.9" cy="1514.3" r="3"/><circle cx="144.6" cy="1509.4" r="3"/><circle cx="168.7" cy="1486.1" r="3"/><circle cx="149.2" cy="1500.8" r="3"/><circle cx="173.9" cy="1481.5" r="3"/><circle cx="146.4" cy="1504.8" r="3"/><circle cx="135.8" cy="1511.5" r="3"/><circle cx="196.1" cy="1456.7" r="3"/><circle cx="229.8" cy="1437.4" r="3"/><circle cx="172.6" cy="1471.1" r="3"/><circle cx="167.9" cy="1475.5" r="3"/><circle cx="165.1" cy="1482.7" r="3"/><circle cx="212.6" cy="1459.6" r="3"/><circle cx="182.9" cy="1484.2" r="3"/><circle cx="119.2" cy="1524.4" r="3"/><circle cx="110.7" cy="1532.9" r="3"/><circle cx="128.8" cy="1527.6" r="3"/><circle cx="115.6" cy="1529.3" r="3"/><circle cx="161.5" cy="1498.9" r="3"/><circle cx="172.9" cy="1480.3" r="3"/><circle cx="182.4" cy="1480.5" r="3"/><circle cx="138.0" cy="1514.7" r="3"/><circle cx="183.4" cy="1484.6" r="3"/><circle cx="238.5" cy="1443.3" r="3"/><circle cx="225.5" cy="1443.2" r="3"/><circle cx="206.8" cy="1458.6" r="3"/><circle cx="202.0" cy="1449.7" r="3"/><circle cx="228.8" cy="1432.6" r="3"/><circle cx="182.9" cy="1470.4" r="3"/><circle cx="157.5" cy="1487.6" r="3"/><circle cx="173.2" cy="1492.5" r="3"/><circle cx="174.8" cy="1482.6" r="3"/><circle cx="170.6" cy="1490.6" r="3"/><circle cx="175.7" cy="1489.5" r="3"/><circle cx="146.1" cy="1507.6" r="3"/><circle cx="142.5" cy="1512.7" r="3"/><circle cx="124.3" cy="1522.5" r="3"/><circle cx="95.3" cy="1540.0" r="3"/><circle cx="95.3" cy="1534.2" r="3"/><circle cx="137.1" cy="1506.9" r="3"/><circle cx="96.5" cy="1529.2" r="3"/><circle cx="95.3" cy="1527.2" r="3"/><circle cx="131.1" cy="1515.4" r="3"/><circle cx="96.9" cy="1535.6" r="3"/><circle cx="95.3" cy="1541.3" r="3"/><circle cx="95.3" cy="1556.3" r="3"/><circle cx="100.0" cy="1531.5" r="3"/><circle cx="197.4" cy="1471.8" r="3"/><circle cx="242.5" cy="1427.0" r="3"/><circle cx="212.6" cy="1451.9" r="3"/><circle cx="225.4" cy="1447.7" r="3"/><circle cx="199.6" cy="1461.1" r="3"/><circle cx="197.0" cy="1467.0" r="3"/><circle cx="225.8" cy="1435.3" r="3"/><circle cx="160.0" cy="1497.8" r="3"/><circle cx="190.1" cy="1474.5" r="3"/><circle cx="159.6" cy="1490.9" r="3"/><circle cx="208.0" cy="1445.2" r="3"/><circle cx="201.0" cy="1455.1" r="3"/><circle cx="153.4" cy="1485.1" r="3"/><circle cx="143.6" cy="1496.8" r="3"/><circle cx="164.9" cy="1475.9" r="3"/><circle cx="156.7" cy="1485.1" r="3"/><circle cx="181.2" cy="1477.6" r="3"/><circle cx="154.5" cy="1497.7" r="3"/><circle cx="102.4" cy="1524.1" r="3"/><circle cx="125.4" cy="1522.5" r="3"/><circle cx="180.0" cy="1497.3" r="3"/><circle cx="158.9" cy="1499.8" r="3"/><circle cx="151.6" cy="1503.3" r="3"/><circle cx="179.6" cy="1479.3" r="3"/><circle cx="141.7" cy="1498.4" r="3"/><circle cx="130.2" cy="1507.2" r="3"/><circle cx="115.7" cy="1520.3" r="3"/><circle cx="165.8" cy="1485.2" r="3"/><circle cx="115.9" cy="1527.9" r="3"/><circle cx="140.6" cy="1501.6" r="3"/><circle cx="130.5" cy="1503.5" r="3"/><circle cx="95.3" cy="1533.8" r="3"/><circle cx="169.1" cy="1492.4" r="3"/><circle cx="153.7" cy="1496.8" r="3"/><circle cx="103.2" cy="1536.0" r="3"/><circle cx="95.3" cy="1531.9" r="3"/><circle cx="140.8" cy="1506.8" r="3"/><circle cx="164.2" cy="1479.2" r="3"/><circle cx="145.4" cy="1495.7" r="3"/><circle cx="167.9" cy="1474.5" r="3"/><circle cx="178.2" cy="1467.0" r="3"/><circle cx="148.1" cy="1483.1" r="3"/><circle cx="134.4" cy="1481.1" r="3"/><circle cx="142.5" cy="1478.9" r="3"/><circle cx="118.5" cy="1499.5" r="3"/><circle cx="138.6" cy="1504.8" r="3"/><circle cx="142.0" cy="1495.0" r="3"/><circle cx="152.9" cy="1494.5" r="3"/><circle cx="137.5" cy="1507.7" r="3"/><circle cx="122.7" cy="1517.1" r="3"/><circle cx="171.0" cy="1477.2" r="3"/><circle cx="192.1" cy="1471.1" r="3"/><circle cx="218.2" cy="1455.2" r="3"/><circle cx="232.0" cy="1435.1" r="3"/><circle cx="245.0" cy="1421.3" r="3"/><circle cx="301.4" cy="1364.9" r="3"/><circle cx="229.8" cy="1420.7" r="3"/><circle cx="246.5" cy="1407.7" r="3"/><circle cx="230.0" cy="1426.4" r="3"/><circle cx="239.5" cy="1410.5" r="3"/><circle cx="291.6" cy="1367.1" r="3"/><circle cx="206.9" cy="1437.2" r="3"/><circle cx="214.5" cy="1451.4" r="3"/><circle cx="225.6" cy="1446.8" r="3"/><circle cx="227.1" cy="1434.5" r="3"/><circle cx="253.2" cy="1419.0" r="3"/><circle cx="240.8" cy="1425.5" r="3"/><circle cx="238.1" cy="1425.0" r="3"/><circle cx="251.5" cy="1412.4" r="3"/><circle cx="225.4" cy="1430.4" r="3"/><circle cx="264.8" cy="1404.1" r="3"/><circle cx="207.6" cy="1458.4" r="3"/><circle cx="245.8" cy="1431.6" r="3"/><circle cx="199.2" cy="1463.4" r="3"/><circle cx="221.9" cy="1438.3" r="3"/><circle cx="225.2" cy="1436.9" r="3"/><circle cx="215.9" cy="1456.6" r="3"/><circle cx="243.0" cy="1437.4" r="3"/><circle cx="207.8" cy="1458.7" r="3"/><circle cx="194.0" cy="1480.5" r="3"/><circle cx="156.1" cy="1503.3" r="3"/><circle cx="163.6" cy="1488.2" r="3"/><circle cx="194.6" cy="1461.4" r="3"/><circle cx="240.6" cy="1428.2" r="3"/><circle cx="219.0" cy="1433.0" r="3"/><circle cx="241.3" cy="1413.3" r="3"/><circle cx="256.4" cy="1404.4" r="3"/><circle cx="261.3" cy="1416.4" r="3"/><circle cx="281.6" cy="1388.8" r="3"/><circle cx="290.7" cy="1366.7" r="3"/><circle cx="255.7" cy="1392.3" r="3"/><circle cx="277.3" cy="1385.1" r="3"/><circle cx="274.1" cy="1388.6" r="3"/><circle cx="286.3" cy="1391.6" r="3"/><circle cx="277.0" cy="1401.7" r="3"/><circle cx="300.7" cy="1371.7" r="3"/><circle cx="268.5" cy="1402.5" r="3"/><circle cx="299.3" cy="1375.0" r="3"/><circle cx="264.2" cy="1398.7" r="3"/><circle cx="283.4" cy="1386.8" r="3"/><circle cx="313.1" cy="1372.5" r="3"/><circle cx="286.1" cy="1393.7" r="3"/><circle cx="343.4" cy="1343.7" r="3"/><circle cx="334.9" cy="1344.1" r="3"/><circle cx="383.2" cy="1309.6" r="3"/><circle cx="399.7" cy="1296.7" r="3"/><circle cx="341.0" cy="1336.5" r="3"/><circle cx="306.7" cy="1351.5" r="3"/><circle cx="339.3" cy="1335.4" r="3"/><circle cx="349.2" cy="1344.2" r="3"/><circle cx="339.1" cy="1344.6" r="3"/><circle cx="314.5" cy="1370.2" r="3"/><circle cx="272.5" cy="1406.2" r="3"/><circle cx="260.3" cy="1402.3" r="3"/><circle cx="206.5" cy="1442.5" r="3"/><circle cx="224.6" cy="1421.6" r="3"/><circle cx="221.1" cy="1416.5" r="3"/><circle cx="214.9" cy="1426.9" r="3"/><circle cx="235.8" cy="1417.5" r="3"/><circle cx="271.4" cy="1398.8" r="3"/><circle cx="231.8" cy="1418.5" r="3"/><circle cx="193.7" cy="1453.1" r="3"/><circle cx="200.9" cy="1447.7" r="3"/><circle cx="160.3" cy="1478.8" r="3"/><circle cx="161.5" cy="1476.9" r="3"/><circle cx="242.9" cy="1414.9" r="3"/><circle cx="242.8" cy="1422.8" r="3"/><circle cx="294.7" cy="1388.5" r="3"/><circle cx="272.6" cy="1411.0" r="3"/><circle cx="286.2" cy="1393.4" r="3"/><circle cx="283.3" cy="1387.1" r="3"/><circle cx="283.2" cy="1383.6" r="3"/><circle cx="318.4" cy="1354.3" r="3"/><circle cx="361.8" cy="1317.8" r="3"/><circle cx="348.4" cy="1331.7" r="3"/><circle cx="391.7" cy="1310.2" r="3"/><circle cx="332.8" cy="1345.1" r="3"/><circle cx="327.3" cy="1338.6" r="3"/><circle cx="306.3" cy="1339.1" r="3"/><circle cx="343.0" cy="1324.1" r="3"/><circle cx="385.9" cy="1308.6" r="3"/><circle cx="414.3" cy="1281.4" r="3"/><circle cx="329.6" cy="1351.4" r="3"/><circle cx="327.6" cy="1342.7" r="3"/><circle cx="367.3" cy="1325.9" r="3"/><circle cx="384.7" cy="1320.4" r="3"/><circle cx="346.2" cy="1358.6" r="3"/><circle cx="327.2" cy="1368.8" r="3"/><circle cx="302.7" cy="1380.8" r="3"/><circle cx="311.2" cy="1370.7" r="3"/><circle cx="374.1" cy="1306.7" r="3"/><circle cx="402.2" cy="1296.8" r="3"/><circle cx="374.1" cy="1314.6" r="3"/><circle cx="346.6" cy="1328.7" r="3"/><circle cx="320.4" cy="1359.9" r="3"/><circle cx="383.3" cy="1311.9" r="3"/><circle cx="356.7" cy="1344.2" r="3"/><circle cx="346.3" cy="1337.7" r="3"/><circle cx="377.2" cy="1324.5" r="3"/><circle cx="390.7" cy="1308.0" r="3"/><circle cx="387.7" cy="1311.4" r="3"/><circle cx="359.7" cy="1342.0" r="3"/><circle cx="307.2" cy="1380.6" r="3"/><circle cx="319.3" cy="1376.5" r="3"/><circle cx="254.8" cy="1423.6" r="3"/><circle cx="295.8" cy="1393.4" r="3"/><circle cx="329.0" cy="1368.0" r="3"/><circle cx="331.6" cy="1357.7" r="3"/><circle cx="400.7" cy="1305.3" r="3"/><circle cx="447.4" cy="1270.8" r="3"/><circle cx="382.1" cy="1314.3" r="3"/><circle cx="418.4" cy="1289.6" r="3"/><circle cx="447.6" cy="1257.6" r="3"/><circle cx="423.7" cy="1280.4" r="3"/><circle cx="398.0" cy="1298.7" r="3"/><circle cx="418.3" cy="1289.6" r="3"/><circle cx="364.7" cy="1333.2" r="3"/><circle cx="430.3" cy="1281.7" r="3"/><circle cx="366.7" cy="1335.6" r="3"/><circle cx="337.3" cy="1361.0" r="3"/><circle cx="340.1" cy="1344.7" r="3"/><circle cx="351.5" cy="1346.6" r="3"/><circle cx="387.2" cy="1320.2" r="3"/><circle cx="401.0" cy="1312.7" r="3"/><circle cx="385.9" cy="1318.7" r="3"/><circle cx="408.5" cy="1299.9" r="3"/><circle cx="346.7" cy="1344.9" r="3"/><circle cx="350.4" cy="1345.7" r="3"/><circle cx="348.5" cy="1349.0" r="3"/><circle cx="349.7" cy="1346.0" r="3"/><circle cx="353.6" cy="1342.2" r="3"/><circle cx="337.0" cy="1350.4" r="3"/><circle cx="339.5" cy="1361.6" r="3"/><circle cx="365.5" cy="1345.2" r="3"/><circle cx="395.0" cy="1323.5" r="3"/><circle cx="347.9" cy="1349.6" r="3"/><circle cx="404.0" cy="1299.4" r="3"/><circle cx="384.3" cy="1306.8" r="3"/><circle cx="395.6" cy="1304.3" r="3"/><circle cx="425.7" cy="1283.0" r="3"/><circle cx="415.3" cy="1294.3" r="3"/><circle cx="375.5" cy="1317.1" r="3"/><circle cx="372.6" cy="1331.6" r="3"/><circle cx="389.5" cy="1312.1" r="3"/><circle cx="363.7" cy="1329.9" r="3"/><circle cx="375.2" cy="1327.8" r="3"/><circle cx="318.7" cy="1370.2" r="3"/><circle cx="315.8" cy="1375.4" r="3"/><circle cx="321.5" cy="1374.8" r="3"/><circle cx="301.1" cy="1383.0" r="3"/><circle cx="349.0" cy="1351.3" r="3"/><circle cx="325.8" cy="1360.5" r="3"/><circle cx="381.9" cy="1323.5" r="3"/><circle cx="381.0" cy="1320.3" r="3"/><circle cx="353.9" cy="1324.0" r="3"/><circle cx="339.8" cy="1330.2" r="3"/><circle cx="340.3" cy="1335.7" r="3"/><circle cx="347.0" cy="1331.1" r="3"/><circle cx="338.2" cy="1354.6" r="3"/><circle cx="365.7" cy="1333.8" r="3"/><circle cx="356.5" cy="1336.0" r="3"/><circle cx="334.9" cy="1348.9" r="3"/><circle cx="312.5" cy="1365.5" r="3"/><circle cx="289.7" cy="1391.5" r="3"/><circle cx="317.9" cy="1372.3" r="3"/><circle cx="289.4" cy="1390.4" r="3"/><circle cx="317.6" cy="1363.3" r="3"/><circle cx="303.0" cy="1374.7" r="3"/><circle cx="257.2" cy="1431.2" r="3"/><circle cx="241.9" cy="1444.1" r="3"/><circle cx="202.0" cy="1475.1" r="3"/><circle cx="245.6" cy="1437.4" r="3"/><circle cx="270.2" cy="1419.7" r="3"/><circle cx="309.1" cy="1385.9" r="3"/><circle cx="286.9" cy="1412.2" r="3"/><circle cx="257.0" cy="1421.9" r="3"/><circle cx="306.6" cy="1383.7" r="3"/><circle cx="323.6" cy="1371.2" r="3"/><circle cx="329.9" cy="1370.7" r="3"/><circle cx="382.7" cy="1344.1" r="3"/><circle cx="419.2" cy="1304.0" r="3"/><circle cx="440.3" cy="1294.8" r="3"/><circle cx="415.9" cy="1297.3" r="3"/><circle cx="399.0" cy="1305.6" r="3"/><circle cx="392.9" cy="1312.0" r="3"/><circle cx="345.6" cy="1348.8" r="3"/><circle cx="319.1" cy="1376.8" r="3"/><circle cx="324.5" cy="1381.2" r="3"/><circle cx="284.3" cy="1401.8" r="3"/><circle cx="278.5" cy="1416.1" r="3"/><circle cx="296.6" cy="1403.7" r="3"/><circle cx="350.4" cy="1351.3" r="3"/><circle cx="311.5" cy="1388.9" r="3"/><circle cx="315.4" cy="1388.4" r="3"/><circle cx="296.4" cy="1397.8" r="3"/><circle cx="315.6" cy="1393.7" r="3"/><circle cx="328.5" cy="1369.0" r="3"/><circle cx="285.6" cy="1402.0" r="3"/><circle cx="268.8" cy="1417.7" r="3"/><circle cx="222.8" cy="1453.9" r="3"/><circle cx="208.0" cy="1470.5" r="3"/><circle cx="228.7" cy="1444.4" r="3"/><circle cx="230.7" cy="1456.0" r="3"/><circle cx="182.6" cy="1480.8" r="3"/><circle cx="195.7" cy="1471.9" r="3"/><circle cx="213.0" cy="1463.7" r="3"/><circle cx="249.8" cy="1436.3" r="3"/><circle cx="215.4" cy="1459.5" r="3"/><circle cx="187.7" cy="1472.3" r="3"/><circle cx="162.0" cy="1498.9" r="3"/><circle cx="111.5" cy="1530.5" r="3"/><circle cx="174.0" cy="1480.5" r="3"/><circle cx="149.6" cy="1501.5" r="3"/><circle cx="145.7" cy="1512.7" r="3"/><circle cx="173.9" cy="1492.8" r="3"/><circle cx="164.2" cy="1495.5" r="3"/><circle cx="155.6" cy="1496.4" r="3"/><circle cx="160.8" cy="1499.8" r="3"/><circle cx="193.4" cy="1486.8" r="3"/><circle cx="176.4" cy="1498.6" r="3"/><circle cx="117.1" cy="1537.2" r="3"/><circle cx="148.4" cy="1510.4" r="3"/><circle cx="117.3" cy="1527.1" r="3"/><circle cx="113.2" cy="1527.5" r="3"/><circle cx="131.7" cy="1513.2" r="3"/><circle cx="167.5" cy="1491.8" r="3"/><circle cx="185.4" cy="1473.5" r="3"/><circle cx="196.9" cy="1471.9" r="3"/><circle cx="237.3" cy="1456.1" r="3"/><circle cx="251.2" cy="1434.0" r="3"/><circle cx="258.3" cy="1417.5" r="3"/><circle cx="294.1" cy="1393.5" r="3"/><circle cx="268.1" cy="1417.5" r="3"/><circle cx="253.9" cy="1433.1" r="3"/><circle cx="239.0" cy="1436.7" r="3"/><circle cx="205.8" cy="1469.2" r="3"/><circle cx="224.6" cy="1456.6" r="3"/><circle cx="178.0" cy="1491.5" r="3"/><circle cx="163.7" cy="1497.4" r="3"/><circle cx="119.6" cy="1530.0" r="3"/><circle cx="111.3" cy="1520.0" r="3"/><circle cx="96.2" cy="1528.1" r="3"/><circle cx="124.3" cy="1520.3" r="3"/><circle cx="172.9" cy="1481.0" r="3"/><circle cx="159.5" cy="1497.4" r="3"/><circle cx="162.8" cy="1501.0" r="3"/><circle cx="143.0" cy="1515.1" r="3"/><circle cx="137.8" cy="1505.6" r="3"/><circle cx="137.3" cy="1504.5" r="3"/><circle cx="195.6" cy="1473.3" r="3"/><circle cx="226.7" cy="1450.6" r="3"/><circle cx="194.9" cy="1461.7" r="3"/><circle cx="133.6" cy="1513.8" r="3"/><circle cx="101.3" cy="1540.9" r="3"/><circle cx="95.3" cy="1541.8" r="3"/><circle cx="97.6" cy="1542.9" r="3"/><circle cx="101.7" cy="1534.2" r="3"/><circle cx="112.7" cy="1528.9" r="3"/><circle cx="95.3" cy="1533.5" r="3"/><circle cx="95.3" cy="1541.0" r="3"/><circle cx="155.1" cy="1508.3" r="3"/><circle cx="124.9" cy="1518.4" r="3"/><circle cx="115.7" cy="1525.1" r="3"/><circle cx="112.3" cy="1531.6" r="3"/><circle cx="130.5" cy="1518.9" r="3"/><circle cx="168.5" cy="1498.8" r="3"/><circle cx="171.8" cy="1482.8" r="3"/><circle cx="200.1" cy="1455.2" r="3"/><circle cx="209.3" cy="1453.4" r="3"/><circle cx="262.3" cy="1411.5" r="3"/><circle cx="259.6" cy="1421.8" r="3"/><circle cx="175.8" cy="1484.9" r="3"/><circle cx="163.0" cy="1501.5" r="3"/><circle cx="195.9" cy="1488.9" r="3"/><circle cx="132.7" cy="1518.7" r="3"/><circle cx="178.3" cy="1493.0" r="3"/><circle cx="167.7" cy="1497.2" r="3"/><circle cx="109.0" cy="1529.2" r="3"/><circle cx="165.7" cy="1496.7" r="3"/><circle cx="189.6" cy="1477.0" r="3"/><circle cx="167.6" cy="1492.4" r="3"/><circle cx="197.7" cy="1469.8" r="3"/><circle cx="208.4" cy="1460.3" r="3"/><circle cx="195.2" cy="1467.7" r="3"/><circle cx="120.4" cy="1525.9" r="3"/><circle cx="95.3" cy="1546.7" r="3"/><circle cx="113.8" cy="1522.1" r="3"/><circle cx="102.2" cy="1533.6" r="3"/><circle cx="132.8" cy="1514.1" r="3"/><circle cx="106.6" cy="1530.1" r="3"/><circle cx="125.5" cy="1524.4" r="3"/><circle cx="114.6" cy="1541.5" r="3"/><circle cx="133.2" cy="1511.2" r="3"/><circle cx="117.8" cy="1513.8" r="3"/><circle cx="110.4" cy="1532.5" r="3"/><circle cx="95.3" cy="1552.4" r="3"/><circle cx="145.0" cy="1514.8" r="3"/><circle cx="97.0" cy="1529.4" r="3"/><circle cx="129.1" cy="1515.8" r="3"/><circle cx="116.3" cy="1526.5" r="3"/><circle cx="137.4" cy="1516.2" r="3"/><circle cx="95.3" cy="1553.4" r="3"/><circle cx="148.5" cy="1505.6" r="3"/><circle cx="95.3" cy="1532.8" r="3"/><circle cx="117.0" cy="1525.9" r="3"/><circle cx="98.9" cy="1531.3" r="3"/><circle cx="187.8" cy="1469.3" r="3"/><circle cx="167.2" cy="1496.1" r="3"/><circle cx="216.6" cy="1457.3" r="3"/><circle cx="174.9" cy="1476.0" r="3"/><circle cx="150.5" cy="1493.0" r="3"/><circle cx="172.2" cy="1478.6" r="3"/><circle cx="214.0" cy="1452.0" r="3"/><circle cx="212.5" cy="1446.1" r="3"/><circle cx="214.4" cy="1454.6" r="3"/><circle cx="181.7" cy="1468.3" r="3"/><circle cx="151.2" cy="1494.4" r="3"/><circle cx="162.7" cy="1488.4" r="3"/><circle cx="149.7" cy="1484.3" r="3"/><circle cx="192.0" cy="1464.7" r="3"/><circle cx="187.6" cy="1464.0" r="3"/><circle cx="216.9" cy="1445.6" r="3"/><circle cx="244.8" cy="1422.2" r="3"/><circle cx="226.1" cy="1432.3" r="3"/><circle cx="164.3" cy="1480.7" r="3"/><circle cx="134.8" cy="1517.6" r="3"/><circle cx="95.3" cy="1546.6" r="3"/><circle cx="121.9" cy="1510.0" r="3"/><circle cx="100.4" cy="1534.8" r="3"/><circle cx="161.2" cy="1494.0" r="3"/><circle cx="159.7" cy="1486.1" r="3"/><circle cx="212.4" cy="1448.8" r="3"/><circle cx="234.3" cy="1434.4" r="3"/><circle cx="203.3" cy="1457.0" r="3"/><circle cx="183.6" cy="1471.0" r="3"/><circle cx="189.3" cy="1469.3" r="3"/><circle cx="185.0" cy="1469.8" r="3"/><circle cx="157.7" cy="1492.6" r="3"/><circle cx="165.8" cy="1486.6" r="3"/><circle cx="208.2" cy="1455.3" r="3"/><circle cx="119.8" cy="1508.3" r="3"/><circle cx="121.6" cy="1493.4" r="3"/><circle cx="138.0" cy="1502.2" r="3"/><circle cx="133.0" cy="1508.7" r="3"/><circle cx="169.9" cy="1474.4" r="3"/><circle cx="163.3" cy="1475.5" r="3"/><circle cx="197.0" cy="1457.0" r="3"/><circle cx="136.0" cy="1513.6" r="3"/><circle cx="188.7" cy="1463.7" r="3"/><circle cx="152.0" cy="1491.9" r="3"/><circle cx="176.6" cy="1477.1" r="3"/><circle cx="168.3" cy="1473.6" r="3"/><circle cx="95.3" cy="1540.1" r="3"/><circle cx="95.3" cy="1529.4" r="3"/><circle cx="116.7" cy="1521.9" r="3"/><circle cx="175.7" cy="1467.6" r="3"/><circle cx="169.3" cy="1473.6" r="3"/><circle cx="179.1" cy="1470.4" r="3"/><circle cx="145.4" cy="1492.6" r="3"/><circle cx="197.9" cy="1453.6" r="3"/><circle cx="258.7" cy="1410.5" r="3"/><circle cx="229.3" cy="1433.9" r="3"/><circle cx="229.4" cy="1431.8" r="3"/><circle cx="170.9" cy="1478.2" r="3"/><circle cx="202.9" cy="1444.7" r="3"/><circle cx="270.7" cy="1402.5" r="3"/><circle cx="279.3" cy="1388.4" r="3"/><circle cx="307.1" cy="1375.4" r="3"/><circle cx="294.5" cy="1387.6" r="3"/><circle cx="271.9" cy="1419.5" r="3"/><circle cx="313.3" cy="1383.0" r="3"/><circle cx="222.0" cy="1433.9" r="3"/><circle cx="231.3" cy="1443.5" r="3"/><circle cx="244.5" cy="1427.3" r="3"/><circle cx="266.5" cy="1407.7" r="3"/><circle cx="264.6" cy="1403.1" r="3"/><circle cx="238.9" cy="1411.7" r="3"/><circle cx="215.1" cy="1430.3" r="3"/><circle cx="186.8" cy="1453.6" r="3"/><circle cx="196.2" cy="1457.6" r="3"/><circle cx="185.9" cy="1469.8" r="3"/><circle cx="176.6" cy="1481.6" r="3"/><circle cx="158.5" cy="1492.9" r="3"/><circle cx="144.3" cy="1506.1" r="3"/><circle cx="99.3" cy="1542.1" r="3"/><circle cx="97.8" cy="1535.6" r="3"/><circle cx="104.5" cy="1536.6" r="3"/><circle cx="119.4" cy="1515.6" r="3"/><circle cx="162.8" cy="1477.4" r="3"/><circle cx="228.6" cy="1420.0" r="3"/><circle cx="186.7" cy="1454.8" r="3"/><circle cx="185.8" cy="1454.6" r="3"/><circle cx="212.1" cy="1429.1" r="3"/><circle cx="215.5" cy="1422.5" r="3"/><circle cx="211.4" cy="1428.4" r="3"/><circle cx="297.8" cy="1359.7" r="3"/><circle cx="290.6" cy="1382.6" r="3"/><circle cx="249.9" cy="1420.6" r="3"/><circle cx="216.7" cy="1446.7" r="3"/><circle cx="225.8" cy="1424.1" r="3"/><circle cx="247.8" cy="1417.6" r="3"/><circle cx="215.0" cy="1438.4" r="3"/><circle cx="179.7" cy="1450.7" r="3"/><circle cx="242.3" cy="1413.9" r="3"/><circle cx="256.7" cy="1400.8" r="3"/><circle cx="234.8" cy="1413.7" r="3"/><circle cx="262.3" cy="1396.1" r="3"/><circle cx="288.9" cy="1378.9" r="3"/><circle cx="251.7" cy="1412.9" r="3"/><circle cx="247.2" cy="1412.7" r="3"/><circle cx="293.8" cy="1385.4" r="3"/><circle cx="258.2" cy="1405.4" r="3"/><circle cx="226.4" cy="1436.7" r="3"/><circle cx="237.1" cy="1432.8" r="3"/><circle cx="265.0" cy="1402.8" r="3"/><circle cx="285.2" cy="1371.4" r="3"/><circle cx="243.7" cy="1418.1" r="3"/><circle cx="340.7" cy="1333.6" r="3"/><circle cx="314.7" cy="1359.3" r="3"/><circle cx="337.0" cy="1342.8" r="3"/><circle cx="376.0" cy="1312.6" r="3"/><circle cx="388.8" cy="1305.0" r="3"/><circle cx="401.6" cy="1311.6" r="3"/><circle cx="334.4" cy="1349.2" r="3"/><circle cx="355.5" cy="1324.9" r="3"/><circle cx="299.1" cy="1349.6" r="3"/><circle cx="233.1" cy="1411.6" r="3"/><circle cx="349.8" cy="1334.1" r="3"/><circle cx="384.6" cy="1314.7" r="3"/><circle cx="439.5" cy="1279.6" r="3"/><circle cx="376.4" cy="1321.3" r="3"/><circle cx="435.8" cy="1275.7" r="3"/><circle cx="446.9" cy="1259.8" r="3"/><circle cx="458.9" cy="1252.1" r="3"/><circle cx="389.7" cy="1298.9" r="3"/><circle cx="379.0" cy="1317.3" r="3"/><circle cx="313.1" cy="1368.8" r="3"/><circle cx="264.1" cy="1412.4" r="3"/><circle cx="276.1" cy="1393.9" r="3"/><circle cx="245.0" cy="1417.3" r="3"/><circle cx="273.0" cy="1384.5" r="3"/><circle cx="261.4" cy="1396.6" r="3"/><circle cx="368.8" cy="1324.5" r="3"/><circle cx="391.2" cy="1305.5" r="3"/><circle cx="372.7" cy="1314.2" r="3"/><circle cx="410.5" cy="1285.9" r="3"/><circle cx="386.4" cy="1310.4" r="3"/><circle cx="368.6" cy="1319.8" r="3"/><circle cx="405.7" cy="1292.3" r="3"/><circle cx="346.1" cy="1336.0" r="3"/><circle cx="336.7" cy="1337.3" r="3"/><circle cx="297.5" cy="1375.3" r="3"/><circle cx="319.9" cy="1355.3" r="3"/><circle cx="378.2" cy="1314.8" r="3"/><circle cx="356.4" cy="1339.0" r="3"/><circle cx="346.6" cy="1329.7" r="3"/><circle cx="325.6" cy="1350.0" r="3"/><circle cx="290.1" cy="1370.6" r="3"/><circle cx="292.3" cy="1388.9" r="3"/><circle cx="354.3" cy="1348.2" r="3"/><circle cx="424.6" cy="1291.2" r="3"/><circle cx="414.0" cy="1277.9" r="3"/><circle cx="374.6" cy="1319.6" r="3"/><circle cx="401.1" cy="1299.5" r="3"/><circle cx="407.1" cy="1298.7" r="3"/><circle cx="394.8" cy="1312.0" r="3"/><circle cx="394.0" cy="1297.9" r="3"/><circle cx="410.4" cy="1288.5" r="3"/><circle cx="383.3" cy="1296.5" r="3"/><circle cx="400.9" cy="1289.3" r="3"/><circle cx="329.6" cy="1337.3" r="3"/><circle cx="324.9" cy="1351.2" r="3"/><circle cx="307.6" cy="1353.5" r="3"/><circle cx="297.1" cy="1383.1" r="3"/><circle cx="311.0" cy="1381.3" r="3"/><circle cx="300.5" cy="1388.8" r="3"/><circle cx="286.4" cy="1381.7" r="3"/><circle cx="325.0" cy="1349.6" r="3"/><circle cx="261.8" cy="1389.7" r="3"/><circle cx="277.1" cy="1391.7" r="3"/><circle cx="263.8" cy="1392.3" r="3"/><circle cx="300.7" cy="1374.6" r="3"/><circle cx="387.3" cy="1321.7" r="3"/><circle cx="411.2" cy="1299.8" r="3"/><circle cx="378.9" cy="1323.3" r="3"/><circle cx="429.7" cy="1274.9" r="3"/><circle cx="371.1" cy="1324.7" r="3"/><circle cx="397.7" cy="1302.5" r="3"/><circle cx="394.8" cy="1315.1" r="3"/><circle cx="312.3" cy="1387.5" r="3"/><circle cx="394.5" cy="1314.4" r="3"/><circle cx="435.2" cy="1276.7" r="3"/><circle cx="374.0" cy="1316.6" r="3"/><circle cx="385.3" cy="1305.1" r="3"/><circle cx="356.3" cy="1325.3" r="3"/><circle cx="540.7" cy="1155.7" r="3"/><circle cx="520.2" cy="1176.4" r="3"/><circle cx="526.1" cy="1187.6" r="3"/><circle cx="467.1" cy="1216.4" r="3"/><circle cx="466.9" cy="1219.3" r="3"/><circle cx="477.0" cy="1232.4" r="3"/><circle cx="466.0" cy="1235.4" r="3"/><circle cx="448.1" cy="1236.7" r="3"/><circle cx="480.6" cy="1244.5" r="3"/><circle cx="474.5" cy="1249.4" r="3"/><circle cx="468.6" cy="1243.2" r="3"/><circle cx="458.7" cy="1248.2" r="3"/><circle cx="449.6" cy="1249.8" r="3"/><circle cx="432.6" cy="1254.8" r="3"/><circle cx="463.6" cy="1260.9" r="3"/><circle cx="465.6" cy="1269.2" r="3"/><circle cx="453.1" cy="1270.5" r="3"/><circle cx="443.6" cy="1293.4" r="3"/><circle cx="446.2" cy="1298.2" r="3"/><circle cx="436.7" cy="1297.6" r="3"/><circle cx="379.4" cy="1293.9" r="3"/><circle cx="380.7" cy="1300.0" r="3"/>
</g>
<path d="M95.3 1543.1L550 1185.9" stroke="#fff" stroke-width="5.6" fill="none"/>
<path d="M95.3 1543.1L550 1185.9" stroke="#000" stroke-width="3.6" fill="none"/>
</g>
<text transform="translate(437.66 1504.95) scale(0.9805 1)" font-size="27.3">= 0.991</text>
<text transform="translate(420.99 1492.35) scale(1.0365 1)" font-size="17.6">2</text>
<text transform="translate(403.79 1504.95) scale(0.7493 1)" font-size="27.3" font-style="italic">R</text>
<text transform="translate(304.51 1533.95) scale(0.9568 1)" font-size="27.3">RMSE = 2.810 GW</text>
<g stroke="#111" stroke-width="1.3" fill="none">
<rect x="707.4" y="1147.7" width="946.3" height="410.9"/>
<path d="M707.4 1490.12h8.8M707.4 1421.63h8.8M707.4 1353.15h8.8M707.4 1284.67h8.8M707.4 1216.18h8.8" stroke="#333" stroke-width="1.2"/>
</g>
<g stroke="#333" stroke-width="1">
<rect x="739" y="1198.7" width="71.7" height="359.9" fill="#d9001b"/>
<rect x="874.3" y="1316.5" width="71.6" height="242.1" fill="#ff8a30"/>
<rect x="1009.7" y="1350.7" width="71.5" height="207.9" fill="#ffcc00"/>
<rect x="1144.4" y="1374.7" width="71.5" height="183.9" fill="#7fd487"/>
<rect x="1279.4" y="1391.2" width="72" height="167.4" fill="#0eaedc"/>
<rect x="1414.5" y="1446.9" width="72.1" height="111.7" fill="#3548e0"/>
<rect x="1549.3" y="1464.9" width="72.4" height="93.7" fill="#5f2389"/>
</g>
<path d="M810.7 1198.5H909V1311.8M945.9 1316.3H1044.9V1346M1081.2 1350.3H1181.1V1370M1215.9 1374.6H1315.3V1386.5M1351.4 1390.6H1452V1442.2M1486.6 1446.7H1585.6V1460.3" stroke="#44546a" stroke-width="1.5" fill="none" stroke-linejoin="miter"/>
<path d="M909 1315.8l-3.6 -8.6l3.6 2.3l3.6 -2.3zM1044.9 1350l-3.6 -8.6l3.6 2.3l3.6 -2.3zM1181.1 1374l-3.6 -8.6l3.6 2.3l3.6 -2.3zM1315.3 1390.5l-3.6 -8.6l3.6 2.3l3.6 -2.3zM1452 1446.2l-3.6 -8.6l3.6 2.3l3.6 -2.3zM1585.6 1464.3l-3.6 -8.6l3.6 2.3l3.6 -2.3z" fill="#44546a"/>
<text transform="translate(679.36 1565.1) scale(1.2357 1)" font-size="23">0</text>
<text transform="translate(681.24 1496.62) scale(1.0989 1)" font-size="23">2</text>
<text transform="translate(680.66 1428.13) scale(1.1043 1)" font-size="23">4</text>
<text transform="translate(680.36 1359.65) scale(1.1626 1)" font-size="23">6</text>
<text transform="translate(680.52 1291.17) scale(1.1378 1)" font-size="23">8</text>
<text transform="translate(669.7 1222.68) scale(0.9826 1)" font-size="23">10</text>
<text transform="translate(671.94 1154.2) scale(0.9049 1)" font-size="23">12</text>
<text transform="translate(1665.86 1566.2) scale(1.2357 1)" font-size="23">0</text>
<text transform="translate(1665.82 1468) scale(1.0225 1)" font-size="23">2</text>
<text transform="translate(1666.38 1370.1) scale(1.0696 1)" font-size="23">4</text>
<text transform="translate(1665.66 1272.2) scale(1.1626 1)" font-size="23">6</text>
<text transform="translate(1665.82 1174) scale(1.1378 1)" font-size="23">8</text>
<text transform="translate(768.36 1589.8) scale(0.9122 1)" font-size="23">a</text>
<text transform="translate(902.25 1589.8) scale(1.1691 1)" font-size="23">b</text>
<text transform="translate(1038.45 1589.8) scale(1.1122 1)" font-size="23">c</text>
<text transform="translate(1172.52 1589.8) scale(1.1691 1)" font-size="23">d</text>
<text transform="translate(1308.15 1589.8) scale(1.1127 1)" font-size="23">e</text>
<text transform="translate(1446.37 1589.8) scale(1.2469 1)" font-size="23">f</text>
<text transform="translate(1577.97 1589.8) scale(1.2271 1)" font-size="23">g</text>
<text transform="translate(663.95 1637.6) scale(1.0325 1)" font-size="27.3">Basic HDD model</text>
<text transform="translate(1497.23 1630.6) scale(1.0394 1)" font-size="27.3">Demand.ninja</text>
<text transform="translate(644.6 1401.37) rotate(-90) scale(0.9472 1)" font-size="27.3">RMSE (GW)</text>
<text transform="translate(1707.8 1166.74) rotate(90) scale(0.9904 1)" font-size="27.3">NRMSE (cf. peak demand) (%)</text>
<text transform="translate(815.65 1168.2) scale(1.0742 1)" font-size="23.3">Gridded</text>
<text transform="translate(793.33 1191.3) scale(1.0685 1)" font-size="23.3">temperature</text>
<text transform="translate(931.57 1280.6) scale(1.0836 1)" font-size="23.3">Temporal</text>
<text transform="translate(924.24 1303.1) scale(1.0863 1)" font-size="23.3">smoothing</text>
<text transform="translate(1069.57 1320) scale(1.0758 1)" font-size="23.3">Wind chill</text>
<text transform="translate(1091.17 1343.1) scale(1.0824 1)" font-size="23.3">effect</text>
<text transform="translate(1194.79 1343.1) scale(1.0772 1)" font-size="23.3">Humidity</text>
<text transform="translate(1213.27 1366) scale(1.0824 1)" font-size="23.3">effect</text>
<text transform="translate(1335.12 1359.5) scale(1.0285 1)" font-size="23.3">Solar gains</text>
<text transform="translate(1363.96 1382.4) scale(1.0861 1)" font-size="23.3">effect</text>
<text transform="translate(1463.11 1390.4) scale(1.0666 1)" font-size="23.3">Building and</text>
<text transform="translate(1480.1 1413.6) scale(1.0746 1)" font-size="23.3">occupant</text>
<text transform="translate(1485.21 1436.5) scale(1.0632 1)" font-size="23.3">diversity</text>
<text transform="translate(606.63 1150.1) scale(1.1349 1)" font-size="38" font-weight="700" stroke="#000" stroke-width="0.9">h</text>
</svg>
</body></html>
